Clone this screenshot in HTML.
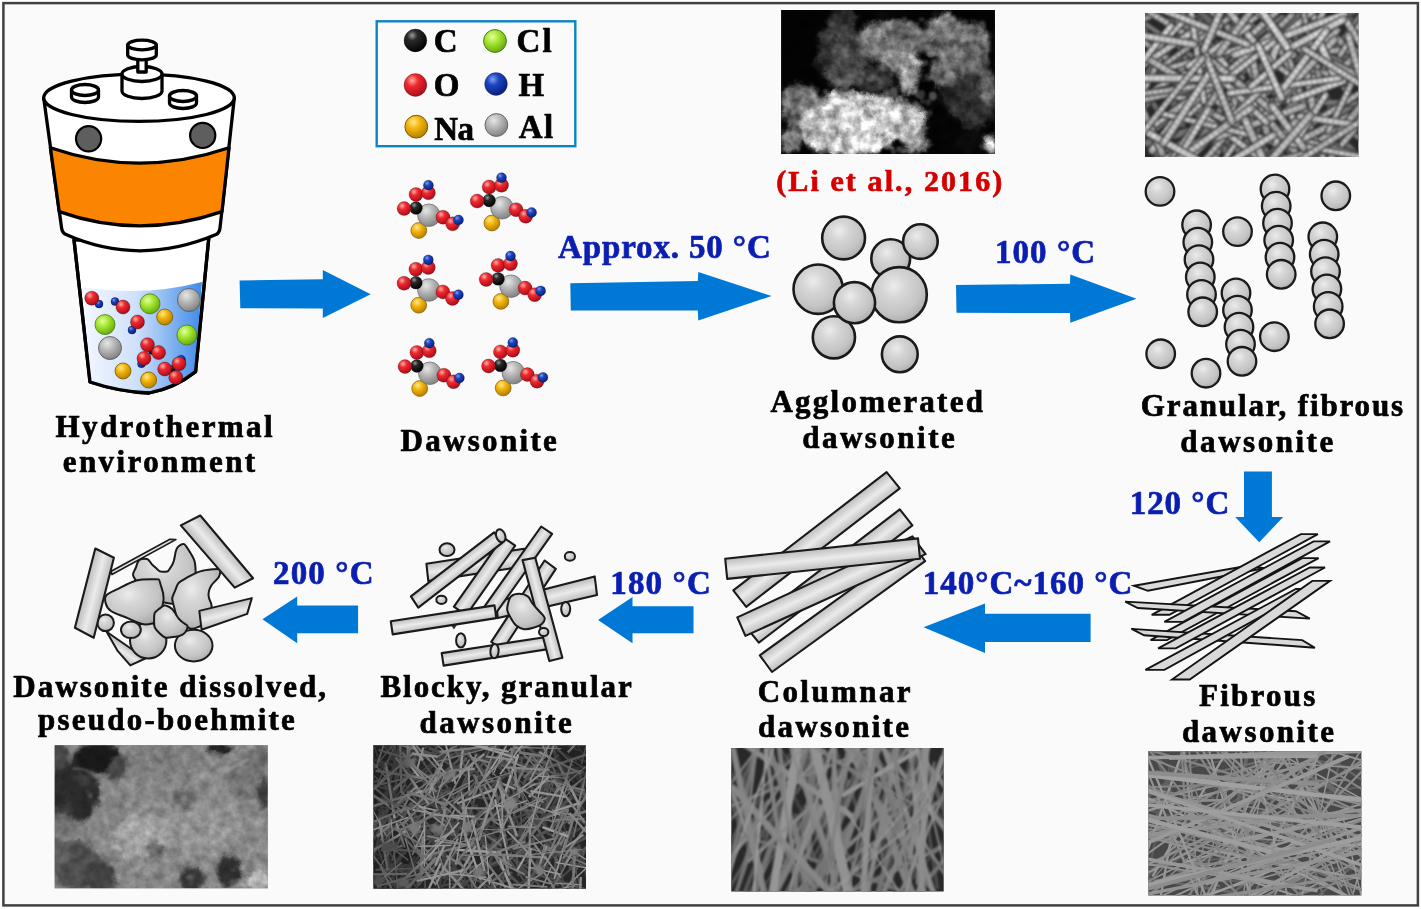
<!DOCTYPE html>
<html><head><meta charset="utf-8"><title>Dawsonite evolution</title>
<style>html,body{margin:0;padding:0;background:#ffffff;}svg{display:block;}</style></head>
<body>
<svg width="1421" height="909" viewBox="0 0 1421 909">

<defs>
<radialGradient id="gSph" cx="0.40" cy="0.34" r="0.72">
<stop offset="0" stop-color="#ececec"/><stop offset="0.3" stop-color="#d6d6d6"/><stop offset="0.7" stop-color="#c4c4c4"/><stop offset="1" stop-color="#a8a8a8"/></radialGradient>
<radialGradient id="bRed" cx="0.36" cy="0.30" r="0.75">
<stop offset="0" stop-color="#ffb0a8"/><stop offset="0.35" stop-color="#ee2a30"/><stop offset="1" stop-color="#a80818"/></radialGradient>
<radialGradient id="bBlue" cx="0.36" cy="0.30" r="0.75">
<stop offset="0" stop-color="#7fa0f0"/><stop offset="0.35" stop-color="#1c45c0"/><stop offset="1" stop-color="#061c78"/></radialGradient>
<radialGradient id="bBlack" cx="0.36" cy="0.28" r="0.75">
<stop offset="0" stop-color="#9a9a9a"/><stop offset="0.3" stop-color="#2a2a2a"/><stop offset="1" stop-color="#000000"/></radialGradient>
<radialGradient id="bGreen" cx="0.38" cy="0.32" r="0.75">
<stop offset="0" stop-color="#e4ff9a"/><stop offset="0.45" stop-color="#9ee22a"/><stop offset="1" stop-color="#5ea010"/></radialGradient>
<radialGradient id="bYel" cx="0.38" cy="0.30" r="0.75">
<stop offset="0" stop-color="#ffe890"/><stop offset="0.4" stop-color="#f2b408"/><stop offset="1" stop-color="#b07a00"/></radialGradient>
<radialGradient id="bGrey" cx="0.38" cy="0.30" r="0.75">
<stop offset="0" stop-color="#e6e6e6"/><stop offset="0.45" stop-color="#b4b4b4"/><stop offset="1" stop-color="#7c7c7c"/></radialGradient>
<linearGradient id="gRod" x1="0" y1="0" x2="0" y2="1">
<stop offset="0" stop-color="#bcbcbc"/><stop offset="0.5" stop-color="#e9e9e9"/><stop offset="1" stop-color="#bcbcbc"/></linearGradient>
<linearGradient id="gLiq" x1="0" y1="0" x2="1" y2="0">
<stop offset="0" stop-color="#f4f8ff"/><stop offset="0.45" stop-color="#cfe0fb"/><stop offset="1" stop-color="#3f8be8"/></linearGradient>
<filter id="blur1" color-interpolation-filters="sRGB" x="-10%" y="-10%" width="120%" height="120%"><feGaussianBlur stdDeviation="1" color-interpolation-filters="sRGB"/></filter>
<filter id="blur2" color-interpolation-filters="sRGB" x="-20%" y="-20%" width="140%" height="140%"><feGaussianBlur stdDeviation="2.2"/></filter>
<filter id="blur4" color-interpolation-filters="sRGB" x="-30%" y="-30%" width="160%" height="160%"><feGaussianBlur stdDeviation="4"/></filter>
<filter id="soft" color-interpolation-filters="sRGB" x="-2%" y="-2%" width="104%" height="104%"><feGaussianBlur stdDeviation="0.6"/></filter>
</defs>

<rect x="0" y="0" width="1421" height="909" fill="#ffffff"/>
<rect x="3.4" y="3.1" width="1414.5" height="902.3" fill="#fafafa" stroke="#424040" stroke-width="2.5"/>
<g font-family="'Liberation Serif', serif" font-weight="bold" filter="url(#soft)">
<text x="55.57" y="437.1" font-size="31" fill="#000" stroke="#000" stroke-width="0.7" stroke-linejoin="round" textLength="216.96" lengthAdjust="spacing">Hydrothermal</text>
<text x="62.74" y="472.3" font-size="31" fill="#000" stroke="#000" stroke-width="0.7" stroke-linejoin="round" textLength="192.40" lengthAdjust="spacing">environment</text>
<text x="400.46" y="450.7" font-size="31" fill="#000" stroke="#000" stroke-width="0.7" stroke-linejoin="round" textLength="156.35" lengthAdjust="spacing">Dawsonite</text>
<text x="770.40" y="412.0" font-size="31" fill="#000" stroke="#000" stroke-width="0.7" stroke-linejoin="round" textLength="212.55" lengthAdjust="spacing">Agglomerated</text>
<text x="802.24" y="448.3" font-size="31" fill="#000" stroke="#000" stroke-width="0.7" stroke-linejoin="round" textLength="152.46" lengthAdjust="spacing">dawsonite</text>
<text x="1140.79" y="415.9" font-size="31" fill="#000" stroke="#000" stroke-width="0.7" stroke-linejoin="round" textLength="262.27" lengthAdjust="spacing">Granular, fibrous</text>
<text x="1180.34" y="451.7" font-size="31" fill="#000" stroke="#000" stroke-width="0.7" stroke-linejoin="round" textLength="152.86" lengthAdjust="spacing">dawsonite</text>
<text x="1199.07" y="705.8" font-size="31" fill="#000" stroke="#000" stroke-width="0.7" stroke-linejoin="round" textLength="116.29" lengthAdjust="spacing">Fibrous</text>
<text x="1181.94" y="741.6" font-size="31" fill="#000" stroke="#000" stroke-width="0.7" stroke-linejoin="round" textLength="152.16" lengthAdjust="spacing">dawsonite</text>
<text x="757.69" y="702.3" font-size="31" fill="#000" stroke="#000" stroke-width="0.7" stroke-linejoin="round" textLength="152.88" lengthAdjust="spacing">Columnar</text>
<text x="757.94" y="737.0" font-size="31" fill="#000" stroke="#000" stroke-width="0.7" stroke-linejoin="round" textLength="151.06" lengthAdjust="spacing">dawsonite</text>
<text x="380.49" y="697.0" font-size="31" fill="#000" stroke="#000" stroke-width="0.7" stroke-linejoin="round" textLength="251.18" lengthAdjust="spacing">Blocky, granular</text>
<text x="419.44" y="732.5" font-size="31" fill="#000" stroke="#000" stroke-width="0.7" stroke-linejoin="round" textLength="152.36" lengthAdjust="spacing">dawsonite</text>
<text x="13.36" y="697.0" font-size="31" fill="#000" stroke="#000" stroke-width="0.7" stroke-linejoin="round" textLength="312.73" lengthAdjust="spacing">Dawsonite dissolved,</text>
<text x="38.11" y="730.0" font-size="31" fill="#000" stroke="#000" stroke-width="0.7" stroke-linejoin="round" textLength="256.70" lengthAdjust="spacing">pseudo-boehmite</text>
<text x="776.18" y="191.0" font-size="30" fill="#d40000" stroke="#d40000" stroke-width="0.7" stroke-linejoin="round" textLength="226.14" lengthAdjust="spacing">(Li et al., 2016)</text>
<text x="558.08" y="258.0" font-size="33" fill="#0a1eb2" stroke="#0a1eb2" stroke-width="0.7" stroke-linejoin="round" textLength="212.64" lengthAdjust="spacing">Approx. 50 °C</text>
<text x="994.96" y="262.9" font-size="33" fill="#0a1eb2" stroke="#0a1eb2" stroke-width="0.7" stroke-linejoin="round" textLength="100.06" lengthAdjust="spacing">100 °C</text>
<text x="1129.66" y="513.6" font-size="33" fill="#0a1eb2" stroke="#0a1eb2" stroke-width="0.7" stroke-linejoin="round" textLength="99.66" lengthAdjust="spacing">120 °C</text>
<text x="922.66" y="593.9" font-size="33" fill="#0a1eb2" stroke="#0a1eb2" stroke-width="0.7" stroke-linejoin="round" textLength="209.66" lengthAdjust="spacing">140°C~160 °C</text>
<text x="610.26" y="594.0" font-size="33" fill="#0a1eb2" stroke="#0a1eb2" stroke-width="0.7" stroke-linejoin="round" textLength="100.46" lengthAdjust="spacing">180 °C</text>
<text x="273.01" y="583.6" font-size="33" fill="#0a1eb2" stroke="#0a1eb2" stroke-width="0.7" stroke-linejoin="round" textLength="100.50" lengthAdjust="spacing">200 °C</text>
<text x="433.69" y="52.0" font-size="33" fill="#000" stroke="#000" stroke-width="0.7" stroke-linejoin="round" textLength="21.10" lengthAdjust="spacing">C</text>
<text x="516.39" y="52.0" font-size="33" fill="#000" stroke="#000" stroke-width="0.7" stroke-linejoin="round" textLength="35.18" lengthAdjust="spacing">Cl</text>
<text x="433.69" y="96.0" font-size="33" fill="#000" stroke="#000" stroke-width="0.7" stroke-linejoin="round" textLength="23.20" lengthAdjust="spacing">O</text>
<text x="518.44" y="96.0" font-size="33" fill="#000" stroke="#000" stroke-width="0.7" stroke-linejoin="round" textLength="23.00" lengthAdjust="spacing">H</text>
<text x="434.37" y="140.0" font-size="33" fill="#000" stroke="#000" stroke-width="0.7" stroke-linejoin="round" textLength="39.63" lengthAdjust="spacing">Na</text>
<text x="518.68" y="138.0" font-size="33" fill="#000" stroke="#000" stroke-width="0.7" stroke-linejoin="round" textLength="34.39" lengthAdjust="spacing">Al</text>
</g>
<g filter="url(#soft)">
<polygon points="239.6,280.5 322.8,279.3 322.8,270.1 370.7,294.2 322.8,317.9 322.8,308.4 240.3,308.2" fill="#0078d6" />
<polygon points="570.3,283.3 697.8,281.1 698.3,272.0 771.6,296.0 698.3,320.5 697.8,310.4 570.8,310.4" fill="#0078d6" />
<polygon points="956.0,285.0 1070.0,283.8 1070.3,274.4 1136.5,298.8 1070.3,322.7 1070.0,313.1 956.5,312.8" fill="#0078d6" />
<polygon points="1244.0,471.4 1271.9,471.4 1271.9,517.0 1283.2,517.0 1259.2,542.2 1235.2,517.0 1244.0,517.0" fill="#0078d6" />
<polygon points="1090.6,613.7 985.0,613.7 985.0,603.4 923.5,627.3 985.0,652.9 985.0,642.0 1090.6,642.0" fill="#0078d6" />
<polygon points="693.5,606.3 632.5,606.3 632.5,597.0 598.0,620.0 632.5,643.2 632.5,633.3 693.5,633.3" fill="#0078d6" />
<polygon points="358.1,605.6 297.2,605.6 297.2,596.4 262.4,619.2 297.2,643.2 297.2,633.3 358.1,633.3" fill="#0078d6" />
</g>
<rect x="376.7" y="21.3" width="198.6" height="124.9" fill="none" stroke="#0a84c4" stroke-width="2.4"/>
<circle cx="415.4" cy="40.5" r="11.4" fill="url(#bBlack)" stroke="#00000055" stroke-width="0.7"/>
<circle cx="495.0" cy="41.0" r="11.4" fill="url(#bGreen)" stroke="#4a7a10" stroke-width="1"/>
<circle cx="415.4" cy="85.0" r="11.4" fill="url(#bRed)" stroke="#00000055" stroke-width="0.7"/>
<circle cx="496.0" cy="84.0" r="11.4" fill="url(#bBlue)" stroke="#00000055" stroke-width="0.7"/>
<circle cx="416.3" cy="126.7" r="11.4" fill="url(#bYel)" stroke="#7a5a00" stroke-width="1"/>
<circle cx="496.4" cy="125.0" r="11.4" fill="url(#bGrey)" stroke="#666" stroke-width="1"/>
<g stroke="#000" stroke-width="3.3" stroke-linejoin="round" stroke-linecap="round" filter="url(#soft)">
<path d="M74,240 L90,382 Q120,392 149,393 Q175,388 195.6,371.6 L208.8,238 Z" fill="#ffffff"/>
<path d="M82.6,287 Q144,297 202,282 L195,371 Q175,387 149,391.5 Q120,391 90.8,381 Z" fill="url(#gLiq)" stroke="none"/>
<path d="M74,240 L90,382 Q120,392 149,393 Q175,388 195.6,371.6 L208.8,238" fill="none"/>
<path d="M43.7,98 L61.6,228 Q62.2,233 66,234.6 Q139,267 216,234.6 Q219.4,233 220,228 L234.3,98 Z" fill="#ffffff"/>
<path d="M50.4,147.8 Q139,178.4 229,147.8 L222,211.6 Q139,240 59.2,211.6 Z" fill="#fb8400"/>
<ellipse cx="139" cy="97.8" rx="95.3" ry="23.6" fill="#ffffff"/>
<circle cx="88.6" cy="138.8" r="12.6" fill="#5e5e5e" stroke-width="2.2"/>
<circle cx="202.7" cy="135.4" r="12.6" fill="#5e5e5e" stroke-width="2.2"/>
<path d="M71.5,90 L71.5,97 A13.5,5.5 0 0 0 98.5,97 L98.5,90 Z" fill="#fff"/>
<ellipse cx="85" cy="90" rx="13.5" ry="5.5" fill="#fff"/>
<path d="M169.5,96 L169.5,103 A13.5,5.5 0 0 0 196.5,103 L196.5,96 Z" fill="#fff"/>
<ellipse cx="183" cy="96" rx="13.5" ry="5.5" fill="#fff"/>
<path d="M122,74 L122,91 A20,7.5 0 0 0 162,91 L162,74 Z" fill="#fff"/>
<ellipse cx="142" cy="74" rx="20" ry="7.5" fill="#fff"/>
<path d="M137.8,54 L137.8,72 L146.2,72 L146.2,54 Z" fill="#fff"/>
<path d="M127.7,45 L127.7,55 A14.3,4.8 0 0 0 156.3,55 L156.3,45 Z" fill="#fff"/>
<ellipse cx="142" cy="45" rx="14.3" ry="4.8" fill="#fff"/>
</g>
<g filter="url(#soft)">
<circle cx="99.0" cy="304.0" r="4.0" fill="url(#bBlue)" stroke="#00000066" stroke-width="0.8"/>
<circle cx="91.8" cy="298.2" r="7.0" fill="url(#bRed)" stroke="#00000066" stroke-width="0.8"/>
<circle cx="115.0" cy="301.6" r="4.0" fill="url(#bBlue)" stroke="#00000066" stroke-width="0.8"/>
<circle cx="123.0" cy="307.0" r="7.0" fill="url(#bRed)" stroke="#00000066" stroke-width="0.8"/>
<circle cx="150.0" cy="303.8" r="10.0" fill="url(#bGreen)" stroke="#4a7a10" stroke-width="0.8"/>
<circle cx="189.0" cy="300.0" r="11.5" fill="url(#bGrey)" stroke="#555" stroke-width="0.8"/>
<circle cx="105.0" cy="324.6" r="10.0" fill="url(#bGreen)" stroke="#4a7a10" stroke-width="0.8"/>
<circle cx="132.0" cy="330.0" r="4.0" fill="url(#bBlue)" stroke="#00000066" stroke-width="0.8"/>
<circle cx="137.5" cy="322.0" r="7.0" fill="url(#bRed)" stroke="#00000066" stroke-width="0.8"/>
<circle cx="164.7" cy="317.0" r="8.0" fill="url(#bYel)" stroke="#7a5a00" stroke-width="0.8"/>
<circle cx="186.9" cy="335.0" r="10.0" fill="url(#bGreen)" stroke="#4a7a10" stroke-width="0.8"/>
<circle cx="110.0" cy="348.0" r="11.5" fill="url(#bGrey)" stroke="#555" stroke-width="0.8"/>
<circle cx="141.5" cy="363.7" r="4.0" fill="url(#bBlue)" stroke="#00000066" stroke-width="0.8"/>
<circle cx="152.0" cy="351.0" r="3.5" fill="url(#bBlack)" stroke="#00000066" stroke-width="0.8"/>
<circle cx="147.5" cy="344.7" r="7.0" fill="url(#bRed)" stroke="#00000066" stroke-width="0.8"/>
<circle cx="158.6" cy="352.6" r="7.0" fill="url(#bRed)" stroke="#00000066" stroke-width="0.8"/>
<circle cx="144.0" cy="358.4" r="7.0" fill="url(#bRed)" stroke="#00000066" stroke-width="0.8"/>
<circle cx="181.0" cy="359.7" r="4.5" fill="url(#bBlue)" stroke="#00000066" stroke-width="0.8"/>
<circle cx="172.0" cy="369.0" r="3.5" fill="url(#bBlack)" stroke="#00000066" stroke-width="0.8"/>
<circle cx="179.0" cy="363.7" r="7.0" fill="url(#bRed)" stroke="#00000066" stroke-width="0.8"/>
<circle cx="164.7" cy="369.0" r="7.0" fill="url(#bRed)" stroke="#00000066" stroke-width="0.8"/>
<circle cx="175.8" cy="377.4" r="7.0" fill="url(#bRed)" stroke="#00000066" stroke-width="0.8"/>
<circle cx="123.0" cy="371.0" r="8.0" fill="url(#bYel)" stroke="#7a5a00" stroke-width="0.8"/>
<circle cx="148.6" cy="380.0" r="8.0" fill="url(#bYel)" stroke="#7a5a00" stroke-width="0.8"/>
</g>
<g filter="url(#soft)">
<circle cx="418.8" cy="230.5" r="7.9" fill="url(#bYel)" stroke="#7a5a00" stroke-width="0.7"/>
<circle cx="428.9" cy="215.3" r="11.3" fill="url(#bGrey)" stroke="#6a6a6a" stroke-width="0.7"/>
<circle cx="416.0" cy="208.0" r="6.4" fill="url(#bBlack)" stroke="#00000055" stroke-width="0.7"/>
<circle cx="404.1" cy="208.6" r="7.0" fill="url(#bRed)" stroke="#00000055" stroke-width="0.7"/>
<circle cx="416.0" cy="194.5" r="7.0" fill="url(#bRed)" stroke="#00000055" stroke-width="0.7"/>
<circle cx="428.4" cy="192.8" r="7.0" fill="url(#bRed)" stroke="#00000055" stroke-width="0.7"/>
<circle cx="428.4" cy="185.2" r="5.0" fill="url(#bBlue)" stroke="#00000055" stroke-width="0.7"/>
<circle cx="443.0" cy="217.2" r="7.0" fill="url(#bRed)" stroke="#00000055" stroke-width="0.7"/>
<circle cx="452.6" cy="223.8" r="7.0" fill="url(#bRed)" stroke="#00000055" stroke-width="0.7"/>
<circle cx="458.5" cy="220.0" r="5.0" fill="url(#bBlue)" stroke="#00000055" stroke-width="0.7"/>
<circle cx="491.9" cy="223.0" r="7.9" fill="url(#bYel)" stroke="#7a5a00" stroke-width="0.7"/>
<circle cx="502.0" cy="207.8" r="11.3" fill="url(#bGrey)" stroke="#6a6a6a" stroke-width="0.7"/>
<circle cx="489.1" cy="200.5" r="6.4" fill="url(#bBlack)" stroke="#00000055" stroke-width="0.7"/>
<circle cx="477.2" cy="201.1" r="7.0" fill="url(#bRed)" stroke="#00000055" stroke-width="0.7"/>
<circle cx="489.1" cy="187.0" r="7.0" fill="url(#bRed)" stroke="#00000055" stroke-width="0.7"/>
<circle cx="501.5" cy="185.3" r="7.0" fill="url(#bRed)" stroke="#00000055" stroke-width="0.7"/>
<circle cx="501.5" cy="177.7" r="5.0" fill="url(#bBlue)" stroke="#00000055" stroke-width="0.7"/>
<circle cx="516.1" cy="209.7" r="7.0" fill="url(#bRed)" stroke="#00000055" stroke-width="0.7"/>
<circle cx="525.7" cy="216.3" r="7.0" fill="url(#bRed)" stroke="#00000055" stroke-width="0.7"/>
<circle cx="531.6" cy="212.5" r="5.0" fill="url(#bBlue)" stroke="#00000055" stroke-width="0.7"/>
<circle cx="418.7" cy="305.2" r="7.9" fill="url(#bYel)" stroke="#7a5a00" stroke-width="0.7"/>
<circle cx="428.8" cy="290.0" r="11.3" fill="url(#bGrey)" stroke="#6a6a6a" stroke-width="0.7"/>
<circle cx="415.9" cy="282.7" r="6.4" fill="url(#bBlack)" stroke="#00000055" stroke-width="0.7"/>
<circle cx="404.0" cy="283.3" r="7.0" fill="url(#bRed)" stroke="#00000055" stroke-width="0.7"/>
<circle cx="415.9" cy="269.2" r="7.0" fill="url(#bRed)" stroke="#00000055" stroke-width="0.7"/>
<circle cx="428.3" cy="267.5" r="7.0" fill="url(#bRed)" stroke="#00000055" stroke-width="0.7"/>
<circle cx="428.3" cy="259.9" r="5.0" fill="url(#bBlue)" stroke="#00000055" stroke-width="0.7"/>
<circle cx="442.9" cy="291.9" r="7.0" fill="url(#bRed)" stroke="#00000055" stroke-width="0.7"/>
<circle cx="452.5" cy="298.5" r="7.0" fill="url(#bRed)" stroke="#00000055" stroke-width="0.7"/>
<circle cx="458.4" cy="294.7" r="5.0" fill="url(#bBlue)" stroke="#00000055" stroke-width="0.7"/>
<circle cx="500.9" cy="301.4" r="7.9" fill="url(#bYel)" stroke="#7a5a00" stroke-width="0.7"/>
<circle cx="511.0" cy="286.2" r="11.3" fill="url(#bGrey)" stroke="#6a6a6a" stroke-width="0.7"/>
<circle cx="498.1" cy="278.9" r="6.4" fill="url(#bBlack)" stroke="#00000055" stroke-width="0.7"/>
<circle cx="486.2" cy="279.5" r="7.0" fill="url(#bRed)" stroke="#00000055" stroke-width="0.7"/>
<circle cx="498.1" cy="265.4" r="7.0" fill="url(#bRed)" stroke="#00000055" stroke-width="0.7"/>
<circle cx="510.5" cy="263.7" r="7.0" fill="url(#bRed)" stroke="#00000055" stroke-width="0.7"/>
<circle cx="510.5" cy="256.1" r="5.0" fill="url(#bBlue)" stroke="#00000055" stroke-width="0.7"/>
<circle cx="525.1" cy="288.1" r="7.0" fill="url(#bRed)" stroke="#00000055" stroke-width="0.7"/>
<circle cx="534.7" cy="294.7" r="7.0" fill="url(#bRed)" stroke="#00000055" stroke-width="0.7"/>
<circle cx="540.6" cy="290.9" r="5.0" fill="url(#bBlue)" stroke="#00000055" stroke-width="0.7"/>
<circle cx="419.7" cy="388.5" r="7.9" fill="url(#bYel)" stroke="#7a5a00" stroke-width="0.7"/>
<circle cx="429.8" cy="373.3" r="11.3" fill="url(#bGrey)" stroke="#6a6a6a" stroke-width="0.7"/>
<circle cx="416.9" cy="366.0" r="6.4" fill="url(#bBlack)" stroke="#00000055" stroke-width="0.7"/>
<circle cx="405.0" cy="366.6" r="7.0" fill="url(#bRed)" stroke="#00000055" stroke-width="0.7"/>
<circle cx="416.9" cy="352.5" r="7.0" fill="url(#bRed)" stroke="#00000055" stroke-width="0.7"/>
<circle cx="429.3" cy="350.8" r="7.0" fill="url(#bRed)" stroke="#00000055" stroke-width="0.7"/>
<circle cx="429.3" cy="343.2" r="5.0" fill="url(#bBlue)" stroke="#00000055" stroke-width="0.7"/>
<circle cx="443.9" cy="375.2" r="7.0" fill="url(#bRed)" stroke="#00000055" stroke-width="0.7"/>
<circle cx="453.5" cy="381.8" r="7.0" fill="url(#bRed)" stroke="#00000055" stroke-width="0.7"/>
<circle cx="459.4" cy="378.0" r="5.0" fill="url(#bBlue)" stroke="#00000055" stroke-width="0.7"/>
<circle cx="503.2" cy="387.9" r="7.9" fill="url(#bYel)" stroke="#7a5a00" stroke-width="0.7"/>
<circle cx="513.3" cy="372.7" r="11.3" fill="url(#bGrey)" stroke="#6a6a6a" stroke-width="0.7"/>
<circle cx="500.4" cy="365.4" r="6.4" fill="url(#bBlack)" stroke="#00000055" stroke-width="0.7"/>
<circle cx="488.5" cy="366.0" r="7.0" fill="url(#bRed)" stroke="#00000055" stroke-width="0.7"/>
<circle cx="500.4" cy="351.9" r="7.0" fill="url(#bRed)" stroke="#00000055" stroke-width="0.7"/>
<circle cx="512.8" cy="350.2" r="7.0" fill="url(#bRed)" stroke="#00000055" stroke-width="0.7"/>
<circle cx="512.8" cy="342.6" r="5.0" fill="url(#bBlue)" stroke="#00000055" stroke-width="0.7"/>
<circle cx="527.4" cy="374.6" r="7.0" fill="url(#bRed)" stroke="#00000055" stroke-width="0.7"/>
<circle cx="537.0" cy="381.2" r="7.0" fill="url(#bRed)" stroke="#00000055" stroke-width="0.7"/>
<circle cx="542.9" cy="377.4" r="5.0" fill="url(#bBlue)" stroke="#00000055" stroke-width="0.7"/>
</g>
<g filter="url(#soft)">
<circle cx="890.7" cy="258.7" r="19.4" fill="url(#gSph)" stroke="#1a1a1a" stroke-width="2.6"/>
<circle cx="920.4" cy="241.6" r="17.3" fill="url(#gSph)" stroke="#1a1a1a" stroke-width="2.6"/>
<circle cx="843.6" cy="238.0" r="21.4" fill="url(#gSph)" stroke="#1a1a1a" stroke-width="2.6"/>
<circle cx="818.2" cy="289.2" r="24.7" fill="url(#gSph)" stroke="#1a1a1a" stroke-width="2.6"/>
<circle cx="833.9" cy="337.3" r="21.1" fill="url(#gSph)" stroke="#1a1a1a" stroke-width="2.6"/>
<circle cx="899.2" cy="294.7" r="27.6" fill="url(#gSph)" stroke="#1a1a1a" stroke-width="2.6"/>
<circle cx="854.5" cy="302.7" r="20.6" fill="url(#gSph)" stroke="#1a1a1a" stroke-width="2.6"/>
<circle cx="899.8" cy="354.3" r="17.9" fill="url(#gSph)" stroke="#1a1a1a" stroke-width="2.6"/>
<circle cx="1160.0" cy="191.4" r="14.3" fill="url(#gSph)" stroke="#1a1a1a" stroke-width="2.3"/>
<circle cx="1335.8" cy="195.8" r="14.3" fill="url(#gSph)" stroke="#1a1a1a" stroke-width="2.3"/>
<circle cx="1237.5" cy="231.6" r="14.3" fill="url(#gSph)" stroke="#1a1a1a" stroke-width="2.3"/>
<circle cx="1274.4" cy="336.7" r="14.3" fill="url(#gSph)" stroke="#1a1a1a" stroke-width="2.3"/>
<circle cx="1160.7" cy="353.8" r="14.3" fill="url(#gSph)" stroke="#1a1a1a" stroke-width="2.3"/>
<circle cx="1206.0" cy="373.2" r="14.3" fill="url(#gSph)" stroke="#1a1a1a" stroke-width="2.3"/>
<circle cx="1196.6" cy="224.8" r="14.3" fill="url(#gSph)" stroke="#1a1a1a" stroke-width="2.3"/>
<circle cx="1197.8" cy="242.2" r="14.3" fill="url(#gSph)" stroke="#1a1a1a" stroke-width="2.3"/>
<circle cx="1199.0" cy="259.6" r="14.3" fill="url(#gSph)" stroke="#1a1a1a" stroke-width="2.3"/>
<circle cx="1200.3" cy="277.0" r="14.3" fill="url(#gSph)" stroke="#1a1a1a" stroke-width="2.3"/>
<circle cx="1201.5" cy="294.4" r="14.3" fill="url(#gSph)" stroke="#1a1a1a" stroke-width="2.3"/>
<circle cx="1202.7" cy="311.8" r="14.3" fill="url(#gSph)" stroke="#1a1a1a" stroke-width="2.3"/>
<circle cx="1236.0" cy="293.0" r="14.3" fill="url(#gSph)" stroke="#1a1a1a" stroke-width="2.3"/>
<circle cx="1237.5" cy="310.1" r="14.3" fill="url(#gSph)" stroke="#1a1a1a" stroke-width="2.3"/>
<circle cx="1239.0" cy="327.1" r="14.3" fill="url(#gSph)" stroke="#1a1a1a" stroke-width="2.3"/>
<circle cx="1240.5" cy="344.2" r="14.3" fill="url(#gSph)" stroke="#1a1a1a" stroke-width="2.3"/>
<circle cx="1242.0" cy="361.3" r="14.3" fill="url(#gSph)" stroke="#1a1a1a" stroke-width="2.3"/>
<circle cx="1275.0" cy="189.0" r="14.3" fill="url(#gSph)" stroke="#1a1a1a" stroke-width="2.3"/>
<circle cx="1276.2" cy="206.1" r="14.3" fill="url(#gSph)" stroke="#1a1a1a" stroke-width="2.3"/>
<circle cx="1277.5" cy="223.1" r="14.3" fill="url(#gSph)" stroke="#1a1a1a" stroke-width="2.3"/>
<circle cx="1278.7" cy="240.2" r="14.3" fill="url(#gSph)" stroke="#1a1a1a" stroke-width="2.3"/>
<circle cx="1280.0" cy="257.2" r="14.3" fill="url(#gSph)" stroke="#1a1a1a" stroke-width="2.3"/>
<circle cx="1281.2" cy="274.3" r="14.3" fill="url(#gSph)" stroke="#1a1a1a" stroke-width="2.3"/>
<circle cx="1322.8" cy="236.8" r="14.3" fill="url(#gSph)" stroke="#1a1a1a" stroke-width="2.3"/>
<circle cx="1324.2" cy="254.2" r="14.3" fill="url(#gSph)" stroke="#1a1a1a" stroke-width="2.3"/>
<circle cx="1325.5" cy="271.6" r="14.3" fill="url(#gSph)" stroke="#1a1a1a" stroke-width="2.3"/>
<circle cx="1326.9" cy="289.0" r="14.3" fill="url(#gSph)" stroke="#1a1a1a" stroke-width="2.3"/>
<circle cx="1328.2" cy="306.4" r="14.3" fill="url(#gSph)" stroke="#1a1a1a" stroke-width="2.3"/>
<circle cx="1329.6" cy="323.8" r="14.3" fill="url(#gSph)" stroke="#1a1a1a" stroke-width="2.3"/>
</g>
<g filter="url(#soft)">
<polygon points="1134.0,585.7 1247.8,565.7 1264.3,568.2 1147.9,590.8" fill="#d9d9d9" stroke="#141414" stroke-width="1.9" stroke-linejoin="miter"/>
<polygon points="1302.2,558.1 1318.6,558.1 1166.9,640.1 1150.5,640.1" fill="#d9d9d9" stroke="#141414" stroke-width="1.9" stroke-linejoin="miter"/>
<polygon points="1300.9,534.1 1317.9,534.1 1169.4,614.8 1151.7,614.8" fill="#d9d9d9" stroke="#141414" stroke-width="1.9" stroke-linejoin="miter"/>
<polygon points="1125.2,601.6 1295.9,611.2 1309.8,618.6 1137.8,608.0" fill="#d9d9d9" stroke="#141414" stroke-width="1.9" stroke-linejoin="miter"/>
<polygon points="1131.5,628.9 1302.2,640.1 1314.9,647.7 1144.1,635.3" fill="#d9d9d9" stroke="#141414" stroke-width="1.9" stroke-linejoin="miter"/>
<polygon points="1313.6,541.4 1330.0,541.4 1183.3,621.9 1164.4,621.9" fill="#d9d9d9" stroke="#141414" stroke-width="1.9" stroke-linejoin="miter"/>
<polygon points="1309.8,567.5 1325.0,567.5 1175.8,648.4 1158.1,648.4" fill="#d9d9d9" stroke="#141414" stroke-width="1.9" stroke-linejoin="miter"/>
<polygon points="1295.9,589.0 1311.1,589.0 1164.4,669.9 1145.4,669.9" fill="#d9d9d9" stroke="#141414" stroke-width="1.9" stroke-linejoin="miter"/>
<polygon points="1312.3,580.9 1330.0,580.9 1189.7,679.5 1172.0,679.5" fill="#d9d9d9" stroke="#141414" stroke-width="1.9" stroke-linejoin="miter"/>
</g>
<g filter="url(#soft)">
<linearGradient id="rg1" gradientUnits="userSpaceOnUse" x1="823.2" y1="568.0" x2="835.5" y2="584.1"><stop offset="0" stop-color="#bdbdbd"/><stop offset="0.5" stop-color="#ebebeb"/><stop offset="1" stop-color="#bdbdbd"/></linearGradient>
<polygon points="746.2,627.0 899.8,509.3 912.4,525.3 758.8,642.7" fill="url(#rg1)" stroke="#1a1a1a" stroke-width="2.1" stroke-linejoin="round" />
<linearGradient id="rg2" gradientUnits="userSpaceOnUse" x1="836.5" y1="599.9" x2="848.5" y2="616.6"><stop offset="0" stop-color="#bdbdbd"/><stop offset="0.5" stop-color="#ebebeb"/><stop offset="1" stop-color="#bdbdbd"/></linearGradient>
<polygon points="759.8,655.3 913.1,544.5 925.1,561.2 772.0,672.0" fill="url(#rg2)" stroke="#1a1a1a" stroke-width="2.1" stroke-linejoin="round" />
<linearGradient id="rg3" gradientUnits="userSpaceOnUse" x1="825.8" y1="576.5" x2="834.5" y2="595.4"><stop offset="0" stop-color="#bdbdbd"/><stop offset="0.5" stop-color="#ebebeb"/><stop offset="1" stop-color="#bdbdbd"/></linearGradient>
<polygon points="737.3,617.4 912.4,536.4 925.6,554.1 745.4,635.9" fill="url(#rg3)" stroke="#1a1a1a" stroke-width="2.1" stroke-linejoin="round" />
<linearGradient id="rg4" gradientUnits="userSpaceOnUse" x1="810.1" y1="531.1" x2="822.8" y2="547.7"><stop offset="0" stop-color="#bdbdbd"/><stop offset="0.5" stop-color="#ebebeb"/><stop offset="1" stop-color="#bdbdbd"/></linearGradient>
<polygon points="733.3,590.3 886.6,472.1 899.8,488.3 746.2,606.8" fill="url(#rg4)" stroke="#1a1a1a" stroke-width="2.1" stroke-linejoin="round" />
<linearGradient id="rg5" gradientUnits="userSpaceOnUse" x1="821.5" y1="548.6" x2="823.7" y2="568.8"><stop offset="0" stop-color="#bdbdbd"/><stop offset="0.5" stop-color="#ebebeb"/><stop offset="1" stop-color="#bdbdbd"/></linearGradient>
<polygon points="725.2,558.7 918.0,538.4 920.0,558.7 727.2,578.9" fill="url(#rg5)" stroke="#1a1a1a" stroke-width="2.1" stroke-linejoin="round" />
</g>
<g filter="url(#soft)">
<linearGradient id="rg6" gradientUnits="userSpaceOnUse" x1="474.8" y1="556.3" x2="477.5" y2="573.5"><stop offset="0" stop-color="#bdbdbd"/><stop offset="0.5" stop-color="#ebebeb"/><stop offset="1" stop-color="#bdbdbd"/></linearGradient>
<polygon points="426.4,563.7 524.0,548.7 525.9,566.1 428.3,581.1" fill="url(#rg6)" stroke="#1a1a1a" stroke-width="2.1" stroke-linejoin="round" />
<linearGradient id="rg7" gradientUnits="userSpaceOnUse" x1="544.3" y1="589.3" x2="548.5" y2="606.4"><stop offset="0" stop-color="#bdbdbd"/><stop offset="0.5" stop-color="#ebebeb"/><stop offset="1" stop-color="#bdbdbd"/></linearGradient>
<polygon points="496.0,601.7 594.7,576.4 597.0,595.1 497.8,618.1" fill="url(#rg7)" stroke="#1a1a1a" stroke-width="2.1" stroke-linejoin="round" />
<linearGradient id="rg8" gradientUnits="userSpaceOnUse" x1="517.7" y1="601.6" x2="529.4" y2="609.2"><stop offset="0" stop-color="#bdbdbd"/><stop offset="0.5" stop-color="#ebebeb"/><stop offset="1" stop-color="#bdbdbd"/></linearGradient>
<polygon points="491.3,641.9 544.6,560.5 555.8,568.9 502.5,650.3" fill="url(#rg8)" stroke="#1a1a1a" stroke-width="2.1" stroke-linejoin="round" />
<linearGradient id="rg9" gradientUnits="userSpaceOnUse" x1="511.6" y1="568.2" x2="522.4" y2="575.8"><stop offset="0" stop-color="#bdbdbd"/><stop offset="0.5" stop-color="#ebebeb"/><stop offset="1" stop-color="#bdbdbd"/></linearGradient>
<polygon points="481.9,610.1 541.2,526.5 552.1,533.9 492.8,617.6" fill="url(#rg9)" stroke="#1a1a1a" stroke-width="2.1" stroke-linejoin="round" />
<linearGradient id="rg10" gradientUnits="userSpaceOnUse" x1="478.4" y1="571.9" x2="490.7" y2="580.6"><stop offset="0" stop-color="#bdbdbd"/><stop offset="0.5" stop-color="#ebebeb"/><stop offset="1" stop-color="#bdbdbd"/></linearGradient>
<polygon points="453.9,606.7 502.9,537.1 515.2,545.7 466.2,615.3" fill="url(#rg10)" stroke="#1a1a1a" stroke-width="2.1" stroke-linejoin="round" />
<linearGradient id="rg11" gradientUnits="userSpaceOnUse" x1="452.4" y1="564.5" x2="460.5" y2="575.1"><stop offset="0" stop-color="#bdbdbd"/><stop offset="0.5" stop-color="#ebebeb"/><stop offset="1" stop-color="#bdbdbd"/></linearGradient>
<polygon points="410.9,596.4 494.1,532.4 502.5,542.7 418.3,607.6" fill="url(#rg11)" stroke="#1a1a1a" stroke-width="2.1" stroke-linejoin="round" />
<ellipse cx="500.7" cy="535.8" rx="4.5" ry="6.7" transform="rotate(-20 500.7 535.8)" fill="url(#gSph)" stroke="#1a1a1a" stroke-width="2"/>
<linearGradient id="rg12" gradientUnits="userSpaceOnUse" x1="493.1" y1="645.2" x2="495.1" y2="657.5"><stop offset="0" stop-color="#bdbdbd"/><stop offset="0.5" stop-color="#ebebeb"/><stop offset="1" stop-color="#bdbdbd"/></linearGradient>
<polygon points="441.7,653.1 544.6,637.2 546.5,649.4 443.6,665.6" fill="url(#rg12)" stroke="#1a1a1a" stroke-width="2.1" stroke-linejoin="round" />
<ellipse cx="494.5" cy="651.2" rx="4.1" ry="7.1" transform="rotate(5 494.5 651.2)" fill="url(#gSph)" stroke="#1a1a1a" stroke-width="2"/>
<polygon points="450.9,624.9 456.9,624.9 453.9,629.4" fill="#333"/>
<linearGradient id="rg13" gradientUnits="userSpaceOnUse" x1="442.6" y1="613.4" x2="444.6" y2="626.2"><stop offset="0" stop-color="#bdbdbd"/><stop offset="0.5" stop-color="#ebebeb"/><stop offset="1" stop-color="#bdbdbd"/></linearGradient>
<polygon points="390.8,621.3 494.5,605.4 496.3,618.1 392.7,634.4" fill="url(#rg13)" stroke="#1a1a1a" stroke-width="2.1" stroke-linejoin="round" />
<linearGradient id="rg14" gradientUnits="userSpaceOnUse" x1="548.7" y1="607.5" x2="536.0" y2="610.9"><stop offset="0" stop-color="#bdbdbd"/><stop offset="0.5" stop-color="#ebebeb"/><stop offset="1" stop-color="#bdbdbd"/></linearGradient>
<polygon points="522.5,560.1 549.3,661.1 562.4,657.8 535.3,557.7" fill="url(#rg14)" stroke="#1a1a1a" stroke-width="2.1" stroke-linejoin="round" />
<path d="M508.1,603.5 C508.8,601.3 509.1,598.0 510.9,596.4 C512.8,594.8 516.6,593.8 519.4,593.8 C522.2,593.8 525.6,594.8 527.8,596.4 C530.0,598.0 530.6,601.1 532.5,603.5 C534.3,606.0 537.0,608.7 539.0,611.0 C541.0,613.3 544.1,615.4 544.6,617.6 C545.1,619.7 543.7,622.4 541.8,624.1 C539.9,625.8 536.3,627.0 533.4,627.8 C530.4,628.7 527.0,629.6 524.0,629.2 C521.1,628.7 518.0,627.1 515.6,625.0 C513.3,623.0 511.4,619.1 510.0,616.6 C508.6,614.1 507.5,612.3 507.2,610.1 C506.9,607.9 507.5,605.8 508.1,603.5 Z" fill="url(#gSph)" stroke="#1a1a1a" stroke-width="2.0" stroke-linejoin="round"/>
<ellipse cx="447.0" cy="549.7" rx="7.5" ry="6.4" transform="rotate(0 447.0 549.7)" fill="url(#gSph)" stroke="#1a1a1a" stroke-width="2"/>
<ellipse cx="441.4" cy="599.8" rx="5.1" ry="4.1" transform="rotate(0 441.4 599.8)" fill="url(#gSph)" stroke="#1a1a1a" stroke-width="2"/>
<ellipse cx="569.9" cy="556.4" rx="5.1" ry="4.3" transform="rotate(0 569.9 556.4)" fill="url(#gSph)" stroke="#1a1a1a" stroke-width="2"/>
<ellipse cx="565.7" cy="609.1" rx="4.5" ry="7.1" transform="rotate(0 565.7 609.1)" fill="url(#gSph)" stroke="#1a1a1a" stroke-width="2"/>
<ellipse cx="460.8" cy="640.4" rx="4.7" ry="7.1" transform="rotate(0 460.8 640.4)" fill="url(#gSph)" stroke="#1a1a1a" stroke-width="2"/>
<ellipse cx="543.7" cy="632.0" rx="4.7" ry="4.1" transform="rotate(0 543.7 632.0)" fill="url(#gSph)" stroke="#1a1a1a" stroke-width="2"/>
</g>
<g filter="url(#soft)">
<path d="M138.2,583.2 C129.0,572.2 134.2,573.7 136.3,566.4 C138.3,559.1 139.8,558.8 145.2,558.8 C150.5,558.8 148.7,562.5 154.1,566.4 C159.4,570.2 157.7,572.0 163.0,571.7 C168.4,571.4 167.2,573.1 171.9,565.4 C176.7,557.6 173.5,550.0 178.9,546.0 C184.2,541.9 184.7,543.7 189.8,551.9 C194.8,560.1 195.4,560.9 195.7,573.3 C196.0,585.7 199.4,584.2 190.7,593.1 C182.1,602.0 182.7,606.0 167.0,603.0 C151.2,600.0 147.5,594.2 138.2,583.2 Z" fill="url(#gSph)" stroke="#1a1a1a" stroke-width="2.0" stroke-linejoin="round"/>
<linearGradient id="rg15" gradientUnits="userSpaceOnUse" x1="128.2" y1="646.7" x2="120.2" y2="658.4"><stop offset="0" stop-color="#bdbdbd"/><stop offset="0.5" stop-color="#ebebeb"/><stop offset="1" stop-color="#bdbdbd"/></linearGradient>
<polygon points="106.6,631.7 145.2,658.5 130.3,665.4 117.4,650.6" fill="url(#rg15)" stroke="#1a1a1a" stroke-width="2.0" stroke-linejoin="round"/>
<ellipse cx="148.2" cy="640.6" rx="18.2" ry="17.8" transform="rotate(0 148.2 640.6)" fill="url(#gSph)" stroke="#1a1a1a" stroke-width="2"/>
<linearGradient id="rg16" gradientUnits="userSpaceOnUse" x1="143.0" y1="557.6" x2="141.4" y2="554.8"><stop offset="0" stop-color="#bdbdbd"/><stop offset="0.5" stop-color="#ebebeb"/><stop offset="1" stop-color="#bdbdbd"/></linearGradient>
<polygon points="111.1,571.3 169.9,539.2 175.9,539.6 111.9,574.5" fill="url(#rg16)" stroke="#1a1a1a" stroke-width="1.6" stroke-linejoin="round"/>
<path d="M105.6,603.0 C103.2,593.5 108.0,594.3 121.4,587.2 C134.8,580.0 138.1,579.2 150.1,579.2 C162.1,579.2 158.0,577.7 161.4,587.2 C164.8,596.7 163.9,600.1 161.4,610.9 C158.9,621.8 162.7,620.8 153.1,623.2 C143.5,625.6 143.6,624.9 129.3,618.9 C115.1,612.8 107.9,612.5 105.6,603.0 Z" fill="url(#gSph)" stroke="#1a1a1a" stroke-width="2.0" stroke-linejoin="round"/>
<path d="M174.9,591.1 C178.7,582.3 175.5,584.2 186.8,577.7 C198.1,571.1 202.7,570.2 212.5,569.3 C222.4,568.5 220.7,568.3 219.7,574.9 C218.6,581.4 211.6,580.3 209.0,591.1 C206.4,601.9 214.0,600.2 211.0,610.9 C207.9,621.6 207.1,623.1 198.7,626.8 C190.2,630.5 190.2,629.2 182.8,623.2 C175.5,617.3 176.5,616.6 174.1,607.0 C171.7,597.3 171.1,599.9 174.9,591.1 Z" fill="url(#gSph)" stroke="#1a1a1a" stroke-width="2.0" stroke-linejoin="round"/>
<ellipse cx="193.7" cy="645.6" rx="18.8" ry="15.8" transform="rotate(0 193.7 645.6)" fill="url(#gSph)" stroke="#1a1a1a" stroke-width="2"/>
<path d="M154.1,618.9 C154.1,611.7 154.5,612.5 159.0,609.0 C163.6,605.4 163.4,604.0 169.4,607.0 C175.3,609.9 173.5,612.3 178.9,618.9 C184.2,625.4 189.0,623.3 187.2,628.8 C185.4,634.2 181.4,635.9 172.9,637.1 C164.5,638.3 164.7,638.2 159.0,632.7 C153.4,627.3 154.1,626.0 154.1,618.9 Z" fill="url(#gSph)" stroke="#1a1a1a" stroke-width="2.0" stroke-linejoin="round"/>
<ellipse cx="105.6" cy="622.8" rx="8.3" ry="8.3" transform="rotate(0 105.6 622.8)" fill="url(#gSph)" stroke="#1a1a1a" stroke-width="2"/>
<ellipse cx="130.9" cy="629.8" rx="9.9" ry="8.3" transform="rotate(0 130.9 629.8)" fill="url(#gSph)" stroke="#1a1a1a" stroke-width="2"/>
<linearGradient id="rg17" gradientUnits="userSpaceOnUse" x1="223.0" y1="605.1" x2="227.5" y2="623.4"><stop offset="0" stop-color="#bdbdbd"/><stop offset="0.5" stop-color="#ebebeb"/><stop offset="1" stop-color="#bdbdbd"/></linearGradient>
<polygon points="199.3,610.9 251.8,598.1 247.2,613.9 201.6,629.8" fill="url(#rg17)" stroke="#1a1a1a" stroke-width="2.0" stroke-linejoin="round"/>
<linearGradient id="rg18" gradientUnits="userSpaceOnUse" x1="104.4" y1="595.5" x2="84.5" y2="590.4"><stop offset="0" stop-color="#bdbdbd"/><stop offset="0.5" stop-color="#ebebeb"/><stop offset="1" stop-color="#bdbdbd"/></linearGradient>
<polygon points="95.3,548.5 74.9,627.8 93.7,637.7 113.9,557.8" fill="url(#rg18)" stroke="#1a1a1a" stroke-width="2.1" stroke-linejoin="round" />
<linearGradient id="rg19" gradientUnits="userSpaceOnUse" x1="225.1" y1="545.0" x2="209.4" y2="558.4"><stop offset="0" stop-color="#bdbdbd"/><stop offset="0.5" stop-color="#ebebeb"/><stop offset="1" stop-color="#bdbdbd"/></linearGradient>
<polygon points="200.3,515.5 253.1,578.2 234.7,587.6 180.8,525.4" fill="url(#rg19)" stroke="#1a1a1a" stroke-width="2.1" stroke-linejoin="round" />
</g>
<svg x="1145.0" y="13.0" width="213.4" height="144.0" viewBox="0 0 213.4 144.0" overflow="hidden">
<rect x="-5" y="-5" width="223.4" height="154.0" fill="#282828"/>
<g filter="url(#blur1)">
<line x1="45.1" y1="160.7" x2="110.9" y2="107.9" stroke="#2a2a2a" stroke-width="8.5" stroke-linecap="round"/>
<line x1="45.1" y1="160.7" x2="110.9" y2="107.9" stroke="#747474" stroke-width="6.3" stroke-linecap="round"/>
<line x1="73.2" y1="2.4" x2="100.4" y2="93.5" stroke="#2a2a2a" stroke-width="7.7" stroke-linecap="round"/>
<line x1="73.2" y1="2.4" x2="100.4" y2="93.5" stroke="#717171" stroke-width="5.5" stroke-linecap="round"/>
<line x1="123.1" y1="93.8" x2="146.7" y2="183.1" stroke="#2a2a2a" stroke-width="8.3" stroke-linecap="round"/>
<line x1="123.1" y1="93.8" x2="146.7" y2="183.1" stroke="#737373" stroke-width="6.1" stroke-linecap="round"/>
<line x1="74.8" y1="97.0" x2="95.3" y2="143.0" stroke="#2a2a2a" stroke-width="7.6" stroke-linecap="round"/>
<line x1="74.8" y1="97.0" x2="95.3" y2="143.0" stroke="#767676" stroke-width="5.4" stroke-linecap="round"/>
<line x1="-5.9" y1="5.5" x2="26.7" y2="79.6" stroke="#2a2a2a" stroke-width="7.8" stroke-linecap="round"/>
<line x1="-5.9" y1="5.5" x2="26.7" y2="79.6" stroke="#707070" stroke-width="5.6" stroke-linecap="round"/>
<line x1="188.1" y1="-16.5" x2="233.3" y2="41.6" stroke="#2a2a2a" stroke-width="7.2" stroke-linecap="round"/>
<line x1="188.1" y1="-16.5" x2="233.3" y2="41.6" stroke="#6a6a6a" stroke-width="5.0" stroke-linecap="round"/>
<line x1="-12.4" y1="96.4" x2="28.9" y2="149.3" stroke="#2a2a2a" stroke-width="6.8" stroke-linecap="round"/>
<line x1="-12.4" y1="96.4" x2="28.9" y2="149.3" stroke="#7a7a7a" stroke-width="4.6" stroke-linecap="round"/>
<line x1="42.8" y1="161.9" x2="100.6" y2="111.5" stroke="#2a2a2a" stroke-width="7.7" stroke-linecap="round"/>
<line x1="42.8" y1="161.9" x2="100.6" y2="111.5" stroke="#707070" stroke-width="5.5" stroke-linecap="round"/>
<line x1="55.1" y1="86.5" x2="125.2" y2="93.3" stroke="#2a2a2a" stroke-width="8.3" stroke-linecap="round"/>
<line x1="55.1" y1="86.5" x2="125.2" y2="93.3" stroke="#707070" stroke-width="6.1" stroke-linecap="round"/>
<line x1="112.5" y1="61.2" x2="157.4" y2="-19.8" stroke="#2a2a2a" stroke-width="8.6" stroke-linecap="round"/>
<line x1="112.5" y1="61.2" x2="157.4" y2="-19.8" stroke="#6a6a6a" stroke-width="6.4" stroke-linecap="round"/>
<line x1="149.5" y1="42.5" x2="156.0" y2="94.2" stroke="#2a2a2a" stroke-width="7.6" stroke-linecap="round"/>
<line x1="149.5" y1="42.5" x2="156.0" y2="94.2" stroke="#6e6e6e" stroke-width="5.4" stroke-linecap="round"/>
<line x1="153.3" y1="131.5" x2="190.1" y2="156.2" stroke="#2a2a2a" stroke-width="7.2" stroke-linecap="round"/>
<line x1="153.3" y1="131.5" x2="190.1" y2="156.2" stroke="#656565" stroke-width="5.0" stroke-linecap="round"/>
<line x1="4.5" y1="133.3" x2="41.3" y2="103.6" stroke="#2a2a2a" stroke-width="8.3" stroke-linecap="round"/>
<line x1="4.5" y1="133.3" x2="41.3" y2="103.6" stroke="#7b7b7b" stroke-width="6.1" stroke-linecap="round"/>
<line x1="31.4" y1="56.5" x2="72.6" y2="30.9" stroke="#2a2a2a" stroke-width="8.5" stroke-linecap="round"/>
<line x1="31.4" y1="56.5" x2="72.6" y2="30.9" stroke="#7c7c7c" stroke-width="6.3" stroke-linecap="round"/>
<line x1="150.4" y1="20.7" x2="173.2" y2="-18.8" stroke="#2a2a2a" stroke-width="8.5" stroke-linecap="round"/>
<line x1="150.4" y1="20.7" x2="173.2" y2="-18.8" stroke="#686868" stroke-width="6.3" stroke-linecap="round"/>
<line x1="140.4" y1="122.0" x2="184.1" y2="98.4" stroke="#2a2a2a" stroke-width="7.6" stroke-linecap="round"/>
<line x1="140.4" y1="122.0" x2="184.1" y2="98.4" stroke="#707070" stroke-width="5.4" stroke-linecap="round"/>
<line x1="60.7" y1="-4.0" x2="117.0" y2="20.4" stroke="#2a2a2a" stroke-width="6.9" stroke-linecap="round"/>
<line x1="60.7" y1="-4.0" x2="117.0" y2="20.4" stroke="#6d6d6d" stroke-width="4.7" stroke-linecap="round"/>
<line x1="19.6" y1="-13.5" x2="79.3" y2="15.7" stroke="#2a2a2a" stroke-width="6.7" stroke-linecap="round"/>
<line x1="19.6" y1="-13.5" x2="79.3" y2="15.7" stroke="#6c6c6c" stroke-width="4.5" stroke-linecap="round"/>
<line x1="170.4" y1="64.1" x2="227.7" y2="-14.9" stroke="#2a2a2a" stroke-width="6.9" stroke-linecap="round"/>
<line x1="170.4" y1="64.1" x2="227.7" y2="-14.9" stroke="#7a7a7a" stroke-width="4.7" stroke-linecap="round"/>
<line x1="34.5" y1="96.5" x2="60.7" y2="58.3" stroke="#2a2a2a" stroke-width="7.2" stroke-linecap="round"/>
<line x1="34.5" y1="96.5" x2="60.7" y2="58.3" stroke="#646464" stroke-width="5.0" stroke-linecap="round"/>
<line x1="175.1" y1="41.7" x2="225.7" y2="110.4" stroke="#2a2a2a" stroke-width="8.3" stroke-linecap="round"/>
<line x1="175.1" y1="41.7" x2="225.7" y2="110.4" stroke="#797979" stroke-width="6.1" stroke-linecap="round"/>
<line x1="103.5" y1="90.0" x2="152.2" y2="63.4" stroke="#2a2a2a" stroke-width="7.0" stroke-linecap="round"/>
<line x1="103.5" y1="90.0" x2="152.2" y2="63.4" stroke="#7a7a7a" stroke-width="4.8" stroke-linecap="round"/>
<line x1="29.9" y1="164.6" x2="68.1" y2="118.9" stroke="#2a2a2a" stroke-width="7.3" stroke-linecap="round"/>
<line x1="29.9" y1="164.6" x2="68.1" y2="118.9" stroke="#777777" stroke-width="5.1" stroke-linecap="round"/>
<line x1="21.0" y1="33.3" x2="58.9" y2="10.1" stroke="#2a2a2a" stroke-width="8.6" stroke-linecap="round"/>
<line x1="21.0" y1="33.3" x2="58.9" y2="10.1" stroke="#737373" stroke-width="6.4" stroke-linecap="round"/>
<line x1="-21.1" y1="48.4" x2="22.5" y2="111.2" stroke="#2a2a2a" stroke-width="7.1" stroke-linecap="round"/>
<line x1="-21.1" y1="48.4" x2="22.5" y2="111.2" stroke="#6a6a6a" stroke-width="4.9" stroke-linecap="round"/>
<line x1="153.5" y1="39.6" x2="199.1" y2="0.1" stroke="#2a2a2a" stroke-width="7.8" stroke-linecap="round"/>
<line x1="153.5" y1="39.6" x2="199.1" y2="0.1" stroke="#7b7b7b" stroke-width="5.6" stroke-linecap="round"/>
<line x1="194.1" y1="122.1" x2="225.4" y2="93.3" stroke="#2a2a2a" stroke-width="8.1" stroke-linecap="round"/>
<line x1="194.1" y1="122.1" x2="225.4" y2="93.3" stroke="#7b7b7b" stroke-width="5.9" stroke-linecap="round"/>
<line x1="10.9" y1="147.2" x2="52.7" y2="118.2" stroke="#2a2a2a" stroke-width="8.6" stroke-linecap="round"/>
<line x1="10.9" y1="147.2" x2="52.7" y2="118.2" stroke="#737373" stroke-width="6.4" stroke-linecap="round"/>
<line x1="97.5" y1="105.2" x2="107.3" y2="161.8" stroke="#2a2a2a" stroke-width="7.7" stroke-linecap="round"/>
<line x1="97.5" y1="105.2" x2="107.3" y2="161.8" stroke="#686868" stroke-width="5.5" stroke-linecap="round"/>
<line x1="112.5" y1="-5.0" x2="197.9" y2="46.4" stroke="#2a2a2a" stroke-width="6.8" stroke-linecap="round"/>
<line x1="112.5" y1="-5.0" x2="197.9" y2="46.4" stroke="#646464" stroke-width="4.6" stroke-linecap="round"/>
<line x1="38.7" y1="39.6" x2="51.1" y2="89.5" stroke="#2a2a2a" stroke-width="7.6" stroke-linecap="round"/>
<line x1="38.7" y1="39.6" x2="51.1" y2="89.5" stroke="#7b7b7b" stroke-width="5.4" stroke-linecap="round"/>
<line x1="153.5" y1="132.2" x2="216.8" y2="84.8" stroke="#2a2a2a" stroke-width="8.0" stroke-linecap="round"/>
<line x1="153.5" y1="132.2" x2="216.8" y2="84.8" stroke="#717171" stroke-width="5.8" stroke-linecap="round"/>
<line x1="160.4" y1="20.3" x2="202.1" y2="61.2" stroke="#2a2a2a" stroke-width="7.1" stroke-linecap="round"/>
<line x1="160.4" y1="20.3" x2="202.1" y2="61.2" stroke="#696969" stroke-width="4.9" stroke-linecap="round"/>
<line x1="9.0" y1="60.2" x2="52.2" y2="-9.9" stroke="#2a2a2a" stroke-width="8.0" stroke-linecap="round"/>
<line x1="9.0" y1="60.2" x2="52.2" y2="-9.9" stroke="#6e6e6e" stroke-width="5.8" stroke-linecap="round"/>
<line x1="-24.5" y1="-6.3" x2="49.7" y2="44.9" stroke="#2a2a2a" stroke-width="6.7" stroke-linecap="round"/>
<line x1="-24.5" y1="-6.3" x2="49.7" y2="44.9" stroke="#737373" stroke-width="4.5" stroke-linecap="round"/>
<line x1="16.6" y1="32.7" x2="46.5" y2="1.4" stroke="#2a2a2a" stroke-width="8.0" stroke-linecap="round"/>
<line x1="16.6" y1="32.7" x2="46.5" y2="1.4" stroke="#6d6d6d" stroke-width="5.8" stroke-linecap="round"/>
<line x1="87.8" y1="67.2" x2="99.3" y2="123.0" stroke="#2a2a2a" stroke-width="7.2" stroke-linecap="round"/>
<line x1="87.8" y1="67.2" x2="99.3" y2="123.0" stroke="#6b6b6b" stroke-width="5.0" stroke-linecap="round"/>
<line x1="157.5" y1="18.9" x2="209.8" y2="-1.5" stroke="#2a2a2a" stroke-width="6.7" stroke-linecap="round"/>
<line x1="157.5" y1="18.9" x2="209.8" y2="-1.5" stroke="#6d6d6d" stroke-width="4.5" stroke-linecap="round"/>
<line x1="93.5" y1="97.6" x2="153.6" y2="138.8" stroke="#2a2a2a" stroke-width="7.2" stroke-linecap="round"/>
<line x1="93.5" y1="97.6" x2="153.6" y2="138.8" stroke="#7c7c7c" stroke-width="5.0" stroke-linecap="round"/>
<line x1="174.5" y1="76.6" x2="206.8" y2="37.2" stroke="#2a2a2a" stroke-width="7.4" stroke-linecap="round"/>
<line x1="174.5" y1="76.6" x2="206.8" y2="37.2" stroke="#666666" stroke-width="5.2" stroke-linecap="round"/>
<line x1="141.7" y1="114.6" x2="178.5" y2="77.9" stroke="#2a2a2a" stroke-width="7.7" stroke-linecap="round"/>
<line x1="141.7" y1="114.6" x2="178.5" y2="77.9" stroke="#646464" stroke-width="5.5" stroke-linecap="round"/>
<line x1="136.7" y1="84.9" x2="174.7" y2="54.5" stroke="#2a2a2a" stroke-width="7.9" stroke-linecap="round"/>
<line x1="136.7" y1="84.9" x2="174.7" y2="54.5" stroke="#6d6d6d" stroke-width="5.7" stroke-linecap="round"/>
<line x1="128.1" y1="31.5" x2="163.5" y2="-9.2" stroke="#2a2a2a" stroke-width="7.9" stroke-linecap="round"/>
<line x1="128.1" y1="31.5" x2="163.5" y2="-9.2" stroke="#717171" stroke-width="5.7" stroke-linecap="round"/>
<line x1="26.1" y1="65.2" x2="82.3" y2="140.0" stroke="#2a2a2a" stroke-width="8.3" stroke-linecap="round"/>
<line x1="26.1" y1="65.2" x2="82.3" y2="140.0" stroke="#727272" stroke-width="6.1" stroke-linecap="round"/>
<line x1="72.9" y1="-39.2" x2="127.6" y2="43.4" stroke="#2a2a2a" stroke-width="7.0" stroke-linecap="round"/>
<line x1="72.9" y1="-39.2" x2="127.6" y2="43.4" stroke="#767676" stroke-width="4.8" stroke-linecap="round"/>
<line x1="28.0" y1="92.8" x2="94.3" y2="32.8" stroke="#2a2a2a" stroke-width="8.1" stroke-linecap="round"/>
<line x1="28.0" y1="92.8" x2="94.3" y2="32.8" stroke="#707070" stroke-width="5.9" stroke-linecap="round"/>
<line x1="1.9" y1="30.9" x2="70.2" y2="87.5" stroke="#2a2a2a" stroke-width="7.0" stroke-linecap="round"/>
<line x1="1.9" y1="30.9" x2="70.2" y2="87.5" stroke="#717171" stroke-width="4.8" stroke-linecap="round"/>
<line x1="126.5" y1="66.1" x2="147.5" y2="152.3" stroke="#2a2a2a" stroke-width="6.7" stroke-linecap="round"/>
<line x1="126.5" y1="66.1" x2="147.5" y2="152.3" stroke="#757575" stroke-width="4.5" stroke-linecap="round"/>
<line x1="6.9" y1="36.6" x2="37.5" y2="111.6" stroke="#2a2a2a" stroke-width="8.1" stroke-linecap="round"/>
<line x1="6.9" y1="36.6" x2="37.5" y2="111.6" stroke="#696969" stroke-width="5.9" stroke-linecap="round"/>
<line x1="106.3" y1="51.1" x2="140.4" y2="-19.3" stroke="#2a2a2a" stroke-width="8.6" stroke-linecap="round"/>
<line x1="106.3" y1="51.1" x2="140.4" y2="-19.3" stroke="#6d6d6d" stroke-width="6.4" stroke-linecap="round"/>
<line x1="166.6" y1="77.3" x2="242.0" y2="58.7" stroke="#2a2a2a" stroke-width="8.0" stroke-linecap="round"/>
<line x1="166.6" y1="77.3" x2="242.0" y2="58.7" stroke="#757575" stroke-width="5.8" stroke-linecap="round"/>
<line x1="88.1" y1="51.6" x2="151.5" y2="28.8" stroke="#2a2a2a" stroke-width="6.8" stroke-linecap="round"/>
<line x1="88.1" y1="51.6" x2="151.5" y2="28.8" stroke="#7b7b7b" stroke-width="4.6" stroke-linecap="round"/>
<line x1="170.8" y1="59.7" x2="198.9" y2="125.5" stroke="#2a2a2a" stroke-width="8.2" stroke-linecap="round"/>
<line x1="170.8" y1="59.7" x2="198.9" y2="125.5" stroke="#6f6f6f" stroke-width="6.0" stroke-linecap="round"/>
<line x1="-15.0" y1="108.1" x2="19.8" y2="151.9" stroke="#2a2a2a" stroke-width="8.2" stroke-linecap="round"/>
<line x1="-15.0" y1="108.1" x2="19.8" y2="151.9" stroke="#696969" stroke-width="6.0" stroke-linecap="round"/>
<line x1="66.6" y1="32.9" x2="132.5" y2="48.1" stroke="#2a2a2a" stroke-width="8.4" stroke-linecap="round"/>
<line x1="66.6" y1="32.9" x2="132.5" y2="48.1" stroke="#656565" stroke-width="6.2" stroke-linecap="round"/>
<line x1="99.9" y1="111.1" x2="133.1" y2="84.0" stroke="#2a2a2a" stroke-width="8.0" stroke-linecap="round"/>
<line x1="99.9" y1="111.1" x2="133.1" y2="84.0" stroke="#686868" stroke-width="5.8" stroke-linecap="round"/>
<line x1="-13.7" y1="114.8" x2="16.4" y2="68.5" stroke="#2a2a2a" stroke-width="8.2" stroke-linecap="round"/>
<line x1="-13.7" y1="114.8" x2="16.4" y2="68.5" stroke="#6b6b6b" stroke-width="6.0" stroke-linecap="round"/>
<line x1="148.5" y1="103.7" x2="185.7" y2="45.7" stroke="#2a2a2a" stroke-width="7.7" stroke-linecap="round"/>
<line x1="148.5" y1="103.7" x2="185.7" y2="45.7" stroke="#7c7c7c" stroke-width="5.5" stroke-linecap="round"/>
<line x1="88.4" y1="86.5" x2="153.4" y2="39.0" stroke="#2a2a2a" stroke-width="7.3" stroke-linecap="round"/>
<line x1="88.4" y1="86.5" x2="153.4" y2="39.0" stroke="#707070" stroke-width="5.1" stroke-linecap="round"/>
<line x1="2.1" y1="130.0" x2="84.9" y2="106.7" stroke="#2a2a2a" stroke-width="8.7" stroke-linecap="round"/>
<line x1="2.1" y1="130.0" x2="84.9" y2="106.7" stroke="#717171" stroke-width="6.5" stroke-linecap="round"/>
<line x1="59.0" y1="59.7" x2="137.3" y2="3.9" stroke="#2a2a2a" stroke-width="6.7" stroke-linecap="round"/>
<line x1="59.0" y1="59.7" x2="137.3" y2="3.9" stroke="#6f6f6f" stroke-width="4.5" stroke-linecap="round"/>
<line x1="150.0" y1="16.7" x2="156.5" y2="83.4" stroke="#2a2a2a" stroke-width="7.2" stroke-linecap="round"/>
<line x1="150.0" y1="16.7" x2="156.5" y2="83.4" stroke="#696969" stroke-width="5.0" stroke-linecap="round"/>
<line x1="68.7" y1="135.4" x2="81.6" y2="91.9" stroke="#2a2a2a" stroke-width="8.2" stroke-linecap="round"/>
<line x1="68.7" y1="135.4" x2="81.6" y2="91.9" stroke="#6a6a6a" stroke-width="6.0" stroke-linecap="round"/>
<line x1="-36.2" y1="-10.8" x2="48.8" y2="16.2" stroke="#2a2a2a" stroke-width="7.7" stroke-linecap="round"/>
<line x1="-36.2" y1="-10.8" x2="48.8" y2="16.2" stroke="#7a7a7a" stroke-width="5.5" stroke-linecap="round"/>
<line x1="103.2" y1="97.0" x2="172.5" y2="105.9" stroke="#2a2a2a" stroke-width="8.5" stroke-linecap="round"/>
<line x1="103.2" y1="97.0" x2="172.5" y2="105.9" stroke="#6d6d6d" stroke-width="6.3" stroke-linecap="round"/>
<line x1="39.7" y1="71.9" x2="93.0" y2="27.3" stroke="#2a2a2a" stroke-width="7.6" stroke-linecap="round"/>
<line x1="39.7" y1="71.9" x2="93.0" y2="27.3" stroke="#6b6b6b" stroke-width="5.4" stroke-linecap="round"/>
<line x1="78.0" y1="86.1" x2="131.2" y2="53.3" stroke="#2a2a2a" stroke-width="6.9" stroke-linecap="round"/>
<line x1="78.0" y1="86.1" x2="131.2" y2="53.3" stroke="#6c6c6c" stroke-width="4.7" stroke-linecap="round"/>
<line x1="171.4" y1="99.9" x2="249.7" y2="145.1" stroke="#2a2a2a" stroke-width="6.9" stroke-linecap="round"/>
<line x1="171.4" y1="99.9" x2="249.7" y2="145.1" stroke="#7b7b7b" stroke-width="4.7" stroke-linecap="round"/>
<line x1="142.6" y1="143.4" x2="227.0" y2="143.8" stroke="#2a2a2a" stroke-width="7.2" stroke-linecap="round"/>
<line x1="142.6" y1="143.4" x2="227.0" y2="143.8" stroke="#656565" stroke-width="5.0" stroke-linecap="round"/>
<line x1="183.2" y1="112.7" x2="236.5" y2="165.9" stroke="#2a2a2a" stroke-width="7.4" stroke-linecap="round"/>
<line x1="183.2" y1="112.7" x2="236.5" y2="165.9" stroke="#6e6e6e" stroke-width="5.2" stroke-linecap="round"/>
<line x1="3.0" y1="122.2" x2="47.8" y2="87.2" stroke="#2a2a2a" stroke-width="6.8" stroke-linecap="round"/>
<line x1="3.0" y1="122.2" x2="47.8" y2="87.2" stroke="#747474" stroke-width="4.6" stroke-linecap="round"/>
<line x1="34.3" y1="96.2" x2="83.6" y2="71.9" stroke="#2a2a2a" stroke-width="7.2" stroke-linecap="round"/>
<line x1="34.3" y1="96.2" x2="83.6" y2="71.9" stroke="#707070" stroke-width="5.0" stroke-linecap="round"/>
<line x1="16.3" y1="74.4" x2="60.4" y2="-0.7" stroke="#2a2a2a" stroke-width="7.6" stroke-linecap="round"/>
<line x1="16.3" y1="74.4" x2="60.4" y2="-0.7" stroke="#646464" stroke-width="5.4" stroke-linecap="round"/>
<line x1="91.1" y1="81.5" x2="134.7" y2="165.6" stroke="#2a2a2a" stroke-width="8.6" stroke-linecap="round"/>
<line x1="91.1" y1="81.5" x2="134.7" y2="165.6" stroke="#717171" stroke-width="6.4" stroke-linecap="round"/>
<line x1="127.1" y1="87.8" x2="223.0" y2="90.5" stroke="#2a2a2a" stroke-width="7.5" stroke-linecap="round"/>
<line x1="127.1" y1="87.8" x2="223.0" y2="90.5" stroke="#737373" stroke-width="5.3" stroke-linecap="round"/>
<line x1="123.5" y1="32.0" x2="174.4" y2="5.9" stroke="#2a2a2a" stroke-width="6.8" stroke-linecap="round"/>
<line x1="123.5" y1="32.0" x2="174.4" y2="5.9" stroke="#7b7b7b" stroke-width="4.6" stroke-linecap="round"/>
<line x1="72.5" y1="99.4" x2="124.6" y2="60.7" stroke="#2a2a2a" stroke-width="7.3" stroke-linecap="round"/>
<line x1="72.5" y1="99.4" x2="124.6" y2="60.7" stroke="#6a6a6a" stroke-width="5.1" stroke-linecap="round"/>
<line x1="46.1" y1="-4.1" x2="98.6" y2="14.5" stroke="#2a2a2a" stroke-width="8.0" stroke-linecap="round"/>
<line x1="46.1" y1="-4.1" x2="98.6" y2="14.5" stroke="#6b6b6b" stroke-width="5.8" stroke-linecap="round"/>
<line x1="89.1" y1="11.9" x2="98.6" y2="58.1" stroke="#2a2a2a" stroke-width="8.0" stroke-linecap="round"/>
<line x1="89.1" y1="11.9" x2="98.6" y2="58.1" stroke="#656565" stroke-width="5.8" stroke-linecap="round"/>
<line x1="139.2" y1="44.5" x2="147.6" y2="113.8" stroke="#2a2a2a" stroke-width="7.1" stroke-linecap="round"/>
<line x1="139.2" y1="44.5" x2="147.6" y2="113.8" stroke="#7a7a7a" stroke-width="4.9" stroke-linecap="round"/>
<line x1="66.3" y1="45.9" x2="91.2" y2="87.4" stroke="#2a2a2a" stroke-width="7.1" stroke-linecap="round"/>
<line x1="66.3" y1="45.9" x2="91.2" y2="87.4" stroke="#666666" stroke-width="4.9" stroke-linecap="round"/>
<line x1="170.7" y1="36.9" x2="223.8" y2="62.9" stroke="#2a2a2a" stroke-width="7.4" stroke-linecap="round"/>
<line x1="170.7" y1="36.9" x2="223.8" y2="62.9" stroke="#787878" stroke-width="5.2" stroke-linecap="round"/>
<line x1="-21.9" y1="98.9" x2="24.1" y2="27.4" stroke="#2a2a2a" stroke-width="7.5" stroke-linecap="round"/>
<line x1="-21.9" y1="98.9" x2="24.1" y2="27.4" stroke="#6e6e6e" stroke-width="5.3" stroke-linecap="round"/>
<line x1="97.7" y1="79.6" x2="117.6" y2="132.2" stroke="#2a2a2a" stroke-width="8.2" stroke-linecap="round"/>
<line x1="97.7" y1="79.6" x2="117.6" y2="132.2" stroke="#707070" stroke-width="6.0" stroke-linecap="round"/>
<line x1="121.8" y1="144.4" x2="157.9" y2="113.4" stroke="#2a2a2a" stroke-width="7.7" stroke-linecap="round"/>
<line x1="121.8" y1="144.4" x2="157.9" y2="113.4" stroke="#737373" stroke-width="5.5" stroke-linecap="round"/>
<line x1="143.6" y1="87.4" x2="170.8" y2="-2.3" stroke="#2a2a2a" stroke-width="7.5" stroke-linecap="round"/>
<line x1="143.6" y1="87.4" x2="170.8" y2="-2.3" stroke="#747474" stroke-width="5.3" stroke-linecap="round"/>
<line x1="44.6" y1="-11.5" x2="109.9" y2="51.7" stroke="#2a2a2a" stroke-width="8.4" stroke-linecap="round"/>
<line x1="44.6" y1="-11.5" x2="109.9" y2="51.7" stroke="#646464" stroke-width="6.2" stroke-linecap="round"/>
<line x1="49.3" y1="136.1" x2="96.7" y2="64.5" stroke="#2a2a2a" stroke-width="8.3" stroke-linecap="round"/>
<line x1="49.3" y1="136.1" x2="96.7" y2="64.5" stroke="#7c7c7c" stroke-width="6.1" stroke-linecap="round"/>
<line x1="54.6" y1="97.6" x2="96.1" y2="52.4" stroke="#2a2a2a" stroke-width="7.1" stroke-linecap="round"/>
<line x1="54.6" y1="97.6" x2="96.1" y2="52.4" stroke="#999999" stroke-width="4.9" stroke-linecap="round"/>
<circle cx="56.5" cy="95.6" r="1.8" fill="#c6c6c6"/>
<circle cx="60.3" cy="91.5" r="1.8" fill="#b4b4b4"/>
<circle cx="64.1" cy="87.3" r="1.8" fill="#b1b1b1"/>
<circle cx="67.8" cy="83.2" r="1.8" fill="#bdbdbd"/>
<circle cx="71.6" cy="79.1" r="1.8" fill="#b3b3b3"/>
<circle cx="75.4" cy="75.0" r="1.8" fill="#bfbfbf"/>
<circle cx="79.1" cy="70.9" r="1.8" fill="#c4c4c4"/>
<circle cx="82.9" cy="66.8" r="1.8" fill="#c1c1c1"/>
<circle cx="86.7" cy="62.7" r="1.8" fill="#afafaf"/>
<circle cx="90.4" cy="58.6" r="1.8" fill="#c0c0c0"/>
<circle cx="94.2" cy="54.5" r="1.8" fill="#c2c2c2"/>
<line x1="104.0" y1="38.1" x2="170.8" y2="61.5" stroke="#2a2a2a" stroke-width="7.3" stroke-linecap="round"/>
<line x1="104.0" y1="38.1" x2="170.8" y2="61.5" stroke="#8d8d8d" stroke-width="5.1" stroke-linecap="round"/>
<circle cx="106.7" cy="39.0" r="1.8" fill="#aaaaaa"/>
<circle cx="112.3" cy="41.0" r="1.8" fill="#b3b3b3"/>
<circle cx="117.9" cy="42.9" r="1.8" fill="#b5b5b5"/>
<circle cx="123.4" cy="44.9" r="1.8" fill="#a8a8a8"/>
<circle cx="129.0" cy="46.9" r="1.8" fill="#a3a3a3"/>
<circle cx="134.6" cy="48.8" r="1.8" fill="#acacac"/>
<circle cx="140.2" cy="50.8" r="1.8" fill="#b6b6b6"/>
<circle cx="145.7" cy="52.7" r="1.8" fill="#a8a8a8"/>
<circle cx="151.3" cy="54.7" r="1.8" fill="#ababab"/>
<circle cx="156.9" cy="56.6" r="1.8" fill="#a8a8a8"/>
<circle cx="162.4" cy="58.6" r="1.8" fill="#b9b9b9"/>
<circle cx="168.0" cy="60.5" r="1.8" fill="#b2b2b2"/>
<line x1="158.6" y1="89.5" x2="233.6" y2="22.3" stroke="#2a2a2a" stroke-width="8.3" stroke-linecap="round"/>
<line x1="158.6" y1="89.5" x2="233.6" y2="22.3" stroke="#8b8b8b" stroke-width="6.1" stroke-linecap="round"/>
<circle cx="160.6" cy="87.6" r="2.2" fill="#b0b0b0"/>
<circle cx="164.8" cy="83.9" r="2.2" fill="#b3b3b3"/>
<circle cx="169.0" cy="80.1" r="2.2" fill="#acacac"/>
<circle cx="173.2" cy="76.4" r="2.2" fill="#a9a9a9"/>
<circle cx="177.3" cy="72.7" r="2.2" fill="#bdbdbd"/>
<circle cx="181.5" cy="68.9" r="2.2" fill="#b4b4b4"/>
<circle cx="185.7" cy="65.2" r="2.2" fill="#adadad"/>
<circle cx="189.8" cy="61.5" r="2.2" fill="#a3a3a3"/>
<circle cx="194.0" cy="57.7" r="2.2" fill="#b6b6b6"/>
<circle cx="198.2" cy="54.0" r="2.2" fill="#bababa"/>
<circle cx="202.3" cy="50.3" r="2.2" fill="#adadad"/>
<circle cx="206.5" cy="46.5" r="2.2" fill="#a2a2a2"/>
<circle cx="210.7" cy="42.8" r="2.2" fill="#b7b7b7"/>
<circle cx="214.8" cy="39.1" r="2.2" fill="#b8b8b8"/>
<circle cx="219.0" cy="35.3" r="2.2" fill="#b3b3b3"/>
<circle cx="223.2" cy="31.6" r="2.2" fill="#acacac"/>
<circle cx="227.3" cy="27.9" r="2.2" fill="#acacac"/>
<circle cx="231.5" cy="24.1" r="2.2" fill="#bcbcbc"/>
<line x1="141.6" y1="-21.4" x2="196.2" y2="29.5" stroke="#2a2a2a" stroke-width="8.6" stroke-linecap="round"/>
<line x1="141.6" y1="-21.4" x2="196.2" y2="29.5" stroke="#939393" stroke-width="6.4" stroke-linecap="round"/>
<circle cx="143.7" cy="-19.5" r="2.3" fill="#c1c1c1"/>
<circle cx="147.9" cy="-15.6" r="2.3" fill="#b6b6b6"/>
<circle cx="152.1" cy="-11.7" r="2.3" fill="#adadad"/>
<circle cx="156.3" cy="-7.7" r="2.3" fill="#a9a9a9"/>
<circle cx="160.5" cy="-3.8" r="2.3" fill="#b8b8b8"/>
<circle cx="164.7" cy="0.1" r="2.3" fill="#bbbbbb"/>
<circle cx="168.9" cy="4.0" r="2.3" fill="#c2c2c2"/>
<circle cx="173.1" cy="7.9" r="2.3" fill="#ababab"/>
<circle cx="177.3" cy="11.9" r="2.3" fill="#bababa"/>
<circle cx="181.5" cy="15.8" r="2.3" fill="#b3b3b3"/>
<circle cx="185.7" cy="19.7" r="2.3" fill="#b7b7b7"/>
<circle cx="189.9" cy="23.6" r="2.3" fill="#adadad"/>
<circle cx="194.1" cy="27.5" r="2.3" fill="#b1b1b1"/>
<line x1="72.4" y1="74.9" x2="90.6" y2="121.1" stroke="#2a2a2a" stroke-width="7.8" stroke-linecap="round"/>
<line x1="72.4" y1="74.9" x2="90.6" y2="121.1" stroke="#9d9d9d" stroke-width="5.6" stroke-linecap="round"/>
<circle cx="73.4" cy="77.5" r="2.0" fill="#c9c9c9"/>
<circle cx="75.4" cy="82.6" r="2.0" fill="#cacaca"/>
<circle cx="77.4" cy="87.8" r="2.0" fill="#bcbcbc"/>
<circle cx="79.5" cy="92.9" r="2.0" fill="#cbcbcb"/>
<circle cx="81.5" cy="98.0" r="2.0" fill="#b4b4b4"/>
<circle cx="83.5" cy="103.2" r="2.0" fill="#cdcdcd"/>
<circle cx="85.5" cy="108.3" r="2.0" fill="#bcbcbc"/>
<circle cx="87.6" cy="113.4" r="2.0" fill="#c4c4c4"/>
<circle cx="89.6" cy="118.6" r="2.0" fill="#c5c5c5"/>
<line x1="172.3" y1="129.0" x2="247.3" y2="82.2" stroke="#2a2a2a" stroke-width="8.6" stroke-linecap="round"/>
<line x1="172.3" y1="129.0" x2="247.3" y2="82.2" stroke="#8b8b8b" stroke-width="6.4" stroke-linecap="round"/>
<circle cx="174.6" cy="127.5" r="2.3" fill="#b7b7b7"/>
<circle cx="179.3" cy="124.6" r="2.3" fill="#a8a8a8"/>
<circle cx="184.0" cy="121.7" r="2.3" fill="#adadad"/>
<circle cx="188.7" cy="118.7" r="2.3" fill="#b9b9b9"/>
<circle cx="193.4" cy="115.8" r="2.3" fill="#b9b9b9"/>
<circle cx="198.1" cy="112.9" r="2.3" fill="#a6a6a6"/>
<circle cx="202.8" cy="110.0" r="2.3" fill="#a7a7a7"/>
<circle cx="207.5" cy="107.0" r="2.3" fill="#adadad"/>
<circle cx="212.2" cy="104.1" r="2.3" fill="#b0b0b0"/>
<circle cx="216.8" cy="101.2" r="2.3" fill="#acacac"/>
<circle cx="221.5" cy="98.3" r="2.3" fill="#a5a5a5"/>
<circle cx="226.2" cy="95.4" r="2.3" fill="#a8a8a8"/>
<circle cx="230.9" cy="92.4" r="2.3" fill="#b6b6b6"/>
<circle cx="235.6" cy="89.5" r="2.3" fill="#bababa"/>
<circle cx="240.3" cy="86.6" r="2.3" fill="#a2a2a2"/>
<circle cx="245.0" cy="83.7" r="2.3" fill="#b1b1b1"/>
<line x1="109.7" y1="-14.0" x2="150.7" y2="68.1" stroke="#2a2a2a" stroke-width="7.6" stroke-linecap="round"/>
<line x1="109.7" y1="-14.0" x2="150.7" y2="68.1" stroke="#929292" stroke-width="5.4" stroke-linecap="round"/>
<circle cx="111.0" cy="-11.4" r="2.0" fill="#b5b5b5"/>
<circle cx="113.5" cy="-6.3" r="2.0" fill="#c0c0c0"/>
<circle cx="116.1" cy="-1.2" r="2.0" fill="#bebebe"/>
<circle cx="118.7" cy="4.0" r="2.0" fill="#bababa"/>
<circle cx="121.2" cy="9.1" r="2.0" fill="#b1b1b1"/>
<circle cx="123.8" cy="14.2" r="2.0" fill="#afafaf"/>
<circle cx="126.4" cy="19.3" r="2.0" fill="#b3b3b3"/>
<circle cx="128.9" cy="24.5" r="2.0" fill="#b2b2b2"/>
<circle cx="131.5" cy="29.6" r="2.0" fill="#b6b6b6"/>
<circle cx="134.1" cy="34.7" r="2.0" fill="#adadad"/>
<circle cx="136.6" cy="39.9" r="2.0" fill="#a8a8a8"/>
<circle cx="139.2" cy="45.0" r="2.0" fill="#c4c4c4"/>
<circle cx="141.7" cy="50.1" r="2.0" fill="#b5b5b5"/>
<circle cx="144.3" cy="55.2" r="2.0" fill="#b5b5b5"/>
<circle cx="146.9" cy="60.4" r="2.0" fill="#bababa"/>
<circle cx="149.4" cy="65.5" r="2.0" fill="#bfbfbf"/>
<line x1="-23.9" y1="16.2" x2="42.9" y2="-13.2" stroke="#2a2a2a" stroke-width="7.1" stroke-linecap="round"/>
<line x1="-23.9" y1="16.2" x2="42.9" y2="-13.2" stroke="#919191" stroke-width="4.9" stroke-linecap="round"/>
<circle cx="-21.3" cy="15.1" r="1.8" fill="#b1b1b1"/>
<circle cx="-16.2" cy="12.8" r="1.8" fill="#bebebe"/>
<circle cx="-11.1" cy="10.6" r="1.8" fill="#b5b5b5"/>
<circle cx="-5.9" cy="8.3" r="1.8" fill="#bababa"/>
<circle cx="-0.8" cy="6.0" r="1.8" fill="#a8a8a8"/>
<circle cx="4.4" cy="3.8" r="1.8" fill="#ababab"/>
<circle cx="9.5" cy="1.5" r="1.8" fill="#c1c1c1"/>
<circle cx="14.6" cy="-0.8" r="1.8" fill="#b0b0b0"/>
<circle cx="19.8" cy="-3.0" r="1.8" fill="#bbbbbb"/>
<circle cx="24.9" cy="-5.3" r="1.8" fill="#a9a9a9"/>
<circle cx="30.1" cy="-7.6" r="1.8" fill="#bcbcbc"/>
<circle cx="35.2" cy="-9.8" r="1.8" fill="#c0c0c0"/>
<circle cx="40.3" cy="-12.1" r="1.8" fill="#bababa"/>
<line x1="34.4" y1="-7.8" x2="98.0" y2="75.7" stroke="#2a2a2a" stroke-width="9.0" stroke-linecap="round"/>
<line x1="34.4" y1="-7.8" x2="98.0" y2="75.7" stroke="#9c9c9c" stroke-width="6.8" stroke-linecap="round"/>
<circle cx="36.1" cy="-5.6" r="2.4" fill="#c9c9c9"/>
<circle cx="39.4" cy="-1.2" r="2.4" fill="#b8b8b8"/>
<circle cx="42.8" cy="3.2" r="2.4" fill="#cecece"/>
<circle cx="46.1" cy="7.6" r="2.4" fill="#c0c0c0"/>
<circle cx="49.5" cy="11.9" r="2.4" fill="#cdcdcd"/>
<circle cx="52.8" cy="16.3" r="2.4" fill="#cccccc"/>
<circle cx="56.1" cy="20.7" r="2.4" fill="#b7b7b7"/>
<circle cx="59.5" cy="25.1" r="2.4" fill="#c9c9c9"/>
<circle cx="62.8" cy="29.5" r="2.4" fill="#cdcdcd"/>
<circle cx="66.2" cy="33.9" r="2.4" fill="#b4b4b4"/>
<circle cx="69.5" cy="38.3" r="2.4" fill="#bcbcbc"/>
<circle cx="72.9" cy="42.7" r="2.4" fill="#c8c8c8"/>
<circle cx="76.2" cy="47.1" r="2.4" fill="#b7b7b7"/>
<circle cx="79.6" cy="51.5" r="2.4" fill="#cccccc"/>
<circle cx="82.9" cy="55.9" r="2.4" fill="#bababa"/>
<circle cx="86.3" cy="60.3" r="2.4" fill="#c9c9c9"/>
<circle cx="89.6" cy="64.7" r="2.4" fill="#b6b6b6"/>
<circle cx="93.0" cy="69.1" r="2.4" fill="#c1c1c1"/>
<circle cx="96.3" cy="73.5" r="2.4" fill="#cccccc"/>
<line x1="-1.8" y1="79.0" x2="37.9" y2="0.4" stroke="#2a2a2a" stroke-width="7.5" stroke-linecap="round"/>
<line x1="-1.8" y1="79.0" x2="37.9" y2="0.4" stroke="#929292" stroke-width="5.3" stroke-linecap="round"/>
<circle cx="-0.6" cy="76.5" r="1.9" fill="#adadad"/>
<circle cx="1.9" cy="71.6" r="1.9" fill="#b3b3b3"/>
<circle cx="4.4" cy="66.7" r="1.9" fill="#b9b9b9"/>
<circle cx="6.9" cy="61.8" r="1.9" fill="#afafaf"/>
<circle cx="9.3" cy="56.9" r="1.9" fill="#b1b1b1"/>
<circle cx="11.8" cy="51.9" r="1.9" fill="#b2b2b2"/>
<circle cx="14.3" cy="47.0" r="1.9" fill="#bebebe"/>
<circle cx="16.8" cy="42.1" r="1.9" fill="#afafaf"/>
<circle cx="19.3" cy="37.2" r="1.9" fill="#bdbdbd"/>
<circle cx="21.8" cy="32.3" r="1.9" fill="#a9a9a9"/>
<circle cx="24.3" cy="27.4" r="1.9" fill="#c0c0c0"/>
<circle cx="26.7" cy="22.5" r="1.9" fill="#c3c3c3"/>
<circle cx="29.2" cy="17.6" r="1.9" fill="#b4b4b4"/>
<circle cx="31.7" cy="12.6" r="1.9" fill="#b6b6b6"/>
<circle cx="34.2" cy="7.7" r="1.9" fill="#bbbbbb"/>
<circle cx="36.7" cy="2.8" r="1.9" fill="#c1c1c1"/>
<line x1="94.0" y1="166.3" x2="166.9" y2="115.1" stroke="#2a2a2a" stroke-width="7.8" stroke-linecap="round"/>
<line x1="94.0" y1="166.3" x2="166.9" y2="115.1" stroke="#9e9e9e" stroke-width="5.6" stroke-linecap="round"/>
<circle cx="96.3" cy="164.7" r="2.0" fill="#bcbcbc"/>
<circle cx="100.9" cy="161.5" r="2.0" fill="#d0d0d0"/>
<circle cx="105.4" cy="158.3" r="2.0" fill="#c5c5c5"/>
<circle cx="110.0" cy="155.1" r="2.0" fill="#bfbfbf"/>
<circle cx="114.5" cy="151.9" r="2.0" fill="#cacaca"/>
<circle cx="119.1" cy="148.7" r="2.0" fill="#c1c1c1"/>
<circle cx="123.6" cy="145.5" r="2.0" fill="#b9b9b9"/>
<circle cx="128.2" cy="142.3" r="2.0" fill="#c9c9c9"/>
<circle cx="132.7" cy="139.1" r="2.0" fill="#b6b6b6"/>
<circle cx="137.3" cy="135.9" r="2.0" fill="#cbcbcb"/>
<circle cx="141.9" cy="132.7" r="2.0" fill="#bcbcbc"/>
<circle cx="146.4" cy="129.5" r="2.0" fill="#c6c6c6"/>
<circle cx="151.0" cy="126.3" r="2.0" fill="#d0d0d0"/>
<circle cx="155.5" cy="123.1" r="2.0" fill="#c5c5c5"/>
<circle cx="160.1" cy="119.9" r="2.0" fill="#c7c7c7"/>
<circle cx="164.6" cy="116.7" r="2.0" fill="#bdbdbd"/>
<line x1="184.2" y1="146.8" x2="223.1" y2="100.4" stroke="#2a2a2a" stroke-width="7.6" stroke-linecap="round"/>
<line x1="184.2" y1="146.8" x2="223.1" y2="100.4" stroke="#999999" stroke-width="5.4" stroke-linecap="round"/>
<circle cx="186.0" cy="144.7" r="1.9" fill="#bbbbbb"/>
<circle cx="189.5" cy="140.5" r="1.9" fill="#b9b9b9"/>
<circle cx="193.0" cy="136.3" r="1.9" fill="#b1b1b1"/>
<circle cx="196.6" cy="132.0" r="1.9" fill="#bdbdbd"/>
<circle cx="200.1" cy="127.8" r="1.9" fill="#c0c0c0"/>
<circle cx="203.6" cy="123.6" r="1.9" fill="#b1b1b1"/>
<circle cx="207.2" cy="119.4" r="1.9" fill="#b1b1b1"/>
<circle cx="210.7" cy="115.2" r="1.9" fill="#bfbfbf"/>
<circle cx="214.2" cy="111.0" r="1.9" fill="#b8b8b8"/>
<circle cx="217.8" cy="106.7" r="1.9" fill="#bebebe"/>
<circle cx="221.3" cy="102.5" r="1.9" fill="#bebebe"/>
<line x1="84.0" y1="17.0" x2="153.2" y2="68.5" stroke="#2a2a2a" stroke-width="7.4" stroke-linecap="round"/>
<line x1="84.0" y1="17.0" x2="153.2" y2="68.5" stroke="#999999" stroke-width="5.2" stroke-linecap="round"/>
<circle cx="86.3" cy="18.7" r="1.9" fill="#bdbdbd"/>
<circle cx="90.9" cy="22.2" r="1.9" fill="#b3b3b3"/>
<circle cx="95.5" cy="25.6" r="1.9" fill="#c9c9c9"/>
<circle cx="100.2" cy="29.0" r="1.9" fill="#b6b6b6"/>
<circle cx="104.8" cy="32.5" r="1.9" fill="#b3b3b3"/>
<circle cx="109.4" cy="35.9" r="1.9" fill="#b2b2b2"/>
<circle cx="114.0" cy="39.3" r="1.9" fill="#c1c1c1"/>
<circle cx="118.6" cy="42.8" r="1.9" fill="#c8c8c8"/>
<circle cx="123.2" cy="46.2" r="1.9" fill="#c5c5c5"/>
<circle cx="127.8" cy="49.6" r="1.9" fill="#bababa"/>
<circle cx="132.4" cy="53.1" r="1.9" fill="#b7b7b7"/>
<circle cx="137.0" cy="56.5" r="1.9" fill="#b0b0b0"/>
<circle cx="141.7" cy="59.9" r="1.9" fill="#c1c1c1"/>
<circle cx="146.3" cy="63.4" r="1.9" fill="#bfbfbf"/>
<circle cx="150.9" cy="66.8" r="1.9" fill="#b9b9b9"/>
<line x1="-27.6" y1="101.8" x2="45.1" y2="53.8" stroke="#2a2a2a" stroke-width="8.0" stroke-linecap="round"/>
<line x1="-27.6" y1="101.8" x2="45.1" y2="53.8" stroke="#959595" stroke-width="5.8" stroke-linecap="round"/>
<circle cx="-25.2" cy="100.2" r="2.1" fill="#b0b0b0"/>
<circle cx="-20.4" cy="97.0" r="2.1" fill="#ababab"/>
<circle cx="-15.5" cy="93.8" r="2.1" fill="#adadad"/>
<circle cx="-10.7" cy="90.6" r="2.1" fill="#acacac"/>
<circle cx="-5.8" cy="87.4" r="2.1" fill="#b0b0b0"/>
<circle cx="-1.0" cy="84.2" r="2.1" fill="#b0b0b0"/>
<circle cx="3.9" cy="81.0" r="2.1" fill="#c5c5c5"/>
<circle cx="8.7" cy="77.8" r="2.1" fill="#aeaeae"/>
<circle cx="13.6" cy="74.6" r="2.1" fill="#bcbcbc"/>
<circle cx="18.4" cy="71.4" r="2.1" fill="#bebebe"/>
<circle cx="23.3" cy="68.2" r="2.1" fill="#b1b1b1"/>
<circle cx="28.1" cy="65.0" r="2.1" fill="#b7b7b7"/>
<circle cx="32.9" cy="61.8" r="2.1" fill="#bababa"/>
<circle cx="37.8" cy="58.6" r="2.1" fill="#bdbdbd"/>
<circle cx="42.6" cy="55.4" r="2.1" fill="#bdbdbd"/>
<line x1="47.3" y1="-18.3" x2="90.3" y2="19.5" stroke="#2a2a2a" stroke-width="7.6" stroke-linecap="round"/>
<line x1="47.3" y1="-18.3" x2="90.3" y2="19.5" stroke="#909090" stroke-width="5.4" stroke-linecap="round"/>
<circle cx="49.5" cy="-16.4" r="2.0" fill="#a7a7a7"/>
<circle cx="53.8" cy="-12.6" r="2.0" fill="#bebebe"/>
<circle cx="58.1" cy="-8.8" r="2.0" fill="#bbbbbb"/>
<circle cx="62.4" cy="-5.1" r="2.0" fill="#bababa"/>
<circle cx="66.7" cy="-1.3" r="2.0" fill="#a6a6a6"/>
<circle cx="71.0" cy="2.5" r="2.0" fill="#bdbdbd"/>
<circle cx="75.3" cy="6.3" r="2.0" fill="#bababa"/>
<circle cx="79.6" cy="10.0" r="2.0" fill="#b3b3b3"/>
<circle cx="83.9" cy="13.8" r="2.0" fill="#bababa"/>
<circle cx="88.2" cy="17.6" r="2.0" fill="#b2b2b2"/>
<line x1="13.4" y1="139.7" x2="49.7" y2="87.8" stroke="#2a2a2a" stroke-width="8.3" stroke-linecap="round"/>
<line x1="13.4" y1="139.7" x2="49.7" y2="87.8" stroke="#8a8a8a" stroke-width="6.1" stroke-linecap="round"/>
<circle cx="15.1" cy="137.3" r="2.2" fill="#b9b9b9"/>
<circle cx="18.4" cy="132.6" r="2.2" fill="#bababa"/>
<circle cx="21.7" cy="127.9" r="2.2" fill="#bbbbbb"/>
<circle cx="25.0" cy="123.2" r="2.2" fill="#a8a8a8"/>
<circle cx="28.3" cy="118.4" r="2.2" fill="#a2a2a2"/>
<circle cx="31.6" cy="113.7" r="2.2" fill="#b2b2b2"/>
<circle cx="34.8" cy="109.0" r="2.2" fill="#b3b3b3"/>
<circle cx="38.1" cy="104.3" r="2.2" fill="#b3b3b3"/>
<circle cx="41.4" cy="99.6" r="2.2" fill="#bababa"/>
<circle cx="44.7" cy="94.9" r="2.2" fill="#bbbbbb"/>
<circle cx="48.0" cy="90.1" r="2.2" fill="#a8a8a8"/>
<line x1="148.4" y1="133.7" x2="171.6" y2="56.6" stroke="#2a2a2a" stroke-width="7.3" stroke-linecap="round"/>
<line x1="148.4" y1="133.7" x2="171.6" y2="56.6" stroke="#a2a2a2" stroke-width="5.1" stroke-linecap="round"/>
<circle cx="149.3" cy="131.0" r="1.9" fill="#cfcfcf"/>
<circle cx="150.9" cy="125.4" r="1.9" fill="#bdbdbd"/>
<circle cx="152.6" cy="119.9" r="1.9" fill="#bcbcbc"/>
<circle cx="154.2" cy="114.4" r="1.9" fill="#d1d1d1"/>
<circle cx="155.9" cy="108.9" r="1.9" fill="#bdbdbd"/>
<circle cx="157.5" cy="103.4" r="1.9" fill="#c3c3c3"/>
<circle cx="159.2" cy="97.9" r="1.9" fill="#c8c8c8"/>
<circle cx="160.8" cy="92.4" r="1.9" fill="#c2c2c2"/>
<circle cx="162.5" cy="86.9" r="1.9" fill="#cfcfcf"/>
<circle cx="164.1" cy="81.4" r="1.9" fill="#d1d1d1"/>
<circle cx="165.8" cy="75.9" r="1.9" fill="#d3d3d3"/>
<circle cx="167.5" cy="70.4" r="1.9" fill="#cfcfcf"/>
<circle cx="169.1" cy="64.9" r="1.9" fill="#c7c7c7"/>
<circle cx="170.8" cy="59.3" r="1.9" fill="#c5c5c5"/>
<line x1="141.3" y1="73.7" x2="161.5" y2="176.8" stroke="#2a2a2a" stroke-width="7.9" stroke-linecap="round"/>
<line x1="141.3" y1="73.7" x2="161.5" y2="176.8" stroke="#9c9c9c" stroke-width="5.7" stroke-linecap="round"/>
<circle cx="141.9" cy="76.4" r="2.0" fill="#c2c2c2"/>
<circle cx="142.9" cy="81.8" r="2.0" fill="#bbbbbb"/>
<circle cx="144.0" cy="87.3" r="2.0" fill="#b8b8b8"/>
<circle cx="145.0" cy="92.7" r="2.0" fill="#c4c4c4"/>
<circle cx="146.1" cy="98.1" r="2.0" fill="#b4b4b4"/>
<circle cx="147.2" cy="103.5" r="2.0" fill="#cccccc"/>
<circle cx="148.2" cy="109.0" r="2.0" fill="#b6b6b6"/>
<circle cx="149.3" cy="114.4" r="2.0" fill="#b3b3b3"/>
<circle cx="150.3" cy="119.8" r="2.0" fill="#b5b5b5"/>
<circle cx="151.4" cy="125.2" r="2.0" fill="#cccccc"/>
<circle cx="152.5" cy="130.7" r="2.0" fill="#bcbcbc"/>
<circle cx="153.5" cy="136.1" r="2.0" fill="#b6b6b6"/>
<circle cx="154.6" cy="141.5" r="2.0" fill="#b3b3b3"/>
<circle cx="155.6" cy="146.9" r="2.0" fill="#b3b3b3"/>
<circle cx="156.7" cy="152.4" r="2.0" fill="#c6c6c6"/>
<circle cx="157.8" cy="157.8" r="2.0" fill="#c4c4c4"/>
<circle cx="158.8" cy="163.2" r="2.0" fill="#c6c6c6"/>
<circle cx="159.9" cy="168.6" r="2.0" fill="#c7c7c7"/>
<circle cx="160.9" cy="174.1" r="2.0" fill="#b4b4b4"/>
<line x1="129.8" y1="130.0" x2="171.6" y2="88.5" stroke="#2a2a2a" stroke-width="8.9" stroke-linecap="round"/>
<line x1="129.8" y1="130.0" x2="171.6" y2="88.5" stroke="#979797" stroke-width="6.7" stroke-linecap="round"/>
<circle cx="131.9" cy="127.9" r="2.4" fill="#bfbfbf"/>
<circle cx="136.1" cy="123.7" r="2.4" fill="#c5c5c5"/>
<circle cx="140.2" cy="119.6" r="2.4" fill="#c2c2c2"/>
<circle cx="144.4" cy="115.4" r="2.4" fill="#c0c0c0"/>
<circle cx="148.6" cy="111.3" r="2.4" fill="#b7b7b7"/>
<circle cx="152.8" cy="107.1" r="2.4" fill="#b3b3b3"/>
<circle cx="157.0" cy="103.0" r="2.4" fill="#b2b2b2"/>
<circle cx="161.2" cy="98.8" r="2.4" fill="#adadad"/>
<circle cx="165.4" cy="94.7" r="2.4" fill="#c7c7c7"/>
<circle cx="169.5" cy="90.5" r="2.4" fill="#c6c6c6"/>
<line x1="82.8" y1="14.2" x2="130.0" y2="105.5" stroke="#2a2a2a" stroke-width="8.3" stroke-linecap="round"/>
<line x1="82.8" y1="14.2" x2="130.0" y2="105.5" stroke="#8f8f8f" stroke-width="6.1" stroke-linecap="round"/>
<circle cx="84.1" cy="16.8" r="2.2" fill="#a8a8a8"/>
<circle cx="86.8" cy="21.8" r="2.2" fill="#a8a8a8"/>
<circle cx="89.4" cy="26.9" r="2.2" fill="#bababa"/>
<circle cx="92.0" cy="32.0" r="2.2" fill="#ababab"/>
<circle cx="94.6" cy="37.0" r="2.2" fill="#aeaeae"/>
<circle cx="97.2" cy="42.1" r="2.2" fill="#b1b1b1"/>
<circle cx="99.9" cy="47.2" r="2.2" fill="#a6a6a6"/>
<circle cx="102.5" cy="52.3" r="2.2" fill="#acacac"/>
<circle cx="105.1" cy="57.3" r="2.2" fill="#adadad"/>
<circle cx="107.7" cy="62.4" r="2.2" fill="#b9b9b9"/>
<circle cx="110.3" cy="67.5" r="2.2" fill="#afafaf"/>
<circle cx="113.0" cy="72.6" r="2.2" fill="#aeaeae"/>
<circle cx="115.6" cy="77.6" r="2.2" fill="#c0c0c0"/>
<circle cx="118.2" cy="82.7" r="2.2" fill="#b3b3b3"/>
<circle cx="120.8" cy="87.8" r="2.2" fill="#bdbdbd"/>
<circle cx="123.4" cy="92.8" r="2.2" fill="#b6b6b6"/>
<circle cx="126.1" cy="97.9" r="2.2" fill="#a6a6a6"/>
<circle cx="128.7" cy="103.0" r="2.2" fill="#b1b1b1"/>
<line x1="-1.7" y1="28.7" x2="40.6" y2="58.7" stroke="#2a2a2a" stroke-width="7.9" stroke-linecap="round"/>
<line x1="-1.7" y1="28.7" x2="40.6" y2="58.7" stroke="#888888" stroke-width="5.7" stroke-linecap="round"/>
<circle cx="0.6" cy="30.4" r="2.1" fill="#aeaeae"/>
<circle cx="5.3" cy="33.7" r="2.1" fill="#b2b2b2"/>
<circle cx="10.0" cy="37.1" r="2.1" fill="#b5b5b5"/>
<circle cx="14.7" cy="40.4" r="2.1" fill="#aeaeae"/>
<circle cx="19.4" cy="43.7" r="2.1" fill="#a6a6a6"/>
<circle cx="24.1" cy="47.1" r="2.1" fill="#aaaaaa"/>
<circle cx="28.8" cy="50.4" r="2.1" fill="#adadad"/>
<circle cx="33.5" cy="53.7" r="2.1" fill="#a6a6a6"/>
<circle cx="38.2" cy="57.1" r="2.1" fill="#b3b3b3"/>
<line x1="159.0" y1="39.9" x2="192.6" y2="-31.9" stroke="#2a2a2a" stroke-width="8.0" stroke-linecap="round"/>
<line x1="159.0" y1="39.9" x2="192.6" y2="-31.9" stroke="#9e9e9e" stroke-width="5.8" stroke-linecap="round"/>
<circle cx="160.2" cy="37.4" r="2.1" fill="#bababa"/>
<circle cx="162.6" cy="32.2" r="2.1" fill="#c2c2c2"/>
<circle cx="165.0" cy="27.1" r="2.1" fill="#bebebe"/>
<circle cx="167.4" cy="22.0" r="2.1" fill="#cccccc"/>
<circle cx="169.8" cy="16.8" r="2.1" fill="#bcbcbc"/>
<circle cx="172.2" cy="11.7" r="2.1" fill="#cfcfcf"/>
<circle cx="174.6" cy="6.6" r="2.1" fill="#bcbcbc"/>
<circle cx="177.0" cy="1.4" r="2.1" fill="#bababa"/>
<circle cx="179.4" cy="-3.7" r="2.1" fill="#c8c8c8"/>
<circle cx="181.8" cy="-8.8" r="2.1" fill="#c2c2c2"/>
<circle cx="184.2" cy="-14.0" r="2.1" fill="#b7b7b7"/>
<circle cx="186.6" cy="-19.1" r="2.1" fill="#c6c6c6"/>
<circle cx="189.0" cy="-24.2" r="2.1" fill="#b7b7b7"/>
<circle cx="191.4" cy="-29.4" r="2.1" fill="#cacaca"/>
<line x1="167.4" y1="57.5" x2="218.8" y2="67.7" stroke="#2a2a2a" stroke-width="7.7" stroke-linecap="round"/>
<line x1="167.4" y1="57.5" x2="218.8" y2="67.7" stroke="#898989" stroke-width="5.5" stroke-linecap="round"/>
<circle cx="170.3" cy="58.1" r="2.0" fill="#b9b9b9"/>
<circle cx="176.0" cy="59.2" r="2.0" fill="#b8b8b8"/>
<circle cx="181.7" cy="60.3" r="2.0" fill="#b4b4b4"/>
<circle cx="187.4" cy="61.5" r="2.0" fill="#ababab"/>
<circle cx="193.1" cy="62.6" r="2.0" fill="#b1b1b1"/>
<circle cx="198.8" cy="63.7" r="2.0" fill="#aaaaaa"/>
<circle cx="204.5" cy="64.9" r="2.0" fill="#a8a8a8"/>
<circle cx="210.2" cy="66.0" r="2.0" fill="#ababab"/>
<circle cx="215.9" cy="67.1" r="2.0" fill="#afafaf"/>
<line x1="144.0" y1="125.1" x2="234.2" y2="67.8" stroke="#2a2a2a" stroke-width="7.5" stroke-linecap="round"/>
<line x1="144.0" y1="125.1" x2="234.2" y2="67.8" stroke="#949494" stroke-width="5.3" stroke-linecap="round"/>
<circle cx="146.3" cy="123.6" r="1.9" fill="#b9b9b9"/>
<circle cx="151.1" cy="120.6" r="1.9" fill="#bfbfbf"/>
<circle cx="155.8" cy="117.6" r="1.9" fill="#bfbfbf"/>
<circle cx="160.6" cy="114.6" r="1.9" fill="#bcbcbc"/>
<circle cx="165.3" cy="111.5" r="1.9" fill="#b4b4b4"/>
<circle cx="170.1" cy="108.5" r="1.9" fill="#b3b3b3"/>
<circle cx="174.8" cy="105.5" r="1.9" fill="#afafaf"/>
<circle cx="179.6" cy="102.5" r="1.9" fill="#c2c2c2"/>
<circle cx="184.3" cy="99.5" r="1.9" fill="#bdbdbd"/>
<circle cx="189.1" cy="96.5" r="1.9" fill="#bfbfbf"/>
<circle cx="193.8" cy="93.5" r="1.9" fill="#afafaf"/>
<circle cx="198.6" cy="90.4" r="1.9" fill="#b7b7b7"/>
<circle cx="203.3" cy="87.4" r="1.9" fill="#c0c0c0"/>
<circle cx="208.1" cy="84.4" r="1.9" fill="#bbbbbb"/>
<circle cx="212.8" cy="81.4" r="1.9" fill="#aeaeae"/>
<circle cx="217.6" cy="78.4" r="1.9" fill="#b7b7b7"/>
<circle cx="222.3" cy="75.4" r="1.9" fill="#c3c3c3"/>
<circle cx="227.1" cy="72.3" r="1.9" fill="#b1b1b1"/>
<circle cx="231.8" cy="69.3" r="1.9" fill="#b0b0b0"/>
<line x1="115.5" y1="42.1" x2="194.4" y2="-23.9" stroke="#2a2a2a" stroke-width="8.2" stroke-linecap="round"/>
<line x1="115.5" y1="42.1" x2="194.4" y2="-23.9" stroke="#9c9c9c" stroke-width="6.0" stroke-linecap="round"/>
<circle cx="117.6" cy="40.3" r="2.2" fill="#cdcdcd"/>
<circle cx="122.0" cy="36.6" r="2.2" fill="#c6c6c6"/>
<circle cx="126.4" cy="32.9" r="2.2" fill="#c3c3c3"/>
<circle cx="130.8" cy="29.3" r="2.2" fill="#bcbcbc"/>
<circle cx="135.2" cy="25.6" r="2.2" fill="#b9b9b9"/>
<circle cx="139.6" cy="21.9" r="2.2" fill="#cdcdcd"/>
<circle cx="144.0" cy="18.3" r="2.2" fill="#b9b9b9"/>
<circle cx="148.3" cy="14.6" r="2.2" fill="#cdcdcd"/>
<circle cx="152.7" cy="10.9" r="2.2" fill="#cecece"/>
<circle cx="157.1" cy="7.3" r="2.2" fill="#b7b7b7"/>
<circle cx="161.5" cy="3.6" r="2.2" fill="#c5c5c5"/>
<circle cx="165.9" cy="-0.1" r="2.2" fill="#b8b8b8"/>
<circle cx="170.3" cy="-3.7" r="2.2" fill="#b6b6b6"/>
<circle cx="174.6" cy="-7.4" r="2.2" fill="#b6b6b6"/>
<circle cx="179.0" cy="-11.1" r="2.2" fill="#bbbbbb"/>
<circle cx="183.4" cy="-14.7" r="2.2" fill="#bbbbbb"/>
<circle cx="187.8" cy="-18.4" r="2.2" fill="#bababa"/>
<circle cx="192.2" cy="-22.1" r="2.2" fill="#b5b5b5"/>
<line x1="70.6" y1="76.4" x2="147.1" y2="1.6" stroke="#2a2a2a" stroke-width="7.9" stroke-linecap="round"/>
<line x1="70.6" y1="76.4" x2="147.1" y2="1.6" stroke="#878787" stroke-width="5.7" stroke-linecap="round"/>
<circle cx="72.6" cy="74.5" r="2.1" fill="#b5b5b5"/>
<circle cx="76.6" cy="70.5" r="2.1" fill="#a9a9a9"/>
<circle cx="80.7" cy="66.6" r="2.1" fill="#a3a3a3"/>
<circle cx="84.7" cy="62.6" r="2.1" fill="#b8b8b8"/>
<circle cx="88.7" cy="58.7" r="2.1" fill="#a5a5a5"/>
<circle cx="92.7" cy="54.8" r="2.1" fill="#9d9d9d"/>
<circle cx="96.8" cy="50.8" r="2.1" fill="#a4a4a4"/>
<circle cx="100.8" cy="46.9" r="2.1" fill="#b2b2b2"/>
<circle cx="104.8" cy="43.0" r="2.1" fill="#9d9d9d"/>
<circle cx="108.8" cy="39.0" r="2.1" fill="#a4a4a4"/>
<circle cx="112.9" cy="35.1" r="2.1" fill="#b5b5b5"/>
<circle cx="116.9" cy="31.1" r="2.1" fill="#b1b1b1"/>
<circle cx="120.9" cy="27.2" r="2.1" fill="#adadad"/>
<circle cx="124.9" cy="23.3" r="2.1" fill="#afafaf"/>
<circle cx="129.0" cy="19.3" r="2.1" fill="#b5b5b5"/>
<circle cx="133.0" cy="15.4" r="2.1" fill="#b0b0b0"/>
<circle cx="137.0" cy="11.4" r="2.1" fill="#afafaf"/>
<circle cx="141.0" cy="7.5" r="2.1" fill="#b5b5b5"/>
<circle cx="145.0" cy="3.6" r="2.1" fill="#afafaf"/>
<line x1="86.1" y1="40.8" x2="153.8" y2="-22.3" stroke="#2a2a2a" stroke-width="8.3" stroke-linecap="round"/>
<line x1="86.1" y1="40.8" x2="153.8" y2="-22.3" stroke="#949494" stroke-width="6.1" stroke-linecap="round"/>
<circle cx="88.2" cy="38.8" r="2.2" fill="#b3b3b3"/>
<circle cx="92.4" cy="34.9" r="2.2" fill="#bcbcbc"/>
<circle cx="96.7" cy="30.9" r="2.2" fill="#adadad"/>
<circle cx="100.9" cy="27.0" r="2.2" fill="#b6b6b6"/>
<circle cx="105.1" cy="23.0" r="2.2" fill="#c0c0c0"/>
<circle cx="109.4" cy="19.1" r="2.2" fill="#bebebe"/>
<circle cx="113.6" cy="15.2" r="2.2" fill="#bcbcbc"/>
<circle cx="117.9" cy="11.2" r="2.2" fill="#b1b1b1"/>
<circle cx="122.1" cy="7.3" r="2.2" fill="#b6b6b6"/>
<circle cx="126.3" cy="3.3" r="2.2" fill="#b7b7b7"/>
<circle cx="130.6" cy="-0.6" r="2.2" fill="#bcbcbc"/>
<circle cx="134.8" cy="-4.5" r="2.2" fill="#b6b6b6"/>
<circle cx="139.0" cy="-8.5" r="2.2" fill="#bdbdbd"/>
<circle cx="143.3" cy="-12.4" r="2.2" fill="#c4c4c4"/>
<circle cx="147.5" cy="-16.4" r="2.2" fill="#afafaf"/>
<circle cx="151.7" cy="-20.3" r="2.2" fill="#bcbcbc"/>
<line x1="92.4" y1="69.6" x2="158.5" y2="148.9" stroke="#2a2a2a" stroke-width="8.8" stroke-linecap="round"/>
<line x1="92.4" y1="69.6" x2="158.5" y2="148.9" stroke="#8a8a8a" stroke-width="6.6" stroke-linecap="round"/>
<circle cx="94.3" cy="71.8" r="2.4" fill="#a7a7a7"/>
<circle cx="97.9" cy="76.2" r="2.4" fill="#a6a6a6"/>
<circle cx="101.6" cy="80.6" r="2.4" fill="#b4b4b4"/>
<circle cx="105.3" cy="85.0" r="2.4" fill="#bababa"/>
<circle cx="109.0" cy="89.4" r="2.4" fill="#a5a5a5"/>
<circle cx="112.6" cy="93.8" r="2.4" fill="#a9a9a9"/>
<circle cx="116.3" cy="98.3" r="2.4" fill="#b7b7b7"/>
<circle cx="120.0" cy="102.7" r="2.4" fill="#acacac"/>
<circle cx="123.6" cy="107.1" r="2.4" fill="#a5a5a5"/>
<circle cx="127.3" cy="111.5" r="2.4" fill="#adadad"/>
<circle cx="131.0" cy="115.9" r="2.4" fill="#a0a0a0"/>
<circle cx="134.6" cy="120.3" r="2.4" fill="#b6b6b6"/>
<circle cx="138.3" cy="124.7" r="2.4" fill="#aaaaaa"/>
<circle cx="142.0" cy="129.1" r="2.4" fill="#a9a9a9"/>
<circle cx="145.7" cy="133.5" r="2.4" fill="#b4b4b4"/>
<circle cx="149.3" cy="137.9" r="2.4" fill="#acacac"/>
<circle cx="153.0" cy="142.3" r="2.4" fill="#bbbbbb"/>
<circle cx="156.7" cy="146.7" r="2.4" fill="#a5a5a5"/>
<line x1="159.9" y1="48.3" x2="168.9" y2="101.1" stroke="#2a2a2a" stroke-width="9.0" stroke-linecap="round"/>
<line x1="159.9" y1="48.3" x2="168.9" y2="101.1" stroke="#919191" stroke-width="6.8" stroke-linecap="round"/>
<circle cx="160.4" cy="51.2" r="2.4" fill="#a9a9a9"/>
<circle cx="161.4" cy="57.1" r="2.4" fill="#afafaf"/>
<circle cx="162.4" cy="63.0" r="2.4" fill="#b2b2b2"/>
<circle cx="163.4" cy="68.8" r="2.4" fill="#a8a8a8"/>
<circle cx="164.4" cy="74.7" r="2.4" fill="#b3b3b3"/>
<circle cx="165.4" cy="80.6" r="2.4" fill="#b3b3b3"/>
<circle cx="166.4" cy="86.4" r="2.4" fill="#bbbbbb"/>
<circle cx="167.4" cy="92.3" r="2.4" fill="#b1b1b1"/>
<circle cx="168.4" cy="98.2" r="2.4" fill="#afafaf"/>
<line x1="106.5" y1="99.7" x2="132.7" y2="31.6" stroke="#2a2a2a" stroke-width="8.9" stroke-linecap="round"/>
<line x1="106.5" y1="99.7" x2="132.7" y2="31.6" stroke="#a4a4a4" stroke-width="6.7" stroke-linecap="round"/>
<circle cx="107.5" cy="97.1" r="2.4" fill="#d5d5d5"/>
<circle cx="109.5" cy="91.8" r="2.4" fill="#d5d5d5"/>
<circle cx="111.5" cy="86.6" r="2.4" fill="#c7c7c7"/>
<circle cx="113.6" cy="81.4" r="2.4" fill="#bebebe"/>
<circle cx="115.6" cy="76.1" r="2.4" fill="#d4d4d4"/>
<circle cx="117.6" cy="70.9" r="2.4" fill="#bcbcbc"/>
<circle cx="119.6" cy="65.6" r="2.4" fill="#d0d0d0"/>
<circle cx="121.6" cy="60.4" r="2.4" fill="#bfbfbf"/>
<circle cx="123.7" cy="55.2" r="2.4" fill="#cccccc"/>
<circle cx="125.7" cy="49.9" r="2.4" fill="#cecece"/>
<circle cx="127.7" cy="44.7" r="2.4" fill="#d0d0d0"/>
<circle cx="129.7" cy="39.4" r="2.4" fill="#bebebe"/>
<circle cx="131.7" cy="34.2" r="2.4" fill="#cccccc"/>
<line x1="147.4" y1="75.0" x2="178.7" y2="146.2" stroke="#2a2a2a" stroke-width="7.6" stroke-linecap="round"/>
<line x1="147.4" y1="75.0" x2="178.7" y2="146.2" stroke="#979797" stroke-width="5.4" stroke-linecap="round"/>
<circle cx="148.6" cy="77.5" r="1.9" fill="#b0b0b0"/>
<circle cx="150.8" cy="82.6" r="1.9" fill="#c4c4c4"/>
<circle cx="153.0" cy="87.7" r="1.9" fill="#b7b7b7"/>
<circle cx="155.2" cy="92.8" r="1.9" fill="#c5c5c5"/>
<circle cx="157.5" cy="97.9" r="1.9" fill="#b4b4b4"/>
<circle cx="159.7" cy="103.0" r="1.9" fill="#b7b7b7"/>
<circle cx="161.9" cy="108.0" r="1.9" fill="#b4b4b4"/>
<circle cx="164.2" cy="113.1" r="1.9" fill="#b9b9b9"/>
<circle cx="166.4" cy="118.2" r="1.9" fill="#b2b2b2"/>
<circle cx="168.6" cy="123.3" r="1.9" fill="#adadad"/>
<circle cx="170.9" cy="128.4" r="1.9" fill="#c1c1c1"/>
<circle cx="173.1" cy="133.5" r="1.9" fill="#b5b5b5"/>
<circle cx="175.3" cy="138.6" r="1.9" fill="#b4b4b4"/>
<circle cx="177.6" cy="143.7" r="1.9" fill="#b5b5b5"/>
<line x1="16.5" y1="56.8" x2="102.0" y2="33.4" stroke="#2a2a2a" stroke-width="7.2" stroke-linecap="round"/>
<line x1="16.5" y1="56.8" x2="102.0" y2="33.4" stroke="#a1a1a1" stroke-width="5.0" stroke-linecap="round"/>
<circle cx="19.2" cy="56.1" r="1.8" fill="#bcbcbc"/>
<circle cx="24.5" cy="54.6" r="1.8" fill="#c0c0c0"/>
<circle cx="29.9" cy="53.2" r="1.8" fill="#c2c2c2"/>
<circle cx="35.2" cy="51.7" r="1.8" fill="#bababa"/>
<circle cx="40.6" cy="50.3" r="1.8" fill="#c7c7c7"/>
<circle cx="45.9" cy="48.8" r="1.8" fill="#c1c1c1"/>
<circle cx="51.3" cy="47.3" r="1.8" fill="#d2d2d2"/>
<circle cx="56.6" cy="45.9" r="1.8" fill="#c6c6c6"/>
<circle cx="61.9" cy="44.4" r="1.8" fill="#c1c1c1"/>
<circle cx="67.3" cy="42.9" r="1.8" fill="#c8c8c8"/>
<circle cx="72.6" cy="41.5" r="1.8" fill="#cacaca"/>
<circle cx="78.0" cy="40.0" r="1.8" fill="#bdbdbd"/>
<circle cx="83.3" cy="38.6" r="1.8" fill="#b9b9b9"/>
<circle cx="88.7" cy="37.1" r="1.8" fill="#c0c0c0"/>
<circle cx="94.0" cy="35.6" r="1.8" fill="#c8c8c8"/>
<circle cx="99.3" cy="34.2" r="1.8" fill="#c8c8c8"/>
<line x1="69.1" y1="148.7" x2="93.7" y2="76.1" stroke="#2a2a2a" stroke-width="8.6" stroke-linecap="round"/>
<line x1="69.1" y1="148.7" x2="93.7" y2="76.1" stroke="#8d8d8d" stroke-width="6.4" stroke-linecap="round"/>
<circle cx="70.0" cy="145.9" r="2.3" fill="#aeaeae"/>
<circle cx="71.9" cy="140.3" r="2.3" fill="#b2b2b2"/>
<circle cx="73.8" cy="134.8" r="2.3" fill="#b4b4b4"/>
<circle cx="75.7" cy="129.2" r="2.3" fill="#b6b6b6"/>
<circle cx="77.6" cy="123.6" r="2.3" fill="#bebebe"/>
<circle cx="79.5" cy="118.0" r="2.3" fill="#a5a5a5"/>
<circle cx="81.4" cy="112.4" r="2.3" fill="#bcbcbc"/>
<circle cx="83.3" cy="106.8" r="2.3" fill="#b2b2b2"/>
<circle cx="85.1" cy="101.3" r="2.3" fill="#b5b5b5"/>
<circle cx="87.0" cy="95.7" r="2.3" fill="#ababab"/>
<circle cx="88.9" cy="90.1" r="2.3" fill="#b1b1b1"/>
<circle cx="90.8" cy="84.5" r="2.3" fill="#a9a9a9"/>
<circle cx="92.7" cy="78.9" r="2.3" fill="#a5a5a5"/>
<line x1="12.8" y1="78.1" x2="64.9" y2="67.4" stroke="#2a2a2a" stroke-width="7.2" stroke-linecap="round"/>
<line x1="12.8" y1="78.1" x2="64.9" y2="67.4" stroke="#939393" stroke-width="5.0" stroke-linecap="round"/>
<circle cx="15.7" cy="77.5" r="1.8" fill="#c0c0c0"/>
<circle cx="21.5" cy="76.3" r="1.8" fill="#b6b6b6"/>
<circle cx="27.2" cy="75.1" r="1.8" fill="#b9b9b9"/>
<circle cx="33.0" cy="74.0" r="1.8" fill="#b7b7b7"/>
<circle cx="38.8" cy="72.8" r="1.8" fill="#c2c2c2"/>
<circle cx="44.6" cy="71.6" r="1.8" fill="#bdbdbd"/>
<circle cx="50.4" cy="70.4" r="1.8" fill="#b0b0b0"/>
<circle cx="56.2" cy="69.2" r="1.8" fill="#aeaeae"/>
<circle cx="62.0" cy="68.0" r="1.8" fill="#bababa"/>
<line x1="143.3" y1="37.4" x2="247.2" y2="37.7" stroke="#2a2a2a" stroke-width="7.9" stroke-linecap="round"/>
<line x1="143.3" y1="37.4" x2="247.2" y2="37.7" stroke="#979797" stroke-width="5.7" stroke-linecap="round"/>
<circle cx="146.2" cy="37.5" r="2.1" fill="#c0c0c0"/>
<circle cx="152.0" cy="37.5" r="2.1" fill="#c5c5c5"/>
<circle cx="157.8" cy="37.5" r="2.1" fill="#b8b8b8"/>
<circle cx="163.5" cy="37.5" r="2.1" fill="#b9b9b9"/>
<circle cx="169.3" cy="37.5" r="2.1" fill="#c8c8c8"/>
<circle cx="175.1" cy="37.5" r="2.1" fill="#afafaf"/>
<circle cx="180.8" cy="37.5" r="2.1" fill="#bfbfbf"/>
<circle cx="186.6" cy="37.5" r="2.1" fill="#bfbfbf"/>
<circle cx="192.4" cy="37.6" r="2.1" fill="#aeaeae"/>
<circle cx="198.2" cy="37.6" r="2.1" fill="#bebebe"/>
<circle cx="203.9" cy="37.6" r="2.1" fill="#c0c0c0"/>
<circle cx="209.7" cy="37.6" r="2.1" fill="#c7c7c7"/>
<circle cx="215.5" cy="37.6" r="2.1" fill="#b7b7b7"/>
<circle cx="221.2" cy="37.6" r="2.1" fill="#c9c9c9"/>
<circle cx="227.0" cy="37.6" r="2.1" fill="#bcbcbc"/>
<circle cx="232.8" cy="37.7" r="2.1" fill="#bbbbbb"/>
<circle cx="238.5" cy="37.7" r="2.1" fill="#c7c7c7"/>
<circle cx="244.3" cy="37.7" r="2.1" fill="#aeaeae"/>
<line x1="31.5" y1="84.1" x2="84.8" y2="91.9" stroke="#2a2a2a" stroke-width="7.2" stroke-linecap="round"/>
<line x1="31.5" y1="84.1" x2="84.8" y2="91.9" stroke="#9a9a9a" stroke-width="5.0" stroke-linecap="round"/>
<circle cx="34.4" cy="84.6" r="1.8" fill="#bababa"/>
<circle cx="40.4" cy="85.4" r="1.8" fill="#c6c6c6"/>
<circle cx="46.3" cy="86.3" r="1.8" fill="#c0c0c0"/>
<circle cx="52.2" cy="87.2" r="1.8" fill="#cacaca"/>
<circle cx="58.1" cy="88.0" r="1.8" fill="#b8b8b8"/>
<circle cx="64.1" cy="88.9" r="1.8" fill="#bababa"/>
<circle cx="70.0" cy="89.7" r="1.8" fill="#b7b7b7"/>
<circle cx="75.9" cy="90.6" r="1.8" fill="#b2b2b2"/>
<circle cx="81.8" cy="91.5" r="1.8" fill="#b8b8b8"/>
<line x1="4.6" y1="-0.8" x2="67.0" y2="37.6" stroke="#2a2a2a" stroke-width="8.0" stroke-linecap="round"/>
<line x1="4.6" y1="-0.8" x2="67.0" y2="37.6" stroke="#8f8f8f" stroke-width="5.8" stroke-linecap="round"/>
<circle cx="7.0" cy="0.7" r="2.1" fill="#b3b3b3"/>
<circle cx="11.8" cy="3.7" r="2.1" fill="#c0c0c0"/>
<circle cx="16.6" cy="6.6" r="2.1" fill="#b7b7b7"/>
<circle cx="21.4" cy="9.6" r="2.1" fill="#bbbbbb"/>
<circle cx="26.2" cy="12.5" r="2.1" fill="#aeaeae"/>
<circle cx="31.0" cy="15.5" r="2.1" fill="#aeaeae"/>
<circle cx="35.8" cy="18.4" r="2.1" fill="#adadad"/>
<circle cx="40.6" cy="21.4" r="2.1" fill="#b5b5b5"/>
<circle cx="45.4" cy="24.3" r="2.1" fill="#b6b6b6"/>
<circle cx="50.2" cy="27.3" r="2.1" fill="#bbbbbb"/>
<circle cx="55.0" cy="30.2" r="2.1" fill="#a6a6a6"/>
<circle cx="59.8" cy="33.2" r="2.1" fill="#b9b9b9"/>
<circle cx="64.6" cy="36.1" r="2.1" fill="#bdbdbd"/>
<line x1="157.2" y1="-5.7" x2="174.2" y2="65.2" stroke="#2a2a2a" stroke-width="7.2" stroke-linecap="round"/>
<line x1="157.2" y1="-5.7" x2="174.2" y2="65.2" stroke="#888888" stroke-width="5.0" stroke-linecap="round"/>
<circle cx="157.8" cy="-3.0" r="1.8" fill="#b5b5b5"/>
<circle cx="159.2" cy="2.5" r="1.8" fill="#ababab"/>
<circle cx="160.5" cy="7.9" r="1.8" fill="#b3b3b3"/>
<circle cx="161.8" cy="13.4" r="1.8" fill="#a0a0a0"/>
<circle cx="163.1" cy="18.8" r="1.8" fill="#acacac"/>
<circle cx="164.4" cy="24.3" r="1.8" fill="#adadad"/>
<circle cx="165.7" cy="29.8" r="1.8" fill="#a8a8a8"/>
<circle cx="167.0" cy="35.2" r="1.8" fill="#a2a2a2"/>
<circle cx="168.3" cy="40.7" r="1.8" fill="#b1b1b1"/>
<circle cx="169.6" cy="46.1" r="1.8" fill="#b1b1b1"/>
<circle cx="170.9" cy="51.6" r="1.8" fill="#b6b6b6"/>
<circle cx="172.3" cy="57.0" r="1.8" fill="#a0a0a0"/>
<circle cx="173.6" cy="62.5" r="1.8" fill="#9f9f9f"/>
<line x1="17.2" y1="53.3" x2="97.0" y2="-4.3" stroke="#2a2a2a" stroke-width="7.2" stroke-linecap="round"/>
<line x1="17.2" y1="53.3" x2="97.0" y2="-4.3" stroke="#8c8c8c" stroke-width="5.0" stroke-linecap="round"/>
<circle cx="19.6" cy="51.6" r="1.8" fill="#a3a3a3"/>
<circle cx="24.3" cy="48.2" r="1.8" fill="#b8b8b8"/>
<circle cx="29.0" cy="44.8" r="1.8" fill="#bcbcbc"/>
<circle cx="33.6" cy="41.5" r="1.8" fill="#b4b4b4"/>
<circle cx="38.3" cy="38.1" r="1.8" fill="#acacac"/>
<circle cx="43.0" cy="34.7" r="1.8" fill="#b9b9b9"/>
<circle cx="47.7" cy="31.3" r="1.8" fill="#b8b8b8"/>
<circle cx="52.4" cy="27.9" r="1.8" fill="#b2b2b2"/>
<circle cx="57.1" cy="24.5" r="1.8" fill="#a9a9a9"/>
<circle cx="61.8" cy="21.1" r="1.8" fill="#aaaaaa"/>
<circle cx="66.5" cy="17.7" r="1.8" fill="#aeaeae"/>
<circle cx="71.2" cy="14.3" r="1.8" fill="#ababab"/>
<circle cx="75.9" cy="11.0" r="1.8" fill="#aeaeae"/>
<circle cx="80.6" cy="7.6" r="1.8" fill="#b4b4b4"/>
<circle cx="85.3" cy="4.2" r="1.8" fill="#bcbcbc"/>
<circle cx="89.9" cy="0.8" r="1.8" fill="#a3a3a3"/>
<circle cx="94.6" cy="-2.6" r="1.8" fill="#b2b2b2"/>
<line x1="52.4" y1="57.8" x2="118.1" y2="-16.4" stroke="#2a2a2a" stroke-width="7.8" stroke-linecap="round"/>
<line x1="52.4" y1="57.8" x2="118.1" y2="-16.4" stroke="#9b9b9b" stroke-width="5.6" stroke-linecap="round"/>
<circle cx="54.3" cy="55.8" r="2.0" fill="#bdbdbd"/>
<circle cx="57.9" cy="51.7" r="2.0" fill="#b3b3b3"/>
<circle cx="61.6" cy="47.5" r="2.0" fill="#c4c4c4"/>
<circle cx="65.2" cy="43.4" r="2.0" fill="#c2c2c2"/>
<circle cx="68.9" cy="39.3" r="2.0" fill="#cdcdcd"/>
<circle cx="72.5" cy="35.2" r="2.0" fill="#c4c4c4"/>
<circle cx="76.2" cy="31.0" r="2.0" fill="#b6b6b6"/>
<circle cx="79.8" cy="26.9" r="2.0" fill="#c7c7c7"/>
<circle cx="83.5" cy="22.8" r="2.0" fill="#c1c1c1"/>
<circle cx="87.1" cy="18.6" r="2.0" fill="#b4b4b4"/>
<circle cx="90.8" cy="14.5" r="2.0" fill="#bfbfbf"/>
<circle cx="94.4" cy="10.4" r="2.0" fill="#cacaca"/>
<circle cx="98.1" cy="6.3" r="2.0" fill="#c3c3c3"/>
<circle cx="101.7" cy="2.1" r="2.0" fill="#bdbdbd"/>
<circle cx="105.4" cy="-2.0" r="2.0" fill="#b2b2b2"/>
<circle cx="109.0" cy="-6.1" r="2.0" fill="#c4c4c4"/>
<circle cx="112.7" cy="-10.2" r="2.0" fill="#cdcdcd"/>
<circle cx="116.3" cy="-14.4" r="2.0" fill="#c9c9c9"/>
<line x1="195.2" y1="42.3" x2="224.1" y2="-3.3" stroke="#2a2a2a" stroke-width="7.0" stroke-linecap="round"/>
<line x1="195.2" y1="42.3" x2="224.1" y2="-3.3" stroke="#9c9c9c" stroke-width="4.8" stroke-linecap="round"/>
<circle cx="196.8" cy="39.7" r="1.7" fill="#b9b9b9"/>
<circle cx="200.0" cy="34.7" r="1.7" fill="#c7c7c7"/>
<circle cx="203.2" cy="29.6" r="1.7" fill="#b7b7b7"/>
<circle cx="206.4" cy="24.5" r="1.7" fill="#b3b3b3"/>
<circle cx="209.6" cy="19.5" r="1.7" fill="#c8c8c8"/>
<circle cx="212.8" cy="14.4" r="1.7" fill="#c6c6c6"/>
<circle cx="216.1" cy="9.3" r="1.7" fill="#cacaca"/>
<circle cx="219.3" cy="4.3" r="1.7" fill="#c7c7c7"/>
<circle cx="222.5" cy="-0.8" r="1.7" fill="#b4b4b4"/>
<line x1="-12.1" y1="58.8" x2="54.2" y2="14.3" stroke="#2a2a2a" stroke-width="8.3" stroke-linecap="round"/>
<line x1="-12.1" y1="58.8" x2="54.2" y2="14.3" stroke="#a1a1a1" stroke-width="6.1" stroke-linecap="round"/>
<circle cx="-9.7" cy="57.2" r="2.2" fill="#d1d1d1"/>
<circle cx="-5.0" cy="54.0" r="2.2" fill="#b9b9b9"/>
<circle cx="-0.3" cy="50.9" r="2.2" fill="#b8b8b8"/>
<circle cx="4.5" cy="47.7" r="2.2" fill="#b9b9b9"/>
<circle cx="9.2" cy="44.5" r="2.2" fill="#d0d0d0"/>
<circle cx="13.9" cy="41.3" r="2.2" fill="#cacaca"/>
<circle cx="18.7" cy="38.1" r="2.2" fill="#c9c9c9"/>
<circle cx="23.4" cy="35.0" r="2.2" fill="#c2c2c2"/>
<circle cx="28.2" cy="31.8" r="2.2" fill="#c0c0c0"/>
<circle cx="32.9" cy="28.6" r="2.2" fill="#c8c8c8"/>
<circle cx="37.6" cy="25.4" r="2.2" fill="#d2d2d2"/>
<circle cx="42.4" cy="22.3" r="2.2" fill="#cfcfcf"/>
<circle cx="47.1" cy="19.1" r="2.2" fill="#c8c8c8"/>
<circle cx="51.8" cy="15.9" r="2.2" fill="#c0c0c0"/>
<line x1="13.4" y1="33.9" x2="68.1" y2="-21.6" stroke="#2a2a2a" stroke-width="7.3" stroke-linecap="round"/>
<line x1="13.4" y1="33.9" x2="68.1" y2="-21.6" stroke="#a3a3a3" stroke-width="5.1" stroke-linecap="round"/>
<circle cx="15.4" cy="31.9" r="1.8" fill="#bdbdbd"/>
<circle cx="19.3" cy="28.0" r="1.8" fill="#d4d4d4"/>
<circle cx="23.2" cy="24.0" r="1.8" fill="#bebebe"/>
<circle cx="27.1" cy="20.1" r="1.8" fill="#d0d0d0"/>
<circle cx="31.0" cy="16.1" r="1.8" fill="#c7c7c7"/>
<circle cx="34.9" cy="12.1" r="1.8" fill="#cfcfcf"/>
<circle cx="38.8" cy="8.2" r="1.8" fill="#c6c6c6"/>
<circle cx="42.7" cy="4.2" r="1.8" fill="#c1c1c1"/>
<circle cx="46.6" cy="0.2" r="1.8" fill="#cfcfcf"/>
<circle cx="50.5" cy="-3.7" r="1.8" fill="#c3c3c3"/>
<circle cx="54.4" cy="-7.7" r="1.8" fill="#c1c1c1"/>
<circle cx="58.3" cy="-11.7" r="1.8" fill="#cbcbcb"/>
<circle cx="62.2" cy="-15.6" r="1.8" fill="#cccccc"/>
<circle cx="66.1" cy="-19.6" r="1.8" fill="#d0d0d0"/>
<line x1="7.2" y1="137.2" x2="59.4" y2="67.0" stroke="#2a2a2a" stroke-width="9.0" stroke-linecap="round"/>
<line x1="7.2" y1="137.2" x2="59.4" y2="67.0" stroke="#9f9f9f" stroke-width="6.8" stroke-linecap="round"/>
<circle cx="8.9" cy="134.8" r="2.4" fill="#c6c6c6"/>
<circle cx="12.4" cy="130.1" r="2.4" fill="#bebebe"/>
<circle cx="15.9" cy="125.5" r="2.4" fill="#c1c1c1"/>
<circle cx="19.4" cy="120.8" r="2.4" fill="#cecece"/>
<circle cx="22.8" cy="116.1" r="2.4" fill="#c0c0c0"/>
<circle cx="26.3" cy="111.4" r="2.4" fill="#c9c9c9"/>
<circle cx="29.8" cy="106.8" r="2.4" fill="#c6c6c6"/>
<circle cx="33.3" cy="102.1" r="2.4" fill="#cfcfcf"/>
<circle cx="36.7" cy="97.4" r="2.4" fill="#cccccc"/>
<circle cx="40.2" cy="92.7" r="2.4" fill="#bdbdbd"/>
<circle cx="43.7" cy="88.1" r="2.4" fill="#b5b5b5"/>
<circle cx="47.2" cy="83.4" r="2.4" fill="#bdbdbd"/>
<circle cx="50.7" cy="78.7" r="2.4" fill="#c1c1c1"/>
<circle cx="54.1" cy="74.0" r="2.4" fill="#c6c6c6"/>
<circle cx="57.6" cy="69.4" r="2.4" fill="#cccccc"/>
<line x1="58.9" y1="-32.6" x2="124.2" y2="47.5" stroke="#2a2a2a" stroke-width="8.6" stroke-linecap="round"/>
<line x1="58.9" y1="-32.6" x2="124.2" y2="47.5" stroke="#a1a1a1" stroke-width="6.4" stroke-linecap="round"/>
<circle cx="60.7" cy="-30.4" r="2.3" fill="#c7c7c7"/>
<circle cx="64.4" cy="-25.9" r="2.3" fill="#bebebe"/>
<circle cx="68.0" cy="-21.5" r="2.3" fill="#cecece"/>
<circle cx="71.6" cy="-17.0" r="2.3" fill="#cdcdcd"/>
<circle cx="75.2" cy="-12.6" r="2.3" fill="#cacaca"/>
<circle cx="78.8" cy="-8.1" r="2.3" fill="#d0d0d0"/>
<circle cx="82.5" cy="-3.7" r="2.3" fill="#c0c0c0"/>
<circle cx="86.1" cy="0.8" r="2.3" fill="#b9b9b9"/>
<circle cx="89.7" cy="5.2" r="2.3" fill="#c6c6c6"/>
<circle cx="93.3" cy="9.7" r="2.3" fill="#cdcdcd"/>
<circle cx="97.0" cy="14.1" r="2.3" fill="#bcbcbc"/>
<circle cx="100.6" cy="18.6" r="2.3" fill="#cccccc"/>
<circle cx="104.2" cy="23.0" r="2.3" fill="#d1d1d1"/>
<circle cx="107.8" cy="27.5" r="2.3" fill="#bdbdbd"/>
<circle cx="111.5" cy="31.9" r="2.3" fill="#c8c8c8"/>
<circle cx="115.1" cy="36.4" r="2.3" fill="#c9c9c9"/>
<circle cx="118.7" cy="40.8" r="2.3" fill="#c4c4c4"/>
<circle cx="122.3" cy="45.3" r="2.3" fill="#bcbcbc"/>
<line x1="159.2" y1="48.7" x2="192.4" y2="17.4" stroke="#2a2a2a" stroke-width="7.8" stroke-linecap="round"/>
<line x1="159.2" y1="48.7" x2="192.4" y2="17.4" stroke="#979797" stroke-width="5.6" stroke-linecap="round"/>
<circle cx="161.3" cy="46.7" r="2.0" fill="#bcbcbc"/>
<circle cx="165.4" cy="42.8" r="2.0" fill="#b7b7b7"/>
<circle cx="169.6" cy="38.9" r="2.0" fill="#aeaeae"/>
<circle cx="173.7" cy="35.0" r="2.0" fill="#b8b8b8"/>
<circle cx="177.9" cy="31.1" r="2.0" fill="#bbbbbb"/>
<circle cx="182.1" cy="27.2" r="2.0" fill="#b4b4b4"/>
<circle cx="186.2" cy="23.2" r="2.0" fill="#c4c4c4"/>
<circle cx="190.4" cy="19.3" r="2.0" fill="#b6b6b6"/>
<line x1="59.8" y1="82.1" x2="73.1" y2="138.8" stroke="#2a2a2a" stroke-width="7.4" stroke-linecap="round"/>
<line x1="59.8" y1="82.1" x2="73.1" y2="138.8" stroke="#8c8c8c" stroke-width="5.2" stroke-linecap="round"/>
<circle cx="60.4" cy="85.0" r="1.9" fill="#b6b6b6"/>
<circle cx="61.8" cy="90.6" r="1.9" fill="#acacac"/>
<circle cx="63.1" cy="96.3" r="1.9" fill="#b2b2b2"/>
<circle cx="64.4" cy="102.0" r="1.9" fill="#adadad"/>
<circle cx="65.8" cy="107.6" r="1.9" fill="#b0b0b0"/>
<circle cx="67.1" cy="113.3" r="1.9" fill="#a6a6a6"/>
<circle cx="68.4" cy="119.0" r="1.9" fill="#a3a3a3"/>
<circle cx="69.8" cy="124.6" r="1.9" fill="#bebebe"/>
<circle cx="71.1" cy="130.3" r="1.9" fill="#acacac"/>
<circle cx="72.4" cy="136.0" r="1.9" fill="#a5a5a5"/>
<line x1="129.9" y1="104.9" x2="171.1" y2="75.3" stroke="#2a2a2a" stroke-width="7.6" stroke-linecap="round"/>
<line x1="129.9" y1="104.9" x2="171.1" y2="75.3" stroke="#878787" stroke-width="5.4" stroke-linecap="round"/>
<circle cx="132.2" cy="103.3" r="2.0" fill="#a5a5a5"/>
<circle cx="136.8" cy="100.0" r="2.0" fill="#aeaeae"/>
<circle cx="141.4" cy="96.7" r="2.0" fill="#a0a0a0"/>
<circle cx="145.9" cy="93.4" r="2.0" fill="#a3a3a3"/>
<circle cx="150.5" cy="90.1" r="2.0" fill="#b6b6b6"/>
<circle cx="155.1" cy="86.8" r="2.0" fill="#adadad"/>
<circle cx="159.7" cy="83.5" r="2.0" fill="#aeaeae"/>
<circle cx="164.2" cy="80.2" r="2.0" fill="#a3a3a3"/>
<circle cx="168.8" cy="76.9" r="2.0" fill="#b7b7b7"/>
<line x1="-10.4" y1="179.5" x2="66.2" y2="98.8" stroke="#2a2a2a" stroke-width="8.5" stroke-linecap="round"/>
<line x1="-10.4" y1="179.5" x2="66.2" y2="98.8" stroke="#9f9f9f" stroke-width="6.3" stroke-linecap="round"/>
<circle cx="-8.5" cy="177.5" r="2.3" fill="#d0d0d0"/>
<circle cx="-4.7" cy="173.4" r="2.3" fill="#bcbcbc"/>
<circle cx="-0.8" cy="169.4" r="2.3" fill="#b6b6b6"/>
<circle cx="3.0" cy="165.4" r="2.3" fill="#bbbbbb"/>
<circle cx="6.8" cy="161.3" r="2.3" fill="#bababa"/>
<circle cx="10.6" cy="157.3" r="2.3" fill="#b7b7b7"/>
<circle cx="14.5" cy="153.3" r="2.3" fill="#b6b6b6"/>
<circle cx="18.3" cy="149.2" r="2.3" fill="#c5c5c5"/>
<circle cx="22.1" cy="145.2" r="2.3" fill="#cdcdcd"/>
<circle cx="26.0" cy="141.2" r="2.3" fill="#c2c2c2"/>
<circle cx="29.8" cy="137.1" r="2.3" fill="#d0d0d0"/>
<circle cx="33.6" cy="133.1" r="2.3" fill="#cfcfcf"/>
<circle cx="37.5" cy="129.1" r="2.3" fill="#b7b7b7"/>
<circle cx="41.3" cy="125.0" r="2.3" fill="#c6c6c6"/>
<circle cx="45.1" cy="121.0" r="2.3" fill="#c0c0c0"/>
<circle cx="49.0" cy="117.0" r="2.3" fill="#b8b8b8"/>
<circle cx="52.8" cy="112.9" r="2.3" fill="#d0d0d0"/>
<circle cx="56.6" cy="108.9" r="2.3" fill="#bcbcbc"/>
<circle cx="60.4" cy="104.9" r="2.3" fill="#c5c5c5"/>
<circle cx="64.3" cy="100.8" r="2.3" fill="#c7c7c7"/>
<line x1="-4.9" y1="121.6" x2="42.6" y2="88.6" stroke="#2a2a2a" stroke-width="8.7" stroke-linecap="round"/>
<line x1="-4.9" y1="121.6" x2="42.6" y2="88.6" stroke="#929292" stroke-width="6.5" stroke-linecap="round"/>
<circle cx="-2.5" cy="120.0" r="2.3" fill="#aeaeae"/>
<circle cx="2.3" cy="116.7" r="2.3" fill="#bcbcbc"/>
<circle cx="7.0" cy="113.4" r="2.3" fill="#acacac"/>
<circle cx="11.7" cy="110.1" r="2.3" fill="#c2c2c2"/>
<circle cx="16.5" cy="106.7" r="2.3" fill="#c2c2c2"/>
<circle cx="21.2" cy="103.4" r="2.3" fill="#a9a9a9"/>
<circle cx="26.0" cy="100.1" r="2.3" fill="#b7b7b7"/>
<circle cx="30.7" cy="96.8" r="2.3" fill="#a8a8a8"/>
<circle cx="35.4" cy="93.5" r="2.3" fill="#c1c1c1"/>
<circle cx="40.2" cy="90.2" r="2.3" fill="#afafaf"/>
<line x1="106.4" y1="39.1" x2="123.3" y2="127.7" stroke="#2a2a2a" stroke-width="9.0" stroke-linecap="round"/>
<line x1="106.4" y1="39.1" x2="123.3" y2="127.7" stroke="#888888" stroke-width="6.8" stroke-linecap="round"/>
<circle cx="107.0" cy="41.8" r="2.4" fill="#a2a2a2"/>
<circle cx="108.0" cy="47.4" r="2.4" fill="#b3b3b3"/>
<circle cx="109.1" cy="52.9" r="2.4" fill="#b8b8b8"/>
<circle cx="110.1" cy="58.5" r="2.4" fill="#b1b1b1"/>
<circle cx="111.2" cy="64.0" r="2.4" fill="#a7a7a7"/>
<circle cx="112.2" cy="69.5" r="2.4" fill="#afafaf"/>
<circle cx="113.3" cy="75.1" r="2.4" fill="#b3b3b3"/>
<circle cx="114.4" cy="80.6" r="2.4" fill="#a1a1a1"/>
<circle cx="115.4" cy="86.2" r="2.4" fill="#a7a7a7"/>
<circle cx="116.5" cy="91.7" r="2.4" fill="#a5a5a5"/>
<circle cx="117.5" cy="97.3" r="2.4" fill="#a2a2a2"/>
<circle cx="118.6" cy="102.8" r="2.4" fill="#acacac"/>
<circle cx="119.6" cy="108.3" r="2.4" fill="#a3a3a3"/>
<circle cx="120.7" cy="113.9" r="2.4" fill="#a5a5a5"/>
<circle cx="121.8" cy="119.4" r="2.4" fill="#a2a2a2"/>
<circle cx="122.8" cy="125.0" r="2.4" fill="#b1b1b1"/>
<line x1="13.1" y1="102.3" x2="74.6" y2="12.5" stroke="#2a2a2a" stroke-width="8.6" stroke-linecap="round"/>
<line x1="13.1" y1="102.3" x2="74.6" y2="12.5" stroke="#8b8b8b" stroke-width="6.4" stroke-linecap="round"/>
<circle cx="14.8" cy="100.0" r="2.3" fill="#b9b9b9"/>
<circle cx="18.0" cy="95.3" r="2.3" fill="#a3a3a3"/>
<circle cx="21.2" cy="90.5" r="2.3" fill="#b3b3b3"/>
<circle cx="24.5" cy="85.8" r="2.3" fill="#acacac"/>
<circle cx="27.7" cy="81.1" r="2.3" fill="#b6b6b6"/>
<circle cx="30.9" cy="76.3" r="2.3" fill="#b7b7b7"/>
<circle cx="34.2" cy="71.6" r="2.3" fill="#bcbcbc"/>
<circle cx="37.4" cy="66.9" r="2.3" fill="#bbbbbb"/>
<circle cx="40.6" cy="62.1" r="2.3" fill="#acacac"/>
<circle cx="43.9" cy="57.4" r="2.3" fill="#a2a2a2"/>
<circle cx="47.1" cy="52.7" r="2.3" fill="#a3a3a3"/>
<circle cx="50.3" cy="47.9" r="2.3" fill="#bcbcbc"/>
<circle cx="53.6" cy="43.2" r="2.3" fill="#aaaaaa"/>
<circle cx="56.8" cy="38.5" r="2.3" fill="#a8a8a8"/>
<circle cx="60.0" cy="33.8" r="2.3" fill="#a4a4a4"/>
<circle cx="63.3" cy="29.0" r="2.3" fill="#ababab"/>
<circle cx="66.5" cy="24.3" r="2.3" fill="#ababab"/>
<circle cx="69.7" cy="19.6" r="2.3" fill="#b6b6b6"/>
<circle cx="73.0" cy="14.8" r="2.3" fill="#a6a6a6"/>
<line x1="137.4" y1="146.6" x2="191.0" y2="133.3" stroke="#2a2a2a" stroke-width="8.7" stroke-linecap="round"/>
<line x1="137.4" y1="146.6" x2="191.0" y2="133.3" stroke="#8e8e8e" stroke-width="6.5" stroke-linecap="round"/>
<circle cx="140.1" cy="145.9" r="2.4" fill="#b0b0b0"/>
<circle cx="145.5" cy="144.6" r="2.4" fill="#a9a9a9"/>
<circle cx="150.8" cy="143.3" r="2.4" fill="#acacac"/>
<circle cx="156.2" cy="141.9" r="2.4" fill="#bcbcbc"/>
<circle cx="161.5" cy="140.6" r="2.4" fill="#aeaeae"/>
<circle cx="166.9" cy="139.3" r="2.4" fill="#a9a9a9"/>
<circle cx="172.2" cy="138.0" r="2.4" fill="#b2b2b2"/>
<circle cx="177.6" cy="136.6" r="2.4" fill="#adadad"/>
<circle cx="182.9" cy="135.3" r="2.4" fill="#bebebe"/>
<circle cx="188.3" cy="134.0" r="2.4" fill="#a8a8a8"/>
<line x1="-5.8" y1="88.6" x2="37.8" y2="187.1" stroke="#2a2a2a" stroke-width="8.3" stroke-linecap="round"/>
<line x1="-5.8" y1="88.6" x2="37.8" y2="187.1" stroke="#8d8d8d" stroke-width="6.1" stroke-linecap="round"/>
<circle cx="-4.6" cy="91.2" r="2.2" fill="#b0b0b0"/>
<circle cx="-2.3" cy="96.4" r="2.2" fill="#ababab"/>
<circle cx="-0.0" cy="101.6" r="2.2" fill="#aaaaaa"/>
<circle cx="2.3" cy="106.8" r="2.2" fill="#a8a8a8"/>
<circle cx="4.6" cy="111.9" r="2.2" fill="#adadad"/>
<circle cx="6.8" cy="117.1" r="2.2" fill="#bfbfbf"/>
<circle cx="9.1" cy="122.3" r="2.2" fill="#bfbfbf"/>
<circle cx="11.4" cy="127.5" r="2.2" fill="#bdbdbd"/>
<circle cx="13.7" cy="132.7" r="2.2" fill="#a6a6a6"/>
<circle cx="16.0" cy="137.8" r="2.2" fill="#ababab"/>
<circle cx="18.3" cy="143.0" r="2.2" fill="#bcbcbc"/>
<circle cx="20.6" cy="148.2" r="2.2" fill="#a4a4a4"/>
<circle cx="22.9" cy="153.4" r="2.2" fill="#b7b7b7"/>
<circle cx="25.2" cy="158.6" r="2.2" fill="#ababab"/>
<circle cx="27.5" cy="163.8" r="2.2" fill="#bebebe"/>
<circle cx="29.8" cy="168.9" r="2.2" fill="#a3a3a3"/>
<circle cx="32.1" cy="174.1" r="2.2" fill="#b9b9b9"/>
<circle cx="34.3" cy="179.3" r="2.2" fill="#acacac"/>
<circle cx="36.6" cy="184.5" r="2.2" fill="#a7a7a7"/>
<line x1="31.5" y1="179.8" x2="104.0" y2="95.7" stroke="#2a2a2a" stroke-width="7.6" stroke-linecap="round"/>
<line x1="31.5" y1="179.8" x2="104.0" y2="95.7" stroke="#919191" stroke-width="5.4" stroke-linecap="round"/>
<circle cx="33.3" cy="177.7" r="1.9" fill="#a8a8a8"/>
<circle cx="36.9" cy="173.5" r="1.9" fill="#b3b3b3"/>
<circle cx="40.6" cy="169.3" r="1.9" fill="#afafaf"/>
<circle cx="44.2" cy="165.1" r="1.9" fill="#acacac"/>
<circle cx="47.8" cy="160.9" r="1.9" fill="#bfbfbf"/>
<circle cx="51.4" cy="156.7" r="1.9" fill="#b6b6b6"/>
<circle cx="55.1" cy="152.5" r="1.9" fill="#aeaeae"/>
<circle cx="58.7" cy="148.3" r="1.9" fill="#acacac"/>
<circle cx="62.3" cy="144.0" r="1.9" fill="#b8b8b8"/>
<circle cx="65.9" cy="139.8" r="1.9" fill="#bfbfbf"/>
<circle cx="69.6" cy="135.6" r="1.9" fill="#c0c0c0"/>
<circle cx="73.2" cy="131.4" r="1.9" fill="#bcbcbc"/>
<circle cx="76.8" cy="127.2" r="1.9" fill="#bdbdbd"/>
<circle cx="80.5" cy="123.0" r="1.9" fill="#acacac"/>
<circle cx="84.1" cy="118.8" r="1.9" fill="#ababab"/>
<circle cx="87.7" cy="114.6" r="1.9" fill="#bababa"/>
<circle cx="91.3" cy="110.4" r="1.9" fill="#b9b9b9"/>
<circle cx="95.0" cy="106.2" r="1.9" fill="#adadad"/>
<circle cx="98.6" cy="102.0" r="1.9" fill="#b0b0b0"/>
<circle cx="102.2" cy="97.8" r="1.9" fill="#a8a8a8"/>
<line x1="153.0" y1="126.4" x2="224.2" y2="145.0" stroke="#2a2a2a" stroke-width="8.4" stroke-linecap="round"/>
<line x1="153.0" y1="126.4" x2="224.2" y2="145.0" stroke="#888888" stroke-width="6.2" stroke-linecap="round"/>
<circle cx="155.7" cy="127.1" r="2.2" fill="#b5b5b5"/>
<circle cx="161.2" cy="128.5" r="2.2" fill="#a8a8a8"/>
<circle cx="166.7" cy="130.0" r="2.2" fill="#b6b6b6"/>
<circle cx="172.2" cy="131.4" r="2.2" fill="#b6b6b6"/>
<circle cx="177.6" cy="132.8" r="2.2" fill="#acacac"/>
<circle cx="183.1" cy="134.2" r="2.2" fill="#9f9f9f"/>
<circle cx="188.6" cy="135.7" r="2.2" fill="#b8b8b8"/>
<circle cx="194.1" cy="137.1" r="2.2" fill="#acacac"/>
<circle cx="199.5" cy="138.5" r="2.2" fill="#b7b7b7"/>
<circle cx="205.0" cy="140.0" r="2.2" fill="#a6a6a6"/>
<circle cx="210.5" cy="141.4" r="2.2" fill="#a3a3a3"/>
<circle cx="216.0" cy="142.8" r="2.2" fill="#b5b5b5"/>
<circle cx="221.4" cy="144.3" r="2.2" fill="#a8a8a8"/>
<line x1="154.2" y1="127.6" x2="230.9" y2="90.3" stroke="#2a2a2a" stroke-width="8.7" stroke-linecap="round"/>
<line x1="154.2" y1="127.6" x2="230.9" y2="90.3" stroke="#919191" stroke-width="6.5" stroke-linecap="round"/>
<circle cx="156.8" cy="126.4" r="2.3" fill="#c1c1c1"/>
<circle cx="161.9" cy="123.9" r="2.3" fill="#c2c2c2"/>
<circle cx="167.0" cy="121.4" r="2.3" fill="#a9a9a9"/>
<circle cx="172.1" cy="118.9" r="2.3" fill="#b1b1b1"/>
<circle cx="177.2" cy="116.4" r="2.3" fill="#aeaeae"/>
<circle cx="182.3" cy="113.9" r="2.3" fill="#bebebe"/>
<circle cx="187.4" cy="111.5" r="2.3" fill="#c1c1c1"/>
<circle cx="192.5" cy="109.0" r="2.3" fill="#bdbdbd"/>
<circle cx="197.6" cy="106.5" r="2.3" fill="#bfbfbf"/>
<circle cx="202.7" cy="104.0" r="2.3" fill="#b7b7b7"/>
<circle cx="207.9" cy="101.5" r="2.3" fill="#c0c0c0"/>
<circle cx="213.0" cy="99.0" r="2.3" fill="#afafaf"/>
<circle cx="218.1" cy="96.5" r="2.3" fill="#aaaaaa"/>
<circle cx="223.2" cy="94.1" r="2.3" fill="#bcbcbc"/>
<circle cx="228.3" cy="91.6" r="2.3" fill="#b4b4b4"/>
<line x1="58.7" y1="175.3" x2="106.8" y2="108.1" stroke="#2a2a2a" stroke-width="7.0" stroke-linecap="round"/>
<line x1="58.7" y1="175.3" x2="106.8" y2="108.1" stroke="#a4a4a4" stroke-width="4.8" stroke-linecap="round"/>
<circle cx="60.3" cy="173.1" r="1.7" fill="#c0c0c0"/>
<circle cx="63.5" cy="168.6" r="1.7" fill="#bfbfbf"/>
<circle cx="66.7" cy="164.1" r="1.7" fill="#bcbcbc"/>
<circle cx="69.9" cy="159.6" r="1.7" fill="#c1c1c1"/>
<circle cx="73.1" cy="155.2" r="1.7" fill="#d0d0d0"/>
<circle cx="76.3" cy="150.7" r="1.7" fill="#bababa"/>
<circle cx="79.5" cy="146.2" r="1.7" fill="#bcbcbc"/>
<circle cx="82.7" cy="141.7" r="1.7" fill="#cdcdcd"/>
<circle cx="85.9" cy="137.2" r="1.7" fill="#bfbfbf"/>
<circle cx="89.2" cy="132.8" r="1.7" fill="#bababa"/>
<circle cx="92.4" cy="128.3" r="1.7" fill="#cacaca"/>
<circle cx="95.6" cy="123.8" r="1.7" fill="#cacaca"/>
<circle cx="98.8" cy="119.3" r="1.7" fill="#c8c8c8"/>
<circle cx="102.0" cy="114.9" r="1.7" fill="#cdcdcd"/>
<circle cx="105.2" cy="110.4" r="1.7" fill="#bcbcbc"/>
<line x1="79.5" y1="26.9" x2="118.7" y2="-1.2" stroke="#2a2a2a" stroke-width="7.2" stroke-linecap="round"/>
<line x1="79.5" y1="26.9" x2="118.7" y2="-1.2" stroke="#959595" stroke-width="5.0" stroke-linecap="round"/>
<circle cx="82.0" cy="25.1" r="1.8" fill="#b9b9b9"/>
<circle cx="86.9" cy="21.6" r="1.8" fill="#b3b3b3"/>
<circle cx="91.8" cy="18.1" r="1.8" fill="#afafaf"/>
<circle cx="96.7" cy="14.6" r="1.8" fill="#b7b7b7"/>
<circle cx="101.6" cy="11.1" r="1.8" fill="#afafaf"/>
<circle cx="106.5" cy="7.6" r="1.8" fill="#bcbcbc"/>
<circle cx="111.3" cy="4.1" r="1.8" fill="#c3c3c3"/>
<circle cx="116.2" cy="0.5" r="1.8" fill="#afafaf"/>
<line x1="186.3" y1="129.3" x2="232.3" y2="72.9" stroke="#2a2a2a" stroke-width="8.9" stroke-linecap="round"/>
<line x1="186.3" y1="129.3" x2="232.3" y2="72.9" stroke="#878787" stroke-width="6.7" stroke-linecap="round"/>
<circle cx="188.1" cy="127.1" r="2.4" fill="#afafaf"/>
<circle cx="191.6" cy="122.8" r="2.4" fill="#b0b0b0"/>
<circle cx="195.2" cy="118.4" r="2.4" fill="#aeaeae"/>
<circle cx="198.7" cy="114.1" r="2.4" fill="#aeaeae"/>
<circle cx="202.2" cy="109.7" r="2.4" fill="#9e9e9e"/>
<circle cx="205.8" cy="105.4" r="2.4" fill="#b8b8b8"/>
<circle cx="209.3" cy="101.1" r="2.4" fill="#9f9f9f"/>
<circle cx="212.9" cy="96.7" r="2.4" fill="#a7a7a7"/>
<circle cx="216.4" cy="92.4" r="2.4" fill="#a8a8a8"/>
<circle cx="219.9" cy="88.1" r="2.4" fill="#b5b5b5"/>
<circle cx="223.5" cy="83.7" r="2.4" fill="#b1b1b1"/>
<circle cx="227.0" cy="79.4" r="2.4" fill="#b5b5b5"/>
<circle cx="230.6" cy="75.1" r="2.4" fill="#adadad"/>
<line x1="-34.3" y1="23.7" x2="54.8" y2="77.9" stroke="#2a2a2a" stroke-width="7.1" stroke-linecap="round"/>
<line x1="-34.3" y1="23.7" x2="54.8" y2="77.9" stroke="#969696" stroke-width="4.9" stroke-linecap="round"/>
<circle cx="-31.9" cy="25.2" r="1.8" fill="#c7c7c7"/>
<circle cx="-26.9" cy="28.2" r="1.8" fill="#c6c6c6"/>
<circle cx="-22.0" cy="31.2" r="1.8" fill="#b3b3b3"/>
<circle cx="-17.0" cy="34.2" r="1.8" fill="#b8b8b8"/>
<circle cx="-12.0" cy="37.2" r="1.8" fill="#bebebe"/>
<circle cx="-7.1" cy="40.2" r="1.8" fill="#b6b6b6"/>
<circle cx="-2.1" cy="43.2" r="1.8" fill="#bbbbbb"/>
<circle cx="2.8" cy="46.3" r="1.8" fill="#aeaeae"/>
<circle cx="7.8" cy="49.3" r="1.8" fill="#b8b8b8"/>
<circle cx="12.7" cy="52.3" r="1.8" fill="#bababa"/>
<circle cx="17.7" cy="55.3" r="1.8" fill="#adadad"/>
<circle cx="22.6" cy="58.3" r="1.8" fill="#b0b0b0"/>
<circle cx="27.6" cy="61.3" r="1.8" fill="#c7c7c7"/>
<circle cx="32.5" cy="64.3" r="1.8" fill="#c2c2c2"/>
<circle cx="37.5" cy="67.3" r="1.8" fill="#c6c6c6"/>
<circle cx="42.4" cy="70.3" r="1.8" fill="#bebebe"/>
<circle cx="47.4" cy="73.4" r="1.8" fill="#c3c3c3"/>
<circle cx="52.3" cy="76.4" r="1.8" fill="#c5c5c5"/>
<line x1="183.5" y1="118.2" x2="222.5" y2="37.2" stroke="#2a2a2a" stroke-width="7.5" stroke-linecap="round"/>
<line x1="183.5" y1="118.2" x2="222.5" y2="37.2" stroke="#9b9b9b" stroke-width="5.3" stroke-linecap="round"/>
<circle cx="184.8" cy="115.7" r="1.9" fill="#b9b9b9"/>
<circle cx="187.2" cy="110.6" r="1.9" fill="#c0c0c0"/>
<circle cx="189.6" cy="105.5" r="1.9" fill="#cbcbcb"/>
<circle cx="192.1" cy="100.5" r="1.9" fill="#c2c2c2"/>
<circle cx="194.5" cy="95.4" r="1.9" fill="#b8b8b8"/>
<circle cx="196.9" cy="90.3" r="1.9" fill="#bfbfbf"/>
<circle cx="199.4" cy="85.3" r="1.9" fill="#bdbdbd"/>
<circle cx="201.8" cy="80.2" r="1.9" fill="#cbcbcb"/>
<circle cx="204.3" cy="75.2" r="1.9" fill="#b9b9b9"/>
<circle cx="206.7" cy="70.1" r="1.9" fill="#b9b9b9"/>
<circle cx="209.1" cy="65.0" r="1.9" fill="#c3c3c3"/>
<circle cx="211.6" cy="60.0" r="1.9" fill="#b4b4b4"/>
<circle cx="214.0" cy="54.9" r="1.9" fill="#c1c1c1"/>
<circle cx="216.4" cy="49.8" r="1.9" fill="#cccccc"/>
<circle cx="218.9" cy="44.8" r="1.9" fill="#bfbfbf"/>
<circle cx="221.3" cy="39.7" r="1.9" fill="#b8b8b8"/>
<line x1="-49.3" y1="98.0" x2="58.0" y2="72.8" stroke="#2a2a2a" stroke-width="7.9" stroke-linecap="round"/>
<line x1="-49.3" y1="98.0" x2="58.0" y2="72.8" stroke="#969696" stroke-width="5.7" stroke-linecap="round"/>
<circle cx="-46.6" cy="97.4" r="2.0" fill="#c5c5c5"/>
<circle cx="-41.3" cy="96.1" r="2.0" fill="#c5c5c5"/>
<circle cx="-35.9" cy="94.9" r="2.0" fill="#bcbcbc"/>
<circle cx="-30.5" cy="93.6" r="2.0" fill="#b4b4b4"/>
<circle cx="-25.2" cy="92.3" r="2.0" fill="#c0c0c0"/>
<circle cx="-19.8" cy="91.1" r="2.0" fill="#c1c1c1"/>
<circle cx="-14.4" cy="89.8" r="2.0" fill="#b4b4b4"/>
<circle cx="-9.1" cy="88.6" r="2.0" fill="#b9b9b9"/>
<circle cx="-3.7" cy="87.3" r="2.0" fill="#bfbfbf"/>
<circle cx="1.7" cy="86.0" r="2.0" fill="#b2b2b2"/>
<circle cx="7.0" cy="84.8" r="2.0" fill="#b7b7b7"/>
<circle cx="12.4" cy="83.5" r="2.0" fill="#bbbbbb"/>
<circle cx="17.8" cy="82.3" r="2.0" fill="#b6b6b6"/>
<circle cx="23.1" cy="81.0" r="2.0" fill="#c5c5c5"/>
<circle cx="28.5" cy="79.8" r="2.0" fill="#b4b4b4"/>
<circle cx="33.9" cy="78.5" r="2.0" fill="#b9b9b9"/>
<circle cx="39.2" cy="77.2" r="2.0" fill="#c3c3c3"/>
<circle cx="44.6" cy="76.0" r="2.0" fill="#adadad"/>
<circle cx="50.0" cy="74.7" r="2.0" fill="#b5b5b5"/>
<circle cx="55.3" cy="73.5" r="2.0" fill="#b1b1b1"/>
<line x1="140.2" y1="32.2" x2="165.8" y2="114.3" stroke="#2a2a2a" stroke-width="7.0" stroke-linecap="round"/>
<line x1="140.2" y1="32.2" x2="165.8" y2="114.3" stroke="#919191" stroke-width="4.8" stroke-linecap="round"/>
<circle cx="141.0" cy="34.9" r="1.7" fill="#bfbfbf"/>
<circle cx="142.7" cy="40.4" r="1.7" fill="#aeaeae"/>
<circle cx="144.4" cy="45.9" r="1.7" fill="#b7b7b7"/>
<circle cx="146.1" cy="51.4" r="1.7" fill="#b5b5b5"/>
<circle cx="147.8" cy="56.8" r="1.7" fill="#afafaf"/>
<circle cx="149.6" cy="62.3" r="1.7" fill="#c3c3c3"/>
<circle cx="151.3" cy="67.8" r="1.7" fill="#afafaf"/>
<circle cx="153.0" cy="73.3" r="1.7" fill="#bdbdbd"/>
<circle cx="154.7" cy="78.7" r="1.7" fill="#acacac"/>
<circle cx="156.4" cy="84.2" r="1.7" fill="#a9a9a9"/>
<circle cx="158.1" cy="89.7" r="1.7" fill="#bfbfbf"/>
<circle cx="159.8" cy="95.1" r="1.7" fill="#b3b3b3"/>
<circle cx="161.5" cy="100.6" r="1.7" fill="#a9a9a9"/>
<circle cx="163.2" cy="106.1" r="1.7" fill="#b2b2b2"/>
<circle cx="164.9" cy="111.6" r="1.7" fill="#b3b3b3"/>
<line x1="39.6" y1="61.2" x2="118.2" y2="82.6" stroke="#2a2a2a" stroke-width="9.0" stroke-linecap="round"/>
<line x1="39.6" y1="61.2" x2="118.2" y2="82.6" stroke="#9b9b9b" stroke-width="6.8" stroke-linecap="round"/>
<circle cx="42.4" cy="62.0" r="2.4" fill="#cbcbcb"/>
<circle cx="48.0" cy="63.5" r="2.4" fill="#bcbcbc"/>
<circle cx="53.6" cy="65.0" r="2.4" fill="#c4c4c4"/>
<circle cx="59.3" cy="66.6" r="2.4" fill="#b5b5b5"/>
<circle cx="64.9" cy="68.1" r="2.4" fill="#b6b6b6"/>
<circle cx="70.5" cy="69.6" r="2.4" fill="#c2c2c2"/>
<circle cx="76.1" cy="71.1" r="2.4" fill="#b9b9b9"/>
<circle cx="81.7" cy="72.7" r="2.4" fill="#c8c8c8"/>
<circle cx="87.3" cy="74.2" r="2.4" fill="#b3b3b3"/>
<circle cx="92.9" cy="75.7" r="2.4" fill="#c9c9c9"/>
<circle cx="98.6" cy="77.3" r="2.4" fill="#cbcbcb"/>
<circle cx="104.2" cy="78.8" r="2.4" fill="#cdcdcd"/>
<circle cx="109.8" cy="80.3" r="2.4" fill="#b8b8b8"/>
<circle cx="115.4" cy="81.9" r="2.4" fill="#c2c2c2"/>
<line x1="19.4" y1="146.4" x2="67.6" y2="122.1" stroke="#2a2a2a" stroke-width="8.7" stroke-linecap="round"/>
<line x1="19.4" y1="146.4" x2="67.6" y2="122.1" stroke="#878787" stroke-width="6.5" stroke-linecap="round"/>
<circle cx="22.1" cy="145.0" r="2.4" fill="#b2b2b2"/>
<circle cx="27.4" cy="142.3" r="2.4" fill="#adadad"/>
<circle cx="32.8" cy="139.6" r="2.4" fill="#ababab"/>
<circle cx="38.2" cy="136.9" r="2.4" fill="#b8b8b8"/>
<circle cx="43.5" cy="134.3" r="2.4" fill="#adadad"/>
<circle cx="48.9" cy="131.6" r="2.4" fill="#a8a8a8"/>
<circle cx="54.2" cy="128.9" r="2.4" fill="#b3b3b3"/>
<circle cx="59.6" cy="126.2" r="2.4" fill="#b5b5b5"/>
<circle cx="64.9" cy="123.5" r="2.4" fill="#aeaeae"/>
<line x1="103.2" y1="-9.1" x2="172.6" y2="53.5" stroke="#2a2a2a" stroke-width="7.6" stroke-linecap="round"/>
<line x1="103.2" y1="-9.1" x2="172.6" y2="53.5" stroke="#919191" stroke-width="5.4" stroke-linecap="round"/>
<circle cx="105.4" cy="-7.2" r="1.9" fill="#b1b1b1"/>
<circle cx="109.7" cy="-3.2" r="1.9" fill="#b6b6b6"/>
<circle cx="114.0" cy="0.7" r="1.9" fill="#b8b8b8"/>
<circle cx="118.4" cy="4.6" r="1.9" fill="#b9b9b9"/>
<circle cx="122.7" cy="8.5" r="1.9" fill="#a7a7a7"/>
<circle cx="127.1" cy="12.4" r="1.9" fill="#bcbcbc"/>
<circle cx="131.4" cy="16.3" r="1.9" fill="#c3c3c3"/>
<circle cx="135.7" cy="20.2" r="1.9" fill="#b2b2b2"/>
<circle cx="140.1" cy="24.1" r="1.9" fill="#afafaf"/>
<circle cx="144.4" cy="28.0" r="1.9" fill="#b6b6b6"/>
<circle cx="148.8" cy="32.0" r="1.9" fill="#bebebe"/>
<circle cx="153.1" cy="35.9" r="1.9" fill="#b3b3b3"/>
<circle cx="157.4" cy="39.8" r="1.9" fill="#b2b2b2"/>
<circle cx="161.8" cy="43.7" r="1.9" fill="#aeaeae"/>
<circle cx="166.1" cy="47.6" r="1.9" fill="#bebebe"/>
<circle cx="170.5" cy="51.5" r="1.9" fill="#b0b0b0"/>
<line x1="18.9" y1="125.4" x2="100.6" y2="48.6" stroke="#2a2a2a" stroke-width="7.4" stroke-linecap="round"/>
<line x1="18.9" y1="125.4" x2="100.6" y2="48.6" stroke="#939393" stroke-width="5.2" stroke-linecap="round"/>
<circle cx="21.0" cy="123.5" r="1.9" fill="#c3c3c3"/>
<circle cx="25.1" cy="119.6" r="1.9" fill="#aaaaaa"/>
<circle cx="29.1" cy="115.8" r="1.9" fill="#ababab"/>
<circle cx="33.2" cy="111.9" r="1.9" fill="#b9b9b9"/>
<circle cx="37.3" cy="108.1" r="1.9" fill="#b7b7b7"/>
<circle cx="41.4" cy="104.3" r="1.9" fill="#c3c3c3"/>
<circle cx="45.5" cy="100.4" r="1.9" fill="#bfbfbf"/>
<circle cx="49.6" cy="96.6" r="1.9" fill="#b8b8b8"/>
<circle cx="53.6" cy="92.7" r="1.9" fill="#c5c5c5"/>
<circle cx="57.7" cy="88.9" r="1.9" fill="#b8b8b8"/>
<circle cx="61.8" cy="85.1" r="1.9" fill="#b8b8b8"/>
<circle cx="65.9" cy="81.2" r="1.9" fill="#bcbcbc"/>
<circle cx="70.0" cy="77.4" r="1.9" fill="#b4b4b4"/>
<circle cx="74.1" cy="73.5" r="1.9" fill="#b3b3b3"/>
<circle cx="78.2" cy="69.7" r="1.9" fill="#bababa"/>
<circle cx="82.2" cy="65.9" r="1.9" fill="#b3b3b3"/>
<circle cx="86.3" cy="62.0" r="1.9" fill="#c4c4c4"/>
<circle cx="90.4" cy="58.2" r="1.9" fill="#bcbcbc"/>
<circle cx="94.5" cy="54.3" r="1.9" fill="#b8b8b8"/>
<circle cx="98.6" cy="50.5" r="1.9" fill="#acacac"/>
<line x1="140.7" y1="28.9" x2="222.6" y2="67.1" stroke="#2a2a2a" stroke-width="8.9" stroke-linecap="round"/>
<line x1="140.7" y1="28.9" x2="222.6" y2="67.1" stroke="#8b8b8b" stroke-width="6.7" stroke-linecap="round"/>
<circle cx="143.2" cy="30.1" r="2.4" fill="#a6a6a6"/>
<circle cx="148.4" cy="32.5" r="2.4" fill="#adadad"/>
<circle cx="153.5" cy="34.9" r="2.4" fill="#acacac"/>
<circle cx="158.6" cy="37.3" r="2.4" fill="#b7b7b7"/>
<circle cx="163.7" cy="39.7" r="2.4" fill="#bababa"/>
<circle cx="168.8" cy="42.1" r="2.4" fill="#b2b2b2"/>
<circle cx="174.0" cy="44.4" r="2.4" fill="#b4b4b4"/>
<circle cx="179.1" cy="46.8" r="2.4" fill="#b6b6b6"/>
<circle cx="184.2" cy="49.2" r="2.4" fill="#a4a4a4"/>
<circle cx="189.3" cy="51.6" r="2.4" fill="#ababab"/>
<circle cx="194.4" cy="54.0" r="2.4" fill="#ababab"/>
<circle cx="199.6" cy="56.4" r="2.4" fill="#a3a3a3"/>
<circle cx="204.7" cy="58.8" r="2.4" fill="#aaaaaa"/>
<circle cx="209.8" cy="61.2" r="2.4" fill="#a6a6a6"/>
<circle cx="214.9" cy="63.6" r="2.4" fill="#b3b3b3"/>
<circle cx="220.0" cy="66.0" r="2.4" fill="#a9a9a9"/>
<line x1="-18.3" y1="32.7" x2="79.2" y2="92.3" stroke="#2a2a2a" stroke-width="8.8" stroke-linecap="round"/>
<line x1="-18.3" y1="32.7" x2="79.2" y2="92.3" stroke="#939393" stroke-width="6.6" stroke-linecap="round"/>
<circle cx="-15.9" cy="34.2" r="2.4" fill="#aeaeae"/>
<circle cx="-11.0" cy="37.2" r="2.4" fill="#b1b1b1"/>
<circle cx="-6.1" cy="40.1" r="2.4" fill="#b7b7b7"/>
<circle cx="-1.3" cy="43.1" r="2.4" fill="#b7b7b7"/>
<circle cx="3.6" cy="46.1" r="2.4" fill="#aeaeae"/>
<circle cx="8.5" cy="49.1" r="2.4" fill="#aeaeae"/>
<circle cx="13.4" cy="52.1" r="2.4" fill="#bbbbbb"/>
<circle cx="18.3" cy="55.0" r="2.4" fill="#bababa"/>
<circle cx="23.1" cy="58.0" r="2.4" fill="#b3b3b3"/>
<circle cx="28.0" cy="61.0" r="2.4" fill="#c5c5c5"/>
<circle cx="32.9" cy="64.0" r="2.4" fill="#bbbbbb"/>
<circle cx="37.8" cy="67.0" r="2.4" fill="#aaaaaa"/>
<circle cx="42.6" cy="69.9" r="2.4" fill="#b5b5b5"/>
<circle cx="47.5" cy="72.9" r="2.4" fill="#bfbfbf"/>
<circle cx="52.4" cy="75.9" r="2.4" fill="#b2b2b2"/>
<circle cx="57.3" cy="78.9" r="2.4" fill="#bcbcbc"/>
<circle cx="62.2" cy="81.9" r="2.4" fill="#a9a9a9"/>
<circle cx="67.0" cy="84.8" r="2.4" fill="#b2b2b2"/>
<circle cx="71.9" cy="87.8" r="2.4" fill="#c1c1c1"/>
<circle cx="76.8" cy="90.8" r="2.4" fill="#bababa"/>
<line x1="108.6" y1="113.1" x2="149.5" y2="73.0" stroke="#2a2a2a" stroke-width="8.5" stroke-linecap="round"/>
<line x1="108.6" y1="113.1" x2="149.5" y2="73.0" stroke="#989898" stroke-width="6.3" stroke-linecap="round"/>
<circle cx="110.6" cy="111.1" r="2.3" fill="#c6c6c6"/>
<circle cx="114.7" cy="107.1" r="2.3" fill="#c7c7c7"/>
<circle cx="118.8" cy="103.1" r="2.3" fill="#bcbcbc"/>
<circle cx="122.9" cy="99.1" r="2.3" fill="#b2b2b2"/>
<circle cx="127.0" cy="95.1" r="2.3" fill="#b3b3b3"/>
<circle cx="131.1" cy="91.1" r="2.3" fill="#bebebe"/>
<circle cx="135.2" cy="87.1" r="2.3" fill="#b2b2b2"/>
<circle cx="139.3" cy="83.1" r="2.3" fill="#bcbcbc"/>
<circle cx="143.4" cy="79.1" r="2.3" fill="#bcbcbc"/>
<circle cx="147.5" cy="75.0" r="2.3" fill="#aeaeae"/>
<line x1="133.4" y1="85.9" x2="189.5" y2="26.7" stroke="#2a2a2a" stroke-width="8.6" stroke-linecap="round"/>
<line x1="133.4" y1="85.9" x2="189.5" y2="26.7" stroke="#999999" stroke-width="6.4" stroke-linecap="round"/>
<circle cx="135.4" cy="83.8" r="2.3" fill="#c5c5c5"/>
<circle cx="139.4" cy="79.6" r="2.3" fill="#b1b1b1"/>
<circle cx="143.5" cy="75.4" r="2.3" fill="#afafaf"/>
<circle cx="147.5" cy="71.1" r="2.3" fill="#c4c4c4"/>
<circle cx="151.5" cy="66.9" r="2.3" fill="#b8b8b8"/>
<circle cx="155.5" cy="62.7" r="2.3" fill="#c3c3c3"/>
<circle cx="159.5" cy="58.4" r="2.3" fill="#b9b9b9"/>
<circle cx="163.5" cy="54.2" r="2.3" fill="#b4b4b4"/>
<circle cx="167.5" cy="50.0" r="2.3" fill="#b6b6b6"/>
<circle cx="171.5" cy="45.7" r="2.3" fill="#b2b2b2"/>
<circle cx="175.5" cy="41.5" r="2.3" fill="#c8c8c8"/>
<circle cx="179.5" cy="37.3" r="2.3" fill="#bfbfbf"/>
<circle cx="183.5" cy="33.0" r="2.3" fill="#b9b9b9"/>
<circle cx="187.5" cy="28.8" r="2.3" fill="#bbbbbb"/>
<line x1="70.2" y1="102.2" x2="124.7" y2="128.1" stroke="#2a2a2a" stroke-width="7.8" stroke-linecap="round"/>
<line x1="70.2" y1="102.2" x2="124.7" y2="128.1" stroke="#9d9d9d" stroke-width="5.6" stroke-linecap="round"/>
<circle cx="72.9" cy="103.5" r="2.0" fill="#b5b5b5"/>
<circle cx="78.4" cy="106.1" r="2.0" fill="#b5b5b5"/>
<circle cx="83.8" cy="108.6" r="2.0" fill="#bababa"/>
<circle cx="89.3" cy="111.2" r="2.0" fill="#bababa"/>
<circle cx="94.7" cy="113.8" r="2.0" fill="#b8b8b8"/>
<circle cx="100.2" cy="116.4" r="2.0" fill="#c4c4c4"/>
<circle cx="105.6" cy="119.0" r="2.0" fill="#b8b8b8"/>
<circle cx="111.1" cy="121.6" r="2.0" fill="#b4b4b4"/>
<circle cx="116.6" cy="124.2" r="2.0" fill="#cccccc"/>
<circle cx="122.0" cy="126.8" r="2.0" fill="#c0c0c0"/>
<line x1="60.3" y1="104.2" x2="149.8" y2="171.8" stroke="#2a2a2a" stroke-width="8.0" stroke-linecap="round"/>
<line x1="60.3" y1="104.2" x2="149.8" y2="171.8" stroke="#a3a3a3" stroke-width="5.8" stroke-linecap="round"/>
<circle cx="62.5" cy="105.9" r="2.1" fill="#c0c0c0"/>
<circle cx="67.0" cy="109.3" r="2.1" fill="#c4c4c4"/>
<circle cx="71.5" cy="112.7" r="2.1" fill="#cdcdcd"/>
<circle cx="76.0" cy="116.1" r="2.1" fill="#bfbfbf"/>
<circle cx="80.4" cy="119.4" r="2.1" fill="#c2c2c2"/>
<circle cx="84.9" cy="122.8" r="2.1" fill="#d1d1d1"/>
<circle cx="89.4" cy="126.2" r="2.1" fill="#c7c7c7"/>
<circle cx="93.9" cy="129.6" r="2.1" fill="#cfcfcf"/>
<circle cx="98.3" cy="133.0" r="2.1" fill="#c0c0c0"/>
<circle cx="102.8" cy="136.3" r="2.1" fill="#bebebe"/>
<circle cx="107.3" cy="139.7" r="2.1" fill="#c3c3c3"/>
<circle cx="111.8" cy="143.1" r="2.1" fill="#bebebe"/>
<circle cx="116.3" cy="146.5" r="2.1" fill="#d4d4d4"/>
<circle cx="120.7" cy="149.9" r="2.1" fill="#c1c1c1"/>
<circle cx="125.2" cy="153.2" r="2.1" fill="#c9c9c9"/>
<circle cx="129.7" cy="156.6" r="2.1" fill="#bcbcbc"/>
<circle cx="134.2" cy="160.0" r="2.1" fill="#c8c8c8"/>
<circle cx="138.6" cy="163.4" r="2.1" fill="#c4c4c4"/>
<circle cx="143.1" cy="166.8" r="2.1" fill="#c4c4c4"/>
<circle cx="147.6" cy="170.1" r="2.1" fill="#bbbbbb"/>
<line x1="42.5" y1="94.7" x2="124.0" y2="22.4" stroke="#2a2a2a" stroke-width="8.1" stroke-linecap="round"/>
<line x1="42.5" y1="94.7" x2="124.0" y2="22.4" stroke="#929292" stroke-width="5.9" stroke-linecap="round"/>
<circle cx="44.7" cy="92.7" r="2.1" fill="#b5b5b5"/>
<circle cx="49.0" cy="88.9" r="2.1" fill="#b2b2b2"/>
<circle cx="53.2" cy="85.1" r="2.1" fill="#b4b4b4"/>
<circle cx="57.5" cy="81.3" r="2.1" fill="#b0b0b0"/>
<circle cx="61.8" cy="77.5" r="2.1" fill="#a9a9a9"/>
<circle cx="66.1" cy="73.7" r="2.1" fill="#bfbfbf"/>
<circle cx="70.4" cy="69.9" r="2.1" fill="#afafaf"/>
<circle cx="74.7" cy="66.1" r="2.1" fill="#acacac"/>
<circle cx="79.0" cy="62.3" r="2.1" fill="#aeaeae"/>
<circle cx="83.3" cy="58.5" r="2.1" fill="#b7b7b7"/>
<circle cx="87.6" cy="54.7" r="2.1" fill="#bebebe"/>
<circle cx="91.8" cy="50.9" r="2.1" fill="#b8b8b8"/>
<circle cx="96.1" cy="47.1" r="2.1" fill="#b5b5b5"/>
<circle cx="100.4" cy="43.3" r="2.1" fill="#bebebe"/>
<circle cx="104.7" cy="39.5" r="2.1" fill="#afafaf"/>
<circle cx="109.0" cy="35.7" r="2.1" fill="#b2b2b2"/>
<circle cx="113.3" cy="31.9" r="2.1" fill="#aeaeae"/>
<circle cx="117.6" cy="28.1" r="2.1" fill="#b3b3b3"/>
<circle cx="121.9" cy="24.3" r="2.1" fill="#bababa"/>
<line x1="13.6" y1="166.3" x2="76.3" y2="74.0" stroke="#2a2a2a" stroke-width="8.0" stroke-linecap="round"/>
<line x1="13.6" y1="166.3" x2="76.3" y2="74.0" stroke="#8d8d8d" stroke-width="5.8" stroke-linecap="round"/>
<circle cx="15.2" cy="164.0" r="2.1" fill="#b0b0b0"/>
<circle cx="18.3" cy="159.4" r="2.1" fill="#a7a7a7"/>
<circle cx="21.4" cy="154.7" r="2.1" fill="#b7b7b7"/>
<circle cx="24.6" cy="150.1" r="2.1" fill="#ababab"/>
<circle cx="27.7" cy="145.5" r="2.1" fill="#bdbdbd"/>
<circle cx="30.8" cy="140.9" r="2.1" fill="#b4b4b4"/>
<circle cx="34.0" cy="136.3" r="2.1" fill="#aeaeae"/>
<circle cx="37.1" cy="131.7" r="2.1" fill="#aaaaaa"/>
<circle cx="40.2" cy="127.0" r="2.1" fill="#b4b4b4"/>
<circle cx="43.4" cy="122.4" r="2.1" fill="#a9a9a9"/>
<circle cx="46.5" cy="117.8" r="2.1" fill="#bcbcbc"/>
<circle cx="49.6" cy="113.2" r="2.1" fill="#a7a7a7"/>
<circle cx="52.8" cy="108.6" r="2.1" fill="#b2b2b2"/>
<circle cx="55.9" cy="104.0" r="2.1" fill="#b3b3b3"/>
<circle cx="59.0" cy="99.4" r="2.1" fill="#ababab"/>
<circle cx="62.2" cy="94.7" r="2.1" fill="#b9b9b9"/>
<circle cx="65.3" cy="90.1" r="2.1" fill="#aeaeae"/>
<circle cx="68.4" cy="85.5" r="2.1" fill="#b6b6b6"/>
<circle cx="71.6" cy="80.9" r="2.1" fill="#b3b3b3"/>
<circle cx="74.7" cy="76.3" r="2.1" fill="#acacac"/>
<line x1="61.8" y1="44.4" x2="134.4" y2="103.5" stroke="#2a2a2a" stroke-width="8.6" stroke-linecap="round"/>
<line x1="61.8" y1="44.4" x2="134.4" y2="103.5" stroke="#8d8d8d" stroke-width="6.4" stroke-linecap="round"/>
<circle cx="64.0" cy="46.1" r="2.3" fill="#a9a9a9"/>
<circle cx="68.2" cy="49.6" r="2.3" fill="#bcbcbc"/>
<circle cx="72.5" cy="53.1" r="2.3" fill="#a5a5a5"/>
<circle cx="76.8" cy="56.5" r="2.3" fill="#bdbdbd"/>
<circle cx="81.0" cy="60.0" r="2.3" fill="#bababa"/>
<circle cx="85.3" cy="63.5" r="2.3" fill="#b9b9b9"/>
<circle cx="89.6" cy="67.0" r="2.3" fill="#a9a9a9"/>
<circle cx="93.8" cy="70.5" r="2.3" fill="#b8b8b8"/>
<circle cx="98.1" cy="74.0" r="2.3" fill="#a6a6a6"/>
<circle cx="102.4" cy="77.4" r="2.3" fill="#acacac"/>
<circle cx="106.6" cy="80.9" r="2.3" fill="#bababa"/>
<circle cx="110.9" cy="84.4" r="2.3" fill="#afafaf"/>
<circle cx="115.2" cy="87.9" r="2.3" fill="#adadad"/>
<circle cx="119.4" cy="91.4" r="2.3" fill="#bbbbbb"/>
<circle cx="123.7" cy="94.8" r="2.3" fill="#b0b0b0"/>
<circle cx="128.0" cy="98.3" r="2.3" fill="#b5b5b5"/>
<circle cx="132.2" cy="101.8" r="2.3" fill="#b5b5b5"/>
<line x1="182.8" y1="-21.9" x2="216.8" y2="32.8" stroke="#2a2a2a" stroke-width="8.6" stroke-linecap="round"/>
<line x1="182.8" y1="-21.9" x2="216.8" y2="32.8" stroke="#969696" stroke-width="6.4" stroke-linecap="round"/>
<circle cx="184.3" cy="-19.4" r="2.3" fill="#b9b9b9"/>
<circle cx="187.4" cy="-14.4" r="2.3" fill="#adadad"/>
<circle cx="190.5" cy="-9.5" r="2.3" fill="#c5c5c5"/>
<circle cx="193.6" cy="-4.5" r="2.3" fill="#b4b4b4"/>
<circle cx="196.7" cy="0.5" r="2.3" fill="#afafaf"/>
<circle cx="199.8" cy="5.5" r="2.3" fill="#b4b4b4"/>
<circle cx="202.9" cy="10.4" r="2.3" fill="#c7c7c7"/>
<circle cx="206.0" cy="15.4" r="2.3" fill="#b0b0b0"/>
<circle cx="209.1" cy="20.4" r="2.3" fill="#b8b8b8"/>
<circle cx="212.2" cy="25.4" r="2.3" fill="#bcbcbc"/>
<circle cx="215.3" cy="30.3" r="2.3" fill="#b4b4b4"/>
<line x1="172.3" y1="23.6" x2="192.6" y2="70.1" stroke="#2a2a2a" stroke-width="9.2" stroke-linecap="round"/>
<line x1="172.3" y1="23.6" x2="192.6" y2="70.1" stroke="#ababab" stroke-width="7.0" stroke-linecap="round"/>
<circle cx="173.4" cy="26.1" r="2.5" fill="#c3c3c3"/>
<circle cx="175.7" cy="31.3" r="2.5" fill="#d5d5d5"/>
<circle cx="177.9" cy="36.5" r="2.5" fill="#dcdcdc"/>
<circle cx="180.2" cy="41.7" r="2.5" fill="#d0d0d0"/>
<circle cx="182.4" cy="46.8" r="2.5" fill="#c4c4c4"/>
<circle cx="184.7" cy="52.0" r="2.5" fill="#cecece"/>
<circle cx="186.9" cy="57.2" r="2.5" fill="#cdcdcd"/>
<circle cx="189.2" cy="62.3" r="2.5" fill="#c6c6c6"/>
<circle cx="191.4" cy="67.5" r="2.5" fill="#d0d0d0"/>
<line x1="150.5" y1="129.6" x2="180.6" y2="81.9" stroke="#2a2a2a" stroke-width="7.8" stroke-linecap="round"/>
<line x1="150.5" y1="129.6" x2="180.6" y2="81.9" stroke="#a7a7a7" stroke-width="5.6" stroke-linecap="round"/>
<circle cx="152.0" cy="127.3" r="2.0" fill="#d1d1d1"/>
<circle cx="155.0" cy="122.5" r="2.0" fill="#d0d0d0"/>
<circle cx="158.0" cy="117.7" r="2.0" fill="#cfcfcf"/>
<circle cx="161.0" cy="112.9" r="2.0" fill="#bfbfbf"/>
<circle cx="164.0" cy="108.2" r="2.0" fill="#d2d2d2"/>
<circle cx="167.0" cy="103.4" r="2.0" fill="#bdbdbd"/>
<circle cx="170.0" cy="98.6" r="2.0" fill="#c8c8c8"/>
<circle cx="173.1" cy="93.9" r="2.0" fill="#c1c1c1"/>
<circle cx="176.1" cy="89.1" r="2.0" fill="#c7c7c7"/>
<circle cx="179.1" cy="84.3" r="2.0" fill="#d8d8d8"/>
<line x1="42.8" y1="-25.3" x2="58.9" y2="88.5" stroke="#2a2a2a" stroke-width="7.5" stroke-linecap="round"/>
<line x1="42.8" y1="-25.3" x2="58.9" y2="88.5" stroke="#ababab" stroke-width="5.3" stroke-linecap="round"/>
<circle cx="43.2" cy="-22.4" r="1.9" fill="#d9d9d9"/>
<circle cx="44.0" cy="-16.7" r="1.9" fill="#d6d6d6"/>
<circle cx="44.8" cy="-11.0" r="1.9" fill="#cbcbcb"/>
<circle cx="45.6" cy="-5.3" r="1.9" fill="#c7c7c7"/>
<circle cx="46.4" cy="0.3" r="1.9" fill="#d9d9d9"/>
<circle cx="47.2" cy="6.0" r="1.9" fill="#cacaca"/>
<circle cx="48.0" cy="11.7" r="1.9" fill="#cccccc"/>
<circle cx="48.8" cy="17.4" r="1.9" fill="#d1d1d1"/>
<circle cx="49.6" cy="23.1" r="1.9" fill="#cccccc"/>
<circle cx="50.4" cy="28.8" r="1.9" fill="#d9d9d9"/>
<circle cx="51.2" cy="34.5" r="1.9" fill="#c8c8c8"/>
<circle cx="52.1" cy="40.1" r="1.9" fill="#c3c3c3"/>
<circle cx="52.9" cy="45.8" r="1.9" fill="#d1d1d1"/>
<circle cx="53.7" cy="51.5" r="1.9" fill="#d3d3d3"/>
<circle cx="54.5" cy="57.2" r="1.9" fill="#d8d8d8"/>
<circle cx="55.3" cy="62.9" r="1.9" fill="#d5d5d5"/>
<circle cx="56.1" cy="68.6" r="1.9" fill="#dbdbdb"/>
<circle cx="56.9" cy="74.3" r="1.9" fill="#dcdcdc"/>
<circle cx="57.7" cy="79.9" r="1.9" fill="#cfcfcf"/>
<circle cx="58.5" cy="85.6" r="1.9" fill="#cfcfcf"/>
<line x1="71.9" y1="124.6" x2="158.5" y2="93.0" stroke="#2a2a2a" stroke-width="8.5" stroke-linecap="round"/>
<line x1="71.9" y1="124.6" x2="158.5" y2="93.0" stroke="#999999" stroke-width="6.3" stroke-linecap="round"/>
<circle cx="74.6" cy="123.6" r="2.3" fill="#b6b6b6"/>
<circle cx="80.0" cy="121.6" r="2.3" fill="#b3b3b3"/>
<circle cx="85.4" cy="119.7" r="2.3" fill="#c1c1c1"/>
<circle cx="90.8" cy="117.7" r="2.3" fill="#bbbbbb"/>
<circle cx="96.3" cy="115.7" r="2.3" fill="#cbcbcb"/>
<circle cx="101.7" cy="113.7" r="2.3" fill="#c7c7c7"/>
<circle cx="107.1" cy="111.7" r="2.3" fill="#bdbdbd"/>
<circle cx="112.5" cy="109.8" r="2.3" fill="#b6b6b6"/>
<circle cx="117.9" cy="107.8" r="2.3" fill="#bababa"/>
<circle cx="123.3" cy="105.8" r="2.3" fill="#b0b0b0"/>
<circle cx="128.7" cy="103.8" r="2.3" fill="#c1c1c1"/>
<circle cx="134.1" cy="101.9" r="2.3" fill="#c7c7c7"/>
<circle cx="139.5" cy="99.9" r="2.3" fill="#bebebe"/>
<circle cx="145.0" cy="97.9" r="2.3" fill="#b3b3b3"/>
<circle cx="150.4" cy="95.9" r="2.3" fill="#b1b1b1"/>
<circle cx="155.8" cy="93.9" r="2.3" fill="#b1b1b1"/>
<line x1="154.6" y1="103.5" x2="227.5" y2="114.3" stroke="#2a2a2a" stroke-width="8.1" stroke-linecap="round"/>
<line x1="154.6" y1="103.5" x2="227.5" y2="114.3" stroke="#a8a8a8" stroke-width="5.9" stroke-linecap="round"/>
<circle cx="157.4" cy="103.9" r="2.1" fill="#d5d5d5"/>
<circle cx="163.0" cy="104.7" r="2.1" fill="#d7d7d7"/>
<circle cx="168.7" cy="105.6" r="2.1" fill="#c3c3c3"/>
<circle cx="174.3" cy="106.4" r="2.1" fill="#c6c6c6"/>
<circle cx="179.9" cy="107.2" r="2.1" fill="#cbcbcb"/>
<circle cx="185.5" cy="108.1" r="2.1" fill="#cecece"/>
<circle cx="191.1" cy="108.9" r="2.1" fill="#c8c8c8"/>
<circle cx="196.7" cy="109.7" r="2.1" fill="#c4c4c4"/>
<circle cx="202.3" cy="110.6" r="2.1" fill="#c1c1c1"/>
<circle cx="207.9" cy="111.4" r="2.1" fill="#c7c7c7"/>
<circle cx="213.5" cy="112.2" r="2.1" fill="#cbcbcb"/>
<circle cx="219.1" cy="113.0" r="2.1" fill="#d9d9d9"/>
<circle cx="224.7" cy="113.9" r="2.1" fill="#d8d8d8"/>
<line x1="89.6" y1="42.0" x2="199.4" y2="0.9" stroke="#2a2a2a" stroke-width="8.4" stroke-linecap="round"/>
<line x1="89.6" y1="42.0" x2="199.4" y2="0.9" stroke="#acacac" stroke-width="6.2" stroke-linecap="round"/>
<circle cx="92.2" cy="41.0" r="2.2" fill="#c4c4c4"/>
<circle cx="97.4" cy="39.0" r="2.2" fill="#d5d5d5"/>
<circle cx="102.6" cy="37.1" r="2.2" fill="#d3d3d3"/>
<circle cx="107.9" cy="35.1" r="2.2" fill="#cbcbcb"/>
<circle cx="113.1" cy="33.2" r="2.2" fill="#d2d2d2"/>
<circle cx="118.3" cy="31.2" r="2.2" fill="#dddddd"/>
<circle cx="123.6" cy="29.3" r="2.2" fill="#d0d0d0"/>
<circle cx="128.8" cy="27.3" r="2.2" fill="#d4d4d4"/>
<circle cx="134.0" cy="25.3" r="2.2" fill="#cbcbcb"/>
<circle cx="139.3" cy="23.4" r="2.2" fill="#cccccc"/>
<circle cx="144.5" cy="21.4" r="2.2" fill="#dbdbdb"/>
<circle cx="149.7" cy="19.5" r="2.2" fill="#c3c3c3"/>
<circle cx="155.0" cy="17.5" r="2.2" fill="#c7c7c7"/>
<circle cx="160.2" cy="15.6" r="2.2" fill="#d5d5d5"/>
<circle cx="165.4" cy="13.6" r="2.2" fill="#cfcfcf"/>
<circle cx="170.7" cy="11.6" r="2.2" fill="#c5c5c5"/>
<circle cx="175.9" cy="9.7" r="2.2" fill="#d5d5d5"/>
<circle cx="181.1" cy="7.7" r="2.2" fill="#cdcdcd"/>
<circle cx="186.4" cy="5.8" r="2.2" fill="#d2d2d2"/>
<circle cx="191.6" cy="3.8" r="2.2" fill="#cecece"/>
<circle cx="196.8" cy="1.8" r="2.2" fill="#d1d1d1"/>
<line x1="-16.7" y1="66.0" x2="26.1" y2="12.8" stroke="#2a2a2a" stroke-width="7.7" stroke-linecap="round"/>
<line x1="-16.7" y1="66.0" x2="26.1" y2="12.8" stroke="#b1b1b1" stroke-width="5.5" stroke-linecap="round"/>
<circle cx="-14.9" cy="63.7" r="2.0" fill="#cccccc"/>
<circle cx="-11.3" cy="59.3" r="2.0" fill="#dcdcdc"/>
<circle cx="-7.8" cy="54.9" r="2.0" fill="#cdcdcd"/>
<circle cx="-4.2" cy="50.4" r="2.0" fill="#dedede"/>
<circle cx="-0.6" cy="46.0" r="2.0" fill="#d9d9d9"/>
<circle cx="2.9" cy="41.6" r="2.0" fill="#cccccc"/>
<circle cx="6.5" cy="37.1" r="2.0" fill="#d9d9d9"/>
<circle cx="10.1" cy="32.7" r="2.0" fill="#dadada"/>
<circle cx="13.6" cy="28.3" r="2.0" fill="#cdcdcd"/>
<circle cx="17.2" cy="23.8" r="2.0" fill="#d3d3d3"/>
<circle cx="20.8" cy="19.4" r="2.0" fill="#d6d6d6"/>
<circle cx="24.3" cy="15.0" r="2.0" fill="#dadada"/>
<line x1="137.8" y1="129.5" x2="227.5" y2="145.7" stroke="#2a2a2a" stroke-width="7.4" stroke-linecap="round"/>
<line x1="137.8" y1="129.5" x2="227.5" y2="145.7" stroke="#a1a1a1" stroke-width="5.2" stroke-linecap="round"/>
<circle cx="140.6" cy="130.0" r="1.9" fill="#b9b9b9"/>
<circle cx="146.2" cy="131.0" r="1.9" fill="#c3c3c3"/>
<circle cx="151.8" cy="132.0" r="1.9" fill="#cfcfcf"/>
<circle cx="157.4" cy="133.0" r="1.9" fill="#c6c6c6"/>
<circle cx="163.0" cy="134.1" r="1.9" fill="#cbcbcb"/>
<circle cx="168.6" cy="135.1" r="1.9" fill="#cccccc"/>
<circle cx="174.2" cy="136.1" r="1.9" fill="#bababa"/>
<circle cx="179.8" cy="137.1" r="1.9" fill="#d3d3d3"/>
<circle cx="185.4" cy="138.1" r="1.9" fill="#cbcbcb"/>
<circle cx="191.0" cy="139.1" r="1.9" fill="#bababa"/>
<circle cx="196.7" cy="140.2" r="1.9" fill="#cecece"/>
<circle cx="202.3" cy="141.2" r="1.9" fill="#c2c2c2"/>
<circle cx="207.9" cy="142.2" r="1.9" fill="#bcbcbc"/>
<circle cx="213.5" cy="143.2" r="1.9" fill="#d2d2d2"/>
<circle cx="219.1" cy="144.2" r="1.9" fill="#c7c7c7"/>
<circle cx="224.7" cy="145.2" r="1.9" fill="#cdcdcd"/>
<line x1="153.7" y1="147.8" x2="232.4" y2="97.6" stroke="#2a2a2a" stroke-width="8.0" stroke-linecap="round"/>
<line x1="153.7" y1="147.8" x2="232.4" y2="97.6" stroke="#979797" stroke-width="5.8" stroke-linecap="round"/>
<circle cx="156.1" cy="146.2" r="2.1" fill="#aeaeae"/>
<circle cx="161.1" cy="143.1" r="2.1" fill="#c0c0c0"/>
<circle cx="166.0" cy="139.9" r="2.1" fill="#c8c8c8"/>
<circle cx="170.9" cy="136.8" r="2.1" fill="#bababa"/>
<circle cx="175.8" cy="133.7" r="2.1" fill="#b0b0b0"/>
<circle cx="180.7" cy="130.5" r="2.1" fill="#b1b1b1"/>
<circle cx="185.6" cy="127.4" r="2.1" fill="#c6c6c6"/>
<circle cx="190.6" cy="124.3" r="2.1" fill="#afafaf"/>
<circle cx="195.5" cy="121.1" r="2.1" fill="#c9c9c9"/>
<circle cx="200.4" cy="118.0" r="2.1" fill="#b2b2b2"/>
<circle cx="205.3" cy="114.9" r="2.1" fill="#b0b0b0"/>
<circle cx="210.2" cy="111.7" r="2.1" fill="#c1c1c1"/>
<circle cx="215.1" cy="108.6" r="2.1" fill="#b7b7b7"/>
<circle cx="220.1" cy="105.4" r="2.1" fill="#b7b7b7"/>
<circle cx="225.0" cy="102.3" r="2.1" fill="#c4c4c4"/>
<circle cx="229.9" cy="99.2" r="2.1" fill="#c3c3c3"/>
<line x1="17.8" y1="100.8" x2="122.5" y2="126.2" stroke="#2a2a2a" stroke-width="7.4" stroke-linecap="round"/>
<line x1="17.8" y1="100.8" x2="122.5" y2="126.2" stroke="#a0a0a0" stroke-width="5.2" stroke-linecap="round"/>
<circle cx="20.5" cy="101.5" r="1.9" fill="#cbcbcb"/>
<circle cx="26.0" cy="102.8" r="1.9" fill="#d0d0d0"/>
<circle cx="31.5" cy="104.2" r="1.9" fill="#cacaca"/>
<circle cx="37.1" cy="105.5" r="1.9" fill="#b7b7b7"/>
<circle cx="42.6" cy="106.8" r="1.9" fill="#c7c7c7"/>
<circle cx="48.1" cy="108.2" r="1.9" fill="#b9b9b9"/>
<circle cx="53.6" cy="109.5" r="1.9" fill="#c5c5c5"/>
<circle cx="59.1" cy="110.8" r="1.9" fill="#cccccc"/>
<circle cx="64.6" cy="112.2" r="1.9" fill="#b9b9b9"/>
<circle cx="70.1" cy="113.5" r="1.9" fill="#d0d0d0"/>
<circle cx="75.7" cy="114.9" r="1.9" fill="#c9c9c9"/>
<circle cx="81.2" cy="116.2" r="1.9" fill="#bdbdbd"/>
<circle cx="86.7" cy="117.5" r="1.9" fill="#bbbbbb"/>
<circle cx="92.2" cy="118.9" r="1.9" fill="#c2c2c2"/>
<circle cx="97.7" cy="120.2" r="1.9" fill="#cdcdcd"/>
<circle cx="103.2" cy="121.5" r="1.9" fill="#c6c6c6"/>
<circle cx="108.7" cy="122.9" r="1.9" fill="#b9b9b9"/>
<circle cx="114.3" cy="124.2" r="1.9" fill="#b7b7b7"/>
<circle cx="119.8" cy="125.5" r="1.9" fill="#b9b9b9"/>
<line x1="112.8" y1="-8.0" x2="147.3" y2="41.7" stroke="#2a2a2a" stroke-width="9.1" stroke-linecap="round"/>
<line x1="112.8" y1="-8.0" x2="147.3" y2="41.7" stroke="#aeaeae" stroke-width="6.9" stroke-linecap="round"/>
<circle cx="114.3" cy="-5.7" r="2.5" fill="#d7d7d7"/>
<circle cx="117.5" cy="-1.2" r="2.5" fill="#dbdbdb"/>
<circle cx="120.6" cy="3.3" r="2.5" fill="#d4d4d4"/>
<circle cx="123.8" cy="7.8" r="2.5" fill="#cbcbcb"/>
<circle cx="126.9" cy="12.3" r="2.5" fill="#e0e0e0"/>
<circle cx="130.0" cy="16.9" r="2.5" fill="#d9d9d9"/>
<circle cx="133.2" cy="21.4" r="2.5" fill="#cbcbcb"/>
<circle cx="136.3" cy="25.9" r="2.5" fill="#d0d0d0"/>
<circle cx="139.5" cy="30.4" r="2.5" fill="#c5c5c5"/>
<circle cx="142.6" cy="34.9" r="2.5" fill="#e0e0e0"/>
<circle cx="145.8" cy="39.4" r="2.5" fill="#d2d2d2"/>
<line x1="-31.2" y1="84.5" x2="73.9" y2="70.5" stroke="#2a2a2a" stroke-width="7.3" stroke-linecap="round"/>
<line x1="-31.2" y1="84.5" x2="73.9" y2="70.5" stroke="#9b9b9b" stroke-width="5.1" stroke-linecap="round"/>
<circle cx="-28.5" cy="84.1" r="1.8" fill="#c8c8c8"/>
<circle cx="-22.9" cy="83.4" r="1.8" fill="#c4c4c4"/>
<circle cx="-17.4" cy="82.6" r="1.8" fill="#bcbcbc"/>
<circle cx="-11.9" cy="81.9" r="1.8" fill="#bebebe"/>
<circle cx="-6.3" cy="81.2" r="1.8" fill="#b5b5b5"/>
<circle cx="-0.8" cy="80.4" r="1.8" fill="#c8c8c8"/>
<circle cx="4.7" cy="79.7" r="1.8" fill="#bcbcbc"/>
<circle cx="10.3" cy="79.0" r="1.8" fill="#c9c9c9"/>
<circle cx="15.8" cy="78.2" r="1.8" fill="#c2c2c2"/>
<circle cx="21.3" cy="77.5" r="1.8" fill="#b3b3b3"/>
<circle cx="26.9" cy="76.8" r="1.8" fill="#bababa"/>
<circle cx="32.4" cy="76.0" r="1.8" fill="#b7b7b7"/>
<circle cx="37.9" cy="75.3" r="1.8" fill="#cacaca"/>
<circle cx="43.5" cy="74.6" r="1.8" fill="#c1c1c1"/>
<circle cx="49.0" cy="73.8" r="1.8" fill="#b2b2b2"/>
<circle cx="54.5" cy="73.1" r="1.8" fill="#b5b5b5"/>
<circle cx="60.1" cy="72.4" r="1.8" fill="#bbbbbb"/>
<circle cx="65.6" cy="71.6" r="1.8" fill="#bebebe"/>
<circle cx="71.1" cy="70.9" r="1.8" fill="#c1c1c1"/>
<line x1="69.4" y1="59.7" x2="121.4" y2="109.4" stroke="#2a2a2a" stroke-width="7.9" stroke-linecap="round"/>
<line x1="69.4" y1="59.7" x2="121.4" y2="109.4" stroke="#a3a3a3" stroke-width="5.7" stroke-linecap="round"/>
<circle cx="71.4" cy="61.6" r="2.0" fill="#bfbfbf"/>
<circle cx="75.4" cy="65.4" r="2.0" fill="#c0c0c0"/>
<circle cx="79.4" cy="69.2" r="2.0" fill="#d2d2d2"/>
<circle cx="83.4" cy="73.1" r="2.0" fill="#cacaca"/>
<circle cx="87.4" cy="76.9" r="2.0" fill="#cbcbcb"/>
<circle cx="91.4" cy="80.7" r="2.0" fill="#cdcdcd"/>
<circle cx="95.4" cy="84.5" r="2.0" fill="#bdbdbd"/>
<circle cx="99.4" cy="88.4" r="2.0" fill="#c4c4c4"/>
<circle cx="103.4" cy="92.2" r="2.0" fill="#bbbbbb"/>
<circle cx="107.4" cy="96.0" r="2.0" fill="#d5d5d5"/>
<circle cx="111.4" cy="99.9" r="2.0" fill="#c3c3c3"/>
<circle cx="115.4" cy="103.7" r="2.0" fill="#c9c9c9"/>
<circle cx="119.4" cy="107.5" r="2.0" fill="#c9c9c9"/>
<line x1="149.0" y1="86.1" x2="198.2" y2="68.1" stroke="#2a2a2a" stroke-width="8.3" stroke-linecap="round"/>
<line x1="149.0" y1="86.1" x2="198.2" y2="68.1" stroke="#ababab" stroke-width="6.1" stroke-linecap="round"/>
<circle cx="151.8" cy="85.1" r="2.2" fill="#dadada"/>
<circle cx="157.2" cy="83.1" r="2.2" fill="#d7d7d7"/>
<circle cx="162.7" cy="81.1" r="2.2" fill="#d3d3d3"/>
<circle cx="168.2" cy="79.1" r="2.2" fill="#d3d3d3"/>
<circle cx="173.6" cy="77.1" r="2.2" fill="#cbcbcb"/>
<circle cx="179.1" cy="75.1" r="2.2" fill="#c9c9c9"/>
<circle cx="184.5" cy="73.1" r="2.2" fill="#d7d7d7"/>
<circle cx="190.0" cy="71.1" r="2.2" fill="#dadada"/>
<circle cx="195.5" cy="69.1" r="2.2" fill="#dbdbdb"/>
<line x1="40.5" y1="148.8" x2="125.5" y2="67.9" stroke="#2a2a2a" stroke-width="7.9" stroke-linecap="round"/>
<line x1="40.5" y1="148.8" x2="125.5" y2="67.9" stroke="#a0a0a0" stroke-width="5.7" stroke-linecap="round"/>
<circle cx="42.5" cy="146.9" r="2.0" fill="#cecece"/>
<circle cx="46.5" cy="143.1" r="2.0" fill="#bdbdbd"/>
<circle cx="50.6" cy="139.2" r="2.0" fill="#cecece"/>
<circle cx="54.6" cy="135.4" r="2.0" fill="#cacaca"/>
<circle cx="58.7" cy="131.5" r="2.0" fill="#bfbfbf"/>
<circle cx="62.8" cy="127.7" r="2.0" fill="#c9c9c9"/>
<circle cx="66.8" cy="123.8" r="2.0" fill="#c8c8c8"/>
<circle cx="70.9" cy="120.0" r="2.0" fill="#cecece"/>
<circle cx="74.9" cy="116.1" r="2.0" fill="#cccccc"/>
<circle cx="79.0" cy="112.2" r="2.0" fill="#c4c4c4"/>
<circle cx="83.0" cy="108.4" r="2.0" fill="#cfcfcf"/>
<circle cx="87.1" cy="104.5" r="2.0" fill="#cccccc"/>
<circle cx="91.1" cy="100.7" r="2.0" fill="#d2d2d2"/>
<circle cx="95.2" cy="96.8" r="2.0" fill="#bababa"/>
<circle cx="99.2" cy="93.0" r="2.0" fill="#bbbbbb"/>
<circle cx="103.3" cy="89.1" r="2.0" fill="#cfcfcf"/>
<circle cx="107.3" cy="85.3" r="2.0" fill="#c8c8c8"/>
<circle cx="111.4" cy="81.4" r="2.0" fill="#c1c1c1"/>
<circle cx="115.4" cy="77.6" r="2.0" fill="#c1c1c1"/>
<circle cx="119.5" cy="73.7" r="2.0" fill="#cbcbcb"/>
<circle cx="123.5" cy="69.9" r="2.0" fill="#d0d0d0"/>
<line x1="26.3" y1="157.2" x2="63.2" y2="96.5" stroke="#2a2a2a" stroke-width="7.8" stroke-linecap="round"/>
<line x1="26.3" y1="157.2" x2="63.2" y2="96.5" stroke="#aaaaaa" stroke-width="5.6" stroke-linecap="round"/>
<circle cx="27.8" cy="154.7" r="2.0" fill="#cfcfcf"/>
<circle cx="30.9" cy="149.6" r="2.0" fill="#dadada"/>
<circle cx="34.0" cy="144.6" r="2.0" fill="#c9c9c9"/>
<circle cx="37.0" cy="139.5" r="2.0" fill="#dadada"/>
<circle cx="40.1" cy="134.4" r="2.0" fill="#d0d0d0"/>
<circle cx="43.2" cy="129.4" r="2.0" fill="#c2c2c2"/>
<circle cx="46.3" cy="124.3" r="2.0" fill="#c5c5c5"/>
<circle cx="49.4" cy="119.3" r="2.0" fill="#d0d0d0"/>
<circle cx="52.4" cy="114.2" r="2.0" fill="#dbdbdb"/>
<circle cx="55.5" cy="109.1" r="2.0" fill="#cacaca"/>
<circle cx="58.6" cy="104.1" r="2.0" fill="#d6d6d6"/>
<circle cx="61.7" cy="99.0" r="2.0" fill="#cccccc"/>
<line x1="43.3" y1="53.1" x2="103.8" y2="13.5" stroke="#2a2a2a" stroke-width="7.6" stroke-linecap="round"/>
<line x1="43.3" y1="53.1" x2="103.8" y2="13.5" stroke="#afafaf" stroke-width="5.4" stroke-linecap="round"/>
<circle cx="45.6" cy="51.6" r="1.9" fill="#d4d4d4"/>
<circle cx="50.3" cy="48.5" r="1.9" fill="#dadada"/>
<circle cx="54.9" cy="45.5" r="1.9" fill="#d6d6d6"/>
<circle cx="59.6" cy="42.4" r="1.9" fill="#cbcbcb"/>
<circle cx="64.2" cy="39.4" r="1.9" fill="#c5c5c5"/>
<circle cx="68.9" cy="36.3" r="1.9" fill="#c6c6c6"/>
<circle cx="73.5" cy="33.3" r="1.9" fill="#d1d1d1"/>
<circle cx="78.2" cy="30.2" r="1.9" fill="#dedede"/>
<circle cx="82.9" cy="27.2" r="1.9" fill="#cdcdcd"/>
<circle cx="87.5" cy="24.1" r="1.9" fill="#d3d3d3"/>
<circle cx="92.2" cy="21.1" r="1.9" fill="#c7c7c7"/>
<circle cx="96.8" cy="18.1" r="1.9" fill="#cbcbcb"/>
<circle cx="101.5" cy="15.0" r="1.9" fill="#c6c6c6"/>
<line x1="148.9" y1="32.9" x2="198.0" y2="6.8" stroke="#2a2a2a" stroke-width="8.8" stroke-linecap="round"/>
<line x1="148.9" y1="32.9" x2="198.0" y2="6.8" stroke="#aeaeae" stroke-width="6.6" stroke-linecap="round"/>
<circle cx="151.4" cy="31.6" r="2.4" fill="#cecece"/>
<circle cx="156.3" cy="28.9" r="2.4" fill="#c8c8c8"/>
<circle cx="161.2" cy="26.3" r="2.4" fill="#c9c9c9"/>
<circle cx="166.1" cy="23.7" r="2.4" fill="#d3d3d3"/>
<circle cx="171.0" cy="21.1" r="2.4" fill="#dddddd"/>
<circle cx="175.9" cy="18.5" r="2.4" fill="#d6d6d6"/>
<circle cx="180.8" cy="15.9" r="2.4" fill="#dedede"/>
<circle cx="185.7" cy="13.3" r="2.4" fill="#cacaca"/>
<circle cx="190.6" cy="10.7" r="2.4" fill="#cdcdcd"/>
<circle cx="195.5" cy="8.1" r="2.4" fill="#d9d9d9"/>
<line x1="30.6" y1="148.5" x2="106.2" y2="95.0" stroke="#2a2a2a" stroke-width="8.8" stroke-linecap="round"/>
<line x1="30.6" y1="148.5" x2="106.2" y2="95.0" stroke="#9a9a9a" stroke-width="6.6" stroke-linecap="round"/>
<circle cx="32.9" cy="146.8" r="2.4" fill="#c9c9c9"/>
<circle cx="37.7" cy="143.5" r="2.4" fill="#c7c7c7"/>
<circle cx="42.4" cy="140.2" r="2.4" fill="#b3b3b3"/>
<circle cx="47.1" cy="136.8" r="2.4" fill="#c2c2c2"/>
<circle cx="51.9" cy="133.5" r="2.4" fill="#c6c6c6"/>
<circle cx="56.6" cy="130.1" r="2.4" fill="#cccccc"/>
<circle cx="61.3" cy="126.8" r="2.4" fill="#bcbcbc"/>
<circle cx="66.0" cy="123.4" r="2.4" fill="#cbcbcb"/>
<circle cx="70.8" cy="120.1" r="2.4" fill="#c9c9c9"/>
<circle cx="75.5" cy="116.7" r="2.4" fill="#b1b1b1"/>
<circle cx="80.2" cy="113.4" r="2.4" fill="#b9b9b9"/>
<circle cx="85.0" cy="110.0" r="2.4" fill="#c3c3c3"/>
<circle cx="89.7" cy="106.7" r="2.4" fill="#b9b9b9"/>
<circle cx="94.4" cy="103.4" r="2.4" fill="#bcbcbc"/>
<circle cx="99.1" cy="100.0" r="2.4" fill="#c4c4c4"/>
<circle cx="103.9" cy="96.7" r="2.4" fill="#c8c8c8"/>
<line x1="80.8" y1="66.9" x2="128.7" y2="29.3" stroke="#2a2a2a" stroke-width="7.5" stroke-linecap="round"/>
<line x1="80.8" y1="66.9" x2="128.7" y2="29.3" stroke="#ababab" stroke-width="5.3" stroke-linecap="round"/>
<circle cx="82.9" cy="65.2" r="1.9" fill="#c3c3c3"/>
<circle cx="87.3" cy="61.8" r="1.9" fill="#d8d8d8"/>
<circle cx="91.6" cy="58.4" r="1.9" fill="#cdcdcd"/>
<circle cx="96.0" cy="54.9" r="1.9" fill="#d0d0d0"/>
<circle cx="100.4" cy="51.5" r="1.9" fill="#d1d1d1"/>
<circle cx="104.7" cy="48.1" r="1.9" fill="#d1d1d1"/>
<circle cx="109.1" cy="44.7" r="1.9" fill="#d3d3d3"/>
<circle cx="113.4" cy="41.3" r="1.9" fill="#d2d2d2"/>
<circle cx="117.8" cy="37.8" r="1.9" fill="#cacaca"/>
<circle cx="122.1" cy="34.4" r="1.9" fill="#d6d6d6"/>
<circle cx="126.5" cy="31.0" r="1.9" fill="#c8c8c8"/>
<line x1="-2.7" y1="22.6" x2="48.8" y2="31.3" stroke="#2a2a2a" stroke-width="8.5" stroke-linecap="round"/>
<line x1="-2.7" y1="22.6" x2="48.8" y2="31.3" stroke="#a8a8a8" stroke-width="6.3" stroke-linecap="round"/>
<circle cx="0.1" cy="23.1" r="2.3" fill="#cdcdcd"/>
<circle cx="5.9" cy="24.1" r="2.3" fill="#d2d2d2"/>
<circle cx="11.6" cy="25.1" r="2.3" fill="#cdcdcd"/>
<circle cx="17.3" cy="26.0" r="2.3" fill="#c8c8c8"/>
<circle cx="23.0" cy="27.0" r="2.3" fill="#cdcdcd"/>
<circle cx="28.7" cy="27.9" r="2.3" fill="#c5c5c5"/>
<circle cx="34.5" cy="28.9" r="2.3" fill="#c5c5c5"/>
<circle cx="40.2" cy="29.9" r="2.3" fill="#cdcdcd"/>
<circle cx="45.9" cy="30.8" r="2.3" fill="#c1c1c1"/>
<line x1="100.3" y1="107.2" x2="131.6" y2="175.8" stroke="#2a2a2a" stroke-width="9.2" stroke-linecap="round"/>
<line x1="100.3" y1="107.2" x2="131.6" y2="175.8" stroke="#9c9c9c" stroke-width="7.0" stroke-linecap="round"/>
<circle cx="101.5" cy="109.9" r="2.5" fill="#c7c7c7"/>
<circle cx="103.9" cy="115.1" r="2.5" fill="#b4b4b4"/>
<circle cx="106.3" cy="120.4" r="2.5" fill="#b3b3b3"/>
<circle cx="108.7" cy="125.7" r="2.5" fill="#b6b6b6"/>
<circle cx="111.1" cy="131.0" r="2.5" fill="#b4b4b4"/>
<circle cx="113.5" cy="136.2" r="2.5" fill="#c0c0c0"/>
<circle cx="115.9" cy="141.5" r="2.5" fill="#c1c1c1"/>
<circle cx="118.3" cy="146.8" r="2.5" fill="#b7b7b7"/>
<circle cx="120.7" cy="152.1" r="2.5" fill="#cccccc"/>
<circle cx="123.1" cy="157.3" r="2.5" fill="#bcbcbc"/>
<circle cx="125.5" cy="162.6" r="2.5" fill="#b6b6b6"/>
<circle cx="128.0" cy="167.9" r="2.5" fill="#b7b7b7"/>
<circle cx="130.4" cy="173.2" r="2.5" fill="#c7c7c7"/>
<line x1="127.1" y1="92.9" x2="158.3" y2="134.6" stroke="#2a2a2a" stroke-width="8.8" stroke-linecap="round"/>
<line x1="127.1" y1="92.9" x2="158.3" y2="134.6" stroke="#9c9c9c" stroke-width="6.6" stroke-linecap="round"/>
<circle cx="128.8" cy="95.2" r="2.4" fill="#cecece"/>
<circle cx="132.3" cy="99.9" r="2.4" fill="#c0c0c0"/>
<circle cx="135.8" cy="104.5" r="2.4" fill="#c4c4c4"/>
<circle cx="139.2" cy="109.1" r="2.4" fill="#bcbcbc"/>
<circle cx="142.7" cy="113.7" r="2.4" fill="#c9c9c9"/>
<circle cx="146.1" cy="118.4" r="2.4" fill="#bfbfbf"/>
<circle cx="149.6" cy="123.0" r="2.4" fill="#bbbbbb"/>
<circle cx="153.1" cy="127.6" r="2.4" fill="#cccccc"/>
<circle cx="156.5" cy="132.3" r="2.4" fill="#b5b5b5"/>
<line x1="-18.8" y1="65.1" x2="87.7" y2="65.7" stroke="#2a2a2a" stroke-width="9.0" stroke-linecap="round"/>
<line x1="-18.8" y1="65.1" x2="87.7" y2="65.7" stroke="#a8a8a8" stroke-width="6.8" stroke-linecap="round"/>
<circle cx="-16.0" cy="65.1" r="2.5" fill="#c8c8c8"/>
<circle cx="-10.4" cy="65.2" r="2.5" fill="#c5c5c5"/>
<circle cx="-4.8" cy="65.2" r="2.5" fill="#c9c9c9"/>
<circle cx="0.8" cy="65.2" r="2.5" fill="#d8d8d8"/>
<circle cx="6.4" cy="65.3" r="2.5" fill="#c9c9c9"/>
<circle cx="12.0" cy="65.3" r="2.5" fill="#d1d1d1"/>
<circle cx="17.6" cy="65.3" r="2.5" fill="#d6d6d6"/>
<circle cx="23.2" cy="65.3" r="2.5" fill="#bfbfbf"/>
<circle cx="28.8" cy="65.4" r="2.5" fill="#bfbfbf"/>
<circle cx="34.5" cy="65.4" r="2.5" fill="#d2d2d2"/>
<circle cx="40.1" cy="65.4" r="2.5" fill="#c5c5c5"/>
<circle cx="45.7" cy="65.5" r="2.5" fill="#c8c8c8"/>
<circle cx="51.3" cy="65.5" r="2.5" fill="#c8c8c8"/>
<circle cx="56.9" cy="65.5" r="2.5" fill="#cacaca"/>
<circle cx="62.5" cy="65.6" r="2.5" fill="#c6c6c6"/>
<circle cx="68.1" cy="65.6" r="2.5" fill="#d7d7d7"/>
<circle cx="73.7" cy="65.6" r="2.5" fill="#cccccc"/>
<circle cx="79.3" cy="65.6" r="2.5" fill="#dadada"/>
<circle cx="84.9" cy="65.7" r="2.5" fill="#d5d5d5"/>
<line x1="84.3" y1="80.3" x2="194.2" y2="65.3" stroke="#2a2a2a" stroke-width="7.7" stroke-linecap="round"/>
<line x1="84.3" y1="80.3" x2="194.2" y2="65.3" stroke="#ababab" stroke-width="5.5" stroke-linecap="round"/>
<circle cx="87.1" cy="79.9" r="2.0" fill="#d8d8d8"/>
<circle cx="92.6" cy="79.1" r="2.0" fill="#c8c8c8"/>
<circle cx="98.1" cy="78.4" r="2.0" fill="#cacaca"/>
<circle cx="103.6" cy="77.6" r="2.0" fill="#cecece"/>
<circle cx="109.1" cy="76.9" r="2.0" fill="#d9d9d9"/>
<circle cx="114.6" cy="76.1" r="2.0" fill="#c5c5c5"/>
<circle cx="120.0" cy="75.4" r="2.0" fill="#d4d4d4"/>
<circle cx="125.5" cy="74.7" r="2.0" fill="#d1d1d1"/>
<circle cx="131.0" cy="73.9" r="2.0" fill="#cdcdcd"/>
<circle cx="136.5" cy="73.2" r="2.0" fill="#d1d1d1"/>
<circle cx="142.0" cy="72.4" r="2.0" fill="#d9d9d9"/>
<circle cx="147.5" cy="71.7" r="2.0" fill="#c6c6c6"/>
<circle cx="153.0" cy="70.9" r="2.0" fill="#d9d9d9"/>
<circle cx="158.5" cy="70.2" r="2.0" fill="#cbcbcb"/>
<circle cx="164.0" cy="69.4" r="2.0" fill="#d6d6d6"/>
<circle cx="169.5" cy="68.7" r="2.0" fill="#d9d9d9"/>
<circle cx="175.0" cy="67.9" r="2.0" fill="#c6c6c6"/>
<circle cx="180.5" cy="67.2" r="2.0" fill="#d9d9d9"/>
<circle cx="185.9" cy="66.4" r="2.0" fill="#dcdcdc"/>
<circle cx="191.4" cy="65.7" r="2.0" fill="#c9c9c9"/>
<line x1="125.3" y1="147.8" x2="165.1" y2="102.2" stroke="#2a2a2a" stroke-width="9.0" stroke-linecap="round"/>
<line x1="125.3" y1="147.8" x2="165.1" y2="102.2" stroke="#999999" stroke-width="6.8" stroke-linecap="round"/>
<circle cx="127.1" cy="145.8" r="2.5" fill="#b8b8b8"/>
<circle cx="130.7" cy="141.6" r="2.5" fill="#bdbdbd"/>
<circle cx="134.3" cy="137.5" r="2.5" fill="#b9b9b9"/>
<circle cx="137.9" cy="133.3" r="2.5" fill="#c4c4c4"/>
<circle cx="141.6" cy="129.2" r="2.5" fill="#bcbcbc"/>
<circle cx="145.2" cy="125.0" r="2.5" fill="#bababa"/>
<circle cx="148.8" cy="120.8" r="2.5" fill="#bbbbbb"/>
<circle cx="152.4" cy="116.7" r="2.5" fill="#c1c1c1"/>
<circle cx="156.1" cy="112.5" r="2.5" fill="#c2c2c2"/>
<circle cx="159.7" cy="108.4" r="2.5" fill="#bababa"/>
<circle cx="163.3" cy="104.2" r="2.5" fill="#b9b9b9"/>
<line x1="74.2" y1="40.7" x2="112.5" y2="-10.7" stroke="#2a2a2a" stroke-width="8.5" stroke-linecap="round"/>
<line x1="74.2" y1="40.7" x2="112.5" y2="-10.7" stroke="#969696" stroke-width="6.3" stroke-linecap="round"/>
<circle cx="75.9" cy="38.4" r="2.3" fill="#b0b0b0"/>
<circle cx="79.4" cy="33.7" r="2.3" fill="#bdbdbd"/>
<circle cx="82.9" cy="29.0" r="2.3" fill="#bcbcbc"/>
<circle cx="86.3" cy="24.3" r="2.3" fill="#bfbfbf"/>
<circle cx="89.8" cy="19.7" r="2.3" fill="#c0c0c0"/>
<circle cx="93.3" cy="15.0" r="2.3" fill="#adadad"/>
<circle cx="96.8" cy="10.3" r="2.3" fill="#c5c5c5"/>
<circle cx="100.3" cy="5.7" r="2.3" fill="#aeaeae"/>
<circle cx="103.8" cy="1.0" r="2.3" fill="#afafaf"/>
<circle cx="107.2" cy="-3.7" r="2.3" fill="#c7c7c7"/>
<circle cx="110.7" cy="-8.4" r="2.3" fill="#c7c7c7"/>
<line x1="203.3" y1="22.6" x2="221.0" y2="82.6" stroke="#2a2a2a" stroke-width="8.6" stroke-linecap="round"/>
<line x1="203.3" y1="22.6" x2="221.0" y2="82.6" stroke="#9a9a9a" stroke-width="6.4" stroke-linecap="round"/>
<circle cx="204.1" cy="25.3" r="2.3" fill="#c4c4c4"/>
<circle cx="205.7" cy="30.8" r="2.3" fill="#bebebe"/>
<circle cx="207.3" cy="36.2" r="2.3" fill="#b3b3b3"/>
<circle cx="208.9" cy="41.7" r="2.3" fill="#bababa"/>
<circle cx="210.5" cy="47.1" r="2.3" fill="#bebebe"/>
<circle cx="212.1" cy="52.6" r="2.3" fill="#c9c9c9"/>
<circle cx="213.7" cy="58.0" r="2.3" fill="#b9b9b9"/>
<circle cx="215.3" cy="63.5" r="2.3" fill="#b6b6b6"/>
<circle cx="217.0" cy="68.9" r="2.3" fill="#cbcbcb"/>
<circle cx="218.6" cy="74.4" r="2.3" fill="#c8c8c8"/>
<circle cx="220.2" cy="79.8" r="2.3" fill="#c4c4c4"/>
<line x1="106.0" y1="73.6" x2="144.6" y2="40.1" stroke="#2a2a2a" stroke-width="7.7" stroke-linecap="round"/>
<line x1="106.0" y1="73.6" x2="144.6" y2="40.1" stroke="#b1b1b1" stroke-width="5.5" stroke-linecap="round"/>
<circle cx="108.1" cy="71.7" r="2.0" fill="#cccccc"/>
<circle cx="112.4" cy="68.0" r="2.0" fill="#c8c8c8"/>
<circle cx="116.7" cy="64.3" r="2.0" fill="#dddddd"/>
<circle cx="121.0" cy="60.6" r="2.0" fill="#e1e1e1"/>
<circle cx="125.3" cy="56.9" r="2.0" fill="#cecece"/>
<circle cx="129.6" cy="53.1" r="2.0" fill="#d0d0d0"/>
<circle cx="133.8" cy="49.4" r="2.0" fill="#c8c8c8"/>
<circle cx="138.1" cy="45.7" r="2.0" fill="#d3d3d3"/>
<circle cx="142.4" cy="42.0" r="2.0" fill="#cecece"/>
<line x1="-33.3" y1="99.9" x2="70.8" y2="157.1" stroke="#2a2a2a" stroke-width="8.9" stroke-linecap="round"/>
<line x1="-33.3" y1="99.9" x2="70.8" y2="157.1" stroke="#aaaaaa" stroke-width="6.7" stroke-linecap="round"/>
<circle cx="-30.8" cy="101.3" r="2.4" fill="#cbcbcb"/>
<circle cx="-25.8" cy="104.0" r="2.4" fill="#c9c9c9"/>
<circle cx="-20.9" cy="106.7" r="2.4" fill="#cbcbcb"/>
<circle cx="-15.9" cy="109.4" r="2.4" fill="#dbdbdb"/>
<circle cx="-11.0" cy="112.2" r="2.4" fill="#cacaca"/>
<circle cx="-6.0" cy="114.9" r="2.4" fill="#cacaca"/>
<circle cx="-1.0" cy="117.6" r="2.4" fill="#cbcbcb"/>
<circle cx="3.9" cy="120.3" r="2.4" fill="#c4c4c4"/>
<circle cx="8.9" cy="123.1" r="2.4" fill="#dcdcdc"/>
<circle cx="13.8" cy="125.8" r="2.4" fill="#c0c0c0"/>
<circle cx="18.8" cy="128.5" r="2.4" fill="#d1d1d1"/>
<circle cx="23.7" cy="131.2" r="2.4" fill="#dadada"/>
<circle cx="28.7" cy="134.0" r="2.4" fill="#c7c7c7"/>
<circle cx="33.6" cy="136.7" r="2.4" fill="#d1d1d1"/>
<circle cx="38.6" cy="139.4" r="2.4" fill="#cacaca"/>
<circle cx="43.6" cy="142.1" r="2.4" fill="#c6c6c6"/>
<circle cx="48.5" cy="144.9" r="2.4" fill="#c5c5c5"/>
<circle cx="53.5" cy="147.6" r="2.4" fill="#c3c3c3"/>
<circle cx="58.4" cy="150.3" r="2.4" fill="#d7d7d7"/>
<circle cx="63.4" cy="153.0" r="2.4" fill="#d6d6d6"/>
<circle cx="68.3" cy="155.8" r="2.4" fill="#d9d9d9"/>
<line x1="18.6" y1="130.0" x2="67.3" y2="55.4" stroke="#2a2a2a" stroke-width="8.6" stroke-linecap="round"/>
<line x1="18.6" y1="130.0" x2="67.3" y2="55.4" stroke="#a2a2a2" stroke-width="6.4" stroke-linecap="round"/>
<circle cx="20.1" cy="127.7" r="2.3" fill="#cbcbcb"/>
<circle cx="23.1" cy="123.0" r="2.3" fill="#c5c5c5"/>
<circle cx="26.2" cy="118.4" r="2.3" fill="#c8c8c8"/>
<circle cx="29.2" cy="113.7" r="2.3" fill="#c5c5c5"/>
<circle cx="32.3" cy="109.0" r="2.3" fill="#cacaca"/>
<circle cx="35.3" cy="104.4" r="2.3" fill="#c5c5c5"/>
<circle cx="38.4" cy="99.7" r="2.3" fill="#c1c1c1"/>
<circle cx="41.4" cy="95.0" r="2.3" fill="#c7c7c7"/>
<circle cx="44.4" cy="90.4" r="2.3" fill="#c3c3c3"/>
<circle cx="47.5" cy="85.7" r="2.3" fill="#cfcfcf"/>
<circle cx="50.5" cy="81.1" r="2.3" fill="#cecece"/>
<circle cx="53.6" cy="76.4" r="2.3" fill="#d0d0d0"/>
<circle cx="56.6" cy="71.7" r="2.3" fill="#c2c2c2"/>
<circle cx="59.7" cy="67.1" r="2.3" fill="#bababa"/>
<circle cx="62.7" cy="62.4" r="2.3" fill="#d3d3d3"/>
<circle cx="65.7" cy="57.7" r="2.3" fill="#bfbfbf"/>
<line x1="66.6" y1="160.1" x2="128.5" y2="122.2" stroke="#2a2a2a" stroke-width="8.5" stroke-linecap="round"/>
<line x1="66.6" y1="160.1" x2="128.5" y2="122.2" stroke="#a5a5a5" stroke-width="6.3" stroke-linecap="round"/>
<circle cx="68.9" cy="158.6" r="2.3" fill="#c1c1c1"/>
<circle cx="73.7" cy="155.7" r="2.3" fill="#cccccc"/>
<circle cx="78.5" cy="152.8" r="2.3" fill="#c2c2c2"/>
<circle cx="83.2" cy="149.9" r="2.3" fill="#d4d4d4"/>
<circle cx="88.0" cy="147.0" r="2.3" fill="#c8c8c8"/>
<circle cx="92.7" cy="144.1" r="2.3" fill="#cfcfcf"/>
<circle cx="97.5" cy="141.2" r="2.3" fill="#c9c9c9"/>
<circle cx="102.3" cy="138.2" r="2.3" fill="#c8c8c8"/>
<circle cx="107.0" cy="135.3" r="2.3" fill="#c1c1c1"/>
<circle cx="111.8" cy="132.4" r="2.3" fill="#bfbfbf"/>
<circle cx="116.6" cy="129.5" r="2.3" fill="#d5d5d5"/>
<circle cx="121.3" cy="126.6" r="2.3" fill="#cacaca"/>
<circle cx="126.1" cy="123.7" r="2.3" fill="#c9c9c9"/>
<line x1="59.1" y1="38.4" x2="87.0" y2="108.7" stroke="#2a2a2a" stroke-width="8.5" stroke-linecap="round"/>
<line x1="59.1" y1="38.4" x2="87.0" y2="108.7" stroke="#9a9a9a" stroke-width="6.3" stroke-linecap="round"/>
<circle cx="60.2" cy="41.1" r="2.3" fill="#c2c2c2"/>
<circle cx="62.3" cy="46.5" r="2.3" fill="#b5b5b5"/>
<circle cx="64.5" cy="51.9" r="2.3" fill="#cacaca"/>
<circle cx="66.6" cy="57.3" r="2.3" fill="#c8c8c8"/>
<circle cx="68.8" cy="62.7" r="2.3" fill="#c2c2c2"/>
<circle cx="70.9" cy="68.1" r="2.3" fill="#c9c9c9"/>
<circle cx="73.0" cy="73.5" r="2.3" fill="#b9b9b9"/>
<circle cx="75.2" cy="78.9" r="2.3" fill="#bababa"/>
<circle cx="77.3" cy="84.3" r="2.3" fill="#c8c8c8"/>
<circle cx="79.5" cy="89.7" r="2.3" fill="#bcbcbc"/>
<circle cx="81.6" cy="95.1" r="2.3" fill="#bbbbbb"/>
<circle cx="83.8" cy="100.5" r="2.3" fill="#c3c3c3"/>
<circle cx="85.9" cy="105.9" r="2.3" fill="#bababa"/>
<line x1="4.1" y1="-8.5" x2="102.5" y2="31.5" stroke="#2a2a2a" stroke-width="8.2" stroke-linecap="round"/>
<line x1="4.1" y1="-8.5" x2="102.5" y2="31.5" stroke="#a2a2a2" stroke-width="6.0" stroke-linecap="round"/>
<circle cx="6.7" cy="-7.4" r="2.2" fill="#bbbbbb"/>
<circle cx="11.9" cy="-5.3" r="2.2" fill="#c3c3c3"/>
<circle cx="17.1" cy="-3.2" r="2.2" fill="#d4d4d4"/>
<circle cx="22.3" cy="-1.1" r="2.2" fill="#cccccc"/>
<circle cx="27.5" cy="1.0" r="2.2" fill="#c5c5c5"/>
<circle cx="32.6" cy="3.1" r="2.2" fill="#c6c6c6"/>
<circle cx="37.8" cy="5.2" r="2.2" fill="#cfcfcf"/>
<circle cx="43.0" cy="7.3" r="2.2" fill="#cdcdcd"/>
<circle cx="48.2" cy="9.4" r="2.2" fill="#bcbcbc"/>
<circle cx="53.3" cy="11.5" r="2.2" fill="#cbcbcb"/>
<circle cx="58.5" cy="13.6" r="2.2" fill="#c2c2c2"/>
<circle cx="63.7" cy="15.7" r="2.2" fill="#c7c7c7"/>
<circle cx="68.9" cy="17.9" r="2.2" fill="#bfbfbf"/>
<circle cx="74.1" cy="20.0" r="2.2" fill="#c3c3c3"/>
<circle cx="79.2" cy="22.1" r="2.2" fill="#c2c2c2"/>
<circle cx="84.4" cy="24.2" r="2.2" fill="#c3c3c3"/>
<circle cx="89.6" cy="26.3" r="2.2" fill="#b9b9b9"/>
<circle cx="94.8" cy="28.4" r="2.2" fill="#bebebe"/>
<circle cx="100.0" cy="30.5" r="2.2" fill="#c8c8c8"/>
<line x1="138.6" y1="75.1" x2="181.4" y2="17.9" stroke="#2a2a2a" stroke-width="8.3" stroke-linecap="round"/>
<line x1="138.6" y1="75.1" x2="181.4" y2="17.9" stroke="#afafaf" stroke-width="6.1" stroke-linecap="round"/>
<circle cx="140.4" cy="72.7" r="2.2" fill="#cccccc"/>
<circle cx="143.9" cy="68.0" r="2.2" fill="#cdcdcd"/>
<circle cx="147.5" cy="63.2" r="2.2" fill="#d1d1d1"/>
<circle cx="151.1" cy="58.4" r="2.2" fill="#d4d4d4"/>
<circle cx="154.6" cy="53.7" r="2.2" fill="#d3d3d3"/>
<circle cx="158.2" cy="48.9" r="2.2" fill="#c8c8c8"/>
<circle cx="161.8" cy="44.1" r="2.2" fill="#c9c9c9"/>
<circle cx="165.4" cy="39.4" r="2.2" fill="#e0e0e0"/>
<circle cx="168.9" cy="34.6" r="2.2" fill="#cdcdcd"/>
<circle cx="172.5" cy="29.8" r="2.2" fill="#dbdbdb"/>
<circle cx="176.1" cy="25.1" r="2.2" fill="#dfdfdf"/>
<circle cx="179.6" cy="20.3" r="2.2" fill="#d9d9d9"/>
<line x1="159.4" y1="35.9" x2="243.8" y2="89.3" stroke="#2a2a2a" stroke-width="7.8" stroke-linecap="round"/>
<line x1="159.4" y1="35.9" x2="243.8" y2="89.3" stroke="#a1a1a1" stroke-width="5.6" stroke-linecap="round"/>
<circle cx="161.8" cy="37.4" r="2.0" fill="#c9c9c9"/>
<circle cx="166.5" cy="40.4" r="2.0" fill="#cecece"/>
<circle cx="171.2" cy="43.3" r="2.0" fill="#c1c1c1"/>
<circle cx="175.9" cy="46.3" r="2.0" fill="#c2c2c2"/>
<circle cx="180.5" cy="49.3" r="2.0" fill="#c7c7c7"/>
<circle cx="185.2" cy="52.2" r="2.0" fill="#d1d1d1"/>
<circle cx="189.9" cy="55.2" r="2.0" fill="#bcbcbc"/>
<circle cx="194.6" cy="58.2" r="2.0" fill="#d2d2d2"/>
<circle cx="199.3" cy="61.1" r="2.0" fill="#cbcbcb"/>
<circle cx="204.0" cy="64.1" r="2.0" fill="#c1c1c1"/>
<circle cx="208.7" cy="67.1" r="2.0" fill="#cacaca"/>
<circle cx="213.4" cy="70.0" r="2.0" fill="#c0c0c0"/>
<circle cx="218.0" cy="73.0" r="2.0" fill="#b9b9b9"/>
<circle cx="222.7" cy="76.0" r="2.0" fill="#cccccc"/>
<circle cx="227.4" cy="79.0" r="2.0" fill="#c2c2c2"/>
<circle cx="232.1" cy="81.9" r="2.0" fill="#c6c6c6"/>
<circle cx="236.8" cy="84.9" r="2.0" fill="#c5c5c5"/>
<circle cx="241.5" cy="87.9" r="2.0" fill="#d0d0d0"/>
<line x1="113.1" y1="32.4" x2="136.6" y2="84.9" stroke="#2a2a2a" stroke-width="8.3" stroke-linecap="round"/>
<line x1="113.1" y1="32.4" x2="136.6" y2="84.9" stroke="#b0b0b0" stroke-width="6.1" stroke-linecap="round"/>
<circle cx="114.3" cy="35.0" r="2.2" fill="#d9d9d9"/>
<circle cx="116.6" cy="40.3" r="2.2" fill="#d2d2d2"/>
<circle cx="119.0" cy="45.5" r="2.2" fill="#e2e2e2"/>
<circle cx="121.3" cy="50.8" r="2.2" fill="#cbcbcb"/>
<circle cx="123.7" cy="56.0" r="2.2" fill="#c8c8c8"/>
<circle cx="126.0" cy="61.3" r="2.2" fill="#d1d1d1"/>
<circle cx="128.4" cy="66.5" r="2.2" fill="#c9c9c9"/>
<circle cx="130.8" cy="71.8" r="2.2" fill="#dbdbdb"/>
<circle cx="133.1" cy="77.0" r="2.2" fill="#c6c6c6"/>
<circle cx="135.5" cy="82.3" r="2.2" fill="#cccccc"/>
<line x1="59.2" y1="36.7" x2="79.9" y2="-11.9" stroke="#2a2a2a" stroke-width="8.6" stroke-linecap="round"/>
<line x1="59.2" y1="36.7" x2="79.9" y2="-11.9" stroke="#a5a5a5" stroke-width="6.4" stroke-linecap="round"/>
<circle cx="60.4" cy="34.0" r="2.3" fill="#d1d1d1"/>
<circle cx="62.7" cy="28.6" r="2.3" fill="#d1d1d1"/>
<circle cx="65.0" cy="23.2" r="2.3" fill="#bebebe"/>
<circle cx="67.3" cy="17.8" r="2.3" fill="#c1c1c1"/>
<circle cx="69.6" cy="12.4" r="2.3" fill="#bdbdbd"/>
<circle cx="71.9" cy="7.0" r="2.3" fill="#d2d2d2"/>
<circle cx="74.2" cy="1.6" r="2.3" fill="#bebebe"/>
<circle cx="76.5" cy="-3.8" r="2.3" fill="#bdbdbd"/>
<circle cx="78.8" cy="-9.2" r="2.3" fill="#d0d0d0"/>
<line x1="-10.0" y1="128.9" x2="57.9" y2="45.3" stroke="#2a2a2a" stroke-width="7.6" stroke-linecap="round"/>
<line x1="-10.0" y1="128.9" x2="57.9" y2="45.3" stroke="#9f9f9f" stroke-width="5.4" stroke-linecap="round"/>
<circle cx="-8.2" cy="126.7" r="1.9" fill="#cdcdcd"/>
<circle cx="-4.7" cy="122.3" r="1.9" fill="#c4c4c4"/>
<circle cx="-1.1" cy="117.9" r="1.9" fill="#cacaca"/>
<circle cx="2.5" cy="113.5" r="1.9" fill="#cdcdcd"/>
<circle cx="6.1" cy="109.1" r="1.9" fill="#b9b9b9"/>
<circle cx="9.6" cy="104.7" r="1.9" fill="#c0c0c0"/>
<circle cx="13.2" cy="100.3" r="1.9" fill="#b6b6b6"/>
<circle cx="16.8" cy="95.9" r="1.9" fill="#c6c6c6"/>
<circle cx="20.4" cy="91.5" r="1.9" fill="#bebebe"/>
<circle cx="23.9" cy="87.1" r="1.9" fill="#bababa"/>
<circle cx="27.5" cy="82.7" r="1.9" fill="#d0d0d0"/>
<circle cx="31.1" cy="78.3" r="1.9" fill="#bababa"/>
<circle cx="34.6" cy="73.9" r="1.9" fill="#c4c4c4"/>
<circle cx="38.2" cy="69.5" r="1.9" fill="#c3c3c3"/>
<circle cx="41.8" cy="65.1" r="1.9" fill="#b7b7b7"/>
<circle cx="45.4" cy="60.7" r="1.9" fill="#c0c0c0"/>
<circle cx="48.9" cy="56.3" r="1.9" fill="#c7c7c7"/>
<circle cx="52.5" cy="51.9" r="1.9" fill="#bdbdbd"/>
<circle cx="56.1" cy="47.5" r="1.9" fill="#c0c0c0"/>
</g>
</svg>
<svg x="1148.3" y="751.3" width="213.1" height="144.3" viewBox="0 0 213.1 144.3" overflow="hidden">
<rect x="-5" y="-5" width="223.1" height="154.3" fill="#484848"/>
<filter id="b06" color-interpolation-filters="sRGB" x="-5%" y="-5%" width="110%" height="110%"><feGaussianBlur stdDeviation="0.6"/></filter>
<g filter="url(#b06)" stroke-linecap="butt" opacity="1.0">
<line x1="130.7" y1="107.0" x2="167.8" y2="176.1" stroke="#6d6d6d" stroke-width="2.0"/>
<line x1="44.4" y1="89.0" x2="181.9" y2="164.5" stroke="#5e5e5e" stroke-width="2.4"/>
<line x1="132.9" y1="49.3" x2="257.5" y2="27.7" stroke="#626262" stroke-width="2.0"/>
<line x1="-5.4" y1="165.9" x2="121.7" y2="88.0" stroke="#6a6a6a" stroke-width="2.2"/>
<line x1="44.2" y1="64.0" x2="111.5" y2="83.7" stroke="#636363" stroke-width="2.2"/>
<line x1="16.2" y1="126.1" x2="176.7" y2="96.6" stroke="#6b6b6b" stroke-width="2.6"/>
<line x1="100.2" y1="93.5" x2="245.3" y2="150.5" stroke="#6d6d6d" stroke-width="2.9"/>
<line x1="65.4" y1="37.2" x2="123.9" y2="10.7" stroke="#5c5c5c" stroke-width="2.2"/>
<line x1="149.9" y1="146.0" x2="191.7" y2="10.7" stroke="#5d5d5d" stroke-width="2.4"/>
<line x1="85.8" y1="76.3" x2="103.7" y2="-18.1" stroke="#626262" stroke-width="2.1"/>
<line x1="-4.0" y1="91.6" x2="47.8" y2="-21.1" stroke="#666666" stroke-width="2.2"/>
<line x1="-2.3" y1="-15.8" x2="23.8" y2="42.8" stroke="#656565" stroke-width="2.4"/>
<line x1="0.8" y1="108.1" x2="71.6" y2="135.3" stroke="#696969" stroke-width="2.7"/>
<line x1="170.5" y1="144.1" x2="217.0" y2="103.8" stroke="#696969" stroke-width="2.0"/>
<line x1="63.8" y1="24.5" x2="226.6" y2="54.5" stroke="#6e6e6e" stroke-width="2.0"/>
<line x1="70.2" y1="104.6" x2="165.6" y2="58.9" stroke="#5f5f5f" stroke-width="2.5"/>
<line x1="5.2" y1="92.1" x2="151.8" y2="15.1" stroke="#606060" stroke-width="1.8"/>
<line x1="119.7" y1="-1.4" x2="221.7" y2="20.3" stroke="#656565" stroke-width="1.7"/>
<line x1="7.7" y1="19.6" x2="72.5" y2="30.5" stroke="#6f6f6f" stroke-width="1.6"/>
<line x1="-46.0" y1="123.8" x2="75.9" y2="106.8" stroke="#606060" stroke-width="1.9"/>
<line x1="84.8" y1="141.2" x2="189.7" y2="59.8" stroke="#6a6a6a" stroke-width="2.5"/>
<line x1="151.7" y1="71.4" x2="272.6" y2="96.2" stroke="#5c5c5c" stroke-width="1.6"/>
<line x1="43.4" y1="70.1" x2="198.2" y2="77.1" stroke="#636363" stroke-width="1.9"/>
<line x1="24.9" y1="114.9" x2="53.4" y2="59.0" stroke="#656565" stroke-width="1.7"/>
<line x1="93.9" y1="53.7" x2="188.5" y2="30.9" stroke="#6b6b6b" stroke-width="2.7"/>
<line x1="83.9" y1="78.0" x2="98.0" y2="4.1" stroke="#686868" stroke-width="2.3"/>
<line x1="-15.0" y1="-10.6" x2="111.1" y2="81.0" stroke="#656565" stroke-width="1.8"/>
<line x1="-33.0" y1="49.7" x2="126.9" y2="92.9" stroke="#5c5c5c" stroke-width="2.3"/>
<line x1="114.1" y1="67.6" x2="222.2" y2="76.2" stroke="#666666" stroke-width="2.5"/>
<line x1="76.4" y1="66.7" x2="101.9" y2="144.9" stroke="#696969" stroke-width="2.8"/>
<line x1="-4.2" y1="129.4" x2="186.4" y2="129.7" stroke="#5e5e5e" stroke-width="2.6"/>
<line x1="130.1" y1="121.0" x2="266.4" y2="-3.0" stroke="#676767" stroke-width="1.5"/>
<line x1="17.5" y1="187.1" x2="100.9" y2="37.2" stroke="#656565" stroke-width="2.9"/>
<line x1="101.8" y1="85.5" x2="140.5" y2="22.6" stroke="#6b6b6b" stroke-width="2.8"/>
<line x1="3.1" y1="108.3" x2="21.0" y2="16.1" stroke="#5d5d5d" stroke-width="2.1"/>
<line x1="69.8" y1="-19.7" x2="223.4" y2="54.9" stroke="#6e6e6e" stroke-width="2.0"/>
<line x1="-38.2" y1="32.6" x2="89.8" y2="6.3" stroke="#626262" stroke-width="1.6"/>
<line x1="-51.9" y1="115.1" x2="60.7" y2="53.8" stroke="#6c6c6c" stroke-width="1.5"/>
<line x1="86.1" y1="71.4" x2="146.4" y2="47.4" stroke="#696969" stroke-width="2.3"/>
<line x1="-96.4" y1="111.4" x2="100.9" y2="143.7" stroke="#666666" stroke-width="2.9"/>
<line x1="104.9" y1="145.7" x2="184.8" y2="-29.3" stroke="#6e6e6e" stroke-width="2.2"/>
<line x1="61.4" y1="22.5" x2="179.5" y2="-6.5" stroke="#6c6c6c" stroke-width="2.3"/>
<line x1="87.5" y1="-39.1" x2="147.3" y2="79.9" stroke="#676767" stroke-width="2.8"/>
<line x1="101.4" y1="-7.6" x2="270.6" y2="86.6" stroke="#686868" stroke-width="2.8"/>
<line x1="109.9" y1="-39.8" x2="273.2" y2="67.9" stroke="#676767" stroke-width="2.3"/>
<line x1="94.0" y1="125.8" x2="169.3" y2="136.2" stroke="#636363" stroke-width="1.5"/>
<line x1="143.8" y1="52.9" x2="186.3" y2="178.1" stroke="#6c6c6c" stroke-width="2.1"/>
<line x1="4.4" y1="68.2" x2="50.4" y2="124.9" stroke="#6e6e6e" stroke-width="1.8"/>
<line x1="-25.5" y1="64.3" x2="129.2" y2="-52.6" stroke="#616161" stroke-width="2.9"/>
<line x1="140.1" y1="135.1" x2="228.0" y2="73.1" stroke="#6e6e6e" stroke-width="2.9"/>
<line x1="28.6" y1="108.8" x2="90.7" y2="66.3" stroke="#5c5c5c" stroke-width="2.1"/>
<line x1="65.9" y1="55.2" x2="228.3" y2="102.1" stroke="#5f5f5f" stroke-width="1.5"/>
<line x1="153.2" y1="118.5" x2="252.9" y2="115.5" stroke="#606060" stroke-width="2.6"/>
<line x1="-0.1" y1="125.2" x2="115.7" y2="11.5" stroke="#666666" stroke-width="1.7"/>
</g>
<g filter="url(#b06)" stroke-linecap="butt" opacity="1.0">
<line x1="156.9" y1="-84.2" x2="173.3" y2="84.7" stroke="#8a8a8a" stroke-width="1.8"/>
<line x1="73.7" y1="74.3" x2="280.5" y2="190.1" stroke="#969696" stroke-width="2.4"/>
<line x1="100.8" y1="17.8" x2="294.0" y2="139.1" stroke="#909090" stroke-width="2.4"/>
<line x1="-68.4" y1="77.3" x2="135.4" y2="23.2" stroke="#989898" stroke-width="2.4"/>
<line x1="81.1" y1="34.4" x2="308.9" y2="55.9" stroke="#9c9c9c" stroke-width="2.1"/>
<line x1="78.4" y1="-21.0" x2="227.5" y2="119.1" stroke="#898989" stroke-width="2.1"/>
<line x1="1.3" y1="208.4" x2="25.0" y2="74.1" stroke="#9a9a9a" stroke-width="2.3"/>
<line x1="-80.5" y1="169.9" x2="144.1" y2="58.6" stroke="#989898" stroke-width="1.5"/>
<line x1="18.3" y1="102.3" x2="142.0" y2="-5.6" stroke="#8f8f8f" stroke-width="2.3"/>
<line x1="94.5" y1="-55.5" x2="195.3" y2="102.7" stroke="#949494" stroke-width="2.6"/>
<line x1="60.1" y1="-87.7" x2="201.8" y2="154.9" stroke="#929292" stroke-width="1.5"/>
<line x1="-9.4" y1="205.2" x2="244.4" y2="75.0" stroke="#999999" stroke-width="2.2"/>
<line x1="-45.8" y1="144.5" x2="219.5" y2="9.4" stroke="#939393" stroke-width="2.5"/>
<line x1="188.3" y1="196.9" x2="223.4" y2="80.0" stroke="#9b9b9b" stroke-width="1.5"/>
<line x1="-52.4" y1="96.4" x2="97.2" y2="67.0" stroke="#949494" stroke-width="2.2"/>
<line x1="37.4" y1="108.9" x2="232.5" y2="172.0" stroke="#9d9d9d" stroke-width="1.8"/>
<line x1="47.5" y1="177.6" x2="287.4" y2="62.2" stroke="#848484" stroke-width="1.8"/>
<line x1="-32.4" y1="75.1" x2="237.2" y2="98.2" stroke="#8e8e8e" stroke-width="1.4"/>
<line x1="116.0" y1="162.2" x2="254.9" y2="83.7" stroke="#919191" stroke-width="1.8"/>
<line x1="-25.7" y1="171.8" x2="143.9" y2="3.5" stroke="#858585" stroke-width="1.7"/>
<line x1="54.3" y1="67.4" x2="349.1" y2="133.7" stroke="#929292" stroke-width="2.5"/>
<line x1="-5.4" y1="111.9" x2="52.1" y2="-50.3" stroke="#9b9b9b" stroke-width="2.5"/>
<line x1="92.9" y1="-18.8" x2="333.2" y2="113.5" stroke="#999999" stroke-width="1.5"/>
<line x1="101.3" y1="135.5" x2="317.0" y2="-86.4" stroke="#8b8b8b" stroke-width="2.4"/>
<line x1="61.8" y1="212.8" x2="186.8" y2="-31.9" stroke="#818181" stroke-width="2.3"/>
<line x1="-98.3" y1="38.4" x2="187.2" y2="111.8" stroke="#8d8d8d" stroke-width="2.5"/>
<line x1="-112.1" y1="17.5" x2="125.4" y2="59.9" stroke="#848484" stroke-width="1.6"/>
<line x1="-42.6" y1="-14.3" x2="246.6" y2="71.3" stroke="#838383" stroke-width="2.4"/>
<line x1="39.7" y1="-26.3" x2="49.3" y2="146.8" stroke="#848484" stroke-width="2.0"/>
<line x1="5.5" y1="130.8" x2="277.4" y2="47.8" stroke="#989898" stroke-width="2.4"/>
<line x1="43.7" y1="109.5" x2="274.0" y2="32.2" stroke="#9a9a9a" stroke-width="2.0"/>
<line x1="52.6" y1="-30.0" x2="137.1" y2="269.5" stroke="#999999" stroke-width="2.1"/>
<line x1="108.2" y1="10.3" x2="265.5" y2="19.8" stroke="#949494" stroke-width="1.6"/>
<line x1="-64.4" y1="-88.1" x2="73.3" y2="94.5" stroke="#848484" stroke-width="2.0"/>
<line x1="-51.2" y1="12.2" x2="146.5" y2="49.1" stroke="#9d9d9d" stroke-width="2.1"/>
<line x1="15.1" y1="79.3" x2="161.8" y2="203.1" stroke="#838383" stroke-width="2.2"/>
<line x1="93.6" y1="159.1" x2="325.0" y2="21.3" stroke="#838383" stroke-width="2.3"/>
<line x1="63.8" y1="-10.3" x2="193.8" y2="135.6" stroke="#878787" stroke-width="2.3"/>
<line x1="4.2" y1="125.2" x2="144.3" y2="-110.7" stroke="#999999" stroke-width="2.4"/>
<line x1="97.2" y1="-97.8" x2="188.5" y2="127.6" stroke="#8b8b8b" stroke-width="1.7"/>
<line x1="14.1" y1="242.4" x2="150.3" y2="-37.0" stroke="#909090" stroke-width="2.3"/>
<line x1="106.4" y1="109.5" x2="256.0" y2="52.5" stroke="#898989" stroke-width="2.3"/>
<line x1="78.8" y1="-30.9" x2="332.6" y2="44.3" stroke="#989898" stroke-width="1.8"/>
<line x1="-0.5" y1="82.0" x2="221.8" y2="-19.6" stroke="#929292" stroke-width="1.6"/>
<line x1="-28.0" y1="55.6" x2="167.5" y2="11.6" stroke="#919191" stroke-width="2.4"/>
<line x1="-42.4" y1="132.3" x2="72.6" y2="79.7" stroke="#8d8d8d" stroke-width="2.6"/>
<line x1="-50.6" y1="68.4" x2="218.9" y2="-23.3" stroke="#848484" stroke-width="2.5"/>
<line x1="-20.3" y1="80.3" x2="258.3" y2="136.5" stroke="#898989" stroke-width="1.9"/>
<line x1="3.5" y1="140.8" x2="228.5" y2="-0.0" stroke="#898989" stroke-width="2.1"/>
<line x1="14.7" y1="53.7" x2="253.5" y2="90.9" stroke="#898989" stroke-width="1.4"/>
<line x1="69.1" y1="26.3" x2="264.4" y2="98.7" stroke="#868686" stroke-width="2.1"/>
<line x1="69.5" y1="-51.8" x2="311.4" y2="98.9" stroke="#848484" stroke-width="2.1"/>
<line x1="47.9" y1="162.0" x2="161.6" y2="-37.6" stroke="#8f8f8f" stroke-width="1.8"/>
<line x1="97.7" y1="99.8" x2="257.1" y2="90.8" stroke="#9d9d9d" stroke-width="2.5"/>
<line x1="26.2" y1="-75.9" x2="45.5" y2="82.4" stroke="#929292" stroke-width="2.5"/>
<line x1="136.3" y1="37.1" x2="280.5" y2="66.8" stroke="#8c8c8c" stroke-width="2.0"/>
<line x1="-68.3" y1="-19.8" x2="217.3" y2="89.3" stroke="#8d8d8d" stroke-width="1.8"/>
<line x1="-38.8" y1="170.9" x2="216.7" y2="97.0" stroke="#919191" stroke-width="1.7"/>
<line x1="41.1" y1="202.0" x2="126.0" y2="-14.0" stroke="#9b9b9b" stroke-width="1.7"/>
<line x1="87.3" y1="56.5" x2="215.6" y2="123.0" stroke="#888888" stroke-width="2.4"/>
<line x1="-72.2" y1="43.5" x2="150.0" y2="119.1" stroke="#858585" stroke-width="2.4"/>
<line x1="115.5" y1="110.3" x2="212.8" y2="-76.8" stroke="#979797" stroke-width="1.9"/>
<line x1="-19.9" y1="37.2" x2="223.2" y2="157.5" stroke="#9b9b9b" stroke-width="2.4"/>
<line x1="6.8" y1="180.4" x2="195.4" y2="-27.6" stroke="#858585" stroke-width="1.4"/>
<line x1="114.4" y1="-13.4" x2="263.0" y2="156.3" stroke="#8c8c8c" stroke-width="1.5"/>
<line x1="110.3" y1="12.8" x2="266.3" y2="87.1" stroke="#898989" stroke-width="2.1"/>
<line x1="19.9" y1="-50.6" x2="216.9" y2="125.6" stroke="#8c8c8c" stroke-width="2.3"/>
<line x1="7.0" y1="-91.5" x2="106.1" y2="98.1" stroke="#929292" stroke-width="1.9"/>
<line x1="94.9" y1="-40.7" x2="141.7" y2="155.2" stroke="#9a9a9a" stroke-width="1.7"/>
<line x1="-21.7" y1="-32.1" x2="86.8" y2="238.0" stroke="#8d8d8d" stroke-width="1.9"/>
<line x1="94.4" y1="197.2" x2="251.8" y2="-67.3" stroke="#8f8f8f" stroke-width="1.8"/>
<line x1="-58.3" y1="178.6" x2="108.2" y2="99.9" stroke="#959595" stroke-width="1.5"/>
<line x1="24.6" y1="65.3" x2="233.2" y2="-52.4" stroke="#898989" stroke-width="2.3"/>
<line x1="81.3" y1="95.4" x2="208.8" y2="-15.3" stroke="#878787" stroke-width="2.4"/>
<line x1="-16.8" y1="163.5" x2="180.2" y2="77.2" stroke="#9b9b9b" stroke-width="1.5"/>
<line x1="19.3" y1="226.6" x2="72.0" y2="34.6" stroke="#828282" stroke-width="1.7"/>
<line x1="85.0" y1="-111.7" x2="101.8" y2="140.9" stroke="#8c8c8c" stroke-width="2.4"/>
<line x1="16.7" y1="128.0" x2="280.4" y2="73.5" stroke="#9b9b9b" stroke-width="2.1"/>
<line x1="53.3" y1="130.9" x2="194.6" y2="94.3" stroke="#919191" stroke-width="2.5"/>
<line x1="46.8" y1="-24.2" x2="159.7" y2="101.3" stroke="#898989" stroke-width="1.8"/>
<line x1="85.0" y1="162.2" x2="286.4" y2="102.8" stroke="#848484" stroke-width="2.0"/>
<line x1="193.0" y1="58.3" x2="222.0" y2="184.2" stroke="#9a9a9a" stroke-width="1.4"/>
<line x1="65.7" y1="99.5" x2="211.7" y2="127.4" stroke="#979797" stroke-width="2.3"/>
<line x1="-93.1" y1="39.4" x2="198.5" y2="28.5" stroke="#818181" stroke-width="2.2"/>
<line x1="-58.3" y1="-4.0" x2="101.6" y2="100.2" stroke="#858585" stroke-width="2.0"/>
<line x1="29.4" y1="-75.0" x2="38.1" y2="85.1" stroke="#858585" stroke-width="2.2"/>
<line x1="-18.6" y1="174.9" x2="150.1" y2="108.7" stroke="#9c9c9c" stroke-width="2.4"/>
<line x1="21.9" y1="53.3" x2="262.1" y2="159.6" stroke="#949494" stroke-width="1.6"/>
<line x1="27.4" y1="-33.3" x2="109.0" y2="97.1" stroke="#838383" stroke-width="2.4"/>
<line x1="-7.6" y1="3.5" x2="51.6" y2="148.1" stroke="#939393" stroke-width="1.7"/>
<line x1="-119.8" y1="48.1" x2="127.1" y2="100.4" stroke="#919191" stroke-width="2.5"/>
<line x1="10.3" y1="78.9" x2="297.1" y2="163.6" stroke="#868686" stroke-width="1.6"/>
<line x1="-59.6" y1="52.6" x2="78.4" y2="48.7" stroke="#8d8d8d" stroke-width="2.6"/>
<line x1="92.3" y1="158.6" x2="143.5" y2="-138.5" stroke="#919191" stroke-width="1.4"/>
<line x1="28.4" y1="239.2" x2="96.4" y2="-33.0" stroke="#888888" stroke-width="1.5"/>
<line x1="-23.9" y1="114.1" x2="151.8" y2="110.8" stroke="#858585" stroke-width="2.1"/>
<line x1="-53.5" y1="15.6" x2="72.3" y2="30.4" stroke="#969696" stroke-width="2.0"/>
<line x1="-86.6" y1="224.9" x2="117.1" y2="7.0" stroke="#818181" stroke-width="1.5"/>
<line x1="81.8" y1="74.8" x2="212.4" y2="204.7" stroke="#808080" stroke-width="2.0"/>
<line x1="-128.2" y1="50.9" x2="150.9" y2="126.4" stroke="#8f8f8f" stroke-width="2.2"/>
<line x1="132.0" y1="245.6" x2="190.2" y2="-24.1" stroke="#929292" stroke-width="1.6"/>
<line x1="-68.0" y1="102.4" x2="158.7" y2="138.5" stroke="#959595" stroke-width="1.7"/>
<line x1="123.0" y1="-57.3" x2="202.2" y2="145.6" stroke="#919191" stroke-width="1.7"/>
<line x1="78.3" y1="-46.0" x2="172.1" y2="84.3" stroke="#818181" stroke-width="2.6"/>
<line x1="33.5" y1="3.6" x2="89.5" y2="149.2" stroke="#808080" stroke-width="1.6"/>
<line x1="-5.1" y1="-5.1" x2="79.9" y2="198.7" stroke="#999999" stroke-width="2.3"/>
<line x1="-68.7" y1="150.4" x2="177.5" y2="-23.7" stroke="#909090" stroke-width="2.1"/>
<line x1="159.9" y1="28.7" x2="214.1" y2="167.7" stroke="#818181" stroke-width="1.8"/>
</g>
<g filter="url(#b06)" stroke-linecap="butt" opacity="1.0">
<line x1="-140.6" y1="-3.1" x2="185.4" y2="94.3" stroke="#959595" stroke-width="3.6"/>
<line x1="30.1" y1="184.3" x2="251.0" y2="62.7" stroke="#999999" stroke-width="3.5"/>
<line x1="-9.3" y1="135.8" x2="244.6" y2="79.6" stroke="#9e9e9e" stroke-width="4.3"/>
<line x1="-78.8" y1="14.6" x2="267.8" y2="55.5" stroke="#a1a1a1" stroke-width="4.4"/>
<line x1="-37.6" y1="149.8" x2="220.4" y2="99.5" stroke="#929292" stroke-width="3.3"/>
<line x1="20.8" y1="6.5" x2="298.4" y2="-3.7" stroke="#989898" stroke-width="4.5"/>
<line x1="57.2" y1="132.6" x2="346.3" y2="28.3" stroke="#959595" stroke-width="3.7"/>
<line x1="-81.1" y1="92.3" x2="233.4" y2="56.4" stroke="#929292" stroke-width="3.4"/>
<line x1="70.2" y1="69.8" x2="277.3" y2="-67.3" stroke="#8e8e8e" stroke-width="3.9"/>
<line x1="-144.1" y1="11.9" x2="170.9" y2="32.9" stroke="#8d8d8d" stroke-width="4.1"/>
<line x1="-99.3" y1="89.3" x2="169.3" y2="139.5" stroke="#989898" stroke-width="3.5"/>
<line x1="-26.4" y1="102.4" x2="200.4" y2="5.0" stroke="#999999" stroke-width="4.0"/>
<line x1="74.7" y1="92.0" x2="351.2" y2="35.3" stroke="#979797" stroke-width="3.8"/>
<line x1="-61.9" y1="6.7" x2="168.8" y2="4.8" stroke="#9d9d9d" stroke-width="3.7"/>
<line x1="-66.7" y1="67.8" x2="210.8" y2="64.3" stroke="#8e8e8e" stroke-width="3.8"/>
<line x1="66.4" y1="145.8" x2="296.1" y2="110.5" stroke="#8c8c8c" stroke-width="3.3"/>
<line x1="-72.5" y1="49.9" x2="122.7" y2="100.7" stroke="#9e9e9e" stroke-width="4.6"/>
<line x1="-25.7" y1="31.1" x2="293.5" y2="141.6" stroke="#9d9d9d" stroke-width="3.6"/>
<line x1="-19.1" y1="51.8" x2="295.4" y2="84.5" stroke="#9f9f9f" stroke-width="3.9"/>
<line x1="-67.5" y1="155.2" x2="187.8" y2="87.5" stroke="#8d8d8d" stroke-width="3.9"/>
</g>
</svg>
<svg x="731.3" y="748.0" width="212.4" height="143.5" viewBox="0 0 212.4 143.5" overflow="hidden">
<rect x="-5" y="-5" width="222.4" height="153.5" fill="#282828"/>
<g filter="url(#blur1)" stroke-linecap="butt" opacity="1.0">
<line x1="88.0" y1="-45.5" x2="-6.0" y2="193.3" stroke="#5a5a5a" stroke-width="3.9"/>
<line x1="-36.5" y1="147.0" x2="38.1" y2="51.9" stroke="#5e5e5e" stroke-width="4.2"/>
<line x1="184.2" y1="-36.9" x2="124.7" y2="121.9" stroke="#5b5b5b" stroke-width="2.4"/>
<line x1="-18.6" y1="24.3" x2="135.9" y2="217.7" stroke="#474747" stroke-width="3.9"/>
<line x1="62.4" y1="-60.1" x2="221.0" y2="77.9" stroke="#4a4a4a" stroke-width="3.0"/>
<line x1="43.3" y1="113.9" x2="152.6" y2="171.2" stroke="#5f5f5f" stroke-width="3.1"/>
<line x1="137.9" y1="56.2" x2="190.3" y2="228.3" stroke="#444444" stroke-width="3.0"/>
<line x1="23.1" y1="-20.5" x2="115.9" y2="142.6" stroke="#434343" stroke-width="3.5"/>
<line x1="-19.7" y1="120.6" x2="97.7" y2="-49.0" stroke="#4c4c4c" stroke-width="4.3"/>
<line x1="183.9" y1="-10.3" x2="237.1" y2="121.8" stroke="#575757" stroke-width="4.9"/>
<line x1="34.0" y1="136.6" x2="140.7" y2="-24.1" stroke="#525252" stroke-width="2.0"/>
<line x1="-19.3" y1="-3.7" x2="61.5" y2="115.2" stroke="#515151" stroke-width="2.9"/>
<line x1="-28.5" y1="112.3" x2="61.6" y2="-69.7" stroke="#5a5a5a" stroke-width="4.2"/>
<line x1="33.1" y1="81.5" x2="115.4" y2="-16.1" stroke="#4f4f4f" stroke-width="4.6"/>
<line x1="139.8" y1="177.4" x2="259.7" y2="39.3" stroke="#464646" stroke-width="3.6"/>
<line x1="48.5" y1="92.1" x2="163.0" y2="-42.0" stroke="#575757" stroke-width="4.1"/>
<line x1="172.3" y1="-95.6" x2="87.6" y2="112.7" stroke="#555555" stroke-width="3.7"/>
<line x1="219.4" y1="-61.0" x2="139.0" y2="109.5" stroke="#4a4a4a" stroke-width="4.6"/>
<line x1="77.5" y1="41.7" x2="135.1" y2="226.8" stroke="#474747" stroke-width="3.9"/>
<line x1="175.6" y1="-29.4" x2="206.5" y2="72.7" stroke="#484848" stroke-width="3.4"/>
<line x1="159.2" y1="-7.6" x2="160.4" y2="110.2" stroke="#505050" stroke-width="4.9"/>
<line x1="135.2" y1="11.4" x2="167.7" y2="164.1" stroke="#444444" stroke-width="4.0"/>
<line x1="188.5" y1="-31.3" x2="130.6" y2="206.2" stroke="#4e4e4e" stroke-width="2.0"/>
<line x1="-9.7" y1="30.1" x2="77.6" y2="252.1" stroke="#525252" stroke-width="4.1"/>
<line x1="183.7" y1="-5.7" x2="206.3" y2="140.8" stroke="#515151" stroke-width="2.9"/>
<line x1="56.4" y1="-32.3" x2="131.6" y2="186.0" stroke="#5a5a5a" stroke-width="3.3"/>
<line x1="79.5" y1="113.9" x2="140.6" y2="4.7" stroke="#505050" stroke-width="3.1"/>
<line x1="78.1" y1="7.9" x2="-24.3" y2="176.7" stroke="#5c5c5c" stroke-width="3.1"/>
<line x1="56.5" y1="-69.6" x2="90.3" y2="78.8" stroke="#525252" stroke-width="4.7"/>
<line x1="-41.2" y1="235.0" x2="91.3" y2="31.8" stroke="#4e4e4e" stroke-width="3.1"/>
<line x1="188.6" y1="32.3" x2="128.6" y2="198.6" stroke="#4d4d4d" stroke-width="4.1"/>
<line x1="167.2" y1="68.8" x2="210.2" y2="203.7" stroke="#505050" stroke-width="4.9"/>
<line x1="208.8" y1="-45.1" x2="129.2" y2="193.1" stroke="#5d5d5d" stroke-width="2.9"/>
<line x1="94.8" y1="-22.5" x2="136.8" y2="89.4" stroke="#4f4f4f" stroke-width="3.9"/>
<line x1="13.2" y1="65.2" x2="93.1" y2="157.1" stroke="#505050" stroke-width="3.2"/>
<line x1="-1.4" y1="-67.8" x2="102.4" y2="74.3" stroke="#505050" stroke-width="2.1"/>
<line x1="122.7" y1="0.7" x2="159.6" y2="141.7" stroke="#5f5f5f" stroke-width="3.5"/>
<line x1="12.7" y1="24.2" x2="26.6" y2="143.6" stroke="#575757" stroke-width="2.8"/>
<line x1="63.5" y1="65.7" x2="106.7" y2="160.6" stroke="#565656" stroke-width="3.0"/>
<line x1="77.9" y1="43.3" x2="150.5" y2="163.5" stroke="#5d5d5d" stroke-width="3.4"/>
</g>
<g filter="url(#blur1)" stroke-linecap="butt" opacity="1.0">
<line x1="206.0" y1="-94.3" x2="178.1" y2="112.0" stroke="#848484" stroke-width="5.8"/>
<line x1="133.2" y1="-61.2" x2="87.1" y2="138.2" stroke="#828282" stroke-width="5.6"/>
<line x1="163.9" y1="156.5" x2="245.7" y2="-29.5" stroke="#848484" stroke-width="3.2"/>
<line x1="83.6" y1="-77.4" x2="77.0" y2="111.9" stroke="#717171" stroke-width="5.6"/>
<line x1="82.2" y1="-91.1" x2="244.4" y2="121.3" stroke="#848484" stroke-width="5.1"/>
<line x1="62.7" y1="73.6" x2="85.5" y2="197.3" stroke="#797979" stroke-width="5.7"/>
<line x1="176.7" y1="-21.4" x2="199.8" y2="218.7" stroke="#8e8e8e" stroke-width="4.2"/>
<line x1="29.7" y1="-25.7" x2="-7.0" y2="148.9" stroke="#747474" stroke-width="4.1"/>
<line x1="101.9" y1="-21.4" x2="230.7" y2="191.3" stroke="#848484" stroke-width="4.5"/>
<line x1="-26.1" y1="201.8" x2="223.2" y2="43.8" stroke="#777777" stroke-width="3.8"/>
<line x1="88.8" y1="56.3" x2="29.6" y2="174.3" stroke="#7d7d7d" stroke-width="6.0"/>
<line x1="33.5" y1="-65.1" x2="13.7" y2="91.2" stroke="#828282" stroke-width="2.7"/>
<line x1="163.5" y1="-22.1" x2="247.4" y2="78.5" stroke="#7b7b7b" stroke-width="5.2"/>
<line x1="124.1" y1="-3.3" x2="221.9" y2="248.8" stroke="#808080" stroke-width="5.4"/>
<line x1="89.1" y1="-6.7" x2="60.3" y2="153.4" stroke="#6f6f6f" stroke-width="5.3"/>
<line x1="171.3" y1="-22.0" x2="117.2" y2="132.7" stroke="#7a7a7a" stroke-width="2.7"/>
<line x1="118.0" y1="-12.5" x2="214.1" y2="239.8" stroke="#838383" stroke-width="4.1"/>
<line x1="103.1" y1="-0.5" x2="100.9" y2="154.5" stroke="#838383" stroke-width="4.9"/>
<line x1="31.1" y1="52.4" x2="-5.6" y2="182.5" stroke="#6f6f6f" stroke-width="3.6"/>
<line x1="147.1" y1="25.4" x2="229.1" y2="150.0" stroke="#878787" stroke-width="2.8"/>
<line x1="27.9" y1="176.8" x2="190.3" y2="32.7" stroke="#818181" stroke-width="4.2"/>
<line x1="138.4" y1="108.9" x2="207.1" y2="-17.5" stroke="#878787" stroke-width="2.5"/>
<line x1="296.8" y1="9.4" x2="106.4" y2="241.2" stroke="#717171" stroke-width="4.4"/>
<line x1="78.7" y1="-7.3" x2="-10.4" y2="236.0" stroke="#777777" stroke-width="5.4"/>
<line x1="140.5" y1="-34.1" x2="207.6" y2="159.5" stroke="#898989" stroke-width="4.9"/>
<line x1="58.0" y1="173.5" x2="210.5" y2="99.1" stroke="#757575" stroke-width="4.2"/>
<line x1="169.7" y1="-77.5" x2="64.7" y2="180.9" stroke="#6e6e6e" stroke-width="5.6"/>
<line x1="99.4" y1="3.3" x2="2.1" y2="242.7" stroke="#767676" stroke-width="2.5"/>
<line x1="34.6" y1="-81.7" x2="97.0" y2="107.9" stroke="#848484" stroke-width="5.4"/>
<line x1="95.9" y1="-74.9" x2="115.4" y2="170.5" stroke="#8a8a8a" stroke-width="3.4"/>
<line x1="53.0" y1="195.8" x2="140.6" y2="41.0" stroke="#717171" stroke-width="3.6"/>
<line x1="76.5" y1="-3.0" x2="-19.9" y2="138.7" stroke="#888888" stroke-width="2.7"/>
<line x1="7.3" y1="-7.5" x2="125.4" y2="71.2" stroke="#8a8a8a" stroke-width="5.9"/>
<line x1="69.3" y1="143.8" x2="242.9" y2="-89.6" stroke="#747474" stroke-width="4.6"/>
<line x1="-15.2" y1="202.8" x2="35.7" y2="55.1" stroke="#727272" stroke-width="3.8"/>
<line x1="-81.7" y1="91.1" x2="150.6" y2="-3.5" stroke="#7f7f7f" stroke-width="2.8"/>
<line x1="36.0" y1="-8.0" x2="78.3" y2="131.7" stroke="#7c7c7c" stroke-width="5.2"/>
<line x1="94.1" y1="156.6" x2="151.3" y2="-11.0" stroke="#7d7d7d" stroke-width="5.7"/>
<line x1="22.9" y1="142.5" x2="67.1" y2="21.7" stroke="#717171" stroke-width="4.8"/>
<line x1="93.8" y1="1.5" x2="-56.2" y2="172.3" stroke="#8a8a8a" stroke-width="2.9"/>
<line x1="71.7" y1="88.3" x2="156.2" y2="-44.4" stroke="#8d8d8d" stroke-width="2.5"/>
<line x1="192.7" y1="-30.3" x2="122.6" y2="239.5" stroke="#737373" stroke-width="3.9"/>
<line x1="-29.9" y1="-39.3" x2="30.6" y2="124.4" stroke="#888888" stroke-width="4.3"/>
<line x1="175.8" y1="-46.5" x2="121.5" y2="213.4" stroke="#848484" stroke-width="5.3"/>
<line x1="37.2" y1="-90.6" x2="61.2" y2="100.0" stroke="#8a8a8a" stroke-width="3.0"/>
<line x1="129.5" y1="-11.9" x2="67.0" y2="109.9" stroke="#878787" stroke-width="3.9"/>
<line x1="123.4" y1="-56.2" x2="172.6" y2="91.7" stroke="#777777" stroke-width="5.3"/>
<line x1="6.1" y1="85.3" x2="210.1" y2="156.6" stroke="#737373" stroke-width="2.8"/>
</g>
<g filter="url(#blur1)">
<line x1="66.8" y1="-2.2" x2="41.4" y2="144.9" stroke="#969696" stroke-width="8.7"/>
<line x1="83.2" y1="-2.2" x2="117.6" y2="144.9" stroke="#929292" stroke-width="10.0"/>
<line x1="140.3" y1="-2.2" x2="132.2" y2="144.9" stroke="#8e8e8e" stroke-width="6.9"/>
<line x1="194.8" y1="-2.2" x2="189.4" y2="144.9" stroke="#8c8c8c" stroke-width="6.5"/>
<line x1="1.5" y1="-0.4" x2="32.3" y2="144.9" stroke="#848484" stroke-width="6.2"/>
<line x1="188.5" y1="1.5" x2="110.4" y2="47.7" stroke="#969696" stroke-width="4.7"/>
<line x1="-0.4" y1="37.8" x2="97.7" y2="143.1" stroke="#878787" stroke-width="6.5"/>
<line x1="34.1" y1="-0.4" x2="48.7" y2="95.9" stroke="#808080" stroke-width="4.4"/>
<line x1="212.1" y1="8.7" x2="152.1" y2="144.9" stroke="#808080" stroke-width="5.4"/>
<line x1="101.3" y1="-0.4" x2="57.7" y2="144.9" stroke="#8c8c8c" stroke-width="3.3"/>
<line x1="163.0" y1="-0.4" x2="177.6" y2="144.9" stroke="#7d7d7d" stroke-width="4.0"/>
<line x1="16.0" y1="114.0" x2="83.2" y2="55.9" stroke="#878787" stroke-width="3.3"/>
</g>
<g filter="url(#blur1)" stroke-linecap="butt" opacity="1.0">
<line x1="-6.9" y1="250.5" x2="118.7" y2="31.9" stroke="#888888" stroke-width="1.3"/>
<line x1="27.3" y1="74.6" x2="20.7" y2="184.4" stroke="#999999" stroke-width="1.9"/>
<line x1="-5.8" y1="76.4" x2="113.0" y2="-40.5" stroke="#8d8d8d" stroke-width="1.8"/>
<line x1="35.4" y1="0.4" x2="22.2" y2="144.7" stroke="#9e9e9e" stroke-width="2.0"/>
<line x1="202.9" y1="13.7" x2="185.3" y2="136.4" stroke="#8e8e8e" stroke-width="1.6"/>
<line x1="170.4" y1="88.5" x2="240.3" y2="-21.6" stroke="#919191" stroke-width="2.0"/>
<line x1="45.1" y1="-30.7" x2="136.0" y2="35.1" stroke="#7d7d7d" stroke-width="2.4"/>
<line x1="86.1" y1="153.8" x2="203.4" y2="58.7" stroke="#919191" stroke-width="2.3"/>
<line x1="54.5" y1="-35.4" x2="-11.6" y2="151.7" stroke="#999999" stroke-width="2.2"/>
<line x1="74.3" y1="57.2" x2="121.8" y2="172.9" stroke="#7e7e7e" stroke-width="1.3"/>
<line x1="51.5" y1="208.8" x2="190.2" y2="76.0" stroke="#848484" stroke-width="1.8"/>
<line x1="213.6" y1="0.3" x2="149.0" y2="239.5" stroke="#919191" stroke-width="2.4"/>
<line x1="40.0" y1="-58.5" x2="112.0" y2="160.2" stroke="#848484" stroke-width="1.5"/>
<line x1="121.1" y1="-30.7" x2="88.4" y2="175.6" stroke="#7b7b7b" stroke-width="2.2"/>
<line x1="193.5" y1="39.2" x2="80.0" y2="171.8" stroke="#9f9f9f" stroke-width="1.2"/>
<line x1="19.8" y1="60.8" x2="82.8" y2="139.2" stroke="#858585" stroke-width="1.7"/>
<line x1="45.9" y1="-21.6" x2="238.3" y2="88.3" stroke="#838383" stroke-width="2.1"/>
<line x1="37.6" y1="-68.1" x2="71.8" y2="189.4" stroke="#7f7f7f" stroke-width="2.2"/>
<line x1="112.5" y1="58.7" x2="192.0" y2="181.8" stroke="#939393" stroke-width="1.8"/>
<line x1="181.6" y1="-15.7" x2="215.2" y2="127.8" stroke="#999999" stroke-width="1.6"/>
<line x1="-17.6" y1="56.7" x2="66.4" y2="-49.3" stroke="#828282" stroke-width="2.5"/>
<line x1="54.1" y1="-34.6" x2="178.6" y2="36.6" stroke="#8b8b8b" stroke-width="1.3"/>
<line x1="149.0" y1="-21.6" x2="118.2" y2="137.2" stroke="#7b7b7b" stroke-width="2.4"/>
<line x1="114.3" y1="-6.9" x2="185.5" y2="81.3" stroke="#7d7d7d" stroke-width="2.3"/>
</g>
</svg>
<svg x="373.4" y="745.3" width="212.6" height="143.4" viewBox="0 0 212.6 143.4" overflow="hidden">
<rect x="-5" y="-5" width="222.6" height="153.4" fill="#262626"/>
<g filter="url(#b06)" stroke-linecap="butt" opacity="1.0">
<line x1="80.9" y1="55.4" x2="114.1" y2="3.9" stroke="#484848" stroke-width="1.7"/>
<line x1="72.1" y1="99.4" x2="96.4" y2="118.2" stroke="#5a5a5a" stroke-width="3.1"/>
<line x1="70.4" y1="49.0" x2="30.6" y2="68.0" stroke="#494949" stroke-width="1.5"/>
<line x1="89.3" y1="129.4" x2="98.8" y2="149.0" stroke="#424242" stroke-width="1.8"/>
<line x1="87.5" y1="3.7" x2="105.9" y2="18.1" stroke="#3f3f3f" stroke-width="2.5"/>
<line x1="175.4" y1="132.3" x2="236.2" y2="151.7" stroke="#494949" stroke-width="2.6"/>
<line x1="99.0" y1="43.9" x2="120.7" y2="21.0" stroke="#414141" stroke-width="2.4"/>
<line x1="186.8" y1="93.2" x2="208.9" y2="82.0" stroke="#414141" stroke-width="3.0"/>
<line x1="-2.8" y1="119.4" x2="35.3" y2="89.6" stroke="#3d3d3d" stroke-width="1.7"/>
<line x1="190.6" y1="-16.7" x2="220.1" y2="21.8" stroke="#404040" stroke-width="1.6"/>
<line x1="10.4" y1="36.2" x2="27.6" y2="67.8" stroke="#484848" stroke-width="1.6"/>
<line x1="106.1" y1="69.0" x2="130.0" y2="65.3" stroke="#404040" stroke-width="1.7"/>
<line x1="213.0" y1="28.8" x2="167.7" y2="38.8" stroke="#3c3c3c" stroke-width="3.1"/>
<line x1="126.2" y1="0.3" x2="63.2" y2="11.6" stroke="#474747" stroke-width="1.8"/>
<line x1="103.7" y1="27.8" x2="131.8" y2="-22.7" stroke="#535353" stroke-width="2.3"/>
<line x1="13.0" y1="80.7" x2="42.5" y2="54.0" stroke="#4a4a4a" stroke-width="2.4"/>
<line x1="77.8" y1="107.2" x2="101.2" y2="92.8" stroke="#595959" stroke-width="2.5"/>
<line x1="45.7" y1="75.3" x2="81.6" y2="121.3" stroke="#464646" stroke-width="3.1"/>
<line x1="194.4" y1="94.9" x2="206.2" y2="139.8" stroke="#4f4f4f" stroke-width="1.5"/>
<line x1="0.3" y1="135.7" x2="13.6" y2="148.8" stroke="#555555" stroke-width="3.0"/>
<line x1="104.3" y1="60.0" x2="57.1" y2="86.2" stroke="#4d4d4d" stroke-width="1.6"/>
<line x1="89.8" y1="141.7" x2="118.0" y2="105.6" stroke="#4a4a4a" stroke-width="1.8"/>
<line x1="29.2" y1="119.3" x2="-12.5" y2="138.3" stroke="#545454" stroke-width="2.7"/>
<line x1="72.8" y1="5.3" x2="17.6" y2="20.6" stroke="#5b5b5b" stroke-width="1.9"/>
<line x1="27.1" y1="23.8" x2="13.3" y2="68.0" stroke="#5b5b5b" stroke-width="1.8"/>
<line x1="129.1" y1="-18.0" x2="138.7" y2="44.7" stroke="#4b4b4b" stroke-width="2.2"/>
<line x1="17.3" y1="116.7" x2="25.2" y2="158.8" stroke="#4f4f4f" stroke-width="2.2"/>
<line x1="52.7" y1="55.0" x2="91.8" y2="74.7" stroke="#454545" stroke-width="2.5"/>
<line x1="166.9" y1="104.4" x2="158.1" y2="139.4" stroke="#474747" stroke-width="3.2"/>
<line x1="108.9" y1="109.6" x2="121.5" y2="148.9" stroke="#535353" stroke-width="1.6"/>
<line x1="135.2" y1="107.5" x2="156.0" y2="135.6" stroke="#4c4c4c" stroke-width="1.9"/>
<line x1="27.8" y1="68.2" x2="72.4" y2="109.2" stroke="#3f3f3f" stroke-width="2.6"/>
<line x1="84.9" y1="66.6" x2="99.4" y2="42.3" stroke="#4f4f4f" stroke-width="2.1"/>
<line x1="72.1" y1="91.8" x2="79.1" y2="118.7" stroke="#424242" stroke-width="2.2"/>
<line x1="97.5" y1="103.0" x2="158.7" y2="104.7" stroke="#535353" stroke-width="2.4"/>
<line x1="147.1" y1="58.4" x2="149.2" y2="108.4" stroke="#585858" stroke-width="1.6"/>
<line x1="4.4" y1="63.8" x2="24.7" y2="77.5" stroke="#4d4d4d" stroke-width="2.0"/>
<line x1="152.5" y1="103.4" x2="186.2" y2="134.8" stroke="#3c3c3c" stroke-width="1.6"/>
<line x1="167.6" y1="79.7" x2="133.9" y2="103.0" stroke="#4b4b4b" stroke-width="3.2"/>
<line x1="61.7" y1="24.2" x2="85.5" y2="58.8" stroke="#505050" stroke-width="2.2"/>
<line x1="118.7" y1="58.4" x2="108.3" y2="78.5" stroke="#525252" stroke-width="3.2"/>
<line x1="130.6" y1="15.0" x2="188.4" y2="27.9" stroke="#464646" stroke-width="2.7"/>
<line x1="164.7" y1="27.5" x2="225.1" y2="20.1" stroke="#3f3f3f" stroke-width="2.5"/>
<line x1="224.3" y1="49.0" x2="170.1" y2="73.3" stroke="#464646" stroke-width="1.8"/>
<line x1="99.5" y1="91.4" x2="108.6" y2="109.6" stroke="#585858" stroke-width="2.3"/>
<line x1="171.5" y1="58.8" x2="170.3" y2="80.8" stroke="#4b4b4b" stroke-width="1.8"/>
<line x1="136.2" y1="13.0" x2="187.9" y2="51.1" stroke="#4c4c4c" stroke-width="2.6"/>
<line x1="182.6" y1="106.6" x2="180.9" y2="140.7" stroke="#4e4e4e" stroke-width="2.5"/>
<line x1="156.6" y1="-0.9" x2="125.2" y2="13.8" stroke="#595959" stroke-width="2.8"/>
<line x1="21.1" y1="-6.2" x2="23.0" y2="45.7" stroke="#505050" stroke-width="2.9"/>
<line x1="91.4" y1="113.3" x2="115.7" y2="99.1" stroke="#5a5a5a" stroke-width="2.9"/>
<line x1="143.0" y1="-11.6" x2="171.3" y2="18.9" stroke="#464646" stroke-width="2.9"/>
<line x1="176.2" y1="63.0" x2="205.6" y2="59.4" stroke="#515151" stroke-width="3.0"/>
<line x1="67.5" y1="140.7" x2="102.2" y2="134.3" stroke="#454545" stroke-width="1.8"/>
<line x1="86.4" y1="-5.0" x2="47.3" y2="27.1" stroke="#3f3f3f" stroke-width="2.0"/>
<line x1="148.4" y1="-11.9" x2="151.9" y2="14.0" stroke="#4b4b4b" stroke-width="1.7"/>
<line x1="131.5" y1="51.1" x2="141.3" y2="99.7" stroke="#414141" stroke-width="2.5"/>
<line x1="192.1" y1="43.4" x2="217.0" y2="72.0" stroke="#454545" stroke-width="1.7"/>
<line x1="106.6" y1="92.6" x2="69.7" y2="133.3" stroke="#4b4b4b" stroke-width="2.9"/>
<line x1="72.1" y1="-10.2" x2="110.2" y2="36.4" stroke="#434343" stroke-width="2.6"/>
<line x1="23.8" y1="137.4" x2="64.5" y2="87.0" stroke="#414141" stroke-width="2.3"/>
<line x1="129.9" y1="14.1" x2="170.9" y2="46.8" stroke="#3f3f3f" stroke-width="2.5"/>
<line x1="145.7" y1="39.1" x2="156.9" y2="78.0" stroke="#575757" stroke-width="2.4"/>
<line x1="138.0" y1="97.3" x2="150.8" y2="82.0" stroke="#505050" stroke-width="2.0"/>
<line x1="107.5" y1="95.9" x2="157.8" y2="135.2" stroke="#4e4e4e" stroke-width="2.5"/>
<line x1="183.1" y1="-15.5" x2="149.3" y2="39.4" stroke="#535353" stroke-width="2.9"/>
<line x1="195.4" y1="21.7" x2="167.8" y2="47.6" stroke="#545454" stroke-width="2.4"/>
<line x1="161.0" y1="59.7" x2="193.1" y2="90.8" stroke="#525252" stroke-width="1.8"/>
<line x1="31.2" y1="38.8" x2="51.0" y2="65.5" stroke="#595959" stroke-width="1.7"/>
<line x1="81.4" y1="90.8" x2="100.7" y2="59.8" stroke="#494949" stroke-width="1.8"/>
<line x1="192.3" y1="16.5" x2="178.0" y2="31.2" stroke="#424242" stroke-width="2.3"/>
<line x1="103.5" y1="87.5" x2="134.7" y2="118.5" stroke="#484848" stroke-width="1.6"/>
<line x1="100.2" y1="34.7" x2="82.7" y2="46.5" stroke="#464646" stroke-width="1.9"/>
<line x1="125.8" y1="-15.1" x2="110.0" y2="45.4" stroke="#494949" stroke-width="2.3"/>
<line x1="211.4" y1="106.0" x2="190.4" y2="151.4" stroke="#545454" stroke-width="1.9"/>
<line x1="135.6" y1="45.0" x2="132.2" y2="74.4" stroke="#474747" stroke-width="1.9"/>
<line x1="11.1" y1="34.0" x2="-10.9" y2="39.4" stroke="#545454" stroke-width="2.7"/>
<line x1="181.8" y1="32.6" x2="170.6" y2="64.4" stroke="#565656" stroke-width="1.6"/>
<line x1="147.7" y1="120.7" x2="181.6" y2="156.6" stroke="#4c4c4c" stroke-width="1.9"/>
<line x1="74.9" y1="79.8" x2="37.3" y2="89.2" stroke="#4e4e4e" stroke-width="2.2"/>
<line x1="97.5" y1="64.8" x2="114.2" y2="99.2" stroke="#444444" stroke-width="1.9"/>
<line x1="203.3" y1="73.4" x2="220.0" y2="83.4" stroke="#3c3c3c" stroke-width="2.2"/>
<line x1="65.3" y1="102.8" x2="96.5" y2="157.3" stroke="#535353" stroke-width="2.9"/>
<line x1="45.9" y1="23.0" x2="9.3" y2="53.3" stroke="#5a5a5a" stroke-width="2.4"/>
<line x1="165.9" y1="88.9" x2="146.9" y2="105.9" stroke="#535353" stroke-width="3.2"/>
<line x1="148.1" y1="124.0" x2="169.2" y2="100.6" stroke="#464646" stroke-width="1.6"/>
<line x1="188.3" y1="68.9" x2="202.4" y2="85.9" stroke="#515151" stroke-width="1.5"/>
<line x1="30.8" y1="87.7" x2="52.3" y2="91.6" stroke="#484848" stroke-width="2.8"/>
<line x1="38.4" y1="40.0" x2="74.4" y2="6.6" stroke="#414141" stroke-width="2.2"/>
<line x1="146.8" y1="117.3" x2="194.6" y2="102.5" stroke="#3c3c3c" stroke-width="2.1"/>
<line x1="184.0" y1="-2.7" x2="154.8" y2="13.6" stroke="#3f3f3f" stroke-width="3.1"/>
<line x1="140.6" y1="75.0" x2="144.9" y2="130.7" stroke="#515151" stroke-width="2.2"/>
<line x1="40.9" y1="41.1" x2="5.7" y2="57.4" stroke="#3c3c3c" stroke-width="1.8"/>
<line x1="147.7" y1="81.5" x2="154.7" y2="118.4" stroke="#464646" stroke-width="1.6"/>
<line x1="6.6" y1="-10.1" x2="45.8" y2="14.2" stroke="#3c3c3c" stroke-width="1.9"/>
<line x1="-1.2" y1="81.2" x2="27.3" y2="83.0" stroke="#4c4c4c" stroke-width="2.2"/>
<line x1="29.1" y1="5.6" x2="61.9" y2="46.7" stroke="#494949" stroke-width="2.3"/>
<line x1="194.2" y1="65.7" x2="176.5" y2="85.3" stroke="#4c4c4c" stroke-width="2.2"/>
<line x1="172.3" y1="54.1" x2="139.1" y2="85.0" stroke="#4a4a4a" stroke-width="2.5"/>
<line x1="16.4" y1="1.0" x2="42.4" y2="34.7" stroke="#4c4c4c" stroke-width="1.8"/>
<line x1="199.8" y1="85.6" x2="189.1" y2="125.7" stroke="#434343" stroke-width="2.3"/>
<line x1="71.8" y1="56.2" x2="89.0" y2="64.5" stroke="#3d3d3d" stroke-width="2.5"/>
<line x1="56.9" y1="110.5" x2="74.7" y2="100.7" stroke="#454545" stroke-width="2.6"/>
<line x1="41.6" y1="99.2" x2="80.0" y2="60.3" stroke="#454545" stroke-width="2.8"/>
<line x1="72.9" y1="119.9" x2="116.4" y2="141.4" stroke="#515151" stroke-width="1.6"/>
<line x1="179.0" y1="26.8" x2="194.2" y2="77.6" stroke="#545454" stroke-width="2.4"/>
<line x1="3.5" y1="52.0" x2="12.7" y2="71.8" stroke="#4c4c4c" stroke-width="2.6"/>
<line x1="103.0" y1="132.3" x2="138.0" y2="132.2" stroke="#3e3e3e" stroke-width="2.3"/>
<line x1="22.2" y1="11.3" x2="-10.1" y2="28.2" stroke="#4f4f4f" stroke-width="2.2"/>
<line x1="22.1" y1="84.7" x2="62.4" y2="79.7" stroke="#555555" stroke-width="2.5"/>
<line x1="99.6" y1="69.3" x2="92.5" y2="90.8" stroke="#4b4b4b" stroke-width="1.9"/>
<line x1="32.3" y1="60.3" x2="52.1" y2="79.5" stroke="#3d3d3d" stroke-width="2.0"/>
<line x1="60.3" y1="42.6" x2="53.4" y2="61.6" stroke="#484848" stroke-width="2.1"/>
<line x1="22.6" y1="7.7" x2="4.3" y2="26.7" stroke="#444444" stroke-width="2.3"/>
<line x1="65.1" y1="90.8" x2="88.0" y2="115.9" stroke="#3d3d3d" stroke-width="2.2"/>
<line x1="143.0" y1="-6.6" x2="183.1" y2="26.5" stroke="#434343" stroke-width="1.9"/>
<line x1="51.4" y1="34.4" x2="37.3" y2="86.5" stroke="#494949" stroke-width="1.5"/>
<line x1="62.6" y1="10.0" x2="93.1" y2="30.7" stroke="#4c4c4c" stroke-width="2.3"/>
<line x1="14.3" y1="-0.3" x2="40.4" y2="30.4" stroke="#4d4d4d" stroke-width="1.5"/>
<line x1="205.5" y1="25.1" x2="211.8" y2="51.5" stroke="#555555" stroke-width="3.0"/>
<line x1="100.7" y1="6.2" x2="116.7" y2="24.7" stroke="#585858" stroke-width="2.8"/>
<line x1="165.8" y1="15.3" x2="193.0" y2="22.2" stroke="#4d4d4d" stroke-width="3.1"/>
<line x1="186.0" y1="61.3" x2="195.1" y2="98.7" stroke="#424242" stroke-width="1.7"/>
<line x1="18.1" y1="-15.3" x2="51.7" y2="18.2" stroke="#3c3c3c" stroke-width="2.3"/>
<line x1="78.6" y1="92.5" x2="112.7" y2="94.7" stroke="#424242" stroke-width="2.4"/>
<line x1="137.7" y1="102.8" x2="158.2" y2="110.8" stroke="#434343" stroke-width="3.0"/>
<line x1="39.4" y1="118.1" x2="30.8" y2="150.7" stroke="#3e3e3e" stroke-width="2.7"/>
<line x1="132.3" y1="1.3" x2="94.9" y2="44.5" stroke="#535353" stroke-width="1.8"/>
<line x1="63.2" y1="89.1" x2="95.2" y2="89.3" stroke="#595959" stroke-width="2.9"/>
<line x1="191.9" y1="-7.4" x2="177.4" y2="8.2" stroke="#424242" stroke-width="1.9"/>
<line x1="49.7" y1="16.8" x2="66.3" y2="39.5" stroke="#505050" stroke-width="1.8"/>
<line x1="190.1" y1="41.6" x2="216.4" y2="55.7" stroke="#484848" stroke-width="2.4"/>
<line x1="205.8" y1="100.5" x2="176.6" y2="131.7" stroke="#424242" stroke-width="2.2"/>
<line x1="129.4" y1="40.4" x2="108.3" y2="49.6" stroke="#484848" stroke-width="3.0"/>
<line x1="77.5" y1="35.9" x2="25.6" y2="53.0" stroke="#535353" stroke-width="1.8"/>
<line x1="98.5" y1="77.6" x2="156.4" y2="88.8" stroke="#414141" stroke-width="2.0"/>
<line x1="199.3" y1="88.1" x2="162.9" y2="128.8" stroke="#3e3e3e" stroke-width="2.5"/>
<line x1="75.3" y1="45.5" x2="58.6" y2="54.3" stroke="#525252" stroke-width="2.2"/>
<line x1="158.3" y1="92.8" x2="170.3" y2="113.1" stroke="#575757" stroke-width="1.7"/>
<line x1="24.6" y1="140.2" x2="58.7" y2="93.5" stroke="#4a4a4a" stroke-width="1.8"/>
<line x1="155.0" y1="142.9" x2="177.3" y2="115.8" stroke="#4d4d4d" stroke-width="1.4"/>
<line x1="10.3" y1="103.8" x2="42.2" y2="74.6" stroke="#3e3e3e" stroke-width="1.4"/>
<line x1="138.1" y1="106.7" x2="118.8" y2="167.8" stroke="#575757" stroke-width="1.6"/>
<line x1="133.0" y1="47.8" x2="155.2" y2="107.0" stroke="#474747" stroke-width="2.0"/>
<line x1="154.5" y1="13.6" x2="210.6" y2="27.2" stroke="#5b5b5b" stroke-width="3.0"/>
<line x1="55.6" y1="2.9" x2="79.9" y2="11.4" stroke="#4c4c4c" stroke-width="2.6"/>
<line x1="164.1" y1="102.0" x2="112.2" y2="121.2" stroke="#515151" stroke-width="3.2"/>
<line x1="125.1" y1="37.6" x2="177.3" y2="51.0" stroke="#424242" stroke-width="2.6"/>
<line x1="-5.0" y1="105.7" x2="40.8" y2="123.5" stroke="#424242" stroke-width="1.5"/>
<line x1="178.3" y1="63.2" x2="197.1" y2="25.7" stroke="#424242" stroke-width="3.1"/>
<line x1="159.9" y1="79.9" x2="198.4" y2="52.6" stroke="#525252" stroke-width="2.8"/>
<line x1="10.5" y1="47.2" x2="59.9" y2="59.8" stroke="#3c3c3c" stroke-width="2.6"/>
<line x1="135.3" y1="111.2" x2="185.3" y2="140.2" stroke="#4c4c4c" stroke-width="2.2"/>
<line x1="124.7" y1="86.2" x2="151.2" y2="41.2" stroke="#575757" stroke-width="2.8"/>
<line x1="11.1" y1="67.0" x2="-1.0" y2="119.3" stroke="#464646" stroke-width="2.4"/>
<line x1="105.3" y1="-10.4" x2="155.2" y2="24.1" stroke="#454545" stroke-width="2.4"/>
<line x1="103.9" y1="43.6" x2="52.4" y2="61.6" stroke="#3e3e3e" stroke-width="1.9"/>
<line x1="32.7" y1="77.2" x2="59.6" y2="114.5" stroke="#5a5a5a" stroke-width="2.1"/>
<line x1="168.0" y1="-14.5" x2="200.7" y2="37.4" stroke="#3c3c3c" stroke-width="2.5"/>
<line x1="149.2" y1="43.4" x2="131.9" y2="54.4" stroke="#4c4c4c" stroke-width="2.6"/>
<line x1="18.2" y1="79.2" x2="-5.3" y2="113.2" stroke="#4b4b4b" stroke-width="2.3"/>
<line x1="163.4" y1="46.0" x2="147.8" y2="109.1" stroke="#525252" stroke-width="1.6"/>
<line x1="178.3" y1="86.3" x2="208.8" y2="66.0" stroke="#575757" stroke-width="1.7"/>
<line x1="121.4" y1="39.7" x2="133.6" y2="99.1" stroke="#5b5b5b" stroke-width="1.9"/>
<line x1="84.3" y1="65.4" x2="81.7" y2="94.5" stroke="#3f3f3f" stroke-width="2.6"/>
<line x1="80.8" y1="-10.3" x2="29.3" y2="12.2" stroke="#3c3c3c" stroke-width="2.6"/>
<line x1="11.4" y1="95.3" x2="39.2" y2="58.5" stroke="#505050" stroke-width="3.0"/>
<line x1="12.0" y1="49.4" x2="0.3" y2="87.3" stroke="#454545" stroke-width="2.4"/>
<line x1="174.1" y1="86.0" x2="187.2" y2="69.6" stroke="#474747" stroke-width="2.4"/>
<line x1="188.8" y1="-2.1" x2="205.6" y2="5.3" stroke="#414141" stroke-width="1.5"/>
<line x1="-14.3" y1="35.4" x2="19.3" y2="45.6" stroke="#4b4b4b" stroke-width="2.9"/>
<line x1="133.4" y1="75.6" x2="174.5" y2="61.0" stroke="#464646" stroke-width="2.6"/>
<line x1="15.4" y1="70.2" x2="-3.1" y2="99.3" stroke="#474747" stroke-width="2.8"/>
<line x1="81.3" y1="-4.2" x2="114.0" y2="15.4" stroke="#3d3d3d" stroke-width="2.7"/>
<line x1="65.3" y1="-21.9" x2="97.5" y2="30.9" stroke="#4f4f4f" stroke-width="2.7"/>
<line x1="115.1" y1="106.2" x2="99.3" y2="137.6" stroke="#5a5a5a" stroke-width="1.4"/>
<line x1="173.2" y1="87.3" x2="191.2" y2="96.2" stroke="#494949" stroke-width="2.6"/>
<line x1="70.4" y1="110.7" x2="62.9" y2="168.0" stroke="#444444" stroke-width="1.5"/>
<line x1="203.6" y1="117.9" x2="159.0" y2="159.0" stroke="#494949" stroke-width="2.0"/>
<line x1="13.4" y1="24.8" x2="61.9" y2="39.8" stroke="#4c4c4c" stroke-width="2.0"/>
<line x1="196.2" y1="26.8" x2="222.9" y2="49.1" stroke="#434343" stroke-width="2.5"/>
<line x1="199.5" y1="107.7" x2="224.5" y2="103.2" stroke="#404040" stroke-width="1.9"/>
<line x1="175.1" y1="110.6" x2="223.5" y2="87.2" stroke="#565656" stroke-width="2.4"/>
<line x1="107.8" y1="27.7" x2="130.2" y2="15.0" stroke="#565656" stroke-width="2.9"/>
<line x1="131.3" y1="107.4" x2="152.0" y2="137.4" stroke="#505050" stroke-width="1.8"/>
<line x1="104.1" y1="41.7" x2="91.5" y2="89.2" stroke="#555555" stroke-width="2.1"/>
<line x1="128.7" y1="86.6" x2="106.0" y2="142.7" stroke="#484848" stroke-width="2.6"/>
<line x1="191.6" y1="11.2" x2="220.9" y2="28.9" stroke="#5b5b5b" stroke-width="1.5"/>
<line x1="175.7" y1="6.2" x2="123.8" y2="19.7" stroke="#424242" stroke-width="1.9"/>
<line x1="13.5" y1="104.5" x2="31.1" y2="126.4" stroke="#4c4c4c" stroke-width="2.7"/>
<line x1="68.1" y1="64.8" x2="38.8" y2="72.7" stroke="#585858" stroke-width="1.8"/>
<line x1="30.9" y1="91.8" x2="46.0" y2="109.4" stroke="#5a5a5a" stroke-width="2.4"/>
<line x1="40.2" y1="39.1" x2="50.2" y2="55.8" stroke="#4f4f4f" stroke-width="2.8"/>
<line x1="177.1" y1="50.6" x2="163.8" y2="82.8" stroke="#404040" stroke-width="2.7"/>
<line x1="174.0" y1="-14.9" x2="186.3" y2="23.4" stroke="#484848" stroke-width="2.8"/>
<line x1="63.3" y1="27.7" x2="76.9" y2="84.4" stroke="#545454" stroke-width="2.8"/>
<line x1="28.2" y1="-0.8" x2="61.2" y2="9.7" stroke="#515151" stroke-width="3.2"/>
<line x1="37.0" y1="101.0" x2="75.3" y2="102.5" stroke="#484848" stroke-width="1.6"/>
<line x1="7.3" y1="-5.8" x2="25.9" y2="23.5" stroke="#484848" stroke-width="3.0"/>
<line x1="191.5" y1="66.7" x2="215.4" y2="79.7" stroke="#4a4a4a" stroke-width="2.6"/>
<line x1="28.9" y1="25.5" x2="48.8" y2="33.0" stroke="#4d4d4d" stroke-width="1.8"/>
<line x1="49.7" y1="67.3" x2="12.9" y2="110.6" stroke="#505050" stroke-width="2.4"/>
<line x1="87.9" y1="113.7" x2="68.3" y2="119.1" stroke="#4e4e4e" stroke-width="1.5"/>
<line x1="87.3" y1="45.2" x2="106.5" y2="66.4" stroke="#424242" stroke-width="2.8"/>
<line x1="8.7" y1="18.4" x2="19.2" y2="37.7" stroke="#4c4c4c" stroke-width="2.1"/>
<line x1="81.5" y1="-6.0" x2="135.8" y2="9.5" stroke="#555555" stroke-width="1.8"/>
<line x1="125.7" y1="47.4" x2="138.6" y2="66.6" stroke="#3e3e3e" stroke-width="1.6"/>
<line x1="89.0" y1="14.5" x2="54.3" y2="60.8" stroke="#414141" stroke-width="1.7"/>
<line x1="80.4" y1="23.2" x2="52.6" y2="53.1" stroke="#404040" stroke-width="2.6"/>
<line x1="122.2" y1="64.7" x2="119.0" y2="95.6" stroke="#3d3d3d" stroke-width="3.0"/>
<line x1="113.4" y1="73.5" x2="108.6" y2="130.0" stroke="#3e3e3e" stroke-width="2.0"/>
<line x1="71.4" y1="44.3" x2="103.9" y2="78.5" stroke="#545454" stroke-width="2.2"/>
<line x1="25.8" y1="1.5" x2="10.6" y2="57.7" stroke="#4d4d4d" stroke-width="2.9"/>
<line x1="141.1" y1="112.1" x2="100.1" y2="128.8" stroke="#3c3c3c" stroke-width="2.2"/>
<line x1="139.4" y1="32.5" x2="176.3" y2="51.7" stroke="#484848" stroke-width="1.8"/>
<line x1="166.1" y1="112.9" x2="205.2" y2="158.0" stroke="#444444" stroke-width="3.1"/>
<line x1="154.9" y1="67.9" x2="185.3" y2="118.0" stroke="#5b5b5b" stroke-width="3.0"/>
<line x1="182.2" y1="28.1" x2="205.5" y2="29.7" stroke="#494949" stroke-width="1.8"/>
<line x1="-11.4" y1="19.1" x2="33.3" y2="61.5" stroke="#5b5b5b" stroke-width="1.5"/>
<line x1="157.0" y1="32.1" x2="162.7" y2="78.3" stroke="#464646" stroke-width="3.0"/>
<line x1="104.5" y1="82.8" x2="138.7" y2="37.0" stroke="#585858" stroke-width="1.6"/>
<line x1="35.0" y1="18.5" x2="67.9" y2="7.0" stroke="#414141" stroke-width="1.5"/>
<line x1="52.8" y1="123.9" x2="83.4" y2="129.9" stroke="#5b5b5b" stroke-width="2.7"/>
<line x1="-23.9" y1="8.4" x2="31.0" y2="22.3" stroke="#484848" stroke-width="2.7"/>
<line x1="102.6" y1="8.9" x2="79.4" y2="61.7" stroke="#505050" stroke-width="2.0"/>
<line x1="-2.4" y1="130.5" x2="39.2" y2="148.1" stroke="#505050" stroke-width="2.4"/>
<line x1="31.9" y1="62.7" x2="44.3" y2="80.8" stroke="#4b4b4b" stroke-width="2.5"/>
<line x1="35.9" y1="58.2" x2="92.9" y2="85.5" stroke="#5a5a5a" stroke-width="2.5"/>
<line x1="139.1" y1="127.0" x2="114.0" y2="137.5" stroke="#4e4e4e" stroke-width="2.3"/>
<line x1="51.5" y1="95.1" x2="94.1" y2="73.5" stroke="#525252" stroke-width="1.9"/>
<line x1="86.7" y1="1.5" x2="121.5" y2="37.6" stroke="#4e4e4e" stroke-width="2.6"/>
<line x1="130.1" y1="3.2" x2="144.6" y2="65.4" stroke="#525252" stroke-width="2.1"/>
<line x1="28.3" y1="120.8" x2="52.6" y2="155.2" stroke="#484848" stroke-width="1.9"/>
<line x1="174.8" y1="93.7" x2="192.5" y2="120.6" stroke="#4f4f4f" stroke-width="2.7"/>
<line x1="216.4" y1="117.7" x2="195.4" y2="123.3" stroke="#4f4f4f" stroke-width="3.1"/>
<line x1="79.2" y1="81.1" x2="59.4" y2="106.2" stroke="#4a4a4a" stroke-width="3.2"/>
<line x1="103.7" y1="52.1" x2="115.7" y2="32.4" stroke="#4b4b4b" stroke-width="2.1"/>
<line x1="89.3" y1="61.0" x2="121.0" y2="18.9" stroke="#454545" stroke-width="2.5"/>
<line x1="72.0" y1="110.5" x2="61.8" y2="155.2" stroke="#3d3d3d" stroke-width="1.7"/>
<line x1="44.0" y1="140.5" x2="68.0" y2="113.3" stroke="#575757" stroke-width="2.8"/>
<line x1="103.6" y1="130.2" x2="117.6" y2="151.2" stroke="#5a5a5a" stroke-width="1.4"/>
<line x1="127.1" y1="121.4" x2="148.6" y2="141.5" stroke="#515151" stroke-width="2.9"/>
<line x1="226.4" y1="88.4" x2="195.0" y2="120.3" stroke="#595959" stroke-width="3.0"/>
<line x1="138.7" y1="132.3" x2="109.2" y2="146.0" stroke="#505050" stroke-width="2.6"/>
<line x1="99.9" y1="23.2" x2="73.5" y2="69.6" stroke="#525252" stroke-width="1.8"/>
<line x1="72.0" y1="133.6" x2="132.1" y2="149.9" stroke="#434343" stroke-width="1.4"/>
<line x1="168.0" y1="130.9" x2="149.0" y2="140.5" stroke="#3c3c3c" stroke-width="2.5"/>
<line x1="72.7" y1="79.1" x2="133.6" y2="70.7" stroke="#404040" stroke-width="3.0"/>
<line x1="97.0" y1="80.0" x2="128.6" y2="102.0" stroke="#3e3e3e" stroke-width="2.3"/>
<line x1="201.9" y1="12.4" x2="219.7" y2="18.8" stroke="#464646" stroke-width="2.6"/>
<line x1="104.2" y1="14.7" x2="166.6" y2="10.9" stroke="#4b4b4b" stroke-width="2.0"/>
<line x1="167.3" y1="24.8" x2="172.0" y2="81.9" stroke="#414141" stroke-width="2.9"/>
<line x1="185.6" y1="9.7" x2="158.1" y2="29.1" stroke="#575757" stroke-width="1.6"/>
<line x1="56.6" y1="164.1" x2="83.9" y2="113.7" stroke="#3e3e3e" stroke-width="2.0"/>
<line x1="7.8" y1="102.5" x2="24.5" y2="130.1" stroke="#454545" stroke-width="2.2"/>
<line x1="13.0" y1="118.7" x2="37.3" y2="130.5" stroke="#585858" stroke-width="2.9"/>
<line x1="73.3" y1="70.9" x2="83.8" y2="130.9" stroke="#414141" stroke-width="1.8"/>
<line x1="43.7" y1="103.3" x2="89.7" y2="139.4" stroke="#505050" stroke-width="1.8"/>
<line x1="59.8" y1="54.9" x2="9.0" y2="71.7" stroke="#575757" stroke-width="1.5"/>
<line x1="-5.8" y1="103.1" x2="11.7" y2="126.9" stroke="#454545" stroke-width="1.9"/>
<line x1="238.0" y1="74.7" x2="186.7" y2="106.5" stroke="#454545" stroke-width="2.0"/>
<line x1="177.8" y1="68.6" x2="222.4" y2="28.0" stroke="#464646" stroke-width="1.6"/>
<line x1="29.9" y1="90.0" x2="25.8" y2="119.9" stroke="#434343" stroke-width="3.1"/>
<line x1="53.8" y1="14.8" x2="70.3" y2="-7.0" stroke="#474747" stroke-width="3.0"/>
<line x1="183.3" y1="4.9" x2="203.8" y2="16.3" stroke="#414141" stroke-width="2.3"/>
<line x1="57.4" y1="58.4" x2="72.9" y2="72.3" stroke="#3c3c3c" stroke-width="2.5"/>
<line x1="184.0" y1="96.3" x2="192.1" y2="155.9" stroke="#4a4a4a" stroke-width="1.7"/>
<line x1="169.1" y1="21.1" x2="175.0" y2="53.3" stroke="#4f4f4f" stroke-width="3.2"/>
<line x1="148.6" y1="12.7" x2="140.4" y2="71.3" stroke="#525252" stroke-width="2.2"/>
<line x1="146.2" y1="63.1" x2="199.0" y2="99.2" stroke="#4e4e4e" stroke-width="1.6"/>
<line x1="55.8" y1="54.2" x2="86.3" y2="83.4" stroke="#444444" stroke-width="2.3"/>
<line x1="81.6" y1="2.6" x2="57.0" y2="22.3" stroke="#3e3e3e" stroke-width="2.8"/>
<line x1="75.0" y1="128.2" x2="111.7" y2="118.2" stroke="#5a5a5a" stroke-width="2.8"/>
<line x1="196.9" y1="117.8" x2="207.7" y2="155.6" stroke="#4f4f4f" stroke-width="1.9"/>
<line x1="23.8" y1="120.9" x2="42.2" y2="119.6" stroke="#4d4d4d" stroke-width="2.9"/>
<line x1="18.5" y1="40.2" x2="0.7" y2="64.4" stroke="#474747" stroke-width="3.0"/>
<line x1="48.6" y1="113.7" x2="44.2" y2="139.4" stroke="#4f4f4f" stroke-width="2.8"/>
<line x1="180.3" y1="33.4" x2="214.9" y2="50.8" stroke="#5a5a5a" stroke-width="3.1"/>
<line x1="179.9" y1="111.5" x2="198.9" y2="84.0" stroke="#444444" stroke-width="2.3"/>
<line x1="93.5" y1="12.2" x2="63.6" y2="46.5" stroke="#565656" stroke-width="2.4"/>
<line x1="55.8" y1="40.0" x2="92.3" y2="8.3" stroke="#545454" stroke-width="2.5"/>
<line x1="12.5" y1="127.1" x2="35.9" y2="102.3" stroke="#545454" stroke-width="3.1"/>
<line x1="201.4" y1="86.7" x2="172.9" y2="95.5" stroke="#464646" stroke-width="2.4"/>
<line x1="12.8" y1="101.0" x2="55.8" y2="109.5" stroke="#5a5a5a" stroke-width="1.7"/>
<line x1="78.0" y1="75.9" x2="130.8" y2="96.9" stroke="#3e3e3e" stroke-width="2.2"/>
<line x1="119.5" y1="67.6" x2="106.5" y2="99.9" stroke="#434343" stroke-width="1.9"/>
<line x1="43.7" y1="73.2" x2="22.6" y2="93.5" stroke="#474747" stroke-width="1.8"/>
<line x1="114.6" y1="101.4" x2="153.3" y2="87.9" stroke="#515151" stroke-width="2.2"/>
<line x1="49.4" y1="72.4" x2="70.9" y2="100.9" stroke="#525252" stroke-width="2.1"/>
<line x1="3.7" y1="60.3" x2="40.6" y2="69.1" stroke="#4e4e4e" stroke-width="1.6"/>
<line x1="-2.7" y1="-11.3" x2="7.3" y2="21.7" stroke="#454545" stroke-width="1.7"/>
<line x1="92.1" y1="71.3" x2="143.2" y2="107.6" stroke="#3c3c3c" stroke-width="2.7"/>
<line x1="96.0" y1="51.8" x2="118.2" y2="53.4" stroke="#454545" stroke-width="2.5"/>
<line x1="146.7" y1="118.8" x2="157.8" y2="140.2" stroke="#474747" stroke-width="2.7"/>
<line x1="135.2" y1="52.8" x2="158.2" y2="59.8" stroke="#535353" stroke-width="2.5"/>
<line x1="16.3" y1="69.8" x2="14.3" y2="119.5" stroke="#575757" stroke-width="2.6"/>
<line x1="9.6" y1="144.6" x2="26.4" y2="122.4" stroke="#4e4e4e" stroke-width="2.4"/>
<line x1="109.8" y1="-1.8" x2="59.9" y2="21.0" stroke="#4e4e4e" stroke-width="2.0"/>
<line x1="95.7" y1="109.9" x2="98.8" y2="144.8" stroke="#595959" stroke-width="1.9"/>
<line x1="45.4" y1="28.6" x2="21.5" y2="57.8" stroke="#585858" stroke-width="2.0"/>
<line x1="17.7" y1="54.2" x2="46.3" y2="2.4" stroke="#4a4a4a" stroke-width="2.2"/>
<line x1="132.6" y1="161.1" x2="171.6" y2="113.5" stroke="#535353" stroke-width="2.0"/>
<line x1="3.9" y1="99.5" x2="10.8" y2="122.1" stroke="#575757" stroke-width="1.6"/>
<line x1="66.4" y1="107.0" x2="32.7" y2="128.0" stroke="#535353" stroke-width="3.1"/>
<line x1="47.7" y1="28.6" x2="65.4" y2="32.0" stroke="#454545" stroke-width="2.9"/>
<line x1="-0.3" y1="81.4" x2="31.8" y2="39.0" stroke="#4f4f4f" stroke-width="2.1"/>
<line x1="176.6" y1="83.2" x2="147.7" y2="102.8" stroke="#505050" stroke-width="2.9"/>
<line x1="117.2" y1="37.6" x2="143.1" y2="24.2" stroke="#595959" stroke-width="1.7"/>
<line x1="205.1" y1="98.8" x2="219.0" y2="151.4" stroke="#444444" stroke-width="3.1"/>
<line x1="39.6" y1="130.5" x2="72.6" y2="86.5" stroke="#4b4b4b" stroke-width="2.3"/>
<line x1="75.8" y1="17.8" x2="107.7" y2="33.9" stroke="#434343" stroke-width="2.2"/>
<line x1="107.7" y1="119.8" x2="122.2" y2="93.3" stroke="#535353" stroke-width="3.2"/>
<line x1="146.1" y1="63.4" x2="170.0" y2="67.6" stroke="#5a5a5a" stroke-width="2.1"/>
<line x1="126.8" y1="19.9" x2="177.0" y2="31.3" stroke="#595959" stroke-width="2.8"/>
<line x1="55.6" y1="108.7" x2="91.8" y2="137.2" stroke="#4f4f4f" stroke-width="1.6"/>
<line x1="156.1" y1="130.9" x2="133.1" y2="149.6" stroke="#474747" stroke-width="1.6"/>
<line x1="120.3" y1="13.1" x2="158.8" y2="34.4" stroke="#4d4d4d" stroke-width="2.1"/>
<line x1="98.0" y1="73.6" x2="141.9" y2="38.4" stroke="#585858" stroke-width="1.4"/>
<line x1="78.0" y1="43.0" x2="46.4" y2="51.7" stroke="#404040" stroke-width="2.5"/>
<line x1="134.2" y1="28.5" x2="111.1" y2="47.1" stroke="#4a4a4a" stroke-width="2.7"/>
<line x1="168.4" y1="104.0" x2="196.2" y2="152.9" stroke="#565656" stroke-width="1.8"/>
<line x1="115.3" y1="11.7" x2="150.1" y2="44.9" stroke="#454545" stroke-width="2.8"/>
<line x1="51.9" y1="128.3" x2="51.5" y2="147.4" stroke="#545454" stroke-width="1.6"/>
<line x1="120.6" y1="100.7" x2="136.7" y2="117.7" stroke="#5b5b5b" stroke-width="2.5"/>
<line x1="175.2" y1="21.1" x2="173.6" y2="62.2" stroke="#4f4f4f" stroke-width="2.1"/>
<line x1="135.6" y1="44.3" x2="95.8" y2="78.3" stroke="#585858" stroke-width="3.1"/>
<line x1="155.1" y1="87.7" x2="210.7" y2="117.2" stroke="#424242" stroke-width="2.1"/>
<line x1="126.8" y1="31.4" x2="129.0" y2="58.8" stroke="#535353" stroke-width="1.4"/>
<line x1="156.7" y1="38.6" x2="190.2" y2="45.2" stroke="#4c4c4c" stroke-width="1.6"/>
<line x1="16.9" y1="149.3" x2="41.4" y2="111.0" stroke="#474747" stroke-width="2.4"/>
</g>
<g filter="url(#b06)" stroke-linecap="butt" opacity="1.0">
<line x1="143.1" y1="126.3" x2="153.8" y2="107.4" stroke="#9c9c9c" stroke-width="2.1"/>
<line x1="156.1" y1="109.5" x2="208.5" y2="104.1" stroke="#7a7a7a" stroke-width="1.4"/>
<line x1="129.4" y1="108.5" x2="136.0" y2="130.4" stroke="#858585" stroke-width="2.4"/>
<line x1="27.0" y1="76.3" x2="51.1" y2="115.6" stroke="#7f7f7f" stroke-width="1.3"/>
<line x1="155.7" y1="40.5" x2="175.8" y2="35.4" stroke="#6c6c6c" stroke-width="2.3"/>
<line x1="148.4" y1="100.4" x2="165.3" y2="105.9" stroke="#7e7e7e" stroke-width="1.5"/>
<line x1="100.5" y1="34.6" x2="50.4" y2="61.6" stroke="#757575" stroke-width="1.2"/>
<line x1="195.4" y1="63.7" x2="168.9" y2="73.9" stroke="#7a7a7a" stroke-width="2.1"/>
<line x1="196.9" y1="104.2" x2="222.7" y2="120.7" stroke="#999999" stroke-width="1.2"/>
<line x1="15.3" y1="-2.8" x2="41.6" y2="3.7" stroke="#7c7c7c" stroke-width="1.7"/>
<line x1="120.4" y1="58.9" x2="76.3" y2="98.1" stroke="#797979" stroke-width="1.3"/>
<line x1="-17.5" y1="129.2" x2="33.8" y2="128.6" stroke="#8f8f8f" stroke-width="2.2"/>
<line x1="200.1" y1="92.0" x2="206.5" y2="63.1" stroke="#6f6f6f" stroke-width="1.6"/>
<line x1="28.7" y1="7.2" x2="63.1" y2="46.7" stroke="#7a7a7a" stroke-width="2.3"/>
<line x1="163.9" y1="-2.0" x2="135.3" y2="4.8" stroke="#797979" stroke-width="1.9"/>
<line x1="70.0" y1="27.8" x2="51.4" y2="47.7" stroke="#787878" stroke-width="2.6"/>
<line x1="38.9" y1="64.5" x2="90.4" y2="73.9" stroke="#8d8d8d" stroke-width="1.9"/>
<line x1="94.7" y1="129.5" x2="116.4" y2="110.2" stroke="#9a9a9a" stroke-width="1.3"/>
<line x1="6.3" y1="122.2" x2="15.4" y2="106.9" stroke="#8e8e8e" stroke-width="1.1"/>
<line x1="120.5" y1="63.2" x2="87.9" y2="62.7" stroke="#808080" stroke-width="2.1"/>
<line x1="68.2" y1="61.3" x2="83.1" y2="92.4" stroke="#777777" stroke-width="1.6"/>
<line x1="139.7" y1="52.5" x2="102.0" y2="87.2" stroke="#777777" stroke-width="2.1"/>
<line x1="57.0" y1="9.5" x2="72.7" y2="29.1" stroke="#959595" stroke-width="1.8"/>
<line x1="133.2" y1="85.0" x2="100.4" y2="83.6" stroke="#7a7a7a" stroke-width="1.1"/>
<line x1="129.7" y1="52.8" x2="144.9" y2="8.9" stroke="#9b9b9b" stroke-width="2.6"/>
<line x1="36.7" y1="71.2" x2="13.4" y2="90.1" stroke="#6d6d6d" stroke-width="1.5"/>
<line x1="64.6" y1="102.1" x2="70.9" y2="128.8" stroke="#777777" stroke-width="1.3"/>
<line x1="167.6" y1="52.6" x2="144.7" y2="98.9" stroke="#757575" stroke-width="1.5"/>
<line x1="207.4" y1="131.7" x2="206.5" y2="151.9" stroke="#8e8e8e" stroke-width="2.4"/>
<line x1="173.7" y1="112.3" x2="112.1" y2="108.8" stroke="#7f7f7f" stroke-width="2.3"/>
<line x1="101.4" y1="23.6" x2="75.2" y2="25.5" stroke="#898989" stroke-width="2.2"/>
<line x1="68.7" y1="18.6" x2="55.5" y2="48.4" stroke="#8d8d8d" stroke-width="2.4"/>
<line x1="215.0" y1="-8.2" x2="208.0" y2="18.8" stroke="#6e6e6e" stroke-width="1.3"/>
<line x1="51.3" y1="82.3" x2="38.8" y2="109.8" stroke="#939393" stroke-width="1.6"/>
<line x1="157.1" y1="102.5" x2="155.0" y2="146.7" stroke="#999999" stroke-width="2.4"/>
<line x1="158.2" y1="9.4" x2="141.9" y2="40.4" stroke="#727272" stroke-width="2.4"/>
<line x1="192.6" y1="94.1" x2="180.9" y2="133.5" stroke="#9b9b9b" stroke-width="1.6"/>
<line x1="182.2" y1="74.6" x2="211.1" y2="73.4" stroke="#878787" stroke-width="1.6"/>
<line x1="12.3" y1="17.7" x2="21.1" y2="73.0" stroke="#979797" stroke-width="2.6"/>
<line x1="22.9" y1="77.9" x2="31.5" y2="102.2" stroke="#888888" stroke-width="2.0"/>
<line x1="142.1" y1="103.1" x2="159.0" y2="78.9" stroke="#767676" stroke-width="2.2"/>
<line x1="-2.2" y1="107.7" x2="20.2" y2="137.8" stroke="#878787" stroke-width="1.6"/>
<line x1="49.3" y1="90.9" x2="47.4" y2="134.2" stroke="#7e7e7e" stroke-width="2.5"/>
<line x1="184.0" y1="76.3" x2="159.8" y2="73.0" stroke="#707070" stroke-width="1.6"/>
<line x1="61.1" y1="130.0" x2="69.8" y2="154.7" stroke="#7e7e7e" stroke-width="1.2"/>
<line x1="49.0" y1="122.8" x2="2.1" y2="124.5" stroke="#6d6d6d" stroke-width="1.9"/>
<line x1="140.5" y1="-1.4" x2="167.0" y2="27.0" stroke="#757575" stroke-width="1.4"/>
<line x1="150.3" y1="32.6" x2="173.8" y2="9.6" stroke="#707070" stroke-width="1.9"/>
<line x1="181.4" y1="137.8" x2="208.5" y2="139.6" stroke="#909090" stroke-width="1.4"/>
<line x1="-4.6" y1="86.1" x2="35.5" y2="71.8" stroke="#919191" stroke-width="1.5"/>
<line x1="29.1" y1="100.3" x2="11.0" y2="106.4" stroke="#878787" stroke-width="2.1"/>
<line x1="95.2" y1="22.6" x2="95.9" y2="46.5" stroke="#949494" stroke-width="1.9"/>
<line x1="223.7" y1="11.6" x2="181.8" y2="47.7" stroke="#8e8e8e" stroke-width="1.3"/>
<line x1="83.7" y1="0.3" x2="64.4" y2="11.0" stroke="#707070" stroke-width="1.6"/>
<line x1="36.3" y1="-4.7" x2="49.6" y2="15.3" stroke="#8e8e8e" stroke-width="2.4"/>
<line x1="206.9" y1="35.4" x2="191.5" y2="52.0" stroke="#6f6f6f" stroke-width="1.1"/>
<line x1="118.6" y1="106.3" x2="149.5" y2="158.7" stroke="#7f7f7f" stroke-width="1.6"/>
<line x1="174.1" y1="141.6" x2="139.1" y2="139.2" stroke="#7d7d7d" stroke-width="1.8"/>
<line x1="-12.1" y1="42.3" x2="13.6" y2="91.8" stroke="#888888" stroke-width="1.2"/>
<line x1="68.8" y1="127.7" x2="19.7" y2="137.6" stroke="#707070" stroke-width="1.7"/>
<line x1="18.9" y1="88.8" x2="24.8" y2="147.6" stroke="#7d7d7d" stroke-width="1.4"/>
<line x1="141.4" y1="2.0" x2="188.0" y2="3.4" stroke="#7f7f7f" stroke-width="1.3"/>
<line x1="117.8" y1="74.2" x2="131.0" y2="82.6" stroke="#777777" stroke-width="1.9"/>
<line x1="3.5" y1="91.2" x2="16.4" y2="80.3" stroke="#7a7a7a" stroke-width="2.4"/>
<line x1="30.1" y1="149.7" x2="44.6" y2="130.9" stroke="#6d6d6d" stroke-width="2.3"/>
<line x1="71.2" y1="-5.7" x2="82.1" y2="38.6" stroke="#8c8c8c" stroke-width="2.1"/>
<line x1="143.4" y1="25.2" x2="104.0" y2="38.0" stroke="#797979" stroke-width="1.2"/>
<line x1="51.1" y1="60.9" x2="50.9" y2="121.4" stroke="#989898" stroke-width="1.6"/>
<line x1="34.6" y1="27.0" x2="23.5" y2="66.1" stroke="#6f6f6f" stroke-width="1.2"/>
<line x1="127.7" y1="107.2" x2="82.0" y2="104.4" stroke="#9c9c9c" stroke-width="2.4"/>
<line x1="103.9" y1="30.4" x2="99.6" y2="50.8" stroke="#6c6c6c" stroke-width="1.4"/>
<line x1="96.1" y1="14.0" x2="69.8" y2="63.0" stroke="#808080" stroke-width="1.6"/>
<line x1="136.4" y1="83.1" x2="85.6" y2="97.3" stroke="#7c7c7c" stroke-width="1.2"/>
<line x1="33.9" y1="64.8" x2="41.1" y2="79.7" stroke="#7f7f7f" stroke-width="2.4"/>
<line x1="98.5" y1="73.1" x2="130.2" y2="74.9" stroke="#6d6d6d" stroke-width="1.9"/>
<line x1="189.5" y1="113.3" x2="216.2" y2="76.6" stroke="#818181" stroke-width="2.2"/>
<line x1="134.5" y1="23.1" x2="165.2" y2="73.1" stroke="#6c6c6c" stroke-width="1.2"/>
<line x1="113.4" y1="126.4" x2="127.5" y2="152.5" stroke="#888888" stroke-width="1.5"/>
<line x1="22.4" y1="12.1" x2="55.1" y2="58.5" stroke="#888888" stroke-width="2.4"/>
<line x1="17.6" y1="73.8" x2="21.2" y2="108.6" stroke="#8e8e8e" stroke-width="1.2"/>
<line x1="196.5" y1="112.4" x2="175.9" y2="149.2" stroke="#707070" stroke-width="1.4"/>
<line x1="180.1" y1="66.1" x2="208.6" y2="57.0" stroke="#989898" stroke-width="2.2"/>
<line x1="56.2" y1="31.0" x2="63.5" y2="62.6" stroke="#8e8e8e" stroke-width="1.3"/>
<line x1="159.5" y1="97.4" x2="187.4" y2="132.2" stroke="#8e8e8e" stroke-width="1.5"/>
<line x1="18.2" y1="67.4" x2="41.2" y2="62.4" stroke="#6c6c6c" stroke-width="1.6"/>
<line x1="141.4" y1="20.5" x2="142.6" y2="41.5" stroke="#818181" stroke-width="2.2"/>
<line x1="129.5" y1="120.3" x2="148.4" y2="104.1" stroke="#737373" stroke-width="1.1"/>
<line x1="89.5" y1="3.2" x2="86.3" y2="32.3" stroke="#919191" stroke-width="2.3"/>
<line x1="171.0" y1="26.0" x2="185.1" y2="-12.5" stroke="#8a8a8a" stroke-width="1.9"/>
<line x1="193.8" y1="33.1" x2="164.8" y2="30.8" stroke="#979797" stroke-width="1.2"/>
<line x1="105.2" y1="106.8" x2="132.7" y2="143.0" stroke="#767676" stroke-width="2.3"/>
<line x1="54.8" y1="-8.5" x2="73.8" y2="8.6" stroke="#7b7b7b" stroke-width="1.3"/>
<line x1="38.9" y1="45.0" x2="27.4" y2="68.0" stroke="#757575" stroke-width="2.3"/>
<line x1="119.5" y1="60.3" x2="135.2" y2="61.0" stroke="#9b9b9b" stroke-width="2.0"/>
<line x1="78.2" y1="144.8" x2="101.0" y2="113.1" stroke="#818181" stroke-width="2.3"/>
<line x1="128.8" y1="44.2" x2="129.0" y2="84.1" stroke="#8f8f8f" stroke-width="1.9"/>
<line x1="92.4" y1="108.0" x2="102.8" y2="74.2" stroke="#969696" stroke-width="1.1"/>
<line x1="53.1" y1="47.8" x2="77.6" y2="66.6" stroke="#727272" stroke-width="1.9"/>
<line x1="226.8" y1="4.8" x2="185.2" y2="18.9" stroke="#787878" stroke-width="1.7"/>
<line x1="173.5" y1="52.4" x2="139.3" y2="68.0" stroke="#838383" stroke-width="1.8"/>
<line x1="154.8" y1="86.1" x2="179.1" y2="108.8" stroke="#8e8e8e" stroke-width="1.3"/>
<line x1="224.8" y1="31.5" x2="195.3" y2="78.6" stroke="#767676" stroke-width="2.5"/>
<line x1="66.0" y1="6.6" x2="114.9" y2="1.1" stroke="#7e7e7e" stroke-width="2.4"/>
<line x1="65.1" y1="63.7" x2="43.6" y2="80.7" stroke="#707070" stroke-width="2.3"/>
<line x1="108.9" y1="99.7" x2="135.2" y2="121.6" stroke="#707070" stroke-width="2.1"/>
<line x1="119.4" y1="29.4" x2="141.6" y2="-18.5" stroke="#989898" stroke-width="1.3"/>
<line x1="210.1" y1="89.4" x2="189.6" y2="103.4" stroke="#959595" stroke-width="1.7"/>
<line x1="169.0" y1="99.9" x2="216.2" y2="120.6" stroke="#757575" stroke-width="1.6"/>
<line x1="132.3" y1="22.1" x2="176.3" y2="24.7" stroke="#848484" stroke-width="2.3"/>
<line x1="49.9" y1="32.9" x2="95.6" y2="21.8" stroke="#757575" stroke-width="1.9"/>
<line x1="34.3" y1="-11.0" x2="34.3" y2="11.5" stroke="#7e7e7e" stroke-width="2.3"/>
<line x1="31.9" y1="93.0" x2="44.2" y2="136.0" stroke="#9a9a9a" stroke-width="1.4"/>
<line x1="218.9" y1="7.1" x2="173.2" y2="22.6" stroke="#7c7c7c" stroke-width="2.1"/>
<line x1="154.6" y1="109.2" x2="166.5" y2="128.6" stroke="#818181" stroke-width="2.3"/>
<line x1="77.8" y1="-4.8" x2="135.6" y2="6.4" stroke="#989898" stroke-width="1.9"/>
<line x1="204.1" y1="62.6" x2="213.9" y2="23.2" stroke="#7c7c7c" stroke-width="1.9"/>
<line x1="199.8" y1="73.8" x2="190.0" y2="106.2" stroke="#777777" stroke-width="2.5"/>
<line x1="94.7" y1="46.3" x2="80.8" y2="57.5" stroke="#8b8b8b" stroke-width="1.6"/>
<line x1="193.9" y1="85.8" x2="187.2" y2="100.3" stroke="#787878" stroke-width="1.7"/>
<line x1="110.5" y1="38.8" x2="120.6" y2="60.6" stroke="#757575" stroke-width="2.2"/>
<line x1="33.1" y1="15.7" x2="46.7" y2="32.7" stroke="#9d9d9d" stroke-width="2.2"/>
<line x1="71.3" y1="29.1" x2="62.8" y2="54.9" stroke="#818181" stroke-width="1.3"/>
<line x1="115.4" y1="63.7" x2="105.5" y2="95.2" stroke="#808080" stroke-width="2.3"/>
<line x1="43.0" y1="118.3" x2="65.3" y2="95.8" stroke="#828282" stroke-width="1.3"/>
<line x1="133.7" y1="85.5" x2="158.7" y2="111.3" stroke="#919191" stroke-width="1.9"/>
<line x1="133.3" y1="120.5" x2="151.2" y2="129.0" stroke="#7a7a7a" stroke-width="1.9"/>
<line x1="86.7" y1="128.5" x2="102.4" y2="100.3" stroke="#8e8e8e" stroke-width="2.4"/>
<line x1="44.5" y1="116.6" x2="62.8" y2="139.7" stroke="#848484" stroke-width="2.1"/>
<line x1="100.1" y1="130.7" x2="144.6" y2="144.5" stroke="#949494" stroke-width="1.8"/>
<line x1="111.8" y1="89.0" x2="116.1" y2="139.4" stroke="#9d9d9d" stroke-width="1.2"/>
<line x1="7.5" y1="121.6" x2="27.0" y2="161.7" stroke="#8d8d8d" stroke-width="2.2"/>
<line x1="32.0" y1="85.9" x2="-6.4" y2="108.8" stroke="#989898" stroke-width="2.5"/>
<line x1="99.3" y1="100.5" x2="65.6" y2="96.3" stroke="#818181" stroke-width="1.6"/>
<line x1="4.6" y1="53.7" x2="29.8" y2="72.3" stroke="#838383" stroke-width="1.2"/>
<line x1="98.6" y1="74.2" x2="111.2" y2="126.0" stroke="#939393" stroke-width="2.4"/>
<line x1="178.0" y1="-4.5" x2="156.3" y2="35.2" stroke="#8d8d8d" stroke-width="1.6"/>
<line x1="121.9" y1="1.1" x2="63.3" y2="16.3" stroke="#737373" stroke-width="1.4"/>
<line x1="81.2" y1="85.2" x2="61.3" y2="96.3" stroke="#999999" stroke-width="1.8"/>
<line x1="37.1" y1="29.5" x2="19.9" y2="44.5" stroke="#868686" stroke-width="2.6"/>
<line x1="173.1" y1="100.4" x2="166.7" y2="118.1" stroke="#929292" stroke-width="2.0"/>
<line x1="170.2" y1="127.1" x2="121.4" y2="158.1" stroke="#8a8a8a" stroke-width="1.3"/>
<line x1="97.4" y1="24.9" x2="103.0" y2="8.9" stroke="#878787" stroke-width="1.4"/>
<line x1="159.4" y1="11.0" x2="185.1" y2="42.1" stroke="#707070" stroke-width="1.6"/>
<line x1="5.9" y1="74.8" x2="14.3" y2="125.4" stroke="#888888" stroke-width="2.4"/>
<line x1="201.9" y1="140.6" x2="180.5" y2="144.6" stroke="#858585" stroke-width="1.2"/>
<line x1="191.0" y1="143.4" x2="228.3" y2="108.0" stroke="#979797" stroke-width="1.3"/>
<line x1="106.7" y1="85.8" x2="128.1" y2="100.2" stroke="#6c6c6c" stroke-width="1.6"/>
<line x1="164.3" y1="82.2" x2="134.3" y2="81.2" stroke="#858585" stroke-width="2.1"/>
<line x1="208.2" y1="25.6" x2="177.0" y2="31.3" stroke="#8f8f8f" stroke-width="2.3"/>
<line x1="168.9" y1="142.1" x2="177.8" y2="121.9" stroke="#8f8f8f" stroke-width="1.4"/>
<line x1="171.5" y1="24.1" x2="157.3" y2="82.3" stroke="#989898" stroke-width="1.4"/>
<line x1="124.7" y1="38.4" x2="143.5" y2="90.7" stroke="#8c8c8c" stroke-width="2.4"/>
<line x1="87.7" y1="46.3" x2="98.0" y2="86.9" stroke="#858585" stroke-width="1.4"/>
<line x1="184.1" y1="17.3" x2="206.2" y2="60.1" stroke="#929292" stroke-width="2.3"/>
<line x1="22.1" y1="-1.3" x2="4.0" y2="38.7" stroke="#6c6c6c" stroke-width="1.4"/>
<line x1="-6.4" y1="62.7" x2="49.1" y2="45.5" stroke="#949494" stroke-width="2.4"/>
<line x1="110.9" y1="8.6" x2="78.1" y2="36.0" stroke="#898989" stroke-width="2.5"/>
<line x1="126.6" y1="115.1" x2="146.7" y2="166.0" stroke="#999999" stroke-width="2.2"/>
<line x1="183.5" y1="92.6" x2="139.3" y2="103.4" stroke="#7e7e7e" stroke-width="2.1"/>
<line x1="132.6" y1="89.1" x2="115.4" y2="105.7" stroke="#717171" stroke-width="2.3"/>
<line x1="37.6" y1="-5.3" x2="73.8" y2="34.6" stroke="#7a7a7a" stroke-width="1.7"/>
<line x1="50.0" y1="2.2" x2="43.7" y2="23.8" stroke="#8e8e8e" stroke-width="2.0"/>
<line x1="143.9" y1="-9.8" x2="135.3" y2="19.1" stroke="#767676" stroke-width="2.3"/>
<line x1="14.5" y1="-13.6" x2="2.8" y2="22.5" stroke="#8c8c8c" stroke-width="1.7"/>
<line x1="0.8" y1="51.7" x2="38.0" y2="63.8" stroke="#6d6d6d" stroke-width="2.0"/>
<line x1="42.1" y1="135.0" x2="70.1" y2="106.5" stroke="#6f6f6f" stroke-width="2.6"/>
<line x1="152.2" y1="131.6" x2="176.6" y2="138.3" stroke="#808080" stroke-width="1.9"/>
<line x1="150.5" y1="80.3" x2="167.3" y2="59.6" stroke="#828282" stroke-width="1.4"/>
<line x1="65.0" y1="28.9" x2="19.5" y2="63.4" stroke="#6e6e6e" stroke-width="1.8"/>
<line x1="176.2" y1="30.6" x2="155.5" y2="51.7" stroke="#959595" stroke-width="2.5"/>
<line x1="121.7" y1="54.2" x2="135.0" y2="114.3" stroke="#9b9b9b" stroke-width="1.9"/>
<line x1="129.2" y1="6.0" x2="108.4" y2="37.2" stroke="#9a9a9a" stroke-width="1.8"/>
<line x1="49.3" y1="116.3" x2="29.5" y2="135.0" stroke="#979797" stroke-width="2.3"/>
<line x1="176.7" y1="26.7" x2="196.2" y2="32.0" stroke="#6e6e6e" stroke-width="2.3"/>
<line x1="7.9" y1="98.8" x2="-2.4" y2="110.4" stroke="#818181" stroke-width="1.1"/>
<line x1="130.8" y1="12.1" x2="95.5" y2="50.1" stroke="#868686" stroke-width="1.6"/>
<line x1="49.8" y1="127.3" x2="3.6" y2="141.1" stroke="#898989" stroke-width="1.8"/>
<line x1="27.5" y1="46.4" x2="72.0" y2="80.7" stroke="#898989" stroke-width="1.7"/>
<line x1="157.1" y1="76.8" x2="155.8" y2="107.4" stroke="#878787" stroke-width="2.1"/>
<line x1="-17.7" y1="25.9" x2="28.7" y2="66.2" stroke="#747474" stroke-width="2.3"/>
<line x1="128.3" y1="38.1" x2="142.2" y2="43.9" stroke="#959595" stroke-width="1.8"/>
<line x1="23.7" y1="-4.9" x2="-13.4" y2="39.0" stroke="#6e6e6e" stroke-width="1.3"/>
<line x1="26.6" y1="-10.5" x2="27.9" y2="47.3" stroke="#7e7e7e" stroke-width="2.3"/>
<line x1="55.5" y1="115.3" x2="81.4" y2="64.1" stroke="#848484" stroke-width="1.7"/>
<line x1="182.3" y1="117.0" x2="231.7" y2="125.9" stroke="#9c9c9c" stroke-width="1.3"/>
<line x1="34.2" y1="96.4" x2="66.4" y2="133.4" stroke="#737373" stroke-width="1.9"/>
<line x1="191.0" y1="86.4" x2="170.2" y2="122.0" stroke="#898989" stroke-width="1.7"/>
<line x1="115.8" y1="74.5" x2="81.7" y2="118.9" stroke="#737373" stroke-width="2.2"/>
<line x1="22.0" y1="83.8" x2="48.0" y2="99.6" stroke="#727272" stroke-width="2.3"/>
<line x1="37.7" y1="93.1" x2="47.3" y2="80.1" stroke="#9b9b9b" stroke-width="1.5"/>
<line x1="201.2" y1="110.6" x2="198.7" y2="153.7" stroke="#777777" stroke-width="2.6"/>
<line x1="122.5" y1="43.5" x2="83.5" y2="58.2" stroke="#949494" stroke-width="2.3"/>
<line x1="167.8" y1="64.4" x2="203.9" y2="70.3" stroke="#939393" stroke-width="1.1"/>
<line x1="66.8" y1="67.5" x2="24.5" y2="85.6" stroke="#717171" stroke-width="2.3"/>
<line x1="101.1" y1="97.8" x2="46.8" y2="111.8" stroke="#767676" stroke-width="2.4"/>
<line x1="152.0" y1="96.5" x2="122.5" y2="107.3" stroke="#7c7c7c" stroke-width="2.2"/>
<line x1="196.9" y1="33.4" x2="176.1" y2="86.3" stroke="#8a8a8a" stroke-width="1.4"/>
<line x1="85.7" y1="77.1" x2="47.9" y2="119.4" stroke="#989898" stroke-width="1.9"/>
<line x1="133.1" y1="15.0" x2="152.4" y2="22.1" stroke="#8d8d8d" stroke-width="1.3"/>
<line x1="52.5" y1="33.2" x2="2.2" y2="25.5" stroke="#7a7a7a" stroke-width="2.4"/>
<line x1="67.3" y1="117.9" x2="45.1" y2="165.6" stroke="#979797" stroke-width="2.3"/>
<line x1="98.6" y1="12.5" x2="116.0" y2="17.2" stroke="#7d7d7d" stroke-width="2.2"/>
<line x1="45.3" y1="62.8" x2="28.4" y2="80.5" stroke="#727272" stroke-width="2.0"/>
<line x1="5.2" y1="4.7" x2="31.7" y2="12.4" stroke="#717171" stroke-width="2.3"/>
<line x1="140.0" y1="14.5" x2="112.9" y2="11.2" stroke="#8e8e8e" stroke-width="1.8"/>
<line x1="78.3" y1="2.3" x2="46.7" y2="51.5" stroke="#7e7e7e" stroke-width="1.7"/>
<line x1="69.1" y1="121.1" x2="109.0" y2="165.0" stroke="#8b8b8b" stroke-width="2.5"/>
<line x1="89.9" y1="84.1" x2="107.4" y2="134.4" stroke="#9d9d9d" stroke-width="2.1"/>
<line x1="88.0" y1="96.7" x2="77.8" y2="112.6" stroke="#747474" stroke-width="1.3"/>
<line x1="7.1" y1="93.9" x2="34.9" y2="115.0" stroke="#858585" stroke-width="1.2"/>
<line x1="96.4" y1="39.6" x2="78.9" y2="49.5" stroke="#777777" stroke-width="1.6"/>
<line x1="14.1" y1="130.7" x2="-3.1" y2="151.7" stroke="#7c7c7c" stroke-width="1.1"/>
<line x1="168.7" y1="-1.0" x2="181.9" y2="26.7" stroke="#808080" stroke-width="1.6"/>
<line x1="87.7" y1="-4.5" x2="144.6" y2="13.1" stroke="#9a9a9a" stroke-width="2.2"/>
<line x1="170.5" y1="126.9" x2="184.7" y2="149.2" stroke="#7c7c7c" stroke-width="2.2"/>
<line x1="95.2" y1="7.0" x2="122.8" y2="51.6" stroke="#7d7d7d" stroke-width="2.0"/>
<line x1="179.2" y1="63.6" x2="179.5" y2="86.4" stroke="#787878" stroke-width="1.1"/>
<line x1="100.5" y1="29.2" x2="121.9" y2="77.8" stroke="#6e6e6e" stroke-width="2.6"/>
<line x1="65.2" y1="42.3" x2="78.9" y2="30.1" stroke="#9a9a9a" stroke-width="1.1"/>
<line x1="39.4" y1="8.6" x2="0.2" y2="44.2" stroke="#858585" stroke-width="1.8"/>
<line x1="40.3" y1="101.2" x2="78.1" y2="99.9" stroke="#979797" stroke-width="1.6"/>
<line x1="101.4" y1="71.2" x2="76.4" y2="70.2" stroke="#9c9c9c" stroke-width="1.9"/>
<line x1="82.6" y1="119.3" x2="93.4" y2="60.6" stroke="#999999" stroke-width="1.3"/>
<line x1="123.8" y1="35.0" x2="138.1" y2="57.9" stroke="#747474" stroke-width="2.3"/>
<line x1="126.7" y1="28.9" x2="151.3" y2="-3.6" stroke="#9a9a9a" stroke-width="1.6"/>
<line x1="32.6" y1="63.0" x2="-14.3" y2="82.4" stroke="#757575" stroke-width="1.8"/>
<line x1="169.0" y1="81.8" x2="194.7" y2="91.1" stroke="#9d9d9d" stroke-width="2.4"/>
<line x1="126.3" y1="32.0" x2="108.6" y2="83.5" stroke="#8d8d8d" stroke-width="2.4"/>
<line x1="76.2" y1="109.8" x2="76.3" y2="143.4" stroke="#8d8d8d" stroke-width="1.6"/>
<line x1="59.1" y1="29.2" x2="41.3" y2="38.1" stroke="#737373" stroke-width="1.3"/>
<line x1="87.5" y1="110.0" x2="143.2" y2="109.7" stroke="#797979" stroke-width="1.5"/>
<line x1="-19.6" y1="45.4" x2="38.9" y2="31.4" stroke="#767676" stroke-width="1.6"/>
<line x1="112.9" y1="19.8" x2="131.2" y2="40.7" stroke="#6c6c6c" stroke-width="1.3"/>
<line x1="174.7" y1="23.2" x2="145.1" y2="45.8" stroke="#8e8e8e" stroke-width="2.2"/>
<line x1="64.4" y1="11.4" x2="38.2" y2="8.3" stroke="#8b8b8b" stroke-width="2.6"/>
<line x1="107.4" y1="118.4" x2="101.5" y2="138.9" stroke="#787878" stroke-width="1.1"/>
<line x1="180.2" y1="34.4" x2="211.4" y2="77.2" stroke="#7f7f7f" stroke-width="2.4"/>
<line x1="165.7" y1="6.7" x2="207.6" y2="28.6" stroke="#898989" stroke-width="2.1"/>
<line x1="84.0" y1="75.9" x2="111.1" y2="31.8" stroke="#848484" stroke-width="1.2"/>
<line x1="229.0" y1="60.5" x2="190.1" y2="73.4" stroke="#747474" stroke-width="2.6"/>
<line x1="152.3" y1="57.8" x2="187.1" y2="69.8" stroke="#969696" stroke-width="1.3"/>
<line x1="198.8" y1="14.9" x2="180.9" y2="70.6" stroke="#959595" stroke-width="1.9"/>
<line x1="31.4" y1="79.3" x2="18.6" y2="115.5" stroke="#6f6f6f" stroke-width="1.5"/>
<line x1="153.4" y1="79.5" x2="120.0" y2="87.2" stroke="#767676" stroke-width="1.4"/>
<line x1="91.3" y1="124.7" x2="43.3" y2="135.6" stroke="#989898" stroke-width="2.1"/>
<line x1="89.5" y1="131.2" x2="67.6" y2="154.3" stroke="#757575" stroke-width="1.7"/>
<line x1="40.4" y1="20.6" x2="62.9" y2="38.5" stroke="#7d7d7d" stroke-width="1.8"/>
<line x1="45.0" y1="61.0" x2="62.4" y2="65.0" stroke="#969696" stroke-width="1.7"/>
<line x1="53.2" y1="49.6" x2="39.9" y2="62.8" stroke="#7d7d7d" stroke-width="1.9"/>
<line x1="93.8" y1="154.6" x2="120.2" y2="128.0" stroke="#8e8e8e" stroke-width="2.3"/>
<line x1="71.8" y1="63.5" x2="66.8" y2="85.6" stroke="#858585" stroke-width="2.3"/>
<line x1="170.5" y1="34.2" x2="211.1" y2="45.0" stroke="#838383" stroke-width="1.6"/>
<line x1="171.8" y1="-10.7" x2="200.1" y2="20.8" stroke="#6e6e6e" stroke-width="1.2"/>
<line x1="153.7" y1="55.3" x2="137.4" y2="61.0" stroke="#969696" stroke-width="1.4"/>
<line x1="119.9" y1="34.5" x2="67.6" y2="61.2" stroke="#6d6d6d" stroke-width="1.6"/>
<line x1="117.8" y1="107.9" x2="138.5" y2="120.5" stroke="#838383" stroke-width="1.4"/>
<line x1="140.1" y1="38.7" x2="170.1" y2="57.2" stroke="#7d7d7d" stroke-width="2.0"/>
<line x1="43.6" y1="41.0" x2="23.7" y2="58.2" stroke="#8d8d8d" stroke-width="2.2"/>
<line x1="-2.8" y1="48.2" x2="15.3" y2="60.2" stroke="#979797" stroke-width="2.2"/>
<line x1="5.0" y1="39.0" x2="15.5" y2="26.4" stroke="#838383" stroke-width="1.3"/>
<line x1="72.8" y1="110.6" x2="89.7" y2="120.5" stroke="#7e7e7e" stroke-width="2.2"/>
<line x1="28.4" y1="117.2" x2="6.6" y2="135.3" stroke="#9a9a9a" stroke-width="1.4"/>
<line x1="109.1" y1="36.7" x2="124.9" y2="-6.7" stroke="#7e7e7e" stroke-width="1.6"/>
<line x1="71.1" y1="99.8" x2="61.8" y2="120.2" stroke="#979797" stroke-width="2.2"/>
<line x1="194.7" y1="64.7" x2="176.5" y2="106.6" stroke="#727272" stroke-width="2.5"/>
<line x1="137.8" y1="120.4" x2="116.9" y2="137.6" stroke="#6c6c6c" stroke-width="1.9"/>
<line x1="-4.4" y1="12.9" x2="12.6" y2="31.9" stroke="#7d7d7d" stroke-width="1.4"/>
<line x1="187.7" y1="38.1" x2="170.9" y2="67.1" stroke="#7c7c7c" stroke-width="2.4"/>
<line x1="53.3" y1="90.6" x2="93.1" y2="99.4" stroke="#808080" stroke-width="1.6"/>
<line x1="84.6" y1="93.1" x2="63.0" y2="138.2" stroke="#8b8b8b" stroke-width="2.2"/>
<line x1="70.4" y1="53.0" x2="88.7" y2="69.6" stroke="#7f7f7f" stroke-width="2.1"/>
<line x1="162.1" y1="38.5" x2="110.0" y2="67.5" stroke="#949494" stroke-width="1.2"/>
<line x1="89.0" y1="49.2" x2="92.6" y2="96.5" stroke="#878787" stroke-width="2.5"/>
<line x1="85.4" y1="115.3" x2="112.1" y2="157.3" stroke="#747474" stroke-width="2.0"/>
<line x1="137.4" y1="2.4" x2="146.1" y2="52.3" stroke="#7e7e7e" stroke-width="1.6"/>
<line x1="199.0" y1="106.6" x2="191.0" y2="120.8" stroke="#868686" stroke-width="2.4"/>
<line x1="155.7" y1="92.6" x2="171.9" y2="71.7" stroke="#6e6e6e" stroke-width="2.5"/>
<line x1="126.5" y1="87.7" x2="139.6" y2="61.5" stroke="#878787" stroke-width="1.8"/>
<line x1="227.1" y1="20.3" x2="194.2" y2="44.9" stroke="#828282" stroke-width="1.5"/>
<line x1="145.3" y1="7.1" x2="168.0" y2="10.6" stroke="#737373" stroke-width="2.6"/>
<line x1="19.8" y1="156.2" x2="62.9" y2="111.9" stroke="#7a7a7a" stroke-width="2.1"/>
<line x1="7.7" y1="105.0" x2="55.7" y2="105.3" stroke="#777777" stroke-width="1.5"/>
<line x1="155.7" y1="122.0" x2="187.0" y2="128.9" stroke="#9a9a9a" stroke-width="1.4"/>
<line x1="196.1" y1="67.7" x2="222.1" y2="97.1" stroke="#888888" stroke-width="2.3"/>
<line x1="157.1" y1="45.8" x2="192.0" y2="51.5" stroke="#949494" stroke-width="2.3"/>
<line x1="77.0" y1="128.5" x2="112.9" y2="132.1" stroke="#939393" stroke-width="1.7"/>
<line x1="36.9" y1="0.9" x2="33.4" y2="22.5" stroke="#6c6c6c" stroke-width="2.3"/>
<line x1="194.4" y1="7.1" x2="206.4" y2="-5.6" stroke="#898989" stroke-width="2.3"/>
<line x1="171.3" y1="98.9" x2="163.7" y2="127.5" stroke="#868686" stroke-width="1.1"/>
<line x1="168.6" y1="51.5" x2="131.2" y2="71.6" stroke="#777777" stroke-width="1.6"/>
<line x1="33.3" y1="46.6" x2="74.2" y2="59.5" stroke="#797979" stroke-width="2.6"/>
<line x1="87.1" y1="72.2" x2="59.3" y2="69.3" stroke="#8c8c8c" stroke-width="2.0"/>
<line x1="189.6" y1="68.4" x2="179.2" y2="91.9" stroke="#6f6f6f" stroke-width="2.4"/>
<line x1="189.2" y1="96.6" x2="167.9" y2="107.9" stroke="#757575" stroke-width="2.4"/>
</g>
<g filter="url(#blur1)">
<rect x="1.6" y="131.2" width="8.4" height="10.7" fill="#6d6d6d" transform="rotate(36 7.6 135.2)"/>
<rect x="131.3" y="56.0" width="13.3" height="10.0" fill="#828282" transform="rotate(164 137.3 60.0)"/>
<rect x="90.4" y="77.1" width="8.1" height="10.2" fill="#7b7b7b" transform="rotate(12 96.4 81.1)"/>
<rect x="70.6" y="25.6" width="13.8" height="6.8" fill="#787878" transform="rotate(144 76.6 29.6)"/>
<rect x="160.3" y="120.8" width="10.6" height="8.1" fill="#797979" transform="rotate(54 166.3 124.8)"/>
<rect x="23.9" y="133.7" width="11.9" height="8.2" fill="#808080" transform="rotate(0 29.9 137.7)"/>
<rect x="193.3" y="103.9" width="8.0" height="7.1" fill="#7e7e7e" transform="rotate(127 199.3 107.9)"/>
<rect x="35.9" y="79.4" width="10.8" height="9.4" fill="#787878" transform="rotate(55 41.9 83.4)"/>
<rect x="28.0" y="13.2" width="13.8" height="8.6" fill="#787878" transform="rotate(0 34.0 17.2)"/>
<rect x="11.5" y="97.0" width="14.9" height="8.4" fill="#696969" transform="rotate(171 17.5 101.0)"/>
<rect x="58.5" y="79.4" width="11.8" height="8.5" fill="#717171" transform="rotate(10 64.5 83.4)"/>
<rect x="98.9" y="123.6" width="11.2" height="9.0" fill="#757575" transform="rotate(162 104.9 127.6)"/>
</g>
<g filter="url(#blur4)" opacity="0.35">
<ellipse cx="10.0" cy="30.0" rx="28.0" ry="40.0" fill="#141414" transform="rotate(0 10.0 30.0)"/>
<ellipse cx="18.0" cy="120.0" rx="30.0" ry="30.0" fill="#141414" transform="rotate(0 18.0 120.0)"/>
<ellipse cx="200.0" cy="20.0" rx="25.0" ry="20.0" fill="#191919" transform="rotate(0 200.0 20.0)"/>
</g>
</svg>
<svg x="54.7" y="745.3" width="213.0" height="143.0" viewBox="0 0 213.0 143.0" overflow="hidden">
<rect x="-5" y="-5" width="223.0" height="153.0" fill="#8a8a8a"/>
<filter id="cloud6" x="-10%" y="-10%" width="120%" height="120%" color-interpolation-filters="sRGB"><feGaussianBlur in="SourceGraphic" stdDeviation="2.2" result="b"/><feTurbulence type="fractalNoise" baseFrequency="0.11" numOctaves="4" seed="3" result="n"/><feDisplacementMap in="b" in2="n" scale="9" xChannelSelector="R" yChannelSelector="G" result="d"/><feColorMatrix in="n" type="matrix" values="0 0 0 1.0 0  0 0 0 1.0 0  0 0 0 1.0 0  0 0 0 0 1" result="n2"/><feComposite in="d" in2="n2" operator="arithmetic" k1="0.5" k2="0.72" k3="0" k4="0"/></filter>
<g filter="url(#cloud6)">
<rect x="-5" y="-5" width="223.0" height="153.0" fill="#8a8a8a"/>
<ellipse cx="102.9" cy="11.8" rx="43.6" ry="16.3" fill="#808080" transform="rotate(0 102.9 11.8)"/>
<ellipse cx="86.6" cy="91.7" rx="30.9" ry="23.6" fill="#a8a8a8" transform="rotate(0 86.6 91.7)"/>
<ellipse cx="148.3" cy="80.8" rx="39.9" ry="30.9" fill="#989898" transform="rotate(0 148.3 80.8)"/>
<ellipse cx="166.5" cy="40.8" rx="30.9" ry="20.0" fill="#8e8e8e" transform="rotate(0 166.5 40.8)"/>
<ellipse cx="112.0" cy="49.9" rx="36.3" ry="21.8" fill="#8a8a8a" transform="rotate(0 112.0 49.9)"/>
<ellipse cx="44.8" cy="68.1" rx="27.2" ry="18.2" fill="#878787" transform="rotate(0 44.8 68.1)"/>
<ellipse cx="101.1" cy="128.0" rx="36.3" ry="18.2" fill="#8c8c8c" transform="rotate(0 101.1 128.0)"/>
<ellipse cx="201.0" cy="98.9" rx="14.5" ry="29.0" fill="#8c8c8c" transform="rotate(0 201.0 98.9)"/>
<ellipse cx="193.7" cy="31.8" rx="20.0" ry="23.6" fill="#787878" transform="rotate(0 193.7 31.8)"/>
<ellipse cx="209.2" cy="48.1" rx="5.4" ry="16.3" fill="#3e3e3e" transform="rotate(0 209.2 48.1)"/>
<ellipse cx="208.2" cy="13.6" rx="7.3" ry="10.9" fill="#646464" transform="rotate(0 208.2 13.6)"/>
<ellipse cx="19.4" cy="46.3" rx="25.4" ry="30.9" fill="#2c2c2c" transform="rotate(0 19.4 46.3)"/>
<ellipse cx="43.0" cy="12.7" rx="24.5" ry="16.3" fill="#1a1a1a" transform="rotate(0 43.0 12.7)"/>
<ellipse cx="3.1" cy="10.0" rx="10.9" ry="14.5" fill="#484848" transform="rotate(0 3.1 10.0)"/>
<ellipse cx="30.3" cy="31.8" rx="10.9" ry="5.4" fill="#3c3c3c" transform="rotate(-20 30.3 31.8)"/>
<ellipse cx="63.0" cy="22.7" rx="8.2" ry="13.6" fill="#484848" transform="rotate(20 63.0 22.7)"/>
<ellipse cx="6.7" cy="66.3" rx="12.7" ry="7.3" fill="#3c3c3c" transform="rotate(0 6.7 66.3)"/>
<ellipse cx="164.7" cy="3.6" rx="13.6" ry="4.7" fill="#1e1e1e" transform="rotate(0 164.7 3.6)"/>
<ellipse cx="8.5" cy="80.8" rx="16.3" ry="10.0" fill="#767676" transform="rotate(0 8.5 80.8)"/>
<ellipse cx="21.2" cy="120.7" rx="23.6" ry="25.4" fill="#505050" transform="rotate(0 21.2 120.7)"/>
<ellipse cx="44.8" cy="131.6" rx="16.3" ry="16.3" fill="#444444" transform="rotate(0 44.8 131.6)"/>
<ellipse cx="4.9" cy="106.2" rx="10.9" ry="14.5" fill="#626262" transform="rotate(0 4.9 106.2)"/>
<ellipse cx="137.4" cy="133.4" rx="12.7" ry="11.8" fill="#373737" transform="rotate(0 137.4 133.4)"/>
<ellipse cx="174.7" cy="125.3" rx="12.7" ry="15.4" fill="#303030" transform="rotate(0 174.7 125.3)"/>
<ellipse cx="101.1" cy="104.4" rx="8.2" ry="7.3" fill="#646464" transform="rotate(0 101.1 104.4)"/>
<ellipse cx="130.2" cy="53.6" rx="10.9" ry="10.0" fill="#6c6c6c" transform="rotate(0 130.2 53.6)"/>
<ellipse cx="203.7" cy="135.3" rx="10.9" ry="10.0" fill="#c0c0c0" transform="rotate(0 203.7 135.3)"/>
<ellipse cx="188.3" cy="140.7" rx="7.3" ry="3.6" fill="#969696" transform="rotate(0 188.3 140.7)"/>
</g>
<g filter="url(#blur1)" opacity="0.28">
<ellipse cx="113.7" cy="55.4" rx="1.5" ry="1.7" fill="#646464" transform="rotate(0 113.7 55.4)"/>
<ellipse cx="91.7" cy="67.7" rx="2.4" ry="2.1" fill="#a5a5a5" transform="rotate(0 91.7 67.7)"/>
<ellipse cx="155.4" cy="103.7" rx="1.5" ry="1.8" fill="#787878" transform="rotate(0 155.4 103.7)"/>
<ellipse cx="106.6" cy="27.5" rx="1.3" ry="1.0" fill="#a5a5a5" transform="rotate(0 106.6 27.5)"/>
<ellipse cx="43.3" cy="98.3" rx="2.8" ry="3.2" fill="#acacac" transform="rotate(0 43.3 98.3)"/>
<ellipse cx="68.2" cy="35.1" rx="2.8" ry="3.2" fill="#acacac" transform="rotate(0 68.2 35.1)"/>
<ellipse cx="192.6" cy="58.5" rx="1.9" ry="1.4" fill="#787878" transform="rotate(0 192.6 58.5)"/>
<ellipse cx="188.2" cy="124.3" rx="1.3" ry="1.2" fill="#b6b6b6" transform="rotate(0 188.2 124.3)"/>
<ellipse cx="161.8" cy="120.4" rx="3.1" ry="2.2" fill="#a5a5a5" transform="rotate(0 161.8 120.4)"/>
<ellipse cx="66.9" cy="120.6" rx="1.9" ry="2.1" fill="#707070" transform="rotate(0 66.9 120.6)"/>
<ellipse cx="127.2" cy="6.9" rx="1.4" ry="1.3" fill="#707070" transform="rotate(0 127.2 6.9)"/>
<ellipse cx="106.1" cy="58.8" rx="2.5" ry="1.8" fill="#a5a5a5" transform="rotate(0 106.1 58.8)"/>
<ellipse cx="158.9" cy="10.1" rx="1.7" ry="1.8" fill="#707070" transform="rotate(0 158.9 10.1)"/>
<ellipse cx="163.4" cy="104.9" rx="2.4" ry="1.7" fill="#787878" transform="rotate(0 163.4 104.9)"/>
<ellipse cx="103.0" cy="127.9" rx="1.5" ry="1.5" fill="#787878" transform="rotate(0 103.0 127.9)"/>
<ellipse cx="96.6" cy="96.3" rx="2.4" ry="2.6" fill="#646464" transform="rotate(0 96.6 96.3)"/>
<ellipse cx="184.9" cy="19.5" rx="3.0" ry="2.6" fill="#707070" transform="rotate(0 184.9 19.5)"/>
<ellipse cx="103.0" cy="138.8" rx="2.3" ry="1.7" fill="#a5a5a5" transform="rotate(0 103.0 138.8)"/>
<ellipse cx="90.0" cy="63.6" rx="1.6" ry="1.5" fill="#acacac" transform="rotate(0 90.0 63.6)"/>
<ellipse cx="175.6" cy="46.4" rx="1.8" ry="1.7" fill="#646464" transform="rotate(0 175.6 46.4)"/>
<ellipse cx="174.4" cy="72.3" rx="2.6" ry="2.2" fill="#787878" transform="rotate(0 174.4 72.3)"/>
<ellipse cx="43.8" cy="92.8" rx="1.4" ry="1.5" fill="#a5a5a5" transform="rotate(0 43.8 92.8)"/>
<ellipse cx="97.8" cy="121.6" rx="1.9" ry="2.0" fill="#707070" transform="rotate(0 97.8 121.6)"/>
<ellipse cx="154.1" cy="123.8" rx="1.3" ry="1.5" fill="#707070" transform="rotate(0 154.1 123.8)"/>
<ellipse cx="78.4" cy="26.9" rx="1.4" ry="1.1" fill="#646464" transform="rotate(0 78.4 26.9)"/>
<ellipse cx="100.6" cy="87.8" rx="3.1" ry="2.7" fill="#707070" transform="rotate(0 100.6 87.8)"/>
<ellipse cx="116.8" cy="42.4" rx="3.1" ry="3.4" fill="#acacac" transform="rotate(0 116.8 42.4)"/>
<ellipse cx="154.7" cy="13.5" rx="2.1" ry="2.2" fill="#b6b6b6" transform="rotate(0 154.7 13.5)"/>
<ellipse cx="135.7" cy="113.8" rx="2.5" ry="2.1" fill="#a5a5a5" transform="rotate(0 135.7 113.8)"/>
<ellipse cx="187.2" cy="71.9" rx="1.4" ry="1.0" fill="#a5a5a5" transform="rotate(0 187.2 71.9)"/>
<ellipse cx="176.6" cy="26.6" rx="2.8" ry="3.1" fill="#707070" transform="rotate(0 176.6 26.6)"/>
<ellipse cx="63.1" cy="66.7" rx="2.3" ry="2.1" fill="#707070" transform="rotate(0 63.1 66.7)"/>
<ellipse cx="128.8" cy="85.3" rx="1.7" ry="1.3" fill="#787878" transform="rotate(0 128.8 85.3)"/>
<ellipse cx="188.7" cy="78.7" rx="2.2" ry="2.2" fill="#646464" transform="rotate(0 188.7 78.7)"/>
<ellipse cx="186.7" cy="82.7" rx="3.1" ry="2.3" fill="#707070" transform="rotate(0 186.7 82.7)"/>
<ellipse cx="159.1" cy="18.6" rx="2.6" ry="2.4" fill="#b6b6b6" transform="rotate(0 159.1 18.6)"/>
<ellipse cx="188.7" cy="103.6" rx="2.6" ry="1.8" fill="#707070" transform="rotate(0 188.7 103.6)"/>
<ellipse cx="186.9" cy="36.0" rx="2.8" ry="3.0" fill="#a5a5a5" transform="rotate(0 186.9 36.0)"/>
<ellipse cx="119.5" cy="37.6" rx="2.4" ry="1.8" fill="#646464" transform="rotate(0 119.5 37.6)"/>
<ellipse cx="151.5" cy="59.9" rx="1.3" ry="1.1" fill="#a5a5a5" transform="rotate(0 151.5 59.9)"/>
<ellipse cx="164.7" cy="16.0" rx="1.3" ry="1.3" fill="#a5a5a5" transform="rotate(0 164.7 16.0)"/>
<ellipse cx="126.5" cy="8.1" rx="2.8" ry="2.4" fill="#acacac" transform="rotate(0 126.5 8.1)"/>
<ellipse cx="136.1" cy="137.5" rx="3.2" ry="3.5" fill="#646464" transform="rotate(0 136.1 137.5)"/>
<ellipse cx="189.3" cy="95.9" rx="2.1" ry="1.6" fill="#707070" transform="rotate(0 189.3 95.9)"/>
<ellipse cx="45.3" cy="92.4" rx="1.4" ry="1.0" fill="#646464" transform="rotate(0 45.3 92.4)"/>
<ellipse cx="114.5" cy="75.6" rx="1.9" ry="2.0" fill="#707070" transform="rotate(0 114.5 75.6)"/>
<ellipse cx="152.4" cy="6.6" rx="1.7" ry="1.7" fill="#646464" transform="rotate(0 152.4 6.6)"/>
<ellipse cx="123.6" cy="61.3" rx="3.0" ry="2.8" fill="#acacac" transform="rotate(0 123.6 61.3)"/>
<ellipse cx="138.7" cy="34.6" rx="1.3" ry="1.1" fill="#acacac" transform="rotate(0 138.7 34.6)"/>
<ellipse cx="94.4" cy="138.2" rx="2.0" ry="1.4" fill="#acacac" transform="rotate(0 94.4 138.2)"/>
<ellipse cx="202.5" cy="17.4" rx="1.8" ry="1.5" fill="#a5a5a5" transform="rotate(0 202.5 17.4)"/>
<ellipse cx="88.8" cy="81.3" rx="3.0" ry="3.4" fill="#b6b6b6" transform="rotate(0 88.8 81.3)"/>
<ellipse cx="68.9" cy="42.2" rx="2.1" ry="2.1" fill="#a5a5a5" transform="rotate(0 68.9 42.2)"/>
<ellipse cx="112.4" cy="57.0" rx="1.9" ry="1.4" fill="#646464" transform="rotate(0 112.4 57.0)"/>
<ellipse cx="62.2" cy="78.6" rx="1.6" ry="1.7" fill="#787878" transform="rotate(0 62.2 78.6)"/>
<ellipse cx="190.0" cy="133.0" rx="1.4" ry="1.6" fill="#a5a5a5" transform="rotate(0 190.0 133.0)"/>
<ellipse cx="137.7" cy="132.6" rx="2.5" ry="2.3" fill="#787878" transform="rotate(0 137.7 132.6)"/>
<ellipse cx="127.6" cy="50.2" rx="1.2" ry="1.2" fill="#b6b6b6" transform="rotate(0 127.6 50.2)"/>
<ellipse cx="72.2" cy="103.6" rx="2.7" ry="3.0" fill="#a5a5a5" transform="rotate(0 72.2 103.6)"/>
<ellipse cx="82.3" cy="77.2" rx="1.3" ry="0.9" fill="#acacac" transform="rotate(0 82.3 77.2)"/>
<ellipse cx="177.3" cy="140.1" rx="2.5" ry="2.2" fill="#a5a5a5" transform="rotate(0 177.3 140.1)"/>
<ellipse cx="121.3" cy="22.9" rx="2.6" ry="2.3" fill="#acacac" transform="rotate(0 121.3 22.9)"/>
<ellipse cx="67.7" cy="129.1" rx="2.3" ry="2.6" fill="#707070" transform="rotate(0 67.7 129.1)"/>
<ellipse cx="132.7" cy="5.8" rx="2.6" ry="1.8" fill="#b6b6b6" transform="rotate(0 132.7 5.8)"/>
<ellipse cx="124.2" cy="107.3" rx="2.1" ry="2.4" fill="#646464" transform="rotate(0 124.2 107.3)"/>
<ellipse cx="80.2" cy="24.1" rx="2.1" ry="2.2" fill="#707070" transform="rotate(0 80.2 24.1)"/>
<ellipse cx="151.6" cy="105.8" rx="1.3" ry="1.1" fill="#acacac" transform="rotate(0 151.6 105.8)"/>
<ellipse cx="169.2" cy="95.6" rx="1.4" ry="1.1" fill="#707070" transform="rotate(0 169.2 95.6)"/>
<ellipse cx="163.8" cy="22.8" rx="2.0" ry="2.0" fill="#787878" transform="rotate(0 163.8 22.8)"/>
<ellipse cx="132.3" cy="5.9" rx="2.3" ry="1.7" fill="#787878" transform="rotate(0 132.3 5.9)"/>
<ellipse cx="94.6" cy="55.2" rx="1.9" ry="2.1" fill="#b6b6b6" transform="rotate(0 94.6 55.2)"/>
<ellipse cx="109.2" cy="103.5" rx="1.6" ry="1.2" fill="#707070" transform="rotate(0 109.2 103.5)"/>
<ellipse cx="201.9" cy="16.1" rx="1.9" ry="2.2" fill="#b6b6b6" transform="rotate(0 201.9 16.1)"/>
<ellipse cx="202.8" cy="29.9" rx="2.3" ry="2.6" fill="#a5a5a5" transform="rotate(0 202.8 29.9)"/>
<ellipse cx="91.2" cy="34.9" rx="3.2" ry="2.3" fill="#787878" transform="rotate(0 91.2 34.9)"/>
<ellipse cx="182.5" cy="83.7" rx="1.6" ry="1.8" fill="#acacac" transform="rotate(0 182.5 83.7)"/>
<ellipse cx="156.7" cy="49.5" rx="2.0" ry="1.5" fill="#707070" transform="rotate(0 156.7 49.5)"/>
<ellipse cx="112.1" cy="135.9" rx="1.3" ry="1.0" fill="#707070" transform="rotate(0 112.1 135.9)"/>
<ellipse cx="187.6" cy="101.3" rx="2.5" ry="2.7" fill="#a5a5a5" transform="rotate(0 187.6 101.3)"/>
<ellipse cx="99.3" cy="107.6" rx="3.0" ry="2.8" fill="#b6b6b6" transform="rotate(0 99.3 107.6)"/>
<ellipse cx="56.8" cy="61.2" rx="2.7" ry="3.0" fill="#787878" transform="rotate(0 56.8 61.2)"/>
<ellipse cx="144.1" cy="17.4" rx="3.1" ry="3.0" fill="#acacac" transform="rotate(0 144.1 17.4)"/>
<ellipse cx="98.0" cy="109.7" rx="2.9" ry="2.8" fill="#707070" transform="rotate(0 98.0 109.7)"/>
<ellipse cx="162.2" cy="92.6" rx="2.1" ry="2.5" fill="#646464" transform="rotate(0 162.2 92.6)"/>
<ellipse cx="68.5" cy="6.6" rx="2.1" ry="1.6" fill="#acacac" transform="rotate(0 68.5 6.6)"/>
<ellipse cx="84.2" cy="6.1" rx="2.5" ry="2.3" fill="#acacac" transform="rotate(0 84.2 6.1)"/>
<ellipse cx="97.3" cy="91.5" rx="1.8" ry="2.1" fill="#a5a5a5" transform="rotate(0 97.3 91.5)"/>
<ellipse cx="152.0" cy="22.7" rx="3.1" ry="2.3" fill="#707070" transform="rotate(0 152.0 22.7)"/>
<ellipse cx="157.1" cy="53.3" rx="2.3" ry="2.4" fill="#646464" transform="rotate(0 157.1 53.3)"/>
<ellipse cx="48.7" cy="60.1" rx="2.1" ry="1.6" fill="#707070" transform="rotate(0 48.7 60.1)"/>
<ellipse cx="132.9" cy="73.7" rx="2.9" ry="2.6" fill="#787878" transform="rotate(0 132.9 73.7)"/>
<ellipse cx="66.0" cy="91.7" rx="2.6" ry="2.5" fill="#b6b6b6" transform="rotate(0 66.0 91.7)"/>
<ellipse cx="87.3" cy="66.8" rx="1.8" ry="2.0" fill="#a5a5a5" transform="rotate(0 87.3 66.8)"/>
<ellipse cx="106.8" cy="108.1" rx="1.3" ry="1.2" fill="#787878" transform="rotate(0 106.8 108.1)"/>
<ellipse cx="151.9" cy="34.9" rx="1.7" ry="1.6" fill="#646464" transform="rotate(0 151.9 34.9)"/>
<ellipse cx="207.1" cy="114.4" rx="2.2" ry="2.4" fill="#646464" transform="rotate(0 207.1 114.4)"/>
<ellipse cx="146.3" cy="113.3" rx="2.5" ry="2.3" fill="#646464" transform="rotate(0 146.3 113.3)"/>
<ellipse cx="86.6" cy="15.3" rx="1.7" ry="1.4" fill="#a5a5a5" transform="rotate(0 86.6 15.3)"/>
<ellipse cx="200.6" cy="138.0" rx="1.5" ry="1.1" fill="#acacac" transform="rotate(0 200.6 138.0)"/>
<ellipse cx="157.2" cy="75.2" rx="2.4" ry="1.7" fill="#b6b6b6" transform="rotate(0 157.2 75.2)"/>
<ellipse cx="139.7" cy="56.4" rx="1.7" ry="2.1" fill="#707070" transform="rotate(0 139.7 56.4)"/>
<ellipse cx="203.3" cy="14.6" rx="2.2" ry="1.9" fill="#787878" transform="rotate(0 203.3 14.6)"/>
<ellipse cx="106.3" cy="29.3" rx="1.8" ry="1.5" fill="#787878" transform="rotate(0 106.3 29.3)"/>
<ellipse cx="115.7" cy="106.9" rx="2.5" ry="2.1" fill="#787878" transform="rotate(0 115.7 106.9)"/>
<ellipse cx="121.3" cy="121.7" rx="1.3" ry="1.3" fill="#787878" transform="rotate(0 121.3 121.7)"/>
<ellipse cx="116.1" cy="16.6" rx="2.0" ry="2.2" fill="#787878" transform="rotate(0 116.1 16.6)"/>
<ellipse cx="91.5" cy="112.9" rx="1.5" ry="1.8" fill="#a5a5a5" transform="rotate(0 91.5 112.9)"/>
<ellipse cx="58.5" cy="92.6" rx="2.6" ry="2.5" fill="#646464" transform="rotate(0 58.5 92.6)"/>
<ellipse cx="133.9" cy="6.2" rx="1.8" ry="1.9" fill="#646464" transform="rotate(0 133.9 6.2)"/>
<ellipse cx="183.6" cy="82.1" rx="1.7" ry="1.7" fill="#acacac" transform="rotate(0 183.6 82.1)"/>
<ellipse cx="122.1" cy="64.7" rx="2.2" ry="2.4" fill="#acacac" transform="rotate(0 122.1 64.7)"/>
<ellipse cx="89.2" cy="28.5" rx="2.6" ry="2.2" fill="#787878" transform="rotate(0 89.2 28.5)"/>
<ellipse cx="88.2" cy="69.5" rx="3.0" ry="2.6" fill="#787878" transform="rotate(0 88.2 69.5)"/>
<ellipse cx="82.1" cy="17.3" rx="2.3" ry="2.0" fill="#646464" transform="rotate(0 82.1 17.3)"/>
<ellipse cx="139.3" cy="114.6" rx="1.3" ry="1.2" fill="#b6b6b6" transform="rotate(0 139.3 114.6)"/>
<ellipse cx="83.9" cy="55.8" rx="2.2" ry="2.7" fill="#707070" transform="rotate(0 83.9 55.8)"/>
<ellipse cx="178.6" cy="124.8" rx="2.3" ry="1.7" fill="#787878" transform="rotate(0 178.6 124.8)"/>
<ellipse cx="184.7" cy="43.6" rx="2.2" ry="1.8" fill="#646464" transform="rotate(0 184.7 43.6)"/>
<ellipse cx="110.8" cy="27.8" rx="2.9" ry="2.4" fill="#646464" transform="rotate(0 110.8 27.8)"/>
<ellipse cx="60.1" cy="90.2" rx="1.7" ry="1.4" fill="#787878" transform="rotate(0 60.1 90.2)"/>
<ellipse cx="203.6" cy="105.8" rx="2.2" ry="2.1" fill="#b6b6b6" transform="rotate(0 203.6 105.8)"/>
<ellipse cx="202.3" cy="95.0" rx="2.1" ry="1.9" fill="#646464" transform="rotate(0 202.3 95.0)"/>
<ellipse cx="77.0" cy="139.1" rx="2.7" ry="2.1" fill="#646464" transform="rotate(0 77.0 139.1)"/>
<ellipse cx="138.8" cy="56.5" rx="2.1" ry="1.6" fill="#646464" transform="rotate(0 138.8 56.5)"/>
<ellipse cx="174.5" cy="57.4" rx="2.3" ry="2.5" fill="#707070" transform="rotate(0 174.5 57.4)"/>
<ellipse cx="71.0" cy="114.5" rx="1.7" ry="1.6" fill="#787878" transform="rotate(0 71.0 114.5)"/>
<ellipse cx="96.1" cy="67.7" rx="1.9" ry="1.6" fill="#b6b6b6" transform="rotate(0 96.1 67.7)"/>
<ellipse cx="127.9" cy="93.5" rx="1.2" ry="1.1" fill="#787878" transform="rotate(0 127.9 93.5)"/>
<ellipse cx="134.7" cy="26.0" rx="1.3" ry="1.5" fill="#acacac" transform="rotate(0 134.7 26.0)"/>
<ellipse cx="139.9" cy="59.7" rx="2.9" ry="2.1" fill="#a5a5a5" transform="rotate(0 139.9 59.7)"/>
<ellipse cx="152.2" cy="29.2" rx="1.3" ry="1.6" fill="#707070" transform="rotate(0 152.2 29.2)"/>
<ellipse cx="105.9" cy="102.4" rx="1.8" ry="1.8" fill="#646464" transform="rotate(0 105.9 102.4)"/>
<ellipse cx="105.3" cy="42.8" rx="2.5" ry="1.9" fill="#b6b6b6" transform="rotate(0 105.3 42.8)"/>
<ellipse cx="125.6" cy="5.6" rx="3.1" ry="2.3" fill="#a5a5a5" transform="rotate(0 125.6 5.6)"/>
<ellipse cx="145.8" cy="92.7" rx="1.2" ry="1.3" fill="#a5a5a5" transform="rotate(0 145.8 92.7)"/>
<ellipse cx="163.5" cy="75.7" rx="2.9" ry="3.4" fill="#acacac" transform="rotate(0 163.5 75.7)"/>
<ellipse cx="67.2" cy="96.6" rx="2.5" ry="2.7" fill="#646464" transform="rotate(0 67.2 96.6)"/>
<ellipse cx="65.9" cy="108.2" rx="2.6" ry="2.8" fill="#646464" transform="rotate(0 65.9 108.2)"/>
<ellipse cx="181.9" cy="101.6" rx="1.3" ry="1.4" fill="#707070" transform="rotate(0 181.9 101.6)"/>
<ellipse cx="84.9" cy="121.3" rx="1.8" ry="1.3" fill="#a5a5a5" transform="rotate(0 84.9 121.3)"/>
<ellipse cx="204.8" cy="33.1" rx="3.0" ry="2.4" fill="#646464" transform="rotate(0 204.8 33.1)"/>
<ellipse cx="46.5" cy="48.0" rx="2.1" ry="2.2" fill="#787878" transform="rotate(0 46.5 48.0)"/>
<ellipse cx="133.1" cy="41.9" rx="1.9" ry="2.1" fill="#a5a5a5" transform="rotate(0 133.1 41.9)"/>
<ellipse cx="188.7" cy="109.1" rx="1.7" ry="1.3" fill="#acacac" transform="rotate(0 188.7 109.1)"/>
<ellipse cx="154.5" cy="120.6" rx="2.7" ry="2.9" fill="#acacac" transform="rotate(0 154.5 120.6)"/>
<ellipse cx="195.3" cy="81.8" rx="1.6" ry="1.5" fill="#b6b6b6" transform="rotate(0 195.3 81.8)"/>
<ellipse cx="33.0" cy="92.4" rx="2.6" ry="2.0" fill="#707070" transform="rotate(0 33.0 92.4)"/>
<ellipse cx="147.6" cy="81.4" rx="2.1" ry="2.0" fill="#787878" transform="rotate(0 147.6 81.4)"/>
<ellipse cx="137.7" cy="85.0" rx="1.6" ry="1.5" fill="#acacac" transform="rotate(0 137.7 85.0)"/>
<ellipse cx="110.1" cy="68.7" rx="1.6" ry="1.5" fill="#b6b6b6" transform="rotate(0 110.1 68.7)"/>
<ellipse cx="52.1" cy="55.5" rx="1.6" ry="1.5" fill="#646464" transform="rotate(0 52.1 55.5)"/>
<ellipse cx="150.2" cy="23.0" rx="2.8" ry="2.1" fill="#acacac" transform="rotate(0 150.2 23.0)"/>
<ellipse cx="122.5" cy="39.7" rx="2.2" ry="2.0" fill="#707070" transform="rotate(0 122.5 39.7)"/>
<ellipse cx="198.7" cy="136.5" rx="1.6" ry="1.7" fill="#a5a5a5" transform="rotate(0 198.7 136.5)"/>
<ellipse cx="190.6" cy="52.5" rx="1.6" ry="1.8" fill="#646464" transform="rotate(0 190.6 52.5)"/>
<ellipse cx="90.6" cy="126.1" rx="3.0" ry="3.3" fill="#b6b6b6" transform="rotate(0 90.6 126.1)"/>
<ellipse cx="205.7" cy="61.0" rx="1.9" ry="2.2" fill="#787878" transform="rotate(0 205.7 61.0)"/>
<ellipse cx="35.4" cy="50.1" rx="2.7" ry="3.2" fill="#acacac" transform="rotate(0 35.4 50.1)"/>
<ellipse cx="78.7" cy="36.5" rx="1.7" ry="2.0" fill="#b6b6b6" transform="rotate(0 78.7 36.5)"/>
<ellipse cx="41.1" cy="62.9" rx="1.8" ry="1.9" fill="#646464" transform="rotate(0 41.1 62.9)"/>
<ellipse cx="106.2" cy="15.3" rx="2.2" ry="1.9" fill="#646464" transform="rotate(0 106.2 15.3)"/>
<ellipse cx="156.3" cy="122.6" rx="2.0" ry="1.5" fill="#acacac" transform="rotate(0 156.3 122.6)"/>
<ellipse cx="107.6" cy="53.1" rx="2.3" ry="2.5" fill="#787878" transform="rotate(0 107.6 53.1)"/>
<ellipse cx="157.1" cy="132.6" rx="2.0" ry="2.1" fill="#b6b6b6" transform="rotate(0 157.1 132.6)"/>
<ellipse cx="53.6" cy="56.5" rx="1.9" ry="1.7" fill="#787878" transform="rotate(0 53.6 56.5)"/>
<ellipse cx="43.2" cy="61.9" rx="2.5" ry="3.0" fill="#707070" transform="rotate(0 43.2 61.9)"/>
<ellipse cx="200.7" cy="54.7" rx="2.0" ry="2.4" fill="#acacac" transform="rotate(0 200.7 54.7)"/>
<ellipse cx="186.7" cy="20.1" rx="1.8" ry="1.6" fill="#acacac" transform="rotate(0 186.7 20.1)"/>
<ellipse cx="86.6" cy="82.1" rx="1.6" ry="1.3" fill="#787878" transform="rotate(0 86.6 82.1)"/>
<ellipse cx="89.1" cy="84.7" rx="2.3" ry="1.8" fill="#646464" transform="rotate(0 89.1 84.7)"/>
<ellipse cx="110.8" cy="120.5" rx="3.0" ry="3.3" fill="#707070" transform="rotate(0 110.8 120.5)"/>
<ellipse cx="134.0" cy="131.9" rx="2.6" ry="2.5" fill="#a5a5a5" transform="rotate(0 134.0 131.9)"/>
<ellipse cx="189.7" cy="51.4" rx="1.3" ry="1.1" fill="#a5a5a5" transform="rotate(0 189.7 51.4)"/>
<ellipse cx="182.1" cy="135.7" rx="2.2" ry="2.4" fill="#787878" transform="rotate(0 182.1 135.7)"/>
<ellipse cx="196.3" cy="123.4" rx="1.6" ry="1.2" fill="#646464" transform="rotate(0 196.3 123.4)"/>
<ellipse cx="99.8" cy="103.1" rx="1.7" ry="1.4" fill="#a5a5a5" transform="rotate(0 99.8 103.1)"/>
<ellipse cx="172.9" cy="35.3" rx="1.9" ry="1.6" fill="#646464" transform="rotate(0 172.9 35.3)"/>
<ellipse cx="32.5" cy="46.1" rx="2.5" ry="2.6" fill="#646464" transform="rotate(0 32.5 46.1)"/>
<ellipse cx="201.2" cy="18.2" rx="1.8" ry="1.9" fill="#787878" transform="rotate(0 201.2 18.2)"/>
<ellipse cx="114.1" cy="93.3" rx="1.9" ry="2.2" fill="#646464" transform="rotate(0 114.1 93.3)"/>
<ellipse cx="182.1" cy="56.7" rx="1.5" ry="1.7" fill="#acacac" transform="rotate(0 182.1 56.7)"/>
<ellipse cx="150.5" cy="78.4" rx="2.6" ry="1.9" fill="#a5a5a5" transform="rotate(0 150.5 78.4)"/>
<ellipse cx="176.9" cy="5.2" rx="1.3" ry="1.4" fill="#acacac" transform="rotate(0 176.9 5.2)"/>
<ellipse cx="60.7" cy="97.7" rx="1.3" ry="1.3" fill="#707070" transform="rotate(0 60.7 97.7)"/>
<ellipse cx="135.5" cy="40.7" rx="3.2" ry="3.7" fill="#787878" transform="rotate(0 135.5 40.7)"/>
<ellipse cx="159.0" cy="37.1" rx="1.5" ry="1.2" fill="#646464" transform="rotate(0 159.0 37.1)"/>
<ellipse cx="166.6" cy="8.1" rx="1.6" ry="1.6" fill="#acacac" transform="rotate(0 166.6 8.1)"/>
<ellipse cx="108.9" cy="7.8" rx="1.4" ry="1.6" fill="#646464" transform="rotate(0 108.9 7.8)"/>
<ellipse cx="180.0" cy="47.5" rx="2.6" ry="2.2" fill="#787878" transform="rotate(0 180.0 47.5)"/>
<ellipse cx="142.0" cy="20.5" rx="2.0" ry="1.5" fill="#646464" transform="rotate(0 142.0 20.5)"/>
<ellipse cx="160.8" cy="107.3" rx="1.5" ry="1.6" fill="#a5a5a5" transform="rotate(0 160.8 107.3)"/>
<ellipse cx="174.2" cy="137.6" rx="1.3" ry="1.1" fill="#707070" transform="rotate(0 174.2 137.6)"/>
<ellipse cx="115.2" cy="84.7" rx="1.2" ry="1.2" fill="#acacac" transform="rotate(0 115.2 84.7)"/>
<ellipse cx="90.7" cy="71.9" rx="3.1" ry="3.5" fill="#787878" transform="rotate(0 90.7 71.9)"/>
<ellipse cx="90.5" cy="53.5" rx="1.6" ry="1.7" fill="#a5a5a5" transform="rotate(0 90.5 53.5)"/>
<ellipse cx="112.2" cy="51.5" rx="1.6" ry="1.9" fill="#646464" transform="rotate(0 112.2 51.5)"/>
<ellipse cx="78.3" cy="7.3" rx="3.1" ry="2.3" fill="#b6b6b6" transform="rotate(0 78.3 7.3)"/>
<ellipse cx="167.2" cy="62.9" rx="2.4" ry="2.0" fill="#707070" transform="rotate(0 167.2 62.9)"/>
<ellipse cx="122.8" cy="18.4" rx="1.4" ry="1.1" fill="#b6b6b6" transform="rotate(0 122.8 18.4)"/>
<ellipse cx="201.1" cy="47.8" rx="2.5" ry="1.9" fill="#787878" transform="rotate(0 201.1 47.8)"/>
<ellipse cx="40.2" cy="71.9" rx="2.5" ry="2.3" fill="#a5a5a5" transform="rotate(0 40.2 71.9)"/>
<ellipse cx="135.2" cy="131.4" rx="2.6" ry="2.4" fill="#acacac" transform="rotate(0 135.2 131.4)"/>
<ellipse cx="144.5" cy="110.2" rx="2.3" ry="2.5" fill="#a5a5a5" transform="rotate(0 144.5 110.2)"/>
<ellipse cx="120.1" cy="67.8" rx="1.6" ry="1.6" fill="#787878" transform="rotate(0 120.1 67.8)"/>
<ellipse cx="198.4" cy="9.7" rx="3.1" ry="3.5" fill="#707070" transform="rotate(0 198.4 9.7)"/>
<ellipse cx="146.2" cy="25.3" rx="3.0" ry="3.2" fill="#707070" transform="rotate(0 146.2 25.3)"/>
<ellipse cx="126.0" cy="5.3" rx="3.1" ry="2.5" fill="#707070" transform="rotate(0 126.0 5.3)"/>
<ellipse cx="180.3" cy="62.6" rx="2.0" ry="2.2" fill="#a5a5a5" transform="rotate(0 180.3 62.6)"/>
<ellipse cx="67.9" cy="11.3" rx="2.6" ry="3.0" fill="#787878" transform="rotate(0 67.9 11.3)"/>
<ellipse cx="50.3" cy="50.1" rx="2.1" ry="1.5" fill="#787878" transform="rotate(0 50.3 50.1)"/>
<ellipse cx="178.0" cy="136.5" rx="3.0" ry="3.4" fill="#acacac" transform="rotate(0 178.0 136.5)"/>
<ellipse cx="45.1" cy="59.3" rx="1.8" ry="1.9" fill="#acacac" transform="rotate(0 45.1 59.3)"/>
<ellipse cx="205.9" cy="17.0" rx="3.0" ry="2.7" fill="#707070" transform="rotate(0 205.9 17.0)"/>
<ellipse cx="190.8" cy="30.4" rx="1.8" ry="2.0" fill="#b6b6b6" transform="rotate(0 190.8 30.4)"/>
<ellipse cx="176.8" cy="51.7" rx="2.9" ry="2.7" fill="#787878" transform="rotate(0 176.8 51.7)"/>
<ellipse cx="128.8" cy="52.6" rx="3.2" ry="3.8" fill="#a5a5a5" transform="rotate(0 128.8 52.6)"/>
<ellipse cx="153.4" cy="34.9" rx="3.1" ry="2.7" fill="#707070" transform="rotate(0 153.4 34.9)"/>
<ellipse cx="196.0" cy="61.8" rx="3.2" ry="3.2" fill="#707070" transform="rotate(0 196.0 61.8)"/>
<ellipse cx="194.4" cy="42.0" rx="1.3" ry="1.3" fill="#a5a5a5" transform="rotate(0 194.4 42.0)"/>
<ellipse cx="133.7" cy="124.1" rx="1.2" ry="1.2" fill="#707070" transform="rotate(0 133.7 124.1)"/>
<ellipse cx="112.9" cy="75.7" rx="2.1" ry="2.3" fill="#b6b6b6" transform="rotate(0 112.9 75.7)"/>
<ellipse cx="75.1" cy="137.3" rx="2.7" ry="2.6" fill="#707070" transform="rotate(0 75.1 137.3)"/>
<ellipse cx="148.5" cy="87.0" rx="2.8" ry="2.8" fill="#787878" transform="rotate(0 148.5 87.0)"/>
<ellipse cx="111.7" cy="138.2" rx="2.5" ry="1.9" fill="#a5a5a5" transform="rotate(0 111.7 138.2)"/>
<ellipse cx="91.5" cy="62.3" rx="3.0" ry="2.8" fill="#b6b6b6" transform="rotate(0 91.5 62.3)"/>
</g>
<g filter="url(#blur1)" opacity="0.6" fill="none">
<path d="M17.6,23.6 Q31.2,21.6 44.8,33.6" stroke="#787878" stroke-width="2.5"/>
<path d="M170.1,26.3 L193.7,13.6" stroke="#a0a0a0" stroke-width="3"/>
</g>
</svg>
<svg x="781.3" y="10.0" width="213.5" height="144.0" viewBox="0 0 213.5 144.0" overflow="hidden">
<rect x="-5" y="-5" width="223.5" height="154.0" fill="#030303"/>
<filter id="cloud1" x="-10%" y="-10%" width="120%" height="120%" color-interpolation-filters="sRGB"><feGaussianBlur in="SourceGraphic" stdDeviation="2.0" result="b"/><feTurbulence type="fractalNoise" baseFrequency="0.10" numOctaves="4" seed="8" result="n"/><feDisplacementMap in="b" in2="n" scale="10" xChannelSelector="R" yChannelSelector="G" result="d"/><feColorMatrix in="n" type="matrix" values="0 0 0 1.5 -0.25  0 0 0 1.5 -0.25  0 0 0 1.5 -0.25  0 0 0 0 1" result="n2"/><feComposite in="d" in2="n2" operator="arithmetic" k1="0.8" k2="0.52" k3="0" k4="0"/></filter>
<g filter="url(#cloud1)">
<rect x="-5" y="-5" width="223.5" height="154.0" fill="#030303"/>
<ellipse cx="61.4" cy="10.0" rx="14.5" ry="12.7" fill="#303030" transform="rotate(0 61.4 10.0)"/>
<ellipse cx="57.7" cy="35.4" rx="23.6" ry="20.0" fill="#424242" transform="rotate(0 57.7 35.4)"/>
<ellipse cx="59.5" cy="62.6" rx="18.2" ry="16.3" fill="#4e4e4e" transform="rotate(0 59.5 62.6)"/>
<ellipse cx="43.2" cy="44.5" rx="10.9" ry="14.5" fill="#323232" transform="rotate(0 43.2 44.5)"/>
<ellipse cx="163.0" cy="13.6" rx="14.5" ry="10.9" fill="#878787" transform="rotate(0 163.0 13.6)"/>
<ellipse cx="181.2" cy="37.2" rx="27.2" ry="29.0" fill="#7e7e7e" transform="rotate(0 181.2 37.2)"/>
<ellipse cx="170.3" cy="62.6" rx="21.8" ry="16.3" fill="#6e6e6e" transform="rotate(0 170.3 62.6)"/>
<ellipse cx="193.9" cy="49.9" rx="12.7" ry="21.8" fill="#646464" transform="rotate(0 193.9 49.9)"/>
<ellipse cx="152.1" cy="30.0" rx="16.3" ry="16.3" fill="#767676" transform="rotate(0 152.1 30.0)"/>
<ellipse cx="108.6" cy="31.8" rx="32.7" ry="21.8" fill="#7a7a7a" transform="rotate(0 108.6 31.8)"/>
<ellipse cx="97.7" cy="20.9" rx="16.3" ry="9.1" fill="#878787" transform="rotate(0 97.7 20.9)"/>
<ellipse cx="126.7" cy="22.7" rx="12.7" ry="10.9" fill="#6e6e6e" transform="rotate(0 126.7 22.7)"/>
<ellipse cx="115.8" cy="48.1" rx="20.0" ry="12.7" fill="#878787" transform="rotate(0 115.8 48.1)"/>
<ellipse cx="93.1" cy="69.9" rx="19.1" ry="12.7" fill="#3a3a3a" transform="rotate(0 93.1 69.9)"/>
<ellipse cx="79.5" cy="49.9" rx="7.3" ry="14.5" fill="#505050" transform="rotate(0 79.5 49.9)"/>
<ellipse cx="128.5" cy="62.6" rx="10.0" ry="21.8" fill="#a5a5a5" transform="rotate(10 128.5 62.6)"/>
<ellipse cx="126.7" cy="49.9" rx="8.2" ry="8.2" fill="#b9b9b9" transform="rotate(0 126.7 49.9)"/>
<ellipse cx="19.6" cy="91.7" rx="20.0" ry="18.2" fill="#767676" transform="rotate(0 19.6 91.7)"/>
<ellipse cx="10.5" cy="106.2" rx="10.9" ry="10.9" fill="#646464" transform="rotate(0 10.5 106.2)"/>
<ellipse cx="8.7" cy="131.6" rx="10.9" ry="12.7" fill="#878787" transform="rotate(0 8.7 131.6)"/>
<ellipse cx="190.3" cy="91.7" rx="25.4" ry="27.2" fill="#343434" transform="rotate(0 190.3 91.7)"/>
<ellipse cx="206.6" cy="77.2" rx="8.2" ry="18.2" fill="#646464" transform="rotate(0 206.6 77.2)"/>
<ellipse cx="170.3" cy="84.4" rx="10.9" ry="10.9" fill="#282828" transform="rotate(0 170.3 84.4)"/>
<ellipse cx="161.2" cy="124.4" rx="21.8" ry="21.8" fill="#050505" transform="rotate(0 161.2 124.4)"/>
<ellipse cx="148.5" cy="91.7" rx="10.9" ry="10.0" fill="#080808" transform="rotate(0 148.5 91.7)"/>
<ellipse cx="192.1" cy="131.6" rx="18.2" ry="12.7" fill="#0c0c0c" transform="rotate(0 192.1 131.6)"/>
<ellipse cx="90.4" cy="109.8" rx="54.5" ry="23.6" fill="#dadada" transform="rotate(0 90.4 109.8)"/>
<ellipse cx="72.3" cy="128.0" rx="38.1" ry="18.2" fill="#e8e8e8" transform="rotate(0 72.3 128.0)"/>
<ellipse cx="119.5" cy="108.0" rx="23.6" ry="16.3" fill="#d4d4d4" transform="rotate(0 119.5 108.0)"/>
<ellipse cx="39.6" cy="117.1" rx="20.0" ry="23.6" fill="#c6c6c6" transform="rotate(0 39.6 117.1)"/>
<ellipse cx="65.0" cy="91.7" rx="21.8" ry="10.9" fill="#e2e2e2" transform="rotate(0 65.0 91.7)"/>
<ellipse cx="134.0" cy="129.8" rx="12.7" ry="12.7" fill="#a5a5a5" transform="rotate(0 134.0 129.8)"/>
<ellipse cx="209.3" cy="135.3" rx="6.4" ry="9.1" fill="#d7d7d7" transform="rotate(0 209.3 135.3)"/>
<ellipse cx="16.0" cy="31.8" rx="21.8" ry="34.5" fill="#030303" transform="rotate(0 16.0 31.8)"/>
<ellipse cx="193.9" cy="5.4" rx="23.6" ry="7.3" fill="#030303" transform="rotate(0 193.9 5.4)"/>
<ellipse cx="211.1" cy="35.4" rx="3.6" ry="21.8" fill="#080808" transform="rotate(0 211.1 35.4)"/>
<ellipse cx="106.8" cy="2.7" rx="16.3" ry="4.5" fill="#0a0a0a" transform="rotate(0 106.8 2.7)"/>
<ellipse cx="3.3" cy="115.3" rx="4.5" ry="7.3" fill="#0a0a0a" transform="rotate(0 3.3 115.3)"/>
</g>
<g filter="url(#blur1)" opacity="0.3">
<ellipse cx="33.9" cy="123.4" rx="3.1" ry="2.9" fill="#ebebeb" transform="rotate(0 33.9 123.4)"/>
<ellipse cx="146.9" cy="92.1" rx="2.8" ry="3.1" fill="#8c8c8c" transform="rotate(0 146.9 92.1)"/>
<ellipse cx="63.1" cy="116.9" rx="1.7" ry="1.8" fill="#ebebeb" transform="rotate(0 63.1 116.9)"/>
<ellipse cx="72.4" cy="142.2" rx="3.4" ry="3.1" fill="#f5f5f5" transform="rotate(0 72.4 142.2)"/>
<ellipse cx="15.4" cy="101.1" rx="2.7" ry="2.1" fill="#e1e1e1" transform="rotate(0 15.4 101.1)"/>
<ellipse cx="13.8" cy="126.5" rx="1.7" ry="1.9" fill="#8c8c8c" transform="rotate(0 13.8 126.5)"/>
<ellipse cx="74.7" cy="114.9" rx="2.4" ry="2.2" fill="#ebebeb" transform="rotate(0 74.7 114.9)"/>
<ellipse cx="104.7" cy="109.8" rx="3.6" ry="2.6" fill="#ebebeb" transform="rotate(0 104.7 109.8)"/>
<ellipse cx="40.1" cy="140.6" rx="3.7" ry="4.0" fill="#a5a5a5" transform="rotate(0 40.1 140.6)"/>
<ellipse cx="150.6" cy="85.2" rx="2.9" ry="2.8" fill="#f5f5f5" transform="rotate(0 150.6 85.2)"/>
<ellipse cx="39.0" cy="137.8" rx="3.7" ry="3.4" fill="#e1e1e1" transform="rotate(0 39.0 137.8)"/>
<ellipse cx="55.6" cy="110.7" rx="2.2" ry="2.4" fill="#ebebeb" transform="rotate(0 55.6 110.7)"/>
<ellipse cx="112.2" cy="142.1" rx="2.7" ry="2.6" fill="#a5a5a5" transform="rotate(0 112.2 142.1)"/>
<ellipse cx="95.4" cy="113.0" rx="2.9" ry="2.5" fill="#a5a5a5" transform="rotate(0 95.4 113.0)"/>
<ellipse cx="26.5" cy="122.1" rx="3.1" ry="3.4" fill="#e1e1e1" transform="rotate(0 26.5 122.1)"/>
<ellipse cx="59.6" cy="117.7" rx="2.3" ry="1.7" fill="#8c8c8c" transform="rotate(0 59.6 117.7)"/>
<ellipse cx="141.3" cy="91.5" rx="2.6" ry="2.0" fill="#8c8c8c" transform="rotate(0 141.3 91.5)"/>
<ellipse cx="106.2" cy="136.3" rx="3.9" ry="3.5" fill="#ebebeb" transform="rotate(0 106.2 136.3)"/>
<ellipse cx="63.7" cy="96.1" rx="3.7" ry="2.9" fill="#8c8c8c" transform="rotate(0 63.7 96.1)"/>
<ellipse cx="72.7" cy="105.9" rx="3.4" ry="2.4" fill="#e1e1e1" transform="rotate(0 72.7 105.9)"/>
<ellipse cx="17.9" cy="96.7" rx="2.2" ry="2.0" fill="#ebebeb" transform="rotate(0 17.9 96.7)"/>
<ellipse cx="66.4" cy="134.5" rx="3.1" ry="2.4" fill="#ebebeb" transform="rotate(0 66.4 134.5)"/>
<ellipse cx="116.2" cy="110.4" rx="2.1" ry="2.5" fill="#a5a5a5" transform="rotate(0 116.2 110.4)"/>
<ellipse cx="62.3" cy="90.3" rx="2.4" ry="2.6" fill="#f5f5f5" transform="rotate(0 62.3 90.3)"/>
<ellipse cx="92.8" cy="133.2" rx="2.3" ry="2.2" fill="#e1e1e1" transform="rotate(0 92.8 133.2)"/>
<ellipse cx="30.3" cy="125.3" rx="2.5" ry="1.9" fill="#fafafa" transform="rotate(0 30.3 125.3)"/>
<ellipse cx="13.9" cy="117.4" rx="3.1" ry="3.5" fill="#a5a5a5" transform="rotate(0 13.9 117.4)"/>
<ellipse cx="70.2" cy="123.0" rx="3.4" ry="3.7" fill="#ebebeb" transform="rotate(0 70.2 123.0)"/>
<ellipse cx="29.4" cy="86.6" rx="1.7" ry="1.2" fill="#f5f5f5" transform="rotate(0 29.4 86.6)"/>
<ellipse cx="121.9" cy="85.2" rx="1.8" ry="1.5" fill="#e1e1e1" transform="rotate(0 121.9 85.2)"/>
<ellipse cx="86.8" cy="100.8" rx="2.7" ry="2.2" fill="#ebebeb" transform="rotate(0 86.8 100.8)"/>
<ellipse cx="36.2" cy="133.7" rx="2.0" ry="2.1" fill="#8c8c8c" transform="rotate(0 36.2 133.7)"/>
<ellipse cx="96.0" cy="112.0" rx="3.4" ry="2.5" fill="#8c8c8c" transform="rotate(0 96.0 112.0)"/>
<ellipse cx="65.4" cy="134.2" rx="2.5" ry="2.5" fill="#fafafa" transform="rotate(0 65.4 134.2)"/>
<ellipse cx="43.6" cy="140.3" rx="3.0" ry="3.2" fill="#ebebeb" transform="rotate(0 43.6 140.3)"/>
<ellipse cx="65.6" cy="99.9" rx="3.8" ry="3.2" fill="#a5a5a5" transform="rotate(0 65.6 99.9)"/>
<ellipse cx="124.3" cy="111.0" rx="2.9" ry="2.9" fill="#8c8c8c" transform="rotate(0 124.3 111.0)"/>
<ellipse cx="82.5" cy="126.1" rx="3.9" ry="3.4" fill="#fafafa" transform="rotate(0 82.5 126.1)"/>
<ellipse cx="99.0" cy="127.6" rx="2.0" ry="2.0" fill="#e1e1e1" transform="rotate(0 99.0 127.6)"/>
<ellipse cx="148.9" cy="102.7" rx="2.3" ry="2.7" fill="#8c8c8c" transform="rotate(0 148.9 102.7)"/>
<ellipse cx="133.4" cy="121.0" rx="3.1" ry="3.4" fill="#f5f5f5" transform="rotate(0 133.4 121.0)"/>
<ellipse cx="82.1" cy="139.3" rx="3.2" ry="3.4" fill="#f5f5f5" transform="rotate(0 82.1 139.3)"/>
<ellipse cx="83.8" cy="104.8" rx="2.5" ry="2.0" fill="#8c8c8c" transform="rotate(0 83.8 104.8)"/>
<ellipse cx="104.2" cy="83.4" rx="2.2" ry="2.2" fill="#f5f5f5" transform="rotate(0 104.2 83.4)"/>
<ellipse cx="113.0" cy="108.9" rx="2.1" ry="1.9" fill="#f5f5f5" transform="rotate(0 113.0 108.9)"/>
<ellipse cx="42.8" cy="137.3" rx="3.1" ry="2.3" fill="#ebebeb" transform="rotate(0 42.8 137.3)"/>
<ellipse cx="80.2" cy="125.1" rx="3.7" ry="4.1" fill="#fafafa" transform="rotate(0 80.2 125.1)"/>
<ellipse cx="100.1" cy="119.0" rx="3.3" ry="3.3" fill="#fafafa" transform="rotate(0 100.1 119.0)"/>
<ellipse cx="47.7" cy="110.5" rx="2.7" ry="2.3" fill="#f5f5f5" transform="rotate(0 47.7 110.5)"/>
<ellipse cx="127.3" cy="140.3" rx="4.0" ry="2.8" fill="#e1e1e1" transform="rotate(0 127.3 140.3)"/>
<ellipse cx="39.1" cy="134.8" rx="3.3" ry="2.5" fill="#ebebeb" transform="rotate(0 39.1 134.8)"/>
<ellipse cx="21.8" cy="99.5" rx="3.9" ry="4.1" fill="#f5f5f5" transform="rotate(0 21.8 99.5)"/>
<ellipse cx="34.1" cy="107.5" rx="3.2" ry="2.8" fill="#a5a5a5" transform="rotate(0 34.1 107.5)"/>
<ellipse cx="107.1" cy="96.9" rx="3.9" ry="3.3" fill="#e1e1e1" transform="rotate(0 107.1 96.9)"/>
<ellipse cx="44.3" cy="123.3" rx="3.3" ry="2.6" fill="#f5f5f5" transform="rotate(0 44.3 123.3)"/>
<ellipse cx="76.7" cy="107.8" rx="3.0" ry="2.6" fill="#ebebeb" transform="rotate(0 76.7 107.8)"/>
<ellipse cx="105.1" cy="119.2" rx="1.7" ry="2.1" fill="#ebebeb" transform="rotate(0 105.1 119.2)"/>
<ellipse cx="15.4" cy="130.8" rx="3.8" ry="4.0" fill="#8c8c8c" transform="rotate(0 15.4 130.8)"/>
<ellipse cx="21.1" cy="116.6" rx="2.5" ry="2.3" fill="#f5f5f5" transform="rotate(0 21.1 116.6)"/>
<ellipse cx="44.5" cy="81.3" rx="2.9" ry="2.1" fill="#e1e1e1" transform="rotate(0 44.5 81.3)"/>
<ellipse cx="37.5" cy="103.7" rx="1.5" ry="1.2" fill="#a5a5a5" transform="rotate(0 37.5 103.7)"/>
<ellipse cx="122.6" cy="131.6" rx="2.8" ry="2.0" fill="#ebebeb" transform="rotate(0 122.6 131.6)"/>
<ellipse cx="69.6" cy="135.3" rx="2.1" ry="2.1" fill="#a5a5a5" transform="rotate(0 69.6 135.3)"/>
<ellipse cx="13.0" cy="116.7" rx="1.7" ry="2.0" fill="#fafafa" transform="rotate(0 13.0 116.7)"/>
<ellipse cx="32.1" cy="111.5" rx="2.8" ry="2.7" fill="#f5f5f5" transform="rotate(0 32.1 111.5)"/>
<ellipse cx="77.2" cy="130.2" rx="2.3" ry="2.0" fill="#e1e1e1" transform="rotate(0 77.2 130.2)"/>
<ellipse cx="51.3" cy="120.3" rx="1.5" ry="1.7" fill="#fafafa" transform="rotate(0 51.3 120.3)"/>
<ellipse cx="20.1" cy="112.4" rx="3.2" ry="2.5" fill="#e1e1e1" transform="rotate(0 20.1 112.4)"/>
<ellipse cx="60.4" cy="90.8" rx="3.0" ry="2.5" fill="#fafafa" transform="rotate(0 60.4 90.8)"/>
<ellipse cx="67.1" cy="82.8" rx="2.1" ry="1.8" fill="#e1e1e1" transform="rotate(0 67.1 82.8)"/>
<ellipse cx="68.4" cy="123.4" rx="3.3" ry="3.2" fill="#8c8c8c" transform="rotate(0 68.4 123.4)"/>
<ellipse cx="56.5" cy="94.3" rx="2.8" ry="2.9" fill="#a5a5a5" transform="rotate(0 56.5 94.3)"/>
<ellipse cx="85.9" cy="119.6" rx="1.9" ry="2.0" fill="#f5f5f5" transform="rotate(0 85.9 119.6)"/>
<ellipse cx="78.3" cy="134.1" rx="2.6" ry="1.8" fill="#e1e1e1" transform="rotate(0 78.3 134.1)"/>
<ellipse cx="106.8" cy="94.2" rx="3.4" ry="4.0" fill="#a5a5a5" transform="rotate(0 106.8 94.2)"/>
<ellipse cx="96.0" cy="87.7" rx="2.3" ry="1.8" fill="#f5f5f5" transform="rotate(0 96.0 87.7)"/>
<ellipse cx="12.1" cy="102.5" rx="3.0" ry="3.0" fill="#f5f5f5" transform="rotate(0 12.1 102.5)"/>
<ellipse cx="102.1" cy="90.8" rx="3.8" ry="3.7" fill="#f5f5f5" transform="rotate(0 102.1 90.8)"/>
<ellipse cx="39.8" cy="142.4" rx="2.9" ry="3.1" fill="#fafafa" transform="rotate(0 39.8 142.4)"/>
<ellipse cx="119.2" cy="139.7" rx="3.8" ry="3.1" fill="#a5a5a5" transform="rotate(0 119.2 139.7)"/>
<ellipse cx="35.8" cy="114.1" rx="3.5" ry="3.1" fill="#ebebeb" transform="rotate(0 35.8 114.1)"/>
<ellipse cx="115.6" cy="93.9" rx="2.8" ry="2.5" fill="#a5a5a5" transform="rotate(0 115.6 93.9)"/>
<ellipse cx="52.5" cy="90.7" rx="3.2" ry="3.2" fill="#f5f5f5" transform="rotate(0 52.5 90.7)"/>
<ellipse cx="119.7" cy="127.2" rx="3.1" ry="2.6" fill="#f5f5f5" transform="rotate(0 119.7 127.2)"/>
<ellipse cx="127.7" cy="94.5" rx="2.7" ry="1.9" fill="#f5f5f5" transform="rotate(0 127.7 94.5)"/>
<ellipse cx="39.7" cy="129.5" rx="2.3" ry="2.2" fill="#e1e1e1" transform="rotate(0 39.7 129.5)"/>
<ellipse cx="114.8" cy="125.9" rx="4.0" ry="3.5" fill="#f5f5f5" transform="rotate(0 114.8 125.9)"/>
<ellipse cx="15.2" cy="128.8" rx="3.7" ry="3.1" fill="#f5f5f5" transform="rotate(0 15.2 128.8)"/>
<ellipse cx="38.4" cy="94.8" rx="3.3" ry="3.7" fill="#f5f5f5" transform="rotate(0 38.4 94.8)"/>
<ellipse cx="105.8" cy="82.5" rx="3.8" ry="2.9" fill="#e1e1e1" transform="rotate(0 105.8 82.5)"/>
<ellipse cx="75.9" cy="104.8" rx="3.1" ry="3.1" fill="#fafafa" transform="rotate(0 75.9 104.8)"/>
<ellipse cx="20.5" cy="96.6" rx="1.8" ry="1.8" fill="#fafafa" transform="rotate(0 20.5 96.6)"/>
<ellipse cx="121.3" cy="129.7" rx="3.8" ry="3.1" fill="#e1e1e1" transform="rotate(0 121.3 129.7)"/>
<ellipse cx="136.6" cy="85.6" rx="2.3" ry="2.3" fill="#ebebeb" transform="rotate(0 136.6 85.6)"/>
<ellipse cx="117.0" cy="138.5" rx="1.8" ry="1.8" fill="#fafafa" transform="rotate(0 117.0 138.5)"/>
<ellipse cx="41.4" cy="93.6" rx="2.7" ry="2.9" fill="#ebebeb" transform="rotate(0 41.4 93.6)"/>
<ellipse cx="15.1" cy="136.4" rx="3.8" ry="3.7" fill="#8c8c8c" transform="rotate(0 15.1 136.4)"/>
<ellipse cx="37.9" cy="89.5" rx="1.6" ry="1.7" fill="#f5f5f5" transform="rotate(0 37.9 89.5)"/>
<ellipse cx="19.1" cy="127.5" rx="3.0" ry="2.9" fill="#fafafa" transform="rotate(0 19.1 127.5)"/>
<ellipse cx="43.5" cy="124.3" rx="2.7" ry="2.6" fill="#a5a5a5" transform="rotate(0 43.5 124.3)"/>
<ellipse cx="63.5" cy="120.1" rx="3.1" ry="2.7" fill="#e1e1e1" transform="rotate(0 63.5 120.1)"/>
<ellipse cx="67.4" cy="108.2" rx="3.1" ry="3.3" fill="#a5a5a5" transform="rotate(0 67.4 108.2)"/>
<ellipse cx="42.2" cy="129.5" rx="1.5" ry="1.6" fill="#f5f5f5" transform="rotate(0 42.2 129.5)"/>
<ellipse cx="130.0" cy="128.6" rx="3.8" ry="4.0" fill="#e1e1e1" transform="rotate(0 130.0 128.6)"/>
<ellipse cx="79.9" cy="91.0" rx="3.5" ry="3.0" fill="#e1e1e1" transform="rotate(0 79.9 91.0)"/>
<ellipse cx="52.9" cy="140.3" rx="2.6" ry="2.1" fill="#8c8c8c" transform="rotate(0 52.9 140.3)"/>
<ellipse cx="98.9" cy="133.1" rx="2.1" ry="1.6" fill="#a5a5a5" transform="rotate(0 98.9 133.1)"/>
<ellipse cx="101.6" cy="119.6" rx="1.8" ry="1.4" fill="#fafafa" transform="rotate(0 101.6 119.6)"/>
<ellipse cx="109.6" cy="114.0" rx="1.7" ry="1.4" fill="#a5a5a5" transform="rotate(0 109.6 114.0)"/>
<ellipse cx="91.0" cy="95.9" rx="2.6" ry="2.8" fill="#a5a5a5" transform="rotate(0 91.0 95.9)"/>
<ellipse cx="109.4" cy="130.9" rx="2.5" ry="2.9" fill="#fafafa" transform="rotate(0 109.4 130.9)"/>
<ellipse cx="61.2" cy="129.2" rx="1.6" ry="1.5" fill="#f5f5f5" transform="rotate(0 61.2 129.2)"/>
<ellipse cx="119.8" cy="116.6" rx="2.0" ry="2.3" fill="#8c8c8c" transform="rotate(0 119.8 116.6)"/>
<ellipse cx="120.8" cy="96.7" rx="2.7" ry="2.2" fill="#ebebeb" transform="rotate(0 120.8 96.7)"/>
<ellipse cx="51.5" cy="103.7" rx="2.7" ry="2.3" fill="#e1e1e1" transform="rotate(0 51.5 103.7)"/>
<ellipse cx="18.1" cy="98.5" rx="1.7" ry="1.5" fill="#ebebeb" transform="rotate(0 18.1 98.5)"/>
<ellipse cx="117.2" cy="90.0" rx="2.3" ry="1.7" fill="#fafafa" transform="rotate(0 117.2 90.0)"/>
<ellipse cx="106.4" cy="136.8" rx="1.6" ry="1.7" fill="#f5f5f5" transform="rotate(0 106.4 136.8)"/>
<ellipse cx="83.1" cy="87.4" rx="3.9" ry="3.2" fill="#e1e1e1" transform="rotate(0 83.1 87.4)"/>
<ellipse cx="113.3" cy="83.7" rx="3.1" ry="3.1" fill="#f5f5f5" transform="rotate(0 113.3 83.7)"/>
<ellipse cx="36.9" cy="137.2" rx="2.6" ry="2.1" fill="#8c8c8c" transform="rotate(0 36.9 137.2)"/>
<ellipse cx="41.4" cy="91.0" rx="3.9" ry="2.8" fill="#ebebeb" transform="rotate(0 41.4 91.0)"/>
<ellipse cx="130.9" cy="140.3" rx="2.1" ry="1.9" fill="#f5f5f5" transform="rotate(0 130.9 140.3)"/>
<ellipse cx="37.4" cy="124.1" rx="3.7" ry="3.0" fill="#e1e1e1" transform="rotate(0 37.4 124.1)"/>
<ellipse cx="78.5" cy="101.1" rx="3.7" ry="4.2" fill="#ebebeb" transform="rotate(0 78.5 101.1)"/>
<ellipse cx="51.3" cy="127.1" rx="3.2" ry="3.5" fill="#8c8c8c" transform="rotate(0 51.3 127.1)"/>
<ellipse cx="135.0" cy="96.0" rx="4.0" ry="3.4" fill="#f5f5f5" transform="rotate(0 135.0 96.0)"/>
<ellipse cx="126.8" cy="129.1" rx="3.3" ry="2.4" fill="#a5a5a5" transform="rotate(0 126.8 129.1)"/>
<ellipse cx="49.2" cy="97.3" rx="3.5" ry="3.5" fill="#fafafa" transform="rotate(0 49.2 97.3)"/>
<ellipse cx="43.2" cy="88.3" rx="1.6" ry="1.3" fill="#f5f5f5" transform="rotate(0 43.2 88.3)"/>
<ellipse cx="109.9" cy="112.5" rx="3.9" ry="4.0" fill="#f5f5f5" transform="rotate(0 109.9 112.5)"/>
<ellipse cx="64.5" cy="138.1" rx="3.4" ry="3.3" fill="#8c8c8c" transform="rotate(0 64.5 138.1)"/>
<ellipse cx="29.9" cy="81.0" rx="1.7" ry="1.6" fill="#f5f5f5" transform="rotate(0 29.9 81.0)"/>
<ellipse cx="17.4" cy="120.1" rx="1.8" ry="1.7" fill="#e1e1e1" transform="rotate(0 17.4 120.1)"/>
<ellipse cx="103.0" cy="134.6" rx="2.2" ry="2.4" fill="#fafafa" transform="rotate(0 103.0 134.6)"/>
<ellipse cx="89.0" cy="98.0" rx="1.5" ry="1.4" fill="#e1e1e1" transform="rotate(0 89.0 98.0)"/>
<ellipse cx="76.1" cy="136.8" rx="3.7" ry="3.1" fill="#e1e1e1" transform="rotate(0 76.1 136.8)"/>
<ellipse cx="29.7" cy="102.1" rx="3.8" ry="3.4" fill="#fafafa" transform="rotate(0 29.7 102.1)"/>
<ellipse cx="33.3" cy="86.4" rx="3.5" ry="2.7" fill="#e1e1e1" transform="rotate(0 33.3 86.4)"/>
<ellipse cx="16.7" cy="129.5" rx="3.2" ry="3.1" fill="#8c8c8c" transform="rotate(0 16.7 129.5)"/>
<ellipse cx="124.3" cy="91.5" rx="2.9" ry="2.9" fill="#ebebeb" transform="rotate(0 124.3 91.5)"/>
<ellipse cx="130.5" cy="119.2" rx="1.9" ry="2.1" fill="#8c8c8c" transform="rotate(0 130.5 119.2)"/>
<ellipse cx="35.1" cy="126.0" rx="2.5" ry="2.2" fill="#fafafa" transform="rotate(0 35.1 126.0)"/>
<ellipse cx="66.6" cy="129.7" rx="3.6" ry="3.9" fill="#fafafa" transform="rotate(0 66.6 129.7)"/>
<ellipse cx="16.3" cy="99.3" rx="2.1" ry="2.3" fill="#ebebeb" transform="rotate(0 16.3 99.3)"/>
<ellipse cx="151.6" cy="86.0" rx="3.9" ry="4.5" fill="#f5f5f5" transform="rotate(0 151.6 86.0)"/>
<ellipse cx="111.3" cy="138.4" rx="2.0" ry="2.1" fill="#f5f5f5" transform="rotate(0 111.3 138.4)"/>
<ellipse cx="139.6" cy="86.0" rx="3.3" ry="3.1" fill="#ebebeb" transform="rotate(0 139.6 86.0)"/>
<ellipse cx="126.2" cy="136.9" rx="3.0" ry="2.1" fill="#8c8c8c" transform="rotate(0 126.2 136.9)"/>
<ellipse cx="112.7" cy="80.9" rx="3.7" ry="4.2" fill="#f5f5f5" transform="rotate(0 112.7 80.9)"/>
<ellipse cx="23.3" cy="105.9" rx="4.0" ry="4.5" fill="#f5f5f5" transform="rotate(0 23.3 105.9)"/>
<ellipse cx="79.7" cy="97.2" rx="2.9" ry="3.0" fill="#ebebeb" transform="rotate(0 79.7 97.2)"/>
<ellipse cx="53.3" cy="138.0" rx="1.9" ry="2.2" fill="#fafafa" transform="rotate(0 53.3 138.0)"/>
<ellipse cx="54.9" cy="96.9" rx="2.4" ry="2.3" fill="#8c8c8c" transform="rotate(0 54.9 96.9)"/>
<ellipse cx="62.7" cy="112.3" rx="3.8" ry="3.9" fill="#ebebeb" transform="rotate(0 62.7 112.3)"/>
<ellipse cx="75.7" cy="110.0" rx="2.8" ry="2.3" fill="#a5a5a5" transform="rotate(0 75.7 110.0)"/>
<ellipse cx="77.5" cy="128.4" rx="3.2" ry="2.8" fill="#a5a5a5" transform="rotate(0 77.5 128.4)"/>
<ellipse cx="94.0" cy="110.6" rx="2.6" ry="2.1" fill="#e1e1e1" transform="rotate(0 94.0 110.6)"/>
<ellipse cx="39.4" cy="91.9" rx="2.9" ry="3.4" fill="#ebebeb" transform="rotate(0 39.4 91.9)"/>
<ellipse cx="23.9" cy="125.5" rx="2.2" ry="2.3" fill="#f5f5f5" transform="rotate(0 23.9 125.5)"/>
<ellipse cx="95.0" cy="97.5" rx="2.8" ry="2.0" fill="#a5a5a5" transform="rotate(0 95.0 97.5)"/>
<ellipse cx="101.6" cy="119.6" rx="1.8" ry="1.5" fill="#8c8c8c" transform="rotate(0 101.6 119.6)"/>
<ellipse cx="39.3" cy="114.0" rx="3.2" ry="3.1" fill="#a5a5a5" transform="rotate(0 39.3 114.0)"/>
<ellipse cx="82.2" cy="130.1" rx="3.1" ry="3.2" fill="#fafafa" transform="rotate(0 82.2 130.1)"/>
<ellipse cx="70.0" cy="123.0" rx="3.2" ry="2.6" fill="#fafafa" transform="rotate(0 70.0 123.0)"/>
<ellipse cx="36.0" cy="92.7" rx="3.3" ry="3.9" fill="#f5f5f5" transform="rotate(0 36.0 92.7)"/>
<ellipse cx="38.4" cy="122.2" rx="4.0" ry="4.6" fill="#fafafa" transform="rotate(0 38.4 122.2)"/>
<ellipse cx="104.7" cy="105.3" rx="2.2" ry="2.4" fill="#ebebeb" transform="rotate(0 104.7 105.3)"/>
<ellipse cx="19.0" cy="103.2" rx="2.4" ry="2.1" fill="#f5f5f5" transform="rotate(0 19.0 103.2)"/>
<ellipse cx="83.3" cy="97.1" rx="1.9" ry="2.2" fill="#ebebeb" transform="rotate(0 83.3 97.1)"/>
<ellipse cx="25.2" cy="121.2" rx="3.8" ry="3.0" fill="#a5a5a5" transform="rotate(0 25.2 121.2)"/>
<ellipse cx="35.0" cy="117.5" rx="3.3" ry="3.4" fill="#8c8c8c" transform="rotate(0 35.0 117.5)"/>
<ellipse cx="15.3" cy="84.0" rx="3.2" ry="3.5" fill="#a5a5a5" transform="rotate(0 15.3 84.0)"/>
<ellipse cx="95.6" cy="91.2" rx="2.5" ry="2.8" fill="#f5f5f5" transform="rotate(0 95.6 91.2)"/>
<ellipse cx="121.8" cy="141.4" rx="1.9" ry="2.2" fill="#f5f5f5" transform="rotate(0 121.8 141.4)"/>
<ellipse cx="101.7" cy="108.4" rx="2.5" ry="3.0" fill="#e1e1e1" transform="rotate(0 101.7 108.4)"/>
<ellipse cx="27.3" cy="122.1" rx="3.1" ry="3.5" fill="#8c8c8c" transform="rotate(0 27.3 122.1)"/>
<ellipse cx="26.6" cy="101.6" rx="1.8" ry="1.6" fill="#fafafa" transform="rotate(0 26.6 101.6)"/>
<ellipse cx="58.3" cy="105.6" rx="3.3" ry="2.8" fill="#fafafa" transform="rotate(0 58.3 105.6)"/>
<ellipse cx="140.2" cy="84.1" rx="3.4" ry="4.0" fill="#a5a5a5" transform="rotate(0 140.2 84.1)"/>
<ellipse cx="46.0" cy="102.9" rx="2.7" ry="2.4" fill="#8c8c8c" transform="rotate(0 46.0 102.9)"/>
<ellipse cx="75.1" cy="106.2" rx="2.6" ry="2.5" fill="#e1e1e1" transform="rotate(0 75.1 106.2)"/>
<ellipse cx="68.8" cy="120.6" rx="1.6" ry="1.8" fill="#fafafa" transform="rotate(0 68.8 120.6)"/>
<ellipse cx="91.9" cy="95.7" rx="2.2" ry="2.1" fill="#a5a5a5" transform="rotate(0 91.9 95.7)"/>
<ellipse cx="71.0" cy="129.0" rx="3.8" ry="4.1" fill="#f5f5f5" transform="rotate(0 71.0 129.0)"/>
<ellipse cx="54.9" cy="132.7" rx="2.2" ry="2.5" fill="#fafafa" transform="rotate(0 54.9 132.7)"/>
<ellipse cx="73.7" cy="140.2" rx="1.7" ry="1.4" fill="#fafafa" transform="rotate(0 73.7 140.2)"/>
<ellipse cx="27.2" cy="111.5" rx="3.1" ry="2.7" fill="#f5f5f5" transform="rotate(0 27.2 111.5)"/>
<ellipse cx="57.2" cy="94.8" rx="2.1" ry="2.3" fill="#ebebeb" transform="rotate(0 57.2 94.8)"/>
<ellipse cx="35.6" cy="127.1" rx="1.7" ry="1.5" fill="#f5f5f5" transform="rotate(0 35.6 127.1)"/>
<ellipse cx="85.6" cy="140.4" rx="2.8" ry="2.6" fill="#a5a5a5" transform="rotate(0 85.6 140.4)"/>
<ellipse cx="117.1" cy="89.8" rx="3.5" ry="3.2" fill="#fafafa" transform="rotate(0 117.1 89.8)"/>
<ellipse cx="69.5" cy="94.8" rx="2.2" ry="1.8" fill="#ebebeb" transform="rotate(0 69.5 94.8)"/>
<ellipse cx="102.4" cy="93.3" rx="2.3" ry="2.1" fill="#fafafa" transform="rotate(0 102.4 93.3)"/>
<ellipse cx="114.7" cy="115.8" rx="3.8" ry="3.2" fill="#8c8c8c" transform="rotate(0 114.7 115.8)"/>
<ellipse cx="127.5" cy="137.3" rx="3.7" ry="4.0" fill="#8c8c8c" transform="rotate(0 127.5 137.3)"/>
<ellipse cx="107.9" cy="132.3" rx="2.1" ry="2.0" fill="#f5f5f5" transform="rotate(0 107.9 132.3)"/>
<ellipse cx="70.4" cy="84.6" rx="4.0" ry="4.2" fill="#e1e1e1" transform="rotate(0 70.4 84.6)"/>
<ellipse cx="14.1" cy="114.1" rx="1.8" ry="2.2" fill="#a5a5a5" transform="rotate(0 14.1 114.1)"/>
<ellipse cx="145.3" cy="104.7" rx="3.9" ry="3.6" fill="#8c8c8c" transform="rotate(0 145.3 104.7)"/>
<ellipse cx="92.8" cy="97.4" rx="3.1" ry="2.2" fill="#fafafa" transform="rotate(0 92.8 97.4)"/>
<ellipse cx="55.5" cy="92.2" rx="1.6" ry="1.9" fill="#ebebeb" transform="rotate(0 55.5 92.2)"/>
<ellipse cx="91.1" cy="131.9" rx="2.8" ry="2.2" fill="#a5a5a5" transform="rotate(0 91.1 131.9)"/>
<ellipse cx="84.6" cy="129.6" rx="3.9" ry="3.3" fill="#fafafa" transform="rotate(0 84.6 129.6)"/>
<ellipse cx="100.9" cy="86.2" rx="2.8" ry="2.5" fill="#f5f5f5" transform="rotate(0 100.9 86.2)"/>
<ellipse cx="121.5" cy="96.3" rx="2.7" ry="2.8" fill="#e1e1e1" transform="rotate(0 121.5 96.3)"/>
<ellipse cx="45.1" cy="121.9" rx="2.0" ry="1.6" fill="#f5f5f5" transform="rotate(0 45.1 121.9)"/>
<ellipse cx="110.7" cy="120.0" rx="2.5" ry="2.5" fill="#8c8c8c" transform="rotate(0 110.7 120.0)"/>
<ellipse cx="85.6" cy="110.4" rx="2.1" ry="2.5" fill="#ebebeb" transform="rotate(0 85.6 110.4)"/>
<ellipse cx="36.1" cy="132.0" rx="1.8" ry="2.1" fill="#a5a5a5" transform="rotate(0 36.1 132.0)"/>
<ellipse cx="42.2" cy="137.7" rx="3.1" ry="2.5" fill="#e1e1e1" transform="rotate(0 42.2 137.7)"/>
<ellipse cx="131.4" cy="100.2" rx="3.7" ry="2.8" fill="#e1e1e1" transform="rotate(0 131.4 100.2)"/>
<ellipse cx="50.6" cy="122.2" rx="2.2" ry="1.9" fill="#e1e1e1" transform="rotate(0 50.6 122.2)"/>
<ellipse cx="39.9" cy="131.4" rx="2.0" ry="2.2" fill="#e1e1e1" transform="rotate(0 39.9 131.4)"/>
<ellipse cx="134.1" cy="82.8" rx="3.5" ry="2.8" fill="#e1e1e1" transform="rotate(0 134.1 82.8)"/>
<ellipse cx="100.6" cy="116.5" rx="2.5" ry="2.6" fill="#e1e1e1" transform="rotate(0 100.6 116.5)"/>
<ellipse cx="58.5" cy="114.8" rx="3.4" ry="2.4" fill="#8c8c8c" transform="rotate(0 58.5 114.8)"/>
<ellipse cx="171.7" cy="18.7" rx="3.2" ry="2.9" fill="#555555" transform="rotate(0 171.7 18.7)"/>
<ellipse cx="71.0" cy="73.0" rx="2.6" ry="2.7" fill="#a5a5a5" transform="rotate(0 71.0 73.0)"/>
<ellipse cx="69.9" cy="66.8" rx="2.8" ry="2.0" fill="#b4b4b4" transform="rotate(0 69.9 66.8)"/>
<ellipse cx="65.4" cy="45.7" rx="2.8" ry="2.4" fill="#b4b4b4" transform="rotate(0 65.4 45.7)"/>
<ellipse cx="193.0" cy="27.3" rx="1.5" ry="1.3" fill="#b4b4b4" transform="rotate(0 193.0 27.3)"/>
<ellipse cx="175.3" cy="20.7" rx="2.3" ry="2.2" fill="#c8c8c8" transform="rotate(0 175.3 20.7)"/>
<ellipse cx="100.6" cy="20.0" rx="3.3" ry="3.0" fill="#c8c8c8" transform="rotate(0 100.6 20.0)"/>
<ellipse cx="174.9" cy="23.1" rx="3.1" ry="2.5" fill="#555555" transform="rotate(0 174.9 23.1)"/>
<ellipse cx="173.8" cy="56.6" rx="2.7" ry="2.7" fill="#b4b4b4" transform="rotate(0 173.8 56.6)"/>
<ellipse cx="73.6" cy="31.9" rx="1.9" ry="1.7" fill="#555555" transform="rotate(0 73.6 31.9)"/>
<ellipse cx="181.0" cy="45.2" rx="4.0" ry="3.7" fill="#969696" transform="rotate(0 181.0 45.2)"/>
<ellipse cx="59.4" cy="33.6" rx="2.9" ry="3.2" fill="#555555" transform="rotate(0 59.4 33.6)"/>
<ellipse cx="55.7" cy="29.9" rx="2.2" ry="2.2" fill="#969696" transform="rotate(0 55.7 29.9)"/>
<ellipse cx="140.6" cy="9.6" rx="3.1" ry="2.2" fill="#969696" transform="rotate(0 140.6 9.6)"/>
<ellipse cx="116.6" cy="61.5" rx="3.6" ry="3.7" fill="#c8c8c8" transform="rotate(0 116.6 61.5)"/>
<ellipse cx="58.1" cy="22.1" rx="3.2" ry="3.8" fill="#3c3c3c" transform="rotate(0 58.1 22.1)"/>
<ellipse cx="198.9" cy="53.9" rx="1.9" ry="1.5" fill="#b4b4b4" transform="rotate(0 198.9 53.9)"/>
<ellipse cx="49.5" cy="13.5" rx="3.7" ry="3.5" fill="#555555" transform="rotate(0 49.5 13.5)"/>
<ellipse cx="52.3" cy="40.6" rx="2.6" ry="2.6" fill="#a5a5a5" transform="rotate(0 52.3 40.6)"/>
<ellipse cx="168.7" cy="65.2" rx="4.0" ry="3.9" fill="#c8c8c8" transform="rotate(0 168.7 65.2)"/>
<ellipse cx="161.3" cy="16.8" rx="2.0" ry="2.2" fill="#c8c8c8" transform="rotate(0 161.3 16.8)"/>
<ellipse cx="165.5" cy="66.2" rx="2.8" ry="2.4" fill="#b4b4b4" transform="rotate(0 165.5 66.2)"/>
<ellipse cx="102.6" cy="34.8" rx="3.3" ry="2.7" fill="#555555" transform="rotate(0 102.6 34.8)"/>
<ellipse cx="131.0" cy="36.5" rx="3.9" ry="2.8" fill="#a5a5a5" transform="rotate(0 131.0 36.5)"/>
<ellipse cx="199.8" cy="16.9" rx="3.7" ry="3.8" fill="#b4b4b4" transform="rotate(0 199.8 16.9)"/>
<ellipse cx="179.0" cy="27.7" rx="3.3" ry="3.2" fill="#b4b4b4" transform="rotate(0 179.0 27.7)"/>
<ellipse cx="158.1" cy="43.9" rx="1.7" ry="1.9" fill="#969696" transform="rotate(0 158.1 43.9)"/>
<ellipse cx="82.1" cy="25.9" rx="2.6" ry="1.9" fill="#969696" transform="rotate(0 82.1 25.9)"/>
<ellipse cx="48.2" cy="74.7" rx="2.3" ry="2.8" fill="#3c3c3c" transform="rotate(0 48.2 74.7)"/>
<ellipse cx="182.1" cy="56.7" rx="3.1" ry="3.5" fill="#969696" transform="rotate(0 182.1 56.7)"/>
<ellipse cx="66.3" cy="34.5" rx="1.9" ry="1.4" fill="#a5a5a5" transform="rotate(0 66.3 34.5)"/>
<ellipse cx="161.0" cy="16.9" rx="3.8" ry="3.8" fill="#b4b4b4" transform="rotate(0 161.0 16.9)"/>
<ellipse cx="126.3" cy="25.6" rx="2.9" ry="2.3" fill="#3c3c3c" transform="rotate(0 126.3 25.6)"/>
<ellipse cx="199.3" cy="32.4" rx="2.6" ry="2.2" fill="#969696" transform="rotate(0 199.3 32.4)"/>
<ellipse cx="147.6" cy="68.5" rx="3.5" ry="2.8" fill="#a5a5a5" transform="rotate(0 147.6 68.5)"/>
<ellipse cx="140.1" cy="40.4" rx="2.3" ry="2.2" fill="#3c3c3c" transform="rotate(0 140.1 40.4)"/>
<ellipse cx="178.7" cy="20.3" rx="3.7" ry="2.9" fill="#555555" transform="rotate(0 178.7 20.3)"/>
<ellipse cx="111.7" cy="52.1" rx="2.2" ry="2.1" fill="#a5a5a5" transform="rotate(0 111.7 52.1)"/>
<ellipse cx="107.7" cy="34.0" rx="2.6" ry="2.0" fill="#c8c8c8" transform="rotate(0 107.7 34.0)"/>
<ellipse cx="171.0" cy="74.6" rx="2.1" ry="2.5" fill="#b4b4b4" transform="rotate(0 171.0 74.6)"/>
<ellipse cx="117.2" cy="56.6" rx="1.8" ry="1.8" fill="#969696" transform="rotate(0 117.2 56.6)"/>
<ellipse cx="143.7" cy="26.2" rx="2.0" ry="2.0" fill="#3c3c3c" transform="rotate(0 143.7 26.2)"/>
<ellipse cx="57.1" cy="8.4" rx="4.0" ry="3.5" fill="#3c3c3c" transform="rotate(0 57.1 8.4)"/>
<ellipse cx="188.9" cy="59.1" rx="2.9" ry="2.5" fill="#555555" transform="rotate(0 188.9 59.1)"/>
<ellipse cx="142.4" cy="70.4" rx="1.8" ry="1.5" fill="#555555" transform="rotate(0 142.4 70.4)"/>
<ellipse cx="171.4" cy="8.4" rx="3.3" ry="3.4" fill="#b4b4b4" transform="rotate(0 171.4 8.4)"/>
<ellipse cx="190.1" cy="73.9" rx="1.8" ry="1.3" fill="#a5a5a5" transform="rotate(0 190.1 73.9)"/>
<ellipse cx="127.3" cy="66.7" rx="3.5" ry="2.8" fill="#a5a5a5" transform="rotate(0 127.3 66.7)"/>
<ellipse cx="89.8" cy="69.5" rx="1.8" ry="1.5" fill="#a5a5a5" transform="rotate(0 89.8 69.5)"/>
<ellipse cx="197.3" cy="33.1" rx="3.3" ry="3.3" fill="#555555" transform="rotate(0 197.3 33.1)"/>
<ellipse cx="123.3" cy="10.2" rx="2.9" ry="3.3" fill="#b4b4b4" transform="rotate(0 123.3 10.2)"/>
<ellipse cx="135.7" cy="13.8" rx="1.8" ry="1.4" fill="#b4b4b4" transform="rotate(0 135.7 13.8)"/>
<ellipse cx="82.5" cy="41.8" rx="3.9" ry="3.9" fill="#b4b4b4" transform="rotate(0 82.5 41.8)"/>
<ellipse cx="74.8" cy="33.0" rx="3.0" ry="2.6" fill="#3c3c3c" transform="rotate(0 74.8 33.0)"/>
<ellipse cx="129.5" cy="69.9" rx="1.5" ry="1.7" fill="#a5a5a5" transform="rotate(0 129.5 69.9)"/>
<ellipse cx="92.0" cy="26.3" rx="2.3" ry="2.3" fill="#a5a5a5" transform="rotate(0 92.0 26.3)"/>
<ellipse cx="156.3" cy="62.2" rx="2.8" ry="2.4" fill="#b4b4b4" transform="rotate(0 156.3 62.2)"/>
<ellipse cx="159.5" cy="8.2" rx="1.6" ry="1.7" fill="#c8c8c8" transform="rotate(0 159.5 8.2)"/>
<ellipse cx="111.5" cy="33.1" rx="3.0" ry="2.5" fill="#969696" transform="rotate(0 111.5 33.1)"/>
<ellipse cx="97.4" cy="69.5" rx="2.6" ry="2.8" fill="#b4b4b4" transform="rotate(0 97.4 69.5)"/>
<ellipse cx="81.4" cy="12.6" rx="1.6" ry="1.2" fill="#3c3c3c" transform="rotate(0 81.4 12.6)"/>
<ellipse cx="52.0" cy="56.3" rx="2.6" ry="2.6" fill="#969696" transform="rotate(0 52.0 56.3)"/>
<ellipse cx="190.0" cy="35.0" rx="2.5" ry="2.8" fill="#c8c8c8" transform="rotate(0 190.0 35.0)"/>
<ellipse cx="190.2" cy="18.7" rx="3.7" ry="3.7" fill="#555555" transform="rotate(0 190.2 18.7)"/>
<ellipse cx="78.0" cy="71.0" rx="3.6" ry="3.6" fill="#b4b4b4" transform="rotate(0 78.0 71.0)"/>
<ellipse cx="102.1" cy="23.0" rx="1.7" ry="1.8" fill="#b4b4b4" transform="rotate(0 102.1 23.0)"/>
<ellipse cx="81.7" cy="33.4" rx="1.5" ry="1.7" fill="#969696" transform="rotate(0 81.7 33.4)"/>
<ellipse cx="126.8" cy="36.6" rx="3.5" ry="2.7" fill="#555555" transform="rotate(0 126.8 36.6)"/>
<ellipse cx="57.7" cy="37.3" rx="4.0" ry="2.8" fill="#a5a5a5" transform="rotate(0 57.7 37.3)"/>
<ellipse cx="200.7" cy="15.1" rx="3.9" ry="4.6" fill="#b4b4b4" transform="rotate(0 200.7 15.1)"/>
<ellipse cx="60.9" cy="48.5" rx="1.6" ry="1.5" fill="#969696" transform="rotate(0 60.9 48.5)"/>
<ellipse cx="164.4" cy="60.6" rx="1.8" ry="1.8" fill="#a5a5a5" transform="rotate(0 164.4 60.6)"/>
<ellipse cx="189.7" cy="57.5" rx="3.6" ry="3.1" fill="#c8c8c8" transform="rotate(0 189.7 57.5)"/>
<ellipse cx="129.1" cy="23.6" rx="3.8" ry="2.7" fill="#b4b4b4" transform="rotate(0 129.1 23.6)"/>
<ellipse cx="90.9" cy="68.6" rx="3.0" ry="2.8" fill="#a5a5a5" transform="rotate(0 90.9 68.6)"/>
<ellipse cx="152.4" cy="51.9" rx="3.0" ry="3.0" fill="#969696" transform="rotate(0 152.4 51.9)"/>
<ellipse cx="191.2" cy="68.3" rx="3.2" ry="2.8" fill="#555555" transform="rotate(0 191.2 68.3)"/>
<ellipse cx="120.7" cy="50.7" rx="2.9" ry="2.8" fill="#3c3c3c" transform="rotate(0 120.7 50.7)"/>
<ellipse cx="186.1" cy="58.9" rx="2.0" ry="1.7" fill="#3c3c3c" transform="rotate(0 186.1 58.9)"/>
<ellipse cx="176.0" cy="28.8" rx="2.5" ry="2.4" fill="#555555" transform="rotate(0 176.0 28.8)"/>
<ellipse cx="65.5" cy="69.8" rx="3.8" ry="4.1" fill="#a5a5a5" transform="rotate(0 65.5 69.8)"/>
<ellipse cx="146.1" cy="41.4" rx="2.4" ry="2.7" fill="#555555" transform="rotate(0 146.1 41.4)"/>
<ellipse cx="50.0" cy="14.0" rx="3.6" ry="2.5" fill="#b4b4b4" transform="rotate(0 50.0 14.0)"/>
<ellipse cx="75.9" cy="73.8" rx="2.7" ry="2.7" fill="#555555" transform="rotate(0 75.9 73.8)"/>
<ellipse cx="175.4" cy="36.0" rx="2.7" ry="2.9" fill="#969696" transform="rotate(0 175.4 36.0)"/>
<ellipse cx="129.6" cy="14.2" rx="4.0" ry="3.6" fill="#a5a5a5" transform="rotate(0 129.6 14.2)"/>
<ellipse cx="100.5" cy="31.2" rx="1.8" ry="2.0" fill="#3c3c3c" transform="rotate(0 100.5 31.2)"/>
<ellipse cx="176.1" cy="11.8" rx="2.0" ry="2.0" fill="#969696" transform="rotate(0 176.1 11.8)"/>
<ellipse cx="57.8" cy="25.1" rx="2.2" ry="2.3" fill="#969696" transform="rotate(0 57.8 25.1)"/>
<ellipse cx="58.7" cy="39.5" rx="3.9" ry="4.7" fill="#555555" transform="rotate(0 58.7 39.5)"/>
<ellipse cx="56.7" cy="35.5" rx="3.8" ry="2.8" fill="#a5a5a5" transform="rotate(0 56.7 35.5)"/>
<ellipse cx="120.3" cy="12.2" rx="3.1" ry="3.6" fill="#a5a5a5" transform="rotate(0 120.3 12.2)"/>
<ellipse cx="132.8" cy="14.9" rx="1.7" ry="1.2" fill="#a5a5a5" transform="rotate(0 132.8 14.9)"/>
<ellipse cx="62.9" cy="40.1" rx="3.6" ry="2.8" fill="#b4b4b4" transform="rotate(0 62.9 40.1)"/>
<ellipse cx="143.7" cy="52.7" rx="3.4" ry="2.9" fill="#b4b4b4" transform="rotate(0 143.7 52.7)"/>
<ellipse cx="174.7" cy="72.8" rx="1.6" ry="1.1" fill="#555555" transform="rotate(0 174.7 72.8)"/>
<ellipse cx="184.0" cy="11.7" rx="2.6" ry="2.4" fill="#a5a5a5" transform="rotate(0 184.0 11.7)"/>
<ellipse cx="113.3" cy="59.6" rx="1.9" ry="1.7" fill="#c8c8c8" transform="rotate(0 113.3 59.6)"/>
<ellipse cx="129.0" cy="59.5" rx="3.4" ry="3.9" fill="#555555" transform="rotate(0 129.0 59.5)"/>
<ellipse cx="189.3" cy="29.3" rx="3.6" ry="2.7" fill="#c8c8c8" transform="rotate(0 189.3 29.3)"/>
<ellipse cx="144.3" cy="39.6" rx="3.0" ry="3.1" fill="#3c3c3c" transform="rotate(0 144.3 39.6)"/>
<ellipse cx="197.7" cy="63.4" rx="2.1" ry="1.5" fill="#555555" transform="rotate(0 197.7 63.4)"/>
<ellipse cx="101.3" cy="57.9" rx="3.1" ry="3.5" fill="#c8c8c8" transform="rotate(0 101.3 57.9)"/>
<ellipse cx="89.1" cy="63.3" rx="3.9" ry="4.6" fill="#3c3c3c" transform="rotate(0 89.1 63.3)"/>
<ellipse cx="66.5" cy="65.8" rx="2.4" ry="2.6" fill="#a5a5a5" transform="rotate(0 66.5 65.8)"/>
<ellipse cx="196.4" cy="29.8" rx="3.0" ry="3.4" fill="#c8c8c8" transform="rotate(0 196.4 29.8)"/>
<ellipse cx="137.1" cy="33.1" rx="3.6" ry="2.8" fill="#c8c8c8" transform="rotate(0 137.1 33.1)"/>
<ellipse cx="169.8" cy="33.3" rx="3.0" ry="3.1" fill="#3c3c3c" transform="rotate(0 169.8 33.3)"/>
<ellipse cx="194.1" cy="36.6" rx="3.7" ry="3.9" fill="#969696" transform="rotate(0 194.1 36.6)"/>
<ellipse cx="50.1" cy="26.1" rx="1.6" ry="1.7" fill="#a5a5a5" transform="rotate(0 50.1 26.1)"/>
<ellipse cx="190.6" cy="63.9" rx="1.8" ry="1.4" fill="#969696" transform="rotate(0 190.6 63.9)"/>
<ellipse cx="111.5" cy="61.1" rx="2.6" ry="2.1" fill="#c8c8c8" transform="rotate(0 111.5 61.1)"/>
<ellipse cx="84.9" cy="34.7" rx="2.2" ry="1.9" fill="#555555" transform="rotate(0 84.9 34.7)"/>
<ellipse cx="110.2" cy="64.6" rx="2.4" ry="2.8" fill="#969696" transform="rotate(0 110.2 64.6)"/>
<ellipse cx="102.8" cy="70.7" rx="3.5" ry="4.2" fill="#555555" transform="rotate(0 102.8 70.7)"/>
<ellipse cx="112.8" cy="38.5" rx="1.8" ry="1.8" fill="#555555" transform="rotate(0 112.8 38.5)"/>
<ellipse cx="76.6" cy="29.4" rx="1.7" ry="1.5" fill="#b4b4b4" transform="rotate(0 76.6 29.4)"/>
<ellipse cx="148.5" cy="23.1" rx="3.5" ry="4.0" fill="#a5a5a5" transform="rotate(0 148.5 23.1)"/>
<ellipse cx="115.2" cy="55.3" rx="1.7" ry="1.7" fill="#c8c8c8" transform="rotate(0 115.2 55.3)"/>
<ellipse cx="57.9" cy="71.8" rx="3.7" ry="3.4" fill="#a5a5a5" transform="rotate(0 57.9 71.8)"/>
<ellipse cx="146.4" cy="36.5" rx="2.5" ry="2.8" fill="#b4b4b4" transform="rotate(0 146.4 36.5)"/>
<ellipse cx="52.5" cy="71.6" rx="2.1" ry="2.1" fill="#c8c8c8" transform="rotate(0 52.5 71.6)"/>
<ellipse cx="98.9" cy="72.3" rx="2.2" ry="2.1" fill="#a5a5a5" transform="rotate(0 98.9 72.3)"/>
<ellipse cx="92.1" cy="66.5" rx="3.4" ry="2.6" fill="#b4b4b4" transform="rotate(0 92.1 66.5)"/>
<ellipse cx="64.1" cy="61.6" rx="2.9" ry="3.4" fill="#555555" transform="rotate(0 64.1 61.6)"/>
<ellipse cx="190.1" cy="19.9" rx="3.4" ry="3.1" fill="#3c3c3c" transform="rotate(0 190.1 19.9)"/>
<ellipse cx="145.6" cy="66.1" rx="2.8" ry="2.3" fill="#969696" transform="rotate(0 145.6 66.1)"/>
<ellipse cx="157.9" cy="18.8" rx="2.7" ry="3.0" fill="#555555" transform="rotate(0 157.9 18.8)"/>
<ellipse cx="88.7" cy="69.6" rx="2.8" ry="2.4" fill="#b4b4b4" transform="rotate(0 88.7 69.6)"/>
<ellipse cx="155.2" cy="66.2" rx="2.9" ry="3.5" fill="#555555" transform="rotate(0 155.2 66.2)"/>
</g>
</svg>
</svg>
</body></html>
